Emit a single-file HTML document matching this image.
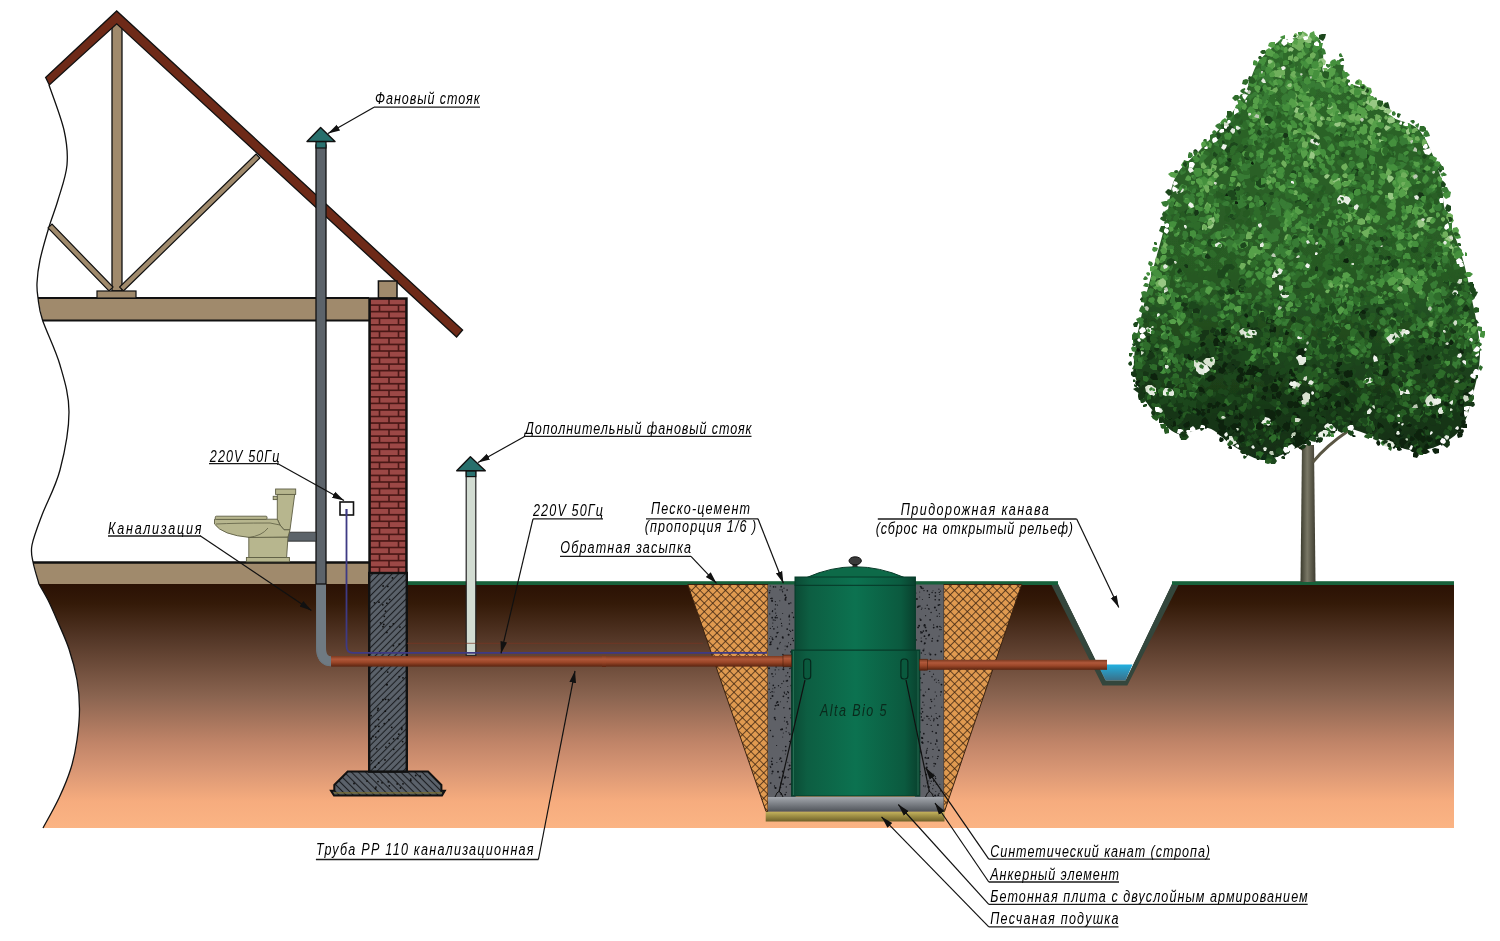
<!DOCTYPE html><html><head><meta charset="utf-8"><style>html,body{margin:0;padding:0;background:#fff;width:1500px;height:941px;overflow:hidden}svg{display:block;will-change:transform}text{font-family:"Liberation Sans",sans-serif;font-style:italic}</style></head><body>
<svg width="1500" height="941" viewBox="0 0 1500 941">
<defs>
<linearGradient id="soil" x1="0" y1="584" x2="0" y2="828" gradientUnits="userSpaceOnUse"><stop offset="0" stop-color="#2a1104"/><stop offset="0.08" stop-color="#341a08"/><stop offset="0.23" stop-color="#553828"/><stop offset="0.46" stop-color="#8a6450"/><stop offset="0.65" stop-color="#c08468"/><stop offset="0.76" stop-color="#d89674"/><stop offset="0.89" stop-color="#f6ac7e"/><stop offset="1" stop-color="#fbb484"/></linearGradient>
<pattern id="xhatch" width="6" height="6" patternUnits="userSpaceOnUse" patternTransform="rotate(45)"><rect width="6" height="6" fill="#e09a50"/><path d="M0 0H6M0 0V6" stroke="#3a2210" stroke-width="1.5"/></pattern>
<pattern id="fhatch" width="4.6" height="4.6" patternUnits="userSpaceOnUse" patternTransform="rotate(-45)"><rect width="4.6" height="4.6" fill="#5b626b"/><path d="M0 2.3H4.6" stroke="#1c1e22" stroke-width="1.1"/></pattern><pattern id="fhatch2" width="5" height="5" patternUnits="userSpaceOnUse" patternTransform="rotate(45)"><rect width="5" height="5" fill="#5b626b"/><path d="M0 2.5H5" stroke="#1c1e22" stroke-width="1.1"/></pattern>
<linearGradient id="tankg" x1="0" y1="0" x2="1" y2="0"><stop offset="0" stop-color="#0b4a34"/><stop offset="0.12" stop-color="#0d5e42"/><stop offset="0.5" stop-color="#0c7250"/><stop offset="0.88" stop-color="#0b5a3f"/><stop offset="1" stop-color="#09402d"/></linearGradient>
<linearGradient id="pipeg" x1="0" y1="0" x2="0" y2="1"><stop offset="0" stop-color="#7a3a20"/><stop offset="0.3" stop-color="#b0583a"/><stop offset="0.6" stop-color="#9a4628"/><stop offset="1" stop-color="#5a2410"/></linearGradient>
<linearGradient id="plateg" x1="0" y1="0" x2="0" y2="1"><stop offset="0" stop-color="#a4a8ae"/><stop offset="1" stop-color="#4e5258"/></linearGradient>
<linearGradient id="sandg" x1="0" y1="0" x2="0" y2="1"><stop offset="0" stop-color="#c4b25c"/><stop offset="1" stop-color="#6e6028"/></linearGradient>
<linearGradient id="waterg" x1="0" y1="0" x2="0" y2="1"><stop offset="0" stop-color="#22b0e0"/><stop offset="1" stop-color="#3a7088"/></linearGradient>
<linearGradient id="trunkg" x1="0" y1="0" x2="1" y2="0"><stop offset="0" stop-color="#3a3a2c"/><stop offset="0.45" stop-color="#7a7866"/><stop offset="1" stop-color="#3e3c30"/></linearGradient>
<marker id="arr" viewBox="0 0 10 10" refX="10" refY="5" markerWidth="12" markerHeight="12" markerUnits="userSpaceOnUse" orient="auto"><path d="M0 2.2L10 5L0 7.8z" fill="#111"/></marker>
</defs>
<path d="M 39 584 L 1053 584 L 1103.5 684.6 L 1126.3 684.6 L 1177.4 584 L 1454 584 L 1454 828 L 43 828  C 45.7 823.0 54.3 808.0 59.0 798.0 C 63.7 788.0 68.0 777.7 71.0 768.0 C 74.0 758.3 75.6 749.8 77.0 740.0 C 78.4 730.2 79.5 719.0 79.5 709.0 C 79.5 699.0 78.8 690.0 77.0 680.0 C 75.2 670.0 72.3 659.0 69.0 649.0 C 65.7 639.0 60.5 628.2 57.0 620.0 C 53.5 611.8 51.0 606.0 48.0 600.0 C 45.0 594.0 40.5 586.7 39.0 584.0 Z" fill="url(#soil)"/>
<path d="M 1053 584 L 1103.5 684.6 L 1126.3 684.6 L 1177.4 584 L 1172 584 L 1125.6 680.5 L 1105.6 680.5 L 1058 584 Z" fill="#3b4c44"/>
<path d="M 1058 582 L 1105.6 680.5 L 1125.6 680.5 L 1172 582 Z" fill="#fff"/>
<path d="M 1097.5 664.6 L 1132.5 664.6 L 1125.6 680.5 L 1105.6 680.5 Z" fill="url(#waterg)"/>
<path d="M 1102.5 685.5 L 1127.3 685.5 L 1179 584 L 1172 584 L 1125.6 680.5 L 1105.6 680.5 L 1058 584 L 1051 584 Z" fill="#34463c"/>
<rect x="407" y="581.2" width="651" height="3.8" fill="#17603a"/>
<rect x="1172" y="581.2" width="282" height="3.8" fill="#17603a"/>
<path d="M 687.7 584.5 L 768 584.5 L 768 811.5 L 766 811.5 Z" fill="url(#xhatch)" stroke="#3a2210" stroke-width="1"/>
<path d="M 943.6 584.5 L 1021.6 584.5 L 944.5 811.5 L 943.6 811.5 Z" fill="url(#xhatch)" stroke="#3a2210" stroke-width="1"/>
<rect x="768" y="584.5" width="27.6" height="213" fill="#5f6167"/>
<rect x="915" y="584.5" width="28.6" height="213" fill="#5f6167"/>
<g fill="#15161a"><circle cx="777.1" cy="617.7" r="0.8"/><circle cx="770.8" cy="698.5" r="0.7"/><circle cx="770.4" cy="692.6" r="0.5"/><circle cx="779.8" cy="600.7" r="0.5"/><circle cx="779.6" cy="759.6" r="0.5"/><circle cx="774.6" cy="717.8" r="1.0"/><circle cx="783.4" cy="669.3" r="1.0"/><circle cx="770.2" cy="766.3" r="0.6"/><circle cx="772.6" cy="610.7" r="0.6"/><circle cx="789.4" cy="624.0" r="0.8"/><circle cx="785.0" cy="664.2" r="0.8"/><circle cx="770.6" cy="598.5" r="0.6"/><circle cx="786.0" cy="675.8" r="0.6"/><circle cx="783.6" cy="681.2" r="0.6"/><circle cx="788.9" cy="732.8" r="0.6"/><circle cx="783.4" cy="696.3" r="0.9"/><circle cx="787.2" cy="646.5" r="1.0"/><circle cx="772.0" cy="673.8" r="0.9"/><circle cx="772.8" cy="688.7" r="0.5"/><circle cx="785.7" cy="746.6" r="0.8"/><circle cx="790.9" cy="651.9" r="0.8"/><circle cx="783.9" cy="707.8" r="0.7"/><circle cx="790.0" cy="784.4" r="0.7"/><circle cx="785.6" cy="598.7" r="0.8"/><circle cx="785.2" cy="794.6" r="0.9"/><circle cx="776.1" cy="667.0" r="0.8"/><circle cx="769.6" cy="683.0" r="0.5"/><circle cx="771.9" cy="598.4" r="0.9"/><circle cx="772.2" cy="638.0" r="0.7"/><circle cx="790.8" cy="602.9" r="0.7"/><circle cx="782.7" cy="771.5" r="0.9"/><circle cx="790.6" cy="644.5" r="0.7"/><circle cx="778.0" cy="771.7" r="1.0"/><circle cx="772.8" cy="623.0" r="0.6"/><circle cx="774.8" cy="687.8" r="0.8"/><circle cx="775.6" cy="586.9" r="0.7"/><circle cx="778.2" cy="704.9" r="1.0"/><circle cx="786.3" cy="694.3" r="0.8"/><circle cx="785.9" cy="597.3" r="0.9"/><circle cx="788.5" cy="769.6" r="0.9"/><circle cx="778.8" cy="669.8" r="0.5"/><circle cx="784.9" cy="599.1" r="0.5"/><circle cx="774.2" cy="620.1" r="0.6"/><circle cx="770.3" cy="586.0" r="0.5"/><circle cx="771.5" cy="662.4" r="0.5"/><circle cx="790.9" cy="715.0" r="0.5"/><circle cx="775.3" cy="659.0" r="0.7"/><circle cx="772.1" cy="764.3" r="1.0"/><circle cx="780.6" cy="687.6" r="0.5"/><circle cx="771.6" cy="658.0" r="0.6"/><circle cx="789.7" cy="619.9" r="0.5"/><circle cx="792.8" cy="696.9" r="0.5"/><circle cx="782.6" cy="591.7" r="0.7"/><circle cx="793.5" cy="767.3" r="0.8"/><circle cx="775.5" cy="663.0" r="0.5"/><circle cx="788.3" cy="697.8" r="0.9"/><circle cx="777.2" cy="632.8" r="0.9"/><circle cx="793.6" cy="765.1" r="0.9"/><circle cx="789.5" cy="741.4" r="0.6"/><circle cx="781.9" cy="660.7" r="0.5"/><circle cx="769.7" cy="644.7" r="0.6"/><circle cx="786.3" cy="786.9" r="0.7"/><circle cx="792.4" cy="793.5" r="1.0"/><circle cx="778.1" cy="632.3" r="0.6"/><circle cx="773.9" cy="628.9" r="0.8"/><circle cx="791.5" cy="762.5" r="0.7"/><circle cx="785.3" cy="753.9" r="0.5"/><circle cx="785.5" cy="777.1" r="0.9"/><circle cx="787.8" cy="686.4" r="0.5"/><circle cx="788.7" cy="655.8" r="0.9"/><circle cx="793.3" cy="669.1" r="0.7"/><circle cx="792.7" cy="738.2" r="0.5"/><circle cx="772.2" cy="617.7" r="0.9"/><circle cx="789.2" cy="616.7" r="0.9"/><circle cx="793.5" cy="724.0" r="0.6"/><circle cx="782.7" cy="613.5" r="0.5"/><circle cx="793.3" cy="722.4" r="0.7"/><circle cx="792.3" cy="677.1" r="0.9"/><circle cx="789.7" cy="630.3" r="0.6"/><circle cx="776.3" cy="636.5" r="0.8"/><circle cx="775.5" cy="674.0" r="0.5"/><circle cx="791.8" cy="660.3" r="0.7"/><circle cx="783.6" cy="775.9" r="0.7"/><circle cx="791.9" cy="691.3" r="0.7"/><circle cx="782.1" cy="589.9" r="0.7"/><circle cx="773.6" cy="586.8" r="0.9"/><circle cx="773.3" cy="685.4" r="0.8"/><circle cx="782.9" cy="654.5" r="0.7"/><circle cx="782.9" cy="750.7" r="0.5"/><circle cx="783.0" cy="638.2" r="0.6"/><circle cx="788.3" cy="692.6" r="0.8"/><circle cx="788.0" cy="777.6" r="0.7"/><circle cx="784.3" cy="692.2" r="0.7"/><circle cx="786.3" cy="681.0" r="0.7"/><circle cx="781.0" cy="783.7" r="0.8"/><circle cx="790.9" cy="783.9" r="0.6"/><circle cx="783.0" cy="784.1" r="0.9"/><circle cx="772.4" cy="611.5" r="0.7"/><circle cx="770.8" cy="636.5" r="0.5"/><circle cx="785.7" cy="750.6" r="0.9"/><circle cx="772.9" cy="736.4" r="0.8"/><circle cx="772.6" cy="771.4" r="1.0"/><circle cx="774.5" cy="786.0" r="0.7"/><circle cx="781.2" cy="793.9" r="0.9"/><circle cx="773.0" cy="676.6" r="0.7"/><circle cx="777.5" cy="627.1" r="0.6"/><circle cx="787.1" cy="590.1" r="0.8"/><circle cx="780.0" cy="589.8" r="0.6"/><circle cx="784.6" cy="693.6" r="0.5"/><circle cx="793.6" cy="751.6" r="1.0"/><circle cx="771.6" cy="641.8" r="0.5"/><circle cx="788.5" cy="642.8" r="0.5"/><circle cx="779.6" cy="777.4" r="0.9"/><circle cx="775.5" cy="617.4" r="1.0"/><circle cx="783.3" cy="733.1" r="0.5"/><circle cx="770.4" cy="730.5" r="0.7"/><circle cx="770.8" cy="783.1" r="0.8"/><circle cx="789.0" cy="603.6" r="0.9"/><circle cx="770.7" cy="767.2" r="0.7"/><circle cx="777.5" cy="702.1" r="1.0"/><circle cx="775.7" cy="613.1" r="0.7"/><circle cx="775.0" cy="609.0" r="0.5"/><circle cx="770.3" cy="628.4" r="0.6"/><circle cx="776.6" cy="745.5" r="0.6"/><circle cx="781.5" cy="623.4" r="0.6"/><circle cx="769.5" cy="638.6" r="0.5"/><circle cx="787.3" cy="701.7" r="0.6"/><circle cx="780.9" cy="782.3" r="0.5"/><circle cx="789.5" cy="676.8" r="0.7"/><circle cx="789.9" cy="668.5" r="0.7"/><circle cx="786.2" cy="792.3" r="0.6"/><circle cx="789.8" cy="734.4" r="0.8"/><circle cx="779.1" cy="659.0" r="0.5"/><circle cx="772.2" cy="600.9" r="0.9"/><circle cx="775.4" cy="620.3" r="0.5"/><circle cx="790.0" cy="768.8" r="0.8"/><circle cx="776.0" cy="636.9" r="0.6"/><circle cx="780.5" cy="619.1" r="0.7"/><circle cx="775.6" cy="788.0" r="1.0"/><circle cx="782.7" cy="637.3" r="1.0"/><circle cx="776.7" cy="660.9" r="0.5"/><circle cx="778.5" cy="685.7" r="0.7"/><circle cx="774.0" cy="692.0" r="0.5"/><circle cx="775.6" cy="604.8" r="0.7"/><circle cx="770.0" cy="590.7" r="0.6"/><circle cx="774.8" cy="709.0" r="0.7"/><circle cx="787.8" cy="724.1" r="0.8"/><circle cx="791.0" cy="667.8" r="0.6"/><circle cx="793.6" cy="617.4" r="0.8"/><circle cx="785.1" cy="595.2" r="0.9"/><circle cx="791.3" cy="717.7" r="0.9"/><circle cx="789.3" cy="615.3" r="0.7"/><circle cx="781.6" cy="761.3" r="0.9"/><circle cx="789.7" cy="708.7" r="0.9"/><circle cx="786.1" cy="731.6" r="0.6"/><circle cx="769.8" cy="613.9" r="0.6"/><circle cx="771.6" cy="761.5" r="0.8"/><circle cx="784.7" cy="717.5" r="0.8"/><circle cx="781.2" cy="586.7" r="0.9"/><circle cx="787.7" cy="691.6" r="0.7"/><circle cx="785.5" cy="599.9" r="0.9"/><circle cx="775.3" cy="601.6" r="0.6"/><circle cx="787.2" cy="629.1" r="0.9"/><circle cx="793.4" cy="689.7" r="0.7"/><circle cx="781.0" cy="729.6" r="0.9"/><circle cx="784.4" cy="721.0" r="0.5"/><circle cx="772.7" cy="639.3" r="0.9"/><circle cx="776.6" cy="705.2" r="0.5"/><circle cx="770.5" cy="642.4" r="0.8"/><circle cx="786.3" cy="727.9" r="0.6"/><circle cx="781.9" cy="683.6" r="0.7"/><circle cx="772.0" cy="773.7" r="0.6"/><circle cx="793.5" cy="782.6" r="0.5"/><circle cx="780.5" cy="758.2" r="1.0"/><circle cx="780.2" cy="642.4" r="0.6"/><circle cx="792.6" cy="630.2" r="0.8"/><circle cx="772.5" cy="696.1" r="1.0"/><circle cx="772.3" cy="758.2" r="0.7"/><circle cx="791.2" cy="733.7" r="0.6"/><circle cx="791.4" cy="688.1" r="0.5"/><circle cx="769.1" cy="689.3" r="0.7"/><circle cx="776.5" cy="615.5" r="0.6"/><circle cx="776.9" cy="762.4" r="0.5"/><circle cx="787.8" cy="762.2" r="0.5"/><circle cx="792.2" cy="735.7" r="0.9"/><circle cx="776.2" cy="664.2" r="0.7"/><circle cx="794.0" cy="709.7" r="0.6"/><circle cx="779.7" cy="643.8" r="0.5"/><circle cx="771.5" cy="761.3" r="0.6"/><circle cx="792.4" cy="638.4" r="0.6"/><circle cx="781.8" cy="625.9" r="0.7"/><circle cx="792.9" cy="771.7" r="0.9"/><circle cx="784.8" cy="777.8" r="1.0"/><circle cx="782.7" cy="737.1" r="0.5"/><circle cx="787.3" cy="680.7" r="0.9"/><circle cx="785.1" cy="646.1" r="0.5"/><circle cx="792.2" cy="612.7" r="0.7"/><circle cx="777.6" cy="648.5" r="0.9"/><circle cx="793.4" cy="640.6" r="0.8"/><circle cx="776.5" cy="703.0" r="0.7"/><circle cx="773.2" cy="619.9" r="0.6"/><circle cx="791.6" cy="690.4" r="0.6"/><circle cx="791.7" cy="795.3" r="0.7"/><circle cx="772.5" cy="626.4" r="0.5"/><circle cx="777.5" cy="605.1" r="0.6"/><circle cx="775.5" cy="705.6" r="0.9"/><circle cx="787.7" cy="672.7" r="0.7"/><circle cx="782.1" cy="665.1" r="0.6"/><circle cx="770.6" cy="644.3" r="1.0"/><circle cx="772.1" cy="691.7" r="0.8"/><circle cx="790.6" cy="631.4" r="0.6"/><circle cx="775.2" cy="669.9" r="0.7"/><circle cx="792.8" cy="764.2" r="0.9"/><circle cx="769.5" cy="592.8" r="0.8"/><circle cx="791.4" cy="685.4" r="0.8"/><circle cx="769.0" cy="668.2" r="1.0"/><circle cx="789.6" cy="765.6" r="1.0"/><circle cx="775.2" cy="608.9" r="0.5"/><circle cx="782.1" cy="729.2" r="1.0"/><circle cx="787.0" cy="721.9" r="0.9"/><circle cx="780.4" cy="701.8" r="0.5"/><circle cx="788.6" cy="634.8" r="1.0"/><circle cx="785.1" cy="649.8" r="0.5"/><circle cx="775.3" cy="719.6" r="0.8"/><circle cx="771.8" cy="600.8" r="0.7"/><circle cx="783.6" cy="667.5" r="0.6"/><circle cx="784.0" cy="588.2" r="0.6"/><circle cx="780.5" cy="787.4" r="0.8"/><circle cx="791.1" cy="685.8" r="0.6"/><circle cx="775.2" cy="787.7" r="0.8"/><circle cx="924.0" cy="590.6" r="0.7"/><circle cx="933.5" cy="674.2" r="0.6"/><circle cx="933.4" cy="780.3" r="0.6"/><circle cx="916.9" cy="657.0" r="0.7"/><circle cx="933.7" cy="627.6" r="0.9"/><circle cx="935.2" cy="692.0" r="0.6"/><circle cx="941.2" cy="651.5" r="0.9"/><circle cx="922.0" cy="632.5" r="0.9"/><circle cx="923.7" cy="785.9" r="0.7"/><circle cx="920.9" cy="632.9" r="0.7"/><circle cx="933.3" cy="785.2" r="0.5"/><circle cx="926.2" cy="630.7" r="1.0"/><circle cx="919.7" cy="596.9" r="0.5"/><circle cx="926.2" cy="774.6" r="0.9"/><circle cx="935.1" cy="795.5" r="1.0"/><circle cx="924.6" cy="625.0" r="1.0"/><circle cx="935.4" cy="592.7" r="0.8"/><circle cx="925.8" cy="664.5" r="0.6"/><circle cx="920.4" cy="586.6" r="0.6"/><circle cx="925.1" cy="786.7" r="0.5"/><circle cx="941.1" cy="629.6" r="0.6"/><circle cx="937.4" cy="758.6" r="0.7"/><circle cx="917.3" cy="685.4" r="0.7"/><circle cx="939.9" cy="626.5" r="0.7"/><circle cx="939.3" cy="592.4" r="0.7"/><circle cx="937.1" cy="747.0" r="0.5"/><circle cx="916.9" cy="599.1" r="1.0"/><circle cx="922.7" cy="742.9" r="0.9"/><circle cx="924.8" cy="643.2" r="1.0"/><circle cx="932.0" cy="641.1" r="0.8"/><circle cx="924.2" cy="643.9" r="0.5"/><circle cx="935.6" cy="778.5" r="0.8"/><circle cx="940.5" cy="591.1" r="0.6"/><circle cx="928.4" cy="786.9" r="1.0"/><circle cx="926.0" cy="638.7" r="0.7"/><circle cx="928.8" cy="780.9" r="0.6"/><circle cx="936.9" cy="741.1" r="0.9"/><circle cx="936.1" cy="713.5" r="0.6"/><circle cx="924.3" cy="662.0" r="0.9"/><circle cx="918.1" cy="627.4" r="0.9"/><circle cx="922.4" cy="599.6" r="0.5"/><circle cx="930.4" cy="654.4" r="1.0"/><circle cx="939.0" cy="793.4" r="0.6"/><circle cx="918.2" cy="606.2" r="0.7"/><circle cx="934.5" cy="679.9" r="0.6"/><circle cx="926.8" cy="716.3" r="0.8"/><circle cx="935.4" cy="763.9" r="0.8"/><circle cx="919.2" cy="762.6" r="0.6"/><circle cx="930.7" cy="664.3" r="0.9"/><circle cx="921.2" cy="638.0" r="0.6"/><circle cx="920.0" cy="771.7" r="0.8"/><circle cx="924.5" cy="669.2" r="1.0"/><circle cx="929.2" cy="634.6" r="0.9"/><circle cx="933.0" cy="794.1" r="0.5"/><circle cx="928.3" cy="758.0" r="0.9"/><circle cx="939.8" cy="594.5" r="0.6"/><circle cx="919.1" cy="625.8" r="1.0"/><circle cx="931.2" cy="781.3" r="0.7"/><circle cx="938.5" cy="680.3" r="0.6"/><circle cx="936.2" cy="784.6" r="0.5"/><circle cx="931.5" cy="716.2" r="0.6"/><circle cx="925.6" cy="615.7" r="0.6"/><circle cx="922.6" cy="711.9" r="0.8"/><circle cx="921.3" cy="588.4" r="0.6"/><circle cx="933.6" cy="624.9" r="0.6"/><circle cx="921.3" cy="753.0" r="0.8"/><circle cx="917.6" cy="607.3" r="0.7"/><circle cx="930.3" cy="720.2" r="0.5"/><circle cx="920.3" cy="732.0" r="0.7"/><circle cx="923.4" cy="650.6" r="1.0"/><circle cx="924.1" cy="705.0" r="0.6"/><circle cx="926.8" cy="767.5" r="1.0"/><circle cx="925.5" cy="627.4" r="0.9"/><circle cx="921.3" cy="587.2" r="0.9"/><circle cx="927.0" cy="758.3" r="0.7"/><circle cx="939.0" cy="682.8" r="0.5"/><circle cx="916.4" cy="701.8" r="0.8"/><circle cx="939.7" cy="604.7" r="0.8"/><circle cx="925.6" cy="691.9" r="0.5"/><circle cx="923.4" cy="695.4" r="1.0"/><circle cx="918.8" cy="689.0" r="0.9"/><circle cx="941.1" cy="627.4" r="0.5"/><circle cx="940.5" cy="790.9" r="0.7"/><circle cx="917.4" cy="780.5" r="0.7"/><circle cx="939.5" cy="716.3" r="0.9"/><circle cx="920.2" cy="751.0" r="0.6"/><circle cx="926.5" cy="763.7" r="0.9"/><circle cx="920.8" cy="631.8" r="0.7"/><circle cx="929.5" cy="666.6" r="0.5"/><circle cx="922.4" cy="738.2" r="0.9"/><circle cx="917.1" cy="704.1" r="0.9"/><circle cx="917.0" cy="762.0" r="0.5"/><circle cx="931.6" cy="701.5" r="0.8"/><circle cx="924.0" cy="674.2" r="0.8"/><circle cx="927.1" cy="724.4" r="0.7"/><circle cx="927.4" cy="590.9" r="0.8"/><circle cx="928.7" cy="635.4" r="0.9"/><circle cx="936.3" cy="682.2" r="0.5"/><circle cx="928.3" cy="608.5" r="0.5"/><circle cx="927.2" cy="605.3" r="0.7"/><circle cx="929.3" cy="594.6" r="0.8"/><circle cx="918.1" cy="740.0" r="0.9"/><circle cx="929.3" cy="597.4" r="0.7"/><circle cx="925.8" cy="785.7" r="0.5"/><circle cx="938.3" cy="795.2" r="0.9"/><circle cx="937.2" cy="626.7" r="1.0"/><circle cx="928.8" cy="786.9" r="1.0"/><circle cx="920.3" cy="751.6" r="1.0"/><circle cx="917.7" cy="659.7" r="0.9"/><circle cx="920.1" cy="774.3" r="0.6"/><circle cx="937.2" cy="616.2" r="0.7"/><circle cx="939.9" cy="629.7" r="0.6"/><circle cx="929.2" cy="653.0" r="0.5"/><circle cx="920.7" cy="619.9" r="1.0"/><circle cx="933.7" cy="774.0" r="0.5"/><circle cx="936.4" cy="610.2" r="0.7"/><circle cx="932.5" cy="661.6" r="0.9"/><circle cx="930.4" cy="707.8" r="0.9"/><circle cx="918.7" cy="794.5" r="0.8"/><circle cx="926.3" cy="753.5" r="0.6"/><circle cx="941.8" cy="707.2" r="0.6"/><circle cx="935.9" cy="678.9" r="0.5"/><circle cx="935.3" cy="596.1" r="0.9"/><circle cx="922.6" cy="720.2" r="1.0"/><circle cx="931.2" cy="725.4" r="0.6"/><circle cx="916.0" cy="593.1" r="0.5"/><circle cx="932.0" cy="676.8" r="0.7"/><circle cx="939.3" cy="613.7" r="0.6"/><circle cx="933.0" cy="590.7" r="0.5"/><circle cx="925.2" cy="608.3" r="0.6"/><circle cx="921.8" cy="708.6" r="0.8"/><circle cx="921.3" cy="717.0" r="0.7"/><circle cx="919.5" cy="782.7" r="0.6"/><circle cx="919.9" cy="606.1" r="0.8"/><circle cx="938.7" cy="750.3" r="0.7"/><circle cx="922.9" cy="588.4" r="0.8"/><circle cx="930.6" cy="659.6" r="0.8"/><circle cx="927.5" cy="782.8" r="0.9"/><circle cx="922.5" cy="775.7" r="0.5"/><circle cx="929.8" cy="671.3" r="0.6"/><circle cx="917.5" cy="749.6" r="0.5"/><circle cx="930.3" cy="783.6" r="0.5"/><circle cx="921.2" cy="713.7" r="0.7"/><circle cx="932.7" cy="756.8" r="0.5"/><circle cx="924.0" cy="649.1" r="0.5"/><circle cx="939.1" cy="750.4" r="0.8"/><circle cx="916.2" cy="763.3" r="0.9"/><circle cx="928.1" cy="741.8" r="0.7"/><circle cx="921.9" cy="608.1" r="0.6"/><circle cx="917.0" cy="656.5" r="0.9"/><circle cx="934.1" cy="763.5" r="0.8"/><circle cx="922.9" cy="702.3" r="0.7"/><circle cx="936.5" cy="695.9" r="0.6"/><circle cx="932.7" cy="788.7" r="0.6"/><circle cx="938.9" cy="589.2" r="0.6"/><circle cx="922.1" cy="742.2" r="1.0"/><circle cx="935.4" cy="654.6" r="0.9"/><circle cx="924.5" cy="636.2" r="0.9"/><circle cx="932.4" cy="731.5" r="0.8"/><circle cx="941.5" cy="684.6" r="0.9"/><circle cx="934.1" cy="766.1" r="0.7"/><circle cx="934.8" cy="705.8" r="0.6"/><circle cx="921.5" cy="716.8" r="0.5"/><circle cx="939.7" cy="616.4" r="0.5"/><circle cx="918.8" cy="781.1" r="0.6"/><circle cx="919.7" cy="592.0" r="0.5"/><circle cx="934.0" cy="719.1" r="0.8"/><circle cx="935.2" cy="599.8" r="0.8"/><circle cx="925.4" cy="757.7" r="0.9"/><circle cx="939.2" cy="599.8" r="0.9"/><circle cx="939.8" cy="784.3" r="0.5"/><circle cx="921.3" cy="609.5" r="0.5"/><circle cx="938.0" cy="756.5" r="0.8"/><circle cx="937.5" cy="718.6" r="0.6"/><circle cx="918.6" cy="606.6" r="0.9"/><circle cx="921.3" cy="653.0" r="0.7"/><circle cx="916.5" cy="639.9" r="0.6"/><circle cx="934.6" cy="663.3" r="0.6"/><circle cx="941.1" cy="691.8" r="0.9"/><circle cx="932.1" cy="592.5" r="0.7"/><circle cx="927.3" cy="748.3" r="0.6"/><circle cx="934.3" cy="699.0" r="0.6"/><circle cx="938.4" cy="605.1" r="0.9"/><circle cx="920.4" cy="586.3" r="0.6"/><circle cx="935.8" cy="791.4" r="0.5"/><circle cx="928.8" cy="689.2" r="0.9"/><circle cx="920.8" cy="689.9" r="0.6"/><circle cx="937.6" cy="640.7" r="1.0"/><circle cx="923.4" cy="631.1" r="0.8"/><circle cx="929.0" cy="609.1" r="0.8"/><circle cx="918.1" cy="751.5" r="0.8"/><circle cx="936.5" cy="717.9" r="0.6"/><circle cx="926.4" cy="668.9" r="0.9"/><circle cx="918.2" cy="772.6" r="0.5"/><circle cx="921.4" cy="641.3" r="0.9"/><circle cx="929.0" cy="665.7" r="0.9"/><circle cx="922.1" cy="682.8" r="0.7"/><circle cx="935.6" cy="744.1" r="0.8"/><circle cx="925.1" cy="654.6" r="0.5"/><circle cx="937.9" cy="725.0" r="0.9"/><circle cx="920.4" cy="678.1" r="0.9"/><circle cx="931.1" cy="612.5" r="0.7"/><circle cx="939.0" cy="636.0" r="0.6"/><circle cx="923.8" cy="733.7" r="0.9"/><circle cx="920.0" cy="618.8" r="0.6"/><circle cx="924.5" cy="695.7" r="0.5"/><circle cx="924.5" cy="625.7" r="1.0"/><circle cx="934.9" cy="607.4" r="1.0"/><circle cx="918.6" cy="666.7" r="1.0"/><circle cx="936.7" cy="740.0" r="0.7"/><circle cx="921.1" cy="720.0" r="0.5"/><circle cx="921.4" cy="667.6" r="0.5"/><circle cx="926.4" cy="752.1" r="0.8"/><circle cx="929.0" cy="718.8" r="0.7"/><circle cx="919.7" cy="712.8" r="0.7"/><circle cx="935.3" cy="776.7" r="0.7"/><circle cx="930.9" cy="743.3" r="0.7"/><circle cx="921.9" cy="737.7" r="0.9"/><circle cx="936.1" cy="733.0" r="0.9"/><circle cx="933.7" cy="720.7" r="0.7"/><circle cx="924.1" cy="717.9" r="0.5"/><circle cx="926.9" cy="750.3" r="0.8"/><circle cx="932.4" cy="638.5" r="0.7"/><circle cx="927.8" cy="716.5" r="0.7"/><circle cx="933.6" cy="781.3" r="0.6"/><circle cx="933.0" cy="749.4" r="0.7"/><circle cx="928.7" cy="790.7" r="0.5"/><circle cx="930.1" cy="619.8" r="0.9"/><circle cx="940.5" cy="695.0" r="0.5"/><circle cx="930.9" cy="699.6" r="0.8"/></g>
<rect x="768" y="797" width="175.6" height="14.8" fill="url(#plateg)"/>
<rect x="765.7" y="811.8" width="178.8" height="9.7" fill="url(#sandg)"/>
<rect x="791.6" y="650" width="128.2" height="146" fill="url(#tankg)" stroke="#073a28" stroke-width="1"/>
<path d="M 793.5 651 V 795 M 918 651 V 795" stroke="#3a8a6a" stroke-width="0.8" opacity="0.7"/>
<rect x="795" y="585" width="120.4" height="65" fill="url(#tankg)" stroke="#073a28" stroke-width="1"/>
<path d="M 806.8 577.5 Q 855 556 904.3 577.5 Z" fill="#0d6a48" stroke="#073a28" stroke-width="1"/>
<rect x="795" y="577" width="120.4" height="8.3" fill="url(#tankg)" stroke="#073a28" stroke-width="1"/>
<rect x="852.5" y="562" width="5" height="5" fill="#2a2a2a"/>
<ellipse cx="855.2" cy="560.8" rx="6.2" ry="4" fill="#3a3a3a" stroke="#111" stroke-width="1"/>
<text transform="translate(820 715.7) scale(0.74 1)" font-size="17" fill="#0a2a1c" textLength="89.9" lengthAdjust="spacing">Alta Bio 5</text>
<rect x="803.7" y="659" width="7" height="20" rx="3" fill="#0a5a3e" stroke="#06281c" stroke-width="1.2"/>
<rect x="900.9" y="659" width="7" height="20" rx="3" fill="#0a5a3e" stroke="#06281c" stroke-width="1.2"/>
<path d="M 805 680 L 779 792" stroke="#111" stroke-width="1.2" fill="none"/>
<path d="M 906 680 L 929.5 792" stroke="#111" stroke-width="1.2" fill="none"/>
<path d="M 775 797 Q 779 786 783 797" stroke="#111" stroke-width="1" fill="none"/>
<path d="M 925.5 797 Q 929.5 786 933.5 797" stroke="#111" stroke-width="1" fill="none"/>
<path d="M 38 298 L 369 298 L 369 320.5 L 42.5 320.5 Z" fill="#a08a6c"/>
<path d="M 38 298 L 369 298 M 42.5 320.5 L 369 320.5" stroke="#111" stroke-width="2.2"/>
<path d="M 33 562 L 369 562 L 369 584 L 39 584 Z" fill="#a08a6c"/>
<path d="M 33 562.5 L 369 562.5" stroke="#111" stroke-width="2.4"/>
<path d="M 49.0 85.0 C 51.5 92.5 61.0 116.7 64.0 130.0 C 67.0 143.3 68.0 153.3 67.0 165.0 C 66.0 176.7 61.0 189.7 58.0 200.0 C 55.0 210.3 52.0 217.0 49.0 227.0 C 46.0 237.0 42.0 250.7 40.0 260.0 C 38.0 269.3 37.3 276.7 37.0 283.0 C 36.7 289.3 37.1 291.8 38.0 298.0 C 38.9 304.2 38.8 308.8 42.5 320.0 C 46.2 331.2 55.6 349.7 60.0 365.0 C 64.4 380.3 69.0 394.5 69.0 412.0 C 69.0 429.5 64.5 452.8 60.0 470.0 C 55.5 487.2 46.7 502.5 42.0 515.0 C 37.3 527.5 33.5 537.2 32.0 545.0 C 30.5 552.8 31.8 555.5 33.0 562.0 C 34.2 568.5 38.0 580.3 39.0 584.0" stroke="#111" stroke-width="1.3" fill="none"/>
<path d="M 39.0 584.0 C 40.5 586.7 45.0 594.0 48.0 600.0 C 51.0 606.0 53.5 611.8 57.0 620.0 C 60.5 628.2 65.7 639.0 69.0 649.0 C 72.3 659.0 75.2 670.0 77.0 680.0 C 78.8 690.0 79.5 699.0 79.5 709.0 C 79.5 719.0 78.4 730.2 77.0 740.0 C 75.6 749.8 74.0 758.3 71.0 768.0 C 68.0 777.7 63.7 788.0 59.0 798.0 C 54.3 808.0 45.7 823.0 43.0 828.0" stroke="#111" stroke-width="1.3" fill="none"/>
<path d="M 112 24 L 116.7 19 L 122 24 L 122 291 L 112 291 Z" fill="#a08a6c" stroke="#111" stroke-width="1.3"/>
<path d="M 48.0 227.9 L 109.0 290.9 L 113.0 287.1 L 52.0 224.1 Z" fill="#a08a6c" stroke="#111" stroke-width="1.2"/>
<path d="M 123.4 291.0 L 259.9 158.0 L 256.1 154.0 L 119.6 287.0 Z" fill="#a08a6c" stroke="#111" stroke-width="1.2"/>
<rect x="97" y="291" width="39" height="7" fill="#a08a6c" stroke="#111" stroke-width="1.2"/>
<path d="M 45.6 77.4 L 116.7 11 L 462.6 330 L 456.6 337 L 116.7 23.8 L 49.3 85 Z" fill="#6e2a18" stroke="#111" stroke-width="1.3" stroke-linejoin="miter"/>
<rect x="378.4" y="281" width="18.6" height="17" fill="#a08a6c" stroke="#111" stroke-width="1.5"/>
<g><rect x="369" y="298" width="38" height="275" fill="#4a1816"/><rect x="370.8" y="299.4" width="17.4" height="4.9" fill="#9c4846"/><rect x="389.8" y="299.4" width="15.7" height="4.9" fill="#9c4846"/><rect x="370.5" y="305.9" width="8.2" height="4.9" fill="#9c4846"/><rect x="380.3" y="305.9" width="17.4" height="4.9" fill="#9c4846"/><rect x="399.3" y="305.9" width="6.2" height="4.9" fill="#9c4846"/><rect x="370.8" y="312.5" width="17.4" height="4.9" fill="#9c4846"/><rect x="389.8" y="312.5" width="15.7" height="4.9" fill="#9c4846"/><rect x="370.5" y="319.1" width="8.2" height="4.9" fill="#9c4846"/><rect x="380.3" y="319.1" width="17.4" height="4.9" fill="#9c4846"/><rect x="399.3" y="319.1" width="6.2" height="4.9" fill="#9c4846"/><rect x="370.8" y="325.6" width="17.4" height="4.9" fill="#9c4846"/><rect x="389.8" y="325.6" width="15.7" height="4.9" fill="#9c4846"/><rect x="370.5" y="332.2" width="8.2" height="4.9" fill="#9c4846"/><rect x="380.3" y="332.2" width="17.4" height="4.9" fill="#9c4846"/><rect x="399.3" y="332.2" width="6.2" height="4.9" fill="#9c4846"/><rect x="370.8" y="338.7" width="17.4" height="4.9" fill="#9c4846"/><rect x="389.8" y="338.7" width="15.7" height="4.9" fill="#9c4846"/><rect x="370.5" y="345.3" width="8.2" height="4.9" fill="#9c4846"/><rect x="380.3" y="345.3" width="17.4" height="4.9" fill="#9c4846"/><rect x="399.3" y="345.3" width="6.2" height="4.9" fill="#9c4846"/><rect x="370.8" y="351.8" width="17.4" height="4.9" fill="#9c4846"/><rect x="389.8" y="351.8" width="15.7" height="4.9" fill="#9c4846"/><rect x="370.5" y="358.4" width="8.2" height="4.9" fill="#9c4846"/><rect x="380.3" y="358.4" width="17.4" height="4.9" fill="#9c4846"/><rect x="399.3" y="358.4" width="6.2" height="4.9" fill="#9c4846"/><rect x="370.8" y="364.9" width="17.4" height="4.9" fill="#9c4846"/><rect x="389.8" y="364.9" width="15.7" height="4.9" fill="#9c4846"/><rect x="370.5" y="371.5" width="8.2" height="4.9" fill="#9c4846"/><rect x="380.3" y="371.5" width="17.4" height="4.9" fill="#9c4846"/><rect x="399.3" y="371.5" width="6.2" height="4.9" fill="#9c4846"/><rect x="370.8" y="378.0" width="17.4" height="4.9" fill="#9c4846"/><rect x="389.8" y="378.0" width="15.7" height="4.9" fill="#9c4846"/><rect x="370.5" y="384.6" width="8.2" height="4.9" fill="#9c4846"/><rect x="380.3" y="384.6" width="17.4" height="4.9" fill="#9c4846"/><rect x="399.3" y="384.6" width="6.2" height="4.9" fill="#9c4846"/><rect x="370.8" y="391.1" width="17.4" height="4.9" fill="#9c4846"/><rect x="389.8" y="391.1" width="15.7" height="4.9" fill="#9c4846"/><rect x="370.5" y="397.7" width="8.2" height="4.9" fill="#9c4846"/><rect x="380.3" y="397.7" width="17.4" height="4.9" fill="#9c4846"/><rect x="399.3" y="397.7" width="6.2" height="4.9" fill="#9c4846"/><rect x="370.8" y="404.2" width="17.4" height="4.9" fill="#9c4846"/><rect x="389.8" y="404.2" width="15.7" height="4.9" fill="#9c4846"/><rect x="370.5" y="410.8" width="8.2" height="4.9" fill="#9c4846"/><rect x="380.3" y="410.8" width="17.4" height="4.9" fill="#9c4846"/><rect x="399.3" y="410.8" width="6.2" height="4.9" fill="#9c4846"/><rect x="370.8" y="417.3" width="17.4" height="4.9" fill="#9c4846"/><rect x="389.8" y="417.3" width="15.7" height="4.9" fill="#9c4846"/><rect x="370.5" y="423.9" width="8.2" height="4.9" fill="#9c4846"/><rect x="380.3" y="423.9" width="17.4" height="4.9" fill="#9c4846"/><rect x="399.3" y="423.9" width="6.2" height="4.9" fill="#9c4846"/><rect x="370.8" y="430.4" width="17.4" height="4.9" fill="#9c4846"/><rect x="389.8" y="430.4" width="15.7" height="4.9" fill="#9c4846"/><rect x="370.5" y="437.0" width="8.2" height="4.9" fill="#9c4846"/><rect x="380.3" y="437.0" width="17.4" height="4.9" fill="#9c4846"/><rect x="399.3" y="437.0" width="6.2" height="4.9" fill="#9c4846"/><rect x="370.8" y="443.5" width="17.4" height="4.9" fill="#9c4846"/><rect x="389.8" y="443.5" width="15.7" height="4.9" fill="#9c4846"/><rect x="370.5" y="450.1" width="8.2" height="4.9" fill="#9c4846"/><rect x="380.3" y="450.1" width="17.4" height="4.9" fill="#9c4846"/><rect x="399.3" y="450.1" width="6.2" height="4.9" fill="#9c4846"/><rect x="370.8" y="456.6" width="17.4" height="4.9" fill="#9c4846"/><rect x="389.8" y="456.6" width="15.7" height="4.9" fill="#9c4846"/><rect x="370.5" y="463.2" width="8.2" height="4.9" fill="#9c4846"/><rect x="380.3" y="463.2" width="17.4" height="4.9" fill="#9c4846"/><rect x="399.3" y="463.2" width="6.2" height="4.9" fill="#9c4846"/><rect x="370.8" y="469.7" width="17.4" height="4.9" fill="#9c4846"/><rect x="389.8" y="469.7" width="15.7" height="4.9" fill="#9c4846"/><rect x="370.5" y="476.3" width="8.2" height="4.9" fill="#9c4846"/><rect x="380.3" y="476.3" width="17.4" height="4.9" fill="#9c4846"/><rect x="399.3" y="476.3" width="6.2" height="4.9" fill="#9c4846"/><rect x="370.8" y="482.8" width="17.4" height="4.9" fill="#9c4846"/><rect x="389.8" y="482.8" width="15.7" height="4.9" fill="#9c4846"/><rect x="370.5" y="489.4" width="8.2" height="4.9" fill="#9c4846"/><rect x="380.3" y="489.4" width="17.4" height="4.9" fill="#9c4846"/><rect x="399.3" y="489.4" width="6.2" height="4.9" fill="#9c4846"/><rect x="370.8" y="495.9" width="17.4" height="4.9" fill="#9c4846"/><rect x="389.8" y="495.9" width="15.7" height="4.9" fill="#9c4846"/><rect x="370.5" y="502.5" width="8.2" height="4.9" fill="#9c4846"/><rect x="380.3" y="502.5" width="17.4" height="4.9" fill="#9c4846"/><rect x="399.3" y="502.5" width="6.2" height="4.9" fill="#9c4846"/><rect x="370.8" y="509.0" width="17.4" height="4.9" fill="#9c4846"/><rect x="389.8" y="509.0" width="15.7" height="4.9" fill="#9c4846"/><rect x="370.5" y="515.6" width="8.2" height="4.9" fill="#9c4846"/><rect x="380.3" y="515.6" width="17.4" height="4.9" fill="#9c4846"/><rect x="399.3" y="515.6" width="6.2" height="4.9" fill="#9c4846"/><rect x="370.8" y="522.1" width="17.4" height="4.9" fill="#9c4846"/><rect x="389.8" y="522.1" width="15.7" height="4.9" fill="#9c4846"/><rect x="370.5" y="528.7" width="8.2" height="4.9" fill="#9c4846"/><rect x="380.3" y="528.7" width="17.4" height="4.9" fill="#9c4846"/><rect x="399.3" y="528.7" width="6.2" height="4.9" fill="#9c4846"/><rect x="370.8" y="535.2" width="17.4" height="4.9" fill="#9c4846"/><rect x="389.8" y="535.2" width="15.7" height="4.9" fill="#9c4846"/><rect x="370.5" y="541.8" width="8.2" height="4.9" fill="#9c4846"/><rect x="380.3" y="541.8" width="17.4" height="4.9" fill="#9c4846"/><rect x="399.3" y="541.8" width="6.2" height="4.9" fill="#9c4846"/><rect x="370.8" y="548.3" width="17.4" height="4.9" fill="#9c4846"/><rect x="389.8" y="548.3" width="15.7" height="4.9" fill="#9c4846"/><rect x="370.5" y="554.9" width="8.2" height="4.9" fill="#9c4846"/><rect x="380.3" y="554.9" width="17.4" height="4.9" fill="#9c4846"/><rect x="399.3" y="554.9" width="6.2" height="4.9" fill="#9c4846"/><rect x="370.8" y="561.4" width="17.4" height="4.9" fill="#9c4846"/><rect x="389.8" y="561.4" width="15.7" height="4.9" fill="#9c4846"/><rect x="370.5" y="567.9" width="8.2" height="4.9" fill="#9c4846"/><rect x="380.3" y="567.9" width="17.4" height="4.9" fill="#9c4846"/><rect x="399.3" y="567.9" width="6.2" height="4.9" fill="#9c4846"/></g>
<rect x="369.5" y="298.5" width="37" height="275" fill="none" stroke="#111" stroke-width="2.4"/>
<path d="M 347.7 771.6 L 428 771.6 L 441.4 785 L 441.4 790.7 L 444.8 790.7 L 442 795.5 L 334 795.5 L 331 790.7 L 334.3 790.7 L 334.3 785 Z" fill="url(#fhatch2)" stroke="#111" stroke-width="2"/>
<path d="M 334 792.8 L 442 792.8" stroke="#7a6e30" stroke-width="1.3"/>
<rect x="369.2" y="573" width="37.6" height="198.6" fill="url(#fhatch)" stroke="#111" stroke-width="2.4"/>
<g fill="#111"><circle cx="388.4" cy="699.7" r="0.9"/><circle cx="399.2" cy="676.7" r="0.9"/><circle cx="385.0" cy="759.9" r="0.9"/><circle cx="378.1" cy="708.5" r="0.9"/><circle cx="384.3" cy="723.7" r="0.9"/><circle cx="375.2" cy="767.0" r="0.9"/><circle cx="383.1" cy="586.0" r="0.9"/><circle cx="380.3" cy="652.9" r="0.9"/><circle cx="371.5" cy="656.6" r="0.9"/><circle cx="385.3" cy="711.2" r="0.9"/><circle cx="383.0" cy="626.7" r="0.9"/><circle cx="378.6" cy="719.6" r="0.9"/><circle cx="403.0" cy="677.8" r="0.9"/><circle cx="378.4" cy="731.3" r="0.9"/><circle cx="384.3" cy="616.3" r="0.9"/><circle cx="375.4" cy="726.4" r="0.9"/><circle cx="398.5" cy="698.7" r="0.9"/><circle cx="387.0" cy="684.6" r="0.9"/><circle cx="378.7" cy="763.0" r="0.9"/><circle cx="383.0" cy="699.6" r="0.9"/><circle cx="398.8" cy="734.2" r="0.9"/><circle cx="386.9" cy="632.4" r="0.9"/><circle cx="389.6" cy="599.4" r="0.9"/><circle cx="399.3" cy="644.2" r="0.9"/><circle cx="399.9" cy="627.1" r="0.9"/><circle cx="383.8" cy="624.4" r="0.9"/><circle cx="385.5" cy="611.2" r="0.9"/><circle cx="371.1" cy="715.7" r="0.9"/><circle cx="380.6" cy="622.8" r="0.9"/><circle cx="381.3" cy="668.5" r="0.9"/><circle cx="385.6" cy="699.3" r="0.9"/><circle cx="393.4" cy="645.7" r="0.9"/><circle cx="402.6" cy="741.6" r="0.9"/><circle cx="372.9" cy="736.4" r="0.9"/><circle cx="401.8" cy="727.9" r="0.9"/><circle cx="375.8" cy="737.1" r="0.9"/><circle cx="392.5" cy="577.9" r="0.9"/><circle cx="371.4" cy="760.6" r="0.9"/><circle cx="393.3" cy="623.8" r="0.9"/><circle cx="374.5" cy="602.8" r="0.9"/><circle cx="378.9" cy="726.4" r="0.9"/><circle cx="382.8" cy="604.8" r="0.9"/><circle cx="401.7" cy="729.4" r="0.9"/><circle cx="376.7" cy="748.8" r="0.9"/><circle cx="391.7" cy="727.3" r="0.9"/><circle cx="393.7" cy="749.3" r="0.9"/><circle cx="397.8" cy="738.6" r="0.9"/><circle cx="377.7" cy="710.1" r="0.9"/><circle cx="389.0" cy="719.7" r="0.9"/><circle cx="385.9" cy="747.1" r="0.9"/><circle cx="389.9" cy="626.6" r="0.9"/><circle cx="379.0" cy="602.2" r="0.9"/><circle cx="387.8" cy="586.4" r="0.9"/><circle cx="386.9" cy="603.2" r="0.9"/><circle cx="387.7" cy="672.1" r="0.9"/><circle cx="389.3" cy="743.3" r="0.9"/><circle cx="371.2" cy="738.9" r="0.9"/><circle cx="386.9" cy="684.7" r="0.9"/><circle cx="393.6" cy="738.9" r="0.9"/><circle cx="383.7" cy="656.7" r="0.9"/><circle cx="420.2" cy="776.1" r="0.9"/><circle cx="397.2" cy="783.9" r="0.9"/><circle cx="354.0" cy="783.5" r="0.9"/><circle cx="400.5" cy="788.0" r="0.9"/><circle cx="375.5" cy="788.7" r="0.9"/><circle cx="388.3" cy="781.8" r="0.9"/><circle cx="415.7" cy="775.5" r="0.9"/><circle cx="403.0" cy="783.8" r="0.9"/><circle cx="376.0" cy="787.1" r="0.9"/><circle cx="378.0" cy="781.6" r="0.9"/><circle cx="389.3" cy="785.8" r="0.9"/><circle cx="367.0" cy="781.1" r="0.9"/><circle cx="382.0" cy="782.8" r="0.9"/><circle cx="410.7" cy="779.1" r="0.9"/><circle cx="410.8" cy="780.7" r="0.9"/></g>
<path d="M 321 584 L 321 647 Q 321 661.3 331.4 661.3" stroke="#6f7a82" stroke-width="10" fill="none"/>
<path d="M 316.5 584 L 316.5 647 Q 316.5 665.8 331.4 665.8" stroke="#6a767e" stroke-width="1" fill="none"/>
<rect x="316" y="145" width="10" height="439" fill="#5c636a" stroke="#111" stroke-width="1.3"/>
<rect x="316" y="141.5" width="10" height="6.5" fill="#2a7270" stroke="#111" stroke-width="1.2"/>
<path d="M 307 141.5 L 320.6 127.5 L 335 141.5 Z" fill="#276f6c" stroke="#111" stroke-width="1.4" stroke-linejoin="round"/>
<path d="M 286.6 532.2 L 316 532.2 L 316 541.2 L 286.6 541.2 Q 284 536.7 286.6 532.2 Z" fill="#5c636a" stroke="#222" stroke-width="0.8"/>
<g fill="#b7b68e" stroke="#5e5e44" stroke-width="0.9">
<rect x="246.4" y="557.5" width="43" height="4.3"/>
<path d="M 248.8 537 L 288 537 L 286.6 557.5 L 248.8 557.5 Z"/>
<path d="M 277.3 494.4 L 294.7 494.4 L 290 529.8 L 284 529.8 L 280 525 L 277.3 519.2 Z"/>
<path d="M 214.5 519.2 L 277.3 519.2 L 280 525 L 284 529.8 L 290 529.8 L 288 537 L 250 537.5 Q 222 535 214.5 524 Z"/>
<rect x="215.3" y="516.2" width="51.7" height="3.2" rx="1"/>
<rect x="275.6" y="489" width="20.1" height="5.4"/>
<rect x="273.2" y="496.3" width="4" height="3.3"/>
</g>
<path d="M 216 524 Q 235 523 270 523 L 280 525" stroke="#5e5e44" stroke-width="0.8" fill="none"/>
<path d="M 248 537.5 Q 262 536 268 528" stroke="#5e5e44" stroke-width="0.8" fill="none"/>
<rect x="340" y="502" width="13.5" height="13" fill="#fff" stroke="#111" stroke-width="1.6"/>
<path d="M 346.5 509 L 346.5 515" stroke="#3c3c8c" stroke-width="1.6"/>
<rect x="466.2" y="470.8" width="9.6" height="184.5" fill="#d2dcd2" stroke="#222" stroke-width="1.2"/>
<rect x="466.2" y="470.8" width="9.6" height="5.8" fill="#2a7270" stroke="#111" stroke-width="1.2"/>
<path d="M 456.7 470.8 L 470.4 456.7 L 485.3 470.8 Z" fill="#276f6c" stroke="#111" stroke-width="1.4" stroke-linejoin="round"/>
<rect x="331" y="656" width="452" height="10.6" fill="url(#pipeg)"/>
<rect x="783" y="655" width="8.5" height="11.8" fill="url(#pipeg)" stroke="#4a1e0c" stroke-width="0.6"/>
<rect x="602" y="655.6" width="4" height="11.4" fill="url(#pipeg)"/>
<rect x="919.5" y="659.8" width="187.5" height="10" fill="url(#pipeg)"/>
<rect x="919.5" y="659.2" width="8" height="11" fill="url(#pipeg)" stroke="#4a1e0c" stroke-width="0.6"/>
<path d="M 407 643.3 L 703 643.3" stroke="#7a3422" stroke-width="1.2" opacity="0.55"/>
<path d="M 346.5 509 L 346.5 646 Q 346.5 652.8 353 652.8 L 767 652.8" stroke="#3e3a84" stroke-width="1.8" fill="none"/>
<path d="M 1302 445 L 1314 445 L 1315.5 582 L 1300.5 582 Z" fill="url(#trunkg)"/>
<path d="M 1313 462 Q 1326 446 1348 431" stroke="#5a5644" stroke-width="3" fill="none"/>
<path d="M 1303 450 Q 1290 440 1270 432" stroke="#3a3a2a" stroke-width="2" fill="none"/>
<linearGradient id="crowng" x1="0" y1="40" x2="0" y2="460" gradientUnits="userSpaceOnUse"><stop offset="0" stop-color="#2e682a"/><stop offset="0.55" stop-color="#285a24"/><stop offset="1" stop-color="#112c12"/></linearGradient>
<filter id="tblur" x="-5%" y="-5%" width="110%" height="110%"><feGaussianBlur stdDeviation="0.7"/></filter>
<g filter="url(#tblur)"><path d="M 1270.0 50.0 C 1271.7 48.5 1275.0 43.0 1280.0 41.0 C 1285.0 39.0 1293.7 38.5 1300.0 38.0 C 1306.3 37.5 1314.2 35.3 1318.0 38.0 C 1321.8 40.7 1322.0 48.3 1323.0 54.0 C 1324.0 59.7 1320.7 71.3 1324.0 72.0 C 1327.3 72.7 1339.7 56.7 1343.0 58.0 C 1346.3 59.3 1340.8 75.0 1344.0 80.0 C 1347.2 85.0 1356.8 84.7 1362.0 88.0 C 1367.2 91.3 1370.0 95.2 1375.0 100.0 C 1380.0 104.8 1384.5 111.8 1392.0 117.0 C 1399.5 122.2 1412.0 121.3 1420.0 131.0 C 1428.0 140.7 1435.8 161.8 1440.0 175.0 C 1444.2 188.2 1441.7 197.5 1445.0 210.0 C 1448.3 222.5 1455.8 236.7 1460.0 250.0 C 1464.2 263.3 1466.7 273.3 1470.0 290.0 C 1473.3 306.7 1479.7 332.0 1480.0 350.0 C 1480.3 368.0 1475.3 384.7 1472.0 398.0 C 1468.7 411.3 1466.2 421.8 1460.0 430.0 C 1453.8 438.2 1443.3 443.7 1435.0 447.0 C 1426.7 450.3 1418.3 451.0 1410.0 450.0 C 1401.7 449.0 1395.8 444.7 1385.0 441.0 C 1374.2 437.3 1356.2 428.8 1345.0 428.0 C 1333.8 427.2 1326.8 432.3 1318.0 436.0 C 1309.2 439.7 1301.3 446.0 1292.0 450.0 C 1282.7 454.0 1272.0 460.8 1262.0 460.0 C 1252.0 459.2 1241.0 450.3 1232.0 445.0 C 1223.0 439.7 1217.0 429.8 1208.0 428.0 C 1199.0 426.2 1187.0 436.7 1178.0 434.0 C 1169.0 431.3 1160.3 419.3 1154.0 412.0 C 1147.7 404.7 1143.3 398.7 1140.0 390.0 C 1136.7 381.3 1133.2 375.0 1134.0 360.0 C 1134.8 345.0 1139.8 322.5 1145.0 300.0 C 1150.2 277.5 1160.0 245.3 1165.0 225.0 C 1170.0 204.7 1169.2 190.5 1175.0 178.0 C 1180.8 165.5 1192.0 158.8 1200.0 150.0 C 1208.0 141.2 1217.3 131.7 1223.0 125.0 C 1228.7 118.3 1230.2 115.7 1234.0 110.0 C 1237.8 104.3 1242.2 98.7 1246.0 91.0 C 1249.8 83.3 1253.0 70.8 1257.0 64.0 C 1261.0 57.2 1267.8 52.3 1270.0 50.0 Z" fill="url(#crowng)"/><path fill="#44903e" d="M1288 274l1 -1l3 1l-1 2l-2 1l-2 -1zM1254 187l2 -4l3 -3l4 3l0 5l-5 2zM1347 288l1 2l0 3l-2 0l-2 -2l1 -2zM1184 248l-2 0l-2 -3l3 -2l3 0l0 3zM1320 255l1 -3l4 1l1 3l-3 3l-3 -1zM1289 295l-1 2l-2 1l-2 -3l1 -2l3 -1zM1311 134l-2 -1l-1 -2l1 -2l2 0l1 2zM1235 171l-2 0l-2 -2l1 -3l3 0l2 3zM1142 338l-1 3l-4 -1l-2 -4l3 -4l4 3zM1253 122l-1 -3l2 -2l3 -1l1 4l-3 2zM1181 276l1 4l-2 2l-4 1l-1 -4l2 -3zM1176 232l2 2l0 2l-2 1l-2 -1l0 -3zM1395 180l0 -2l2 -3l2 2l1 2l-2 3zM1322 166l4 2l3 2l-1 4l-4 0l-2 -3zM1326 244l-2 4l-5 -1l-1 -5l3 -3l4 2zM1343 114l0 2l0 2l-2 -1l-1 -1l1 -1zM1298 78l2 2l-3 2l-3 1l-2 -4l3 -2zM1295 213l2 1l1 2l-1 3l-3 -1l-2 -3zM1297 311l-1 1l-2 0l0 -3l2 -1l2 1zM1291 135l2 3l-2 2l-3 -1l-1 -3l2 -2zM1404 209l-2 0l-1 -2l1 -1l2 -1l1 2zM1309 218l3 0l2 3l-2 2l-4 2l0 -5zM1200 169l2 0l0 2l-1 2l-2 0l-1 -2zM1364 111l-2 1l-2 -1l-1 -1l2 -2l2 0zM1162 320l2 -1l2 2l-1 2l-2 1l-1 -2zM1283 145l3 -1l1 2l-1 2l-2 0l-1 -2zM1249 230l5 -1l0 4l0 2l-3 1l-3 -2zM1252 128l-3 1l0 -2l0 -3l3 -1l1 3zM1228 309l1 -4l1 -3l4 2l2 3l-4 3zM1310 303l1 -2l2 -3l3 2l-1 4l-2 1zM1470 342l-3 -2l1 -4l4 -1l2 3l-1 3zM1285 38l-1 2l-2 -1l-2 -2l2 -1l3 -1zM1444 362l3 -3l3 2l0 3l-2 2l-4 0zM1413 273l3 -1l3 1l-1 3l-2 1l-3 0zM1229 316l-2 1l-2 -2l2 -1l2 -1l1 2zM1234 116l-1 2l-3 1l-1 -3l0 -3l4 0zM1424 226l0 -2l1 -1l2 -1l0 2l-1 2zM1256 86l-4 1l-3 -2l1 -3l4 -3l3 3zM1430 156l3 0l4 2l-1 4l-4 -1l-3 -2zM1341 287l-4 -2l2 -3l3 -1l3 2l0 4zM1393 277l-5 -1l-1 -4l4 -2l4 0l-1 3zM1292 218l-3 2l-1 -4l1 -2l2 -2l3 3zM1404 208l3 2l2 4l-5 1l-2 -2l-1 -3zM1414 166l-2 -2l1 -3l3 -1l2 3l0 3zM1350 132l3 0l-1 3l-1 2l-4 -1l1 -3zM1400 262l-1 2l-3 -1l-1 -2l2 -2l3 0zM1273 103l4 1l0 3l-3 2l-3 0l0 -4zM1333 337l-1 2l-3 -1l-1 -2l2 -3l3 1zM1270 242l2 3l-2 4l-4 -2l-3 -3l3 -3zM1409 123l2 2l0 3l-3 1l-3 -3l1 -3zM1163 243l-1 -3l3 -1l1 1l0 2l-1 2zM1226 325l-4 1l-4 -1l1 -4l4 -1l4 1zM1328 280l3 0l2 5l-5 2l-4 -2l1 -4zM1199 255l-3 0l-2 -1l0 -2l2 -1l3 1zM1304 185l1 -3l2 -1l4 0l-1 3l-2 4zM1295 235l2 1l1 1l-1 2l-3 1l0 -3zM1159 297l-2 -2l1 -3l2 1l2 1l-1 2zM1163 237l1 -3l3 0l2 2l-2 2l-2 2zM1311 77l1 1l0 2l-2 -1l-2 -1l2 -1zM1295 66l1 3l-3 4l-3 -3l0 -4l2 -2zM1360 287l2 -1l2 2l-2 2l-2 2l-1 -3zM1408 280l-2 2l-2 -2l0 -2l1 -1l3 0zM1332 166l-4 -2l-2 -4l2 -3l3 1l4 3zM1341 133l1 1l0 3l-3 1l-1 -3l0 -2zM1194 245l0 2l-1 2l-2 -2l0 -1l1 -2zM1309 182l-3 -1l-3 -2l3 -4l4 2l1 3zM1276 350l-2 -3l2 -3l2 -2l4 2l-2 5zM1439 186l3 2l-1 2l-2 2l-2 -1l0 -3zM1388 162l4 -1l2 4l-2 4l-5 0l-1 -5zM1449 232l-1 -3l-1 -3l4 -2l1 3l0 3zM1205 195l-1 2l-2 0l0 -2l1 -1l1 -1zM1340 152l-1 3l-3 0l-1 -2l1 -3l2 0zM1417 163l3 1l0 3l-1 2l-3 0l-2 -3zM1311 54l2 -1l3 0l-1 2l0 3l-3 -1zM1304 100l-4 -3l-1 -4l4 -3l4 2l-1 4zM1429 231l-2 1l-1 -2l2 -2l1 1l2 1zM1331 272l0 -3l1 -2l2 0l2 2l-2 3zM1261 68l0 -2l2 -3l1 3l1 3l-3 1zM1370 138l0 -4l3 -2l3 2l0 3l-3 2zM1264 93l0 -2l2 -2l3 1l-1 3l-2 2zM1256 156l2 -4l3 -1l3 3l-2 2l-3 2zM1313 279l2 -1l2 2l-1 2l-2 0l-2 -2zM1255 101l2 -4l4 2l3 2l-4 3l-3 0zM1283 69l0 -2l2 1l1 2l-2 1l-1 -1zM1393 194l-1 2l-2 1l-2 -2l1 -3l3 1zM1241 106l0 3l-4 3l-2 -4l1 -3l3 -1zM1386 281l-3 -2l2 -5l4 2l3 2l-3 3zM1396 123l2 -1l2 2l-2 3l-3 1l0 -3zM1293 113l-3 0l-2 -2l3 -2l2 0l1 2zM1377 219l-4 0l-2 -2l1 -4l4 -1l1 4zM1443 174l1 1l-2 2l-1 -2l-1 -1l2 -1zM1169 280l-3 3l-3 -1l0 -3l1 -3l3 1zM1295 164l-2 1l-2 -1l1 -2l2 -2l1 2zM1263 250l-1 -3l2 -2l3 0l1 2l-2 2zM1267 122l2 1l-1 1l-2 2l-1 -2l0 -3zM1398 236l-5 0l-2 -4l2 -5l6 1l2 4zM1269 117l3 1l2 3l-2 3l-4 -1l1 -3zM1325 211l-2 -2l2 -2l3 -2l2 3l-2 3zM1288 286l1 2l1 1l-2 1l-1 -1l0 -1zM1344 87l4 -1l2 4l-2 3l-4 0l-1 -3zM1338 285l-1 2l-2 2l-1 -2l0 -2l2 -2zM1361 302l2 2l-2 2l-3 1l-2 -4l2 -2zM1290 133l3 2l0 4l-3 1l-4 -2l1 -4zM1290 159l0 4l-3 1l-2 -4l0 -3l4 1zM1279 315l2 -1l2 1l0 2l-2 0l-1 0zM1182 184l5 2l0 4l-3 1l-3 0l-2 -4zM1236 233l1 4l-4 2l-3 -3l-1 -4l4 -2zM1185 251l1 -2l3 1l1 3l-2 3l-3 -2zM1317 53l-4 -1l-1 -3l1 -2l3 -1l2 3zM1235 241l2 -3l2 3l1 2l-3 3l-4 -2zM1345 112l3 -1l1 3l0 3l-4 1l-2 -3zM1224 160l-2 -2l-1 -3l3 0l4 0l-2 4zM1415 134l1 2l-2 2l-2 0l-1 -3l2 -1zM1311 65l2 -1l2 1l0 2l-2 1l-2 -1zM1390 143l-1 3l-3 -1l-1 -2l1 -2l2 0zM1249 263l-1 -2l2 -1l2 2l0 2l-2 1zM1399 178l-3 -2l-1 -3l3 -2l4 1l1 5zM1364 264l-1 4l-2 4l-4 -1l0 -5l2 -2zM1407 177l-3 1l-1 -2l0 -2l2 -1l2 1zM1323 216l-2 -1l1 -3l2 -1l1 3l0 2zM1389 292l3 1l2 1l-1 2l-2 0l-2 -1zM1324 70l3 1l4 2l-2 3l-4 0l-2 -2zM1414 223l3 -2l3 1l0 2l-1 2l-4 1zM1435 296l-1 -4l1 -3l4 -1l2 3l-2 3zM1341 176l1 4l-2 3l-4 -1l0 -3l2 -3zM1228 273l0 2l-1 2l-2 -1l-1 -2l2 -2zM1248 85l1 -4l3 -3l2 3l2 4l-4 2zM1248 171l-2 3l-4 -2l-2 -5l4 -3l3 3zM1346 281l1 -4l4 0l2 2l0 4l-4 0zM1357 355l-1 -2l0 -2l2 -1l2 2l-1 2zM1348 131l-1 -2l0 -3l2 1l3 1l-1 2zM1253 278l3 1l1 3l-2 2l-3 1l-1 -4zM1314 294l0 2l-1 4l-3 -2l-1 -3l2 -3zM1261 250l2 -1l2 1l0 2l-2 1l-1 -1zM1314 111l0 3l-2 1l-3 0l-1 -4l3 -1zM1401 230l2 -1l2 1l0 1l-2 2l-1 -1zM1364 108l-3 -2l2 -4l4 0l2 3l-1 3zM1204 223l-1 -3l2 -1l2 2l0 1l-1 1zM1336 224l-2 1l-1 -2l0 -2l3 -1l2 2zM1249 129l3 -1l3 2l-2 4l-4 1l-1 -4zM1430 293l1 -3l3 2l1 2l-2 1l-3 1zM1282 45l-1 1l-2 -1l0 -2l2 0l1 1zM1379 220l3 0l1 2l-1 3l-3 -1l-1 -2zM1165 332l-3 -2l-2 -3l2 -2l3 0l1 3zM1281 137l-3 -1l1 -3l2 0l3 0l-1 2zM1397 179l4 3l-2 4l-3 2l-2 -3l-1 -4zM1313 73l2 0l2 2l-1 2l-3 0l-1 -2zM1460 249l0 2l-1 3l-2 -1l-1 -3l2 0zM1441 293l-2 -3l3 -2l3 1l0 2l-2 3zM1457 239l-3 -2l1 -4l3 1l2 1l1 3zM1166 336l-1 -4l3 -3l3 2l1 3l-2 2zM1304 296l3 -1l2 1l-2 3l-1 0l-3 -1zM1383 179l2 1l0 3l-3 3l-4 -3l1 -4zM1190 192l0 -1l0 -2l2 0l1 2l0 2zM1267 92l-3 0l0 -3l1 -1l3 -1l1 3zM1386 294l-2 1l-1 -2l1 -2l2 0l1 2zM1376 285l2 -1l3 -1l-1 3l0 1l-2 -1zM1184 298l-2 2l-2 -2l1 -2l2 -1l2 1z"/><path fill="#0c240e" d="M1149 365l2 -3l2 2l1 3l-2 0l-3 0zM1237 431l-2 -2l1 -3l3 0l1 3l-1 2zM1296 421l-2 -3l0 -4l4 0l2 3l0 3zM1410 443l2 -2l2 1l1 2l-2 2l-2 -2zM1221 334l-2 3l-3 0l-3 -2l2 -3l3 0zM1379 440l1 2l0 3l-2 1l-2 -3l1 -2zM1207 413l0 -3l1 -1l2 0l0 2l0 2zM1205 410l-2 2l-2 -1l0 -2l1 -1l2 -1zM1294 376l-2 2l-2 -1l0 -2l2 -1l1 1zM1466 385l1 -3l3 0l1 2l-1 3l-3 1zM1141 384l-2 3l-3 -2l-1 -2l1 -2l4 -1zM1248 383l-3 0l-1 -1l0 -2l2 -2l1 2zM1295 439l-3 -2l1 -5l4 0l2 4l-1 3zM1219 370l-2 -1l1 -3l2 0l2 2l-1 2zM1317 414l3 1l-2 3l-2 0l-1 -2l0 -2zM1234 370l-4 -2l0 -4l3 -2l3 2l2 3zM1182 429l-2 0l-2 -2l1 -3l3 1l1 2zM1252 305l-2 -1l1 -3l3 -2l2 4l-1 3zM1418 437l1 -1l2 1l0 2l-2 2l-2 -2zM1414 434l3 -1l2 2l0 3l-3 0l-2 -1zM1472 385l-3 2l-2 -3l0 -3l3 0l2 2zM1447 440l2 1l1 1l-1 2l-3 -1l0 -2zM1274 318l0 3l-2 2l-2 -2l0 -2l2 -2zM1201 414l-3 2l-2 -2l1 -3l2 -1l2 1zM1278 425l3 3l2 3l-4 3l-4 -2l0 -5zM1302 435l-2 3l-3 0l0 -3l1 -1l2 -1zM1252 392l3 -1l1 3l-1 3l-3 0l-1 -3zM1340 367l-3 0l-1 -3l2 -2l4 0l0 3zM1251 367l-2 4l-2 -3l-3 -3l4 -2l3 2zM1268 422l2 1l3 1l-2 3l-4 0l-2 -3zM1223 431l0 3l-2 1l-4 -1l1 -3l3 -1zM1221 434l2 -3l3 1l0 3l-1 2l-2 -1zM1443 444l-2 1l-2 -2l1 -2l2 -1l2 2zM1216 408l-4 1l0 -4l0 -4l4 0l1 4zM1279 381l-1 -2l1 -4l3 2l1 2l-1 3zM1235 412l-2 -2l0 -4l4 -1l1 4l0 2zM1299 446l-4 -1l1 -4l3 -3l5 3l-2 4zM1166 415l3 -2l3 1l1 3l-3 3l-4 -1zM1288 430l1 -3l3 -1l2 3l-1 4l-4 1zM1371 425l3 1l2 2l-2 4l-3 -1l-3 -3zM1309 410l0 2l-3 -1l0 -2l1 -2l2 1zM1417 450l-2 2l-3 0l-2 -2l3 -2l2 0zM1272 438l0 -2l3 -1l2 2l0 3l-3 1zM1413 446l-2 2l-3 -2l0 -2l2 -2l3 1zM1300 425l2 -1l1 3l-1 2l-2 0l-1 -2zM1201 347l-1 -3l2 -2l2 0l2 2l-2 2zM1145 350l4 -1l3 1l-1 2l-2 2l-2 -1zM1246 325l1 -3l3 1l1 2l-1 2l-3 0zM1327 422l2 2l-1 2l-3 1l-1 -2l0 -3zM1338 375l-2 -2l1 -2l2 -1l2 2l-1 2zM1228 411l3 0l0 4l-2 2l-3 -1l0 -4zM1274 436l0 -4l2 -2l3 1l2 3l-3 3zM1443 444l-1 2l-2 -2l0 -2l2 -1l2 2zM1325 401l-1 1l-3 1l0 -3l2 -1l2 0zM1288 426l-2 0l-1 -2l1 -2l2 0l1 2zM1294 376l1 -1l3 1l0 3l-3 1l-1 -2zM1333 414l2 -3l3 1l1 2l-2 1l-2 1zM1301 431l3 0l4 3l-4 2l-2 0l-4 -2zM1136 350l0 -2l2 0l2 1l0 2l-2 1zM1228 430l4 -1l2 4l-4 2l-4 1l-1 -5zM1144 348l-2 0l0 -2l1 -1l2 0l1 2zM1335 369l3 -1l2 2l0 4l-4 1l-3 -2zM1182 431l-1 -4l1 -4l4 0l2 3l-2 3zM1287 431l-2 1l-1 0l-1 -2l1 0l2 0zM1219 422l-3 -1l-2 -3l3 -3l4 0l0 4zM1417 418l1 -2l2 -1l2 2l-1 2l-2 0zM1305 439l-4 -2l2 -3l2 -1l2 2l1 3zM1316 401l-2 -2l1 -2l2 -2l4 2l-2 3zM1231 405l4 3l-3 4l-4 2l-2 -5l2 -3z"/><path fill="#98c884" d="M1323 58l3 3l-1 4l-5 1l-2 -4l1 -3zM1385 113l-2 -2l2 -1l2 -1l1 2l-1 2zM1201 231l0 -4l3 -3l3 2l0 3l-2 3zM1366 108l1 -3l2 -1l3 2l0 3l-4 2zM1332 107l-3 -2l0 -3l3 -1l1 1l0 2zM1381 110l-4 -2l1 -5l5 0l4 3l-2 4zM1410 131l0 3l-3 1l-1 -3l0 -2l3 -2zM1297 37l3 0l0 2l-2 3l-3 -1l0 -3zM1324 177l1 -2l2 -1l3 1l-2 3l-2 1zM1312 101l1 3l-3 3l-3 -3l1 -3l2 -2zM1379 131l2 2l-1 3l-2 0l-1 -2l0 -2zM1303 112l-1 2l-2 0l-2 -2l2 -2l2 0z"/><path fill="#387c34" d="M1264 97l0 -4l4 0l2 2l0 4l-4 0zM1299 146l-2 0l-1 -3l3 -2l2 1l1 3zM1195 203l-4 1l-2 -2l-2 -5l5 -2l3 3zM1198 336l-3 1l-4 -2l1 -5l5 -1l4 4zM1297 76l4 0l2 3l-2 3l-3 -1l-2 -2zM1235 113l0 -4l4 -2l1 4l1 2l-3 2zM1266 238l-4 -3l3 -4l4 0l3 4l-2 5zM1261 66l3 -1l2 1l0 4l-3 0l-2 -1zM1338 239l4 -2l2 5l-2 4l-4 -2l-2 -2zM1317 373l-1 -2l-1 -2l3 -2l3 2l0 4zM1418 327l0 -3l3 -1l5 0l-2 4l-3 2zM1417 330l-1 -3l3 0l1 1l1 3l-3 0zM1187 189l1 -2l2 0l1 1l0 3l-3 0zM1422 160l1 4l-4 2l-3 -3l0 -4l4 -2zM1291 245l2 0l3 1l-1 4l-4 1l-2 -3zM1331 97l3 2l2 4l-4 3l-4 -3l0 -4zM1341 188l-1 4l-4 0l-1 -3l0 -3l4 -1zM1184 238l-2 -3l1 -4l4 0l1 2l0 4zM1384 181l-5 -2l2 -4l3 -2l4 1l-2 3zM1248 160l4 -2l4 2l-1 4l-3 2l-2 -2zM1170 213l-1 -4l3 -2l5 1l0 5l-4 1zM1392 320l4 1l-3 3l-3 3l-1 -4l1 -3zM1325 246l1 4l-3 2l-3 -1l-2 -3l3 -2zM1335 122l2 3l-3 2l-4 0l0 -4l2 -3zM1425 178l1 -1l2 0l1 3l-2 1l-2 0zM1161 314l-2 4l-2 2l-2 -2l-3 -3l4 -3zM1351 181l3 2l-2 3l-2 1l-3 -2l1 -4zM1287 280l-2 -2l3 -2l2 -1l1 3l-1 2zM1258 108l-3 -3l1 -5l4 2l3 1l-1 3zM1247 240l-2 -2l1 -2l2 1l1 1l-1 2zM1175 337l1 4l-4 1l-3 -2l0 -4l3 0zM1329 144l-3 -3l-3 -4l5 -1l2 1l2 3zM1240 129l0 -4l3 0l2 1l1 3l-3 1zM1435 328l-2 -2l3 -2l2 0l2 4l-3 1zM1350 91l-2 -1l-1 -1l2 -1l3 0l-1 2zM1321 175l-1 -1l0 -2l2 -2l3 2l-1 3zM1246 168l0 -3l1 -2l3 0l1 3l-2 2zM1392 250l-3 1l-2 -1l-2 -3l3 -1l4 0zM1468 312l1 2l-1 3l-3 2l-2 -3l1 -4zM1330 128l0 -4l4 -2l2 3l1 5l-4 -1zM1408 354l0 -4l3 2l1 2l0 3l-4 0zM1428 319l2 -2l2 0l2 2l-1 3l-4 0zM1202 222l-4 -1l2 -4l3 0l2 2l0 3zM1465 285l1 3l-1 2l-3 0l-1 -3l1 -2zM1456 369l-4 -4l1 -5l5 -1l3 4l-1 3zM1316 190l-2 1l-3 0l0 -2l2 -2l2 1zM1315 184l-1 3l-3 2l-2 -2l1 -3l2 -1zM1290 238l4 0l0 4l0 3l-3 -1l-3 -2zM1293 111l-3 1l-3 -2l0 -4l4 -3l3 4zM1247 196l1 4l-4 2l-4 -1l0 -4l3 -3zM1378 367l-1 -2l1 -1l1 -1l1 1l0 2zM1229 249l0 -5l3 -3l4 0l1 4l-3 3zM1211 211l-3 0l-3 -1l2 -3l3 -2l2 4zM1280 88l3 -2l4 1l0 4l-3 3l-3 -2zM1251 232l-4 2l-3 -3l0 -2l2 -3l3 2zM1333 85l-3 1l-4 -2l1 -4l4 -1l2 3zM1291 237l-1 2l-1 3l-2 -1l-1 -3l2 -1zM1408 273l-4 -1l1 -3l2 -2l3 1l0 3zM1202 249l-1 2l-2 0l-2 -2l1 -2l3 -1zM1448 285l-3 -1l-2 -3l2 -3l4 1l1 3zM1339 56l0 -2l2 -1l1 2l1 2l-3 0zM1380 282l-2 1l-3 -1l1 -3l2 -1l2 1zM1411 230l-2 2l-2 -1l-2 -2l2 -1l2 -1zM1217 221l-5 0l1 -4l1 -4l4 1l1 4zM1341 161l1 3l-2 1l-2 -1l-1 -2l2 -1zM1267 210l-2 0l-2 0l-1 -3l3 0l2 0zM1379 320l4 -3l2 2l2 4l-3 3l-4 -2zM1350 136l-2 -2l2 -3l3 0l1 3l-1 3zM1200 309l1 3l-1 3l-3 0l-3 -3l2 -3zM1311 157l-3 0l-1 -2l0 -3l3 0l3 2zM1230 294l3 -1l2 3l-2 2l-3 2l-2 -4zM1210 169l-2 3l-3 2l-3 -4l2 -3l4 -2zM1185 171l-2 1l-2 -2l1 -1l2 -1l1 2zM1398 234l-1 3l-1 1l-2 -1l0 -2l1 -3zM1404 217l-1 -3l3 -1l1 2l0 2l-1 2zM1261 142l1 -2l3 0l0 2l0 2l-3 0zM1277 109l1 2l-2 2l-3 -1l0 -3l2 -1zM1164 280l-2 -2l2 -2l2 -1l2 3l-2 2zM1167 250l-2 -1l-1 -2l3 -2l3 1l0 4zM1236 308l2 0l1 2l-1 2l-3 0l0 -3zM1289 147l2 2l2 2l-3 2l-3 -1l0 -3zM1242 109l-2 3l-2 2l-3 -2l1 -3l2 -1zM1307 90l1 -2l2 1l1 1l-1 2l-2 0zM1361 143l-2 -1l0 -2l2 -1l2 1l0 3zM1337 293l2 1l0 2l-1 1l-2 0l0 -2zM1414 274l-2 0l1 -2l2 -1l1 1l0 2zM1286 151l3 -3l2 -2l1 3l0 2l-3 1zM1289 181l5 1l-1 5l-4 1l-3 -2l-1 -4zM1391 278l2 0l0 2l-1 2l-2 0l0 -2zM1323 48l2 2l1 4l-4 1l-2 -2l0 -3zM1298 237l-2 4l-4 -2l0 -3l2 -2l3 0zM1222 137l-3 3l-3 1l-4 -1l3 -3l3 -3zM1301 343l-3 -3l-2 -4l4 -3l4 2l1 5zM1287 258l1 -4l3 0l4 2l-2 3l-3 1zM1151 302l1 -2l2 1l2 2l-2 2l-3 -1zM1144 344l-1 3l-3 -1l-2 -2l2 -3l3 1zM1205 294l-1 2l-3 -1l0 -2l2 -2l2 0zM1310 84l3 3l-3 3l-3 2l-3 -3l1 -4zM1262 186l2 0l1 2l-2 2l-2 -1l0 -1zM1403 167l-3 2l-4 0l1 -4l2 -2l2 1zM1349 203l-2 1l-1 -3l0 -1l2 0l1 1zM1402 160l0 -3l3 -3l3 2l1 4l-3 3zM1163 353l1 -3l2 1l3 2l-3 2l-3 1zM1417 235l1 -4l5 1l0 5l-1 4l-4 -2zM1302 88l0 -3l2 -2l2 2l0 2l-1 2zM1284 251l-4 3l-3 1l-3 -3l2 -5l4 0zM1337 298l4 0l0 5l-3 3l-4 -3l0 -4zM1245 160l1 -3l3 2l1 2l-2 3l-3 -2zM1333 127l-1 4l-4 1l-3 -3l3 -2l2 -3zM1369 209l-1 -1l1 -2l1 0l2 1l-1 2zM1415 152l-2 0l-2 -2l1 -1l2 0l2 1zM1209 222l-3 -1l-3 -3l4 -3l4 1l2 3zM1405 141l-3 2l-2 -2l-1 -4l4 -2l2 3zM1235 344l-2 -4l3 -4l4 1l1 4l-2 4zM1360 239l2 -4l4 0l1 4l-1 3l-4 -1zM1245 277l1 2l-2 2l-2 -1l-1 -2l2 -1zM1451 295l1 -1l2 -1l1 2l-1 2l-2 0zM1340 111l2 4l-1 4l-5 0l-1 -3l1 -3zM1433 306l-4 2l-3 -2l0 -4l4 -2l2 3zM1469 289l2 -1l1 3l-2 1l-3 0l0 -2zM1291 78l-2 -2l3 -2l3 1l1 3l-3 1zM1219 260l4 -3l4 2l-1 4l-2 3l-3 -3zM1418 281l-3 1l-3 -3l2 -2l3 -1l2 2zM1270 75l-3 -2l2 -4l4 0l2 4l-2 3zM1475 339l-2 -1l-1 -2l1 -1l2 0l1 2zM1213 234l2 -2l4 1l0 3l-3 3l-3 -2zM1348 195l-4 1l-2 -4l2 -4l4 0l3 3zM1336 330l2 -2l3 0l0 3l-1 2l-3 -1zM1376 262l-2 -2l0 -2l3 0l2 0l-1 3zM1443 327l3 -2l2 2l1 2l-2 4l-3 -3zM1222 263l-3 -1l1 -3l2 -2l2 1l1 3zM1302 34l1 2l-1 2l-2 0l-2 -1l1 -3zM1393 320l4 -2l3 4l0 4l-4 0l-3 -2zM1302 244l2 -3l2 2l1 3l-2 2l-3 -2zM1169 279l-1 3l-4 -2l-1 -3l3 -2l3 0zM1266 206l-1 2l-2 -1l-2 -1l2 -2l2 -1zM1292 222l-4 0l-4 -1l2 -4l3 0l4 0zM1267 88l2 2l0 2l-1 1l-3 0l0 -3zM1313 163l2 0l1 3l-3 1l-2 -1l0 -3zM1273 242l-1 -4l1 -3l4 -2l2 4l-1 4zM1457 253l3 0l0 3l-1 4l-4 -2l-1 -3zM1429 170l-2 -3l3 -3l4 0l0 4l-1 4zM1251 123l-2 3l-4 2l0 -5l1 -3l3 0zM1332 169l-1 -3l3 0l1 1l1 3l-3 1zM1240 155l2 5l-3 4l-5 0l-2 -5l3 -4zM1246 271l-2 3l-4 1l-1 -3l1 -3l4 -3zM1401 194l-1 2l-2 2l-2 -2l1 -2l2 -2zM1353 198l-3 0l-2 -2l1 -3l3 0l1 2zM1272 128l2 -1l3 2l-1 3l-3 2l-3 -3zM1250 174l0 4l-3 1l-5 0l1 -4l3 -3zM1202 250l-1 2l-2 -1l-1 -2l2 -2l2 1zM1407 148l-2 -3l3 -3l4 1l2 4l-4 4zM1336 135l2 1l-1 2l-1 1l-2 -1l0 -2zM1258 130l3 -2l3 1l-1 3l-2 1l-3 0zM1406 281l-3 -3l3 -3l4 -2l1 4l-1 4zM1449 303l3 4l-3 2l-3 2l-2 -3l1 -4zM1355 292l2 -2l2 2l0 3l-3 1l-3 -2zM1298 172l-3 1l-2 -3l1 -3l4 -1l3 3zM1169 356l0 -3l2 -2l2 2l1 2l-2 2zM1216 234l0 3l-2 3l-3 -1l-1 -3l3 -2zM1293 261l1 3l-1 2l-3 0l-2 -2l2 -2zM1196 311l0 2l-1 1l-3 0l0 -2l2 -2zM1404 385l-1 0l-2 0l-1 -2l2 -1l2 0zM1260 138l1 2l0 2l-2 1l-1 -1l-1 -2zM1284 112l-1 2l-2 1l-1 -2l0 -2l2 0zM1311 67l3 0l2 3l-3 3l-3 -1l0 -3zM1280 290l3 1l1 3l-3 2l-2 -2l0 -2zM1164 365l-3 2l-3 -3l1 -4l4 0l3 2zM1439 272l2 2l-2 2l-2 1l0 -3l0 -2zM1191 391l0 -4l1 -3l4 0l3 3l-3 3zM1350 300l-1 -2l0 -2l3 0l2 2l-2 2zM1414 219l3 -1l2 3l-1 4l-5 1l-3 -4zM1195 369l-3 1l0 -3l1 -2l2 1l1 2zM1180 393l2 0l2 3l-3 2l-2 -1l-1 -2zM1165 383l1 -5l4 2l1 2l-1 3l-4 2zM1201 209l1 -1l2 0l0 2l-1 1l-2 0zM1280 346l-3 -1l-2 -3l2 -3l4 1l2 3zM1244 302l-3 0l-1 -3l2 -2l2 1l1 2zM1182 224l-3 -3l0 -3l4 -1l3 2l-2 3zM1259 244l-4 -3l1 -4l4 -2l4 3l-1 4zM1317 72l-2 -3l0 -4l3 -2l3 3l0 4zM1373 228l0 4l-4 2l-2 -3l0 -4l3 0zM1361 147l3 4l-2 4l-5 1l-2 -3l1 -5z"/><path fill="#2e6c2c" d="M1263 80l-2 0l-1 -2l1 -1l2 -1l1 1zM1330 265l3 1l1 2l-2 3l-2 -1l-1 -3zM1417 278l2 1l-1 2l-1 1l-3 0l1 -3zM1274 342l-3 0l-1 -4l3 -2l2 1l1 3zM1327 372l2 2l-1 2l-2 1l-2 -2l0 -3zM1289 241l3 1l2 1l-3 2l-2 0l-1 -2zM1428 332l-1 3l-4 0l-1 -3l2 -3l3 0zM1443 246l4 -1l1 4l0 4l-5 0l-1 -4zM1206 320l-2 -1l-1 -3l2 -1l3 1l-1 2zM1306 196l-2 1l-2 0l-2 -2l2 -2l3 0zM1317 105l-1 -4l2 -4l4 1l2 3l-3 4zM1369 427l3 0l3 1l-1 3l-2 0l-3 -1zM1425 326l1 -3l3 -1l2 1l-1 3l-2 0zM1248 168l2 3l-1 4l-5 0l-2 -3l2 -4zM1356 193l0 4l-4 3l-2 -4l-1 -3l4 -2zM1210 244l-2 2l-2 -2l-2 -3l3 -2l3 2zM1426 409l-1 -2l1 -3l2 0l1 2l0 3zM1401 269l1 -4l2 -2l3 1l0 3l-2 3zM1382 411l-2 2l-2 0l-2 -2l2 -3l3 0zM1438 435l2 1l2 2l-2 4l-3 -1l-2 -3zM1368 141l-4 1l-2 -2l-1 -4l3 -2l5 2zM1203 372l-3 1l-1 -3l1 -3l3 0l1 3zM1318 329l-2 -3l0 -3l4 -2l2 4l-1 3zM1443 339l3 1l2 3l-3 1l-2 0l-2 -2zM1149 353l2 2l0 4l-3 1l-3 -2l1 -3zM1327 104l-3 1l-1 -3l1 -3l3 1l2 3zM1355 116l-2 2l-3 0l0 -3l1 -2l3 0zM1271 80l3 1l1 1l-1 2l-2 1l-1 -2zM1429 237l3 2l-2 2l-4 2l-1 -3l1 -4zM1305 228l1 -3l2 3l0 2l-1 3l-4 -2zM1193 191l-2 -1l0 -2l2 -2l2 1l2 3zM1245 283l2 -3l3 2l2 4l-4 2l-2 -2zM1435 386l-4 2l-4 -4l3 -3l4 -2l1 4zM1327 325l2 0l2 1l0 3l-3 1l-2 -3zM1237 266l1 -2l2 0l0 2l0 2l-2 0zM1295 275l0 -2l2 -3l3 2l0 4l-3 3zM1417 243l-1 4l-4 0l-1 -3l0 -4l4 1zM1410 378l1 1l-1 2l-2 0l0 -2l1 -2zM1345 195l1 -4l2 -1l4 0l-1 4l-3 2zM1235 324l2 -2l2 1l1 3l-2 1l-2 -1zM1301 251l2 2l-1 2l-1 2l-3 -2l1 -2zM1224 326l-2 -2l1 -2l3 0l1 2l-1 3zM1279 165l-3 0l-3 -2l3 -2l2 -2l3 3zM1229 242l1 2l-2 1l-2 0l-1 -3l2 0zM1343 150l2 -3l4 -2l0 5l0 3l-4 2zM1272 258l2 2l1 2l-3 2l-2 -1l0 -3zM1186 378l0 -4l3 -2l3 2l0 3l-3 2zM1287 238l3 -1l3 2l-2 3l-2 2l-1 -3zM1221 271l-2 2l-2 1l-1 -3l1 -1l2 -1zM1363 269l2 3l-2 2l-3 0l-1 -2l0 -4zM1399 415l-2 -1l2 -3l3 0l1 3l-2 2zM1420 242l3 -2l4 0l1 3l-2 5l-5 -2zM1250 333l1 -3l3 0l1 2l-1 2l-2 1zM1192 186l4 -1l2 4l-1 4l-5 0l-1 -4zM1272 229l3 1l1 2l-1 4l-3 -1l-1 -3zM1268 302l2 -2l2 0l2 2l-3 2l-1 -1zM1325 304l-3 1l-4 -3l2 -3l4 -1l1 2zM1172 381l3 -3l3 3l0 4l-4 3l-4 -3zM1348 336l3 0l1 2l-1 3l-3 -1l-1 -2zM1312 272l1 -1l2 0l2 2l-3 1l-1 0zM1349 141l1 2l0 3l-3 -1l-2 -2l1 -2zM1429 416l-4 -2l0 -5l4 0l3 1l0 4zM1349 259l0 2l-2 1l-2 -1l-1 -2l3 -1zM1224 161l-2 -1l-1 -2l1 -2l2 0l2 2zM1191 297l3 -2l3 3l-2 3l-4 2l-3 -3zM1192 228l-3 1l-3 -4l3 -2l3 -1l3 3zM1469 365l-3 1l-1 -3l1 -4l5 1l1 4zM1244 195l3 -1l0 3l0 3l-3 0l-2 -3zM1225 142l0 -2l1 -2l3 0l-1 3l0 1zM1268 272l3 1l1 3l-2 3l-4 -1l-2 -4zM1238 280l2 -3l3 -1l4 1l-2 4l-3 1zM1330 259l-1 -3l2 -2l2 1l0 2l0 2zM1439 357l-2 -2l1 -2l1 -2l3 1l-1 3zM1380 234l3 -2l2 -1l1 3l0 2l-3 0zM1443 263l0 -4l4 -2l3 3l0 4l-4 1zM1297 140l2 3l-3 1l-2 -1l-1 -2l2 -2zM1314 380l3 3l-3 3l-4 1l-2 -5l3 -2zM1432 270l-2 -1l-1 -3l3 -1l3 1l0 3zM1382 172l-1 2l-3 1l0 -3l-1 -3l4 0zM1436 325l2 4l-3 4l-4 -2l-3 -4l4 -2zM1407 242l2 -2l3 -2l3 3l-1 4l-4 -1zM1399 359l-1 -4l4 0l2 2l0 3l-4 1zM1437 362l1 -3l4 0l2 2l-1 3l-3 1zM1415 367l-1 -1l-1 -3l2 0l2 0l-1 2zM1430 342l-2 2l-3 -2l0 -2l1 -2l3 1zM1268 198l-1 3l-4 -1l-1 -4l3 -3l4 1zM1201 347l-1 4l-2 3l-4 -3l1 -3l2 -1zM1319 356l-5 -2l-3 -3l3 -5l5 1l1 5zM1329 241l1 -4l3 1l4 2l-2 3l-4 1zM1314 406l-2 0l-1 -2l0 -2l2 0l2 2zM1394 219l2 -2l3 1l0 2l-2 2l-2 -1zM1447 396l3 4l-4 3l-4 -1l-3 -3l4 -3zM1398 326l-3 0l-2 0l0 -2l2 -2l2 1zM1219 300l-4 3l-4 -3l2 -4l3 -2l3 2zM1425 254l0 1l-2 2l-2 -1l1 -2l1 -1zM1477 344l2 -2l2 1l1 1l-1 2l-3 0zM1324 187l1 3l-4 1l-3 -1l1 -4l3 -1zM1454 398l3 2l-2 4l-2 -1l-2 -1l1 -2zM1359 264l3 -1l4 1l-2 3l-2 2l-3 -1zM1308 67l1 -3l3 0l3 3l-1 3l-4 0zM1287 321l0 5l-5 0l-2 -4l1 -4l4 1zM1428 176l3 2l-1 3l-2 1l-2 -1l-1 -3zM1233 197l3 0l1 3l-1 4l-4 1l-3 -5zM1338 160l4 0l3 3l-3 2l-2 1l-3 -3zM1256 452l4 -1l4 2l-2 3l-2 3l-4 -3zM1268 144l-3 -1l1 -3l3 -2l2 2l1 3zM1429 171l-4 -3l-2 -4l4 -3l4 2l1 4zM1355 266l-3 2l-2 -2l0 -2l2 -2l2 1zM1235 180l0 5l-3 3l-4 -4l1 -3l3 -1zM1177 220l-4 1l1 -3l1 -2l3 0l2 2zM1347 257l2 1l-2 2l-3 1l0 -3l0 -3zM1235 151l-2 4l-6 0l-2 -5l4 -2l3 0zM1177 395l-3 -3l-1 -4l4 0l3 1l0 4zM1229 251l3 -2l3 2l1 3l-3 4l-5 -2zM1381 220l0 4l-4 1l-3 -3l2 -3l3 -1zM1196 295l3 -1l3 3l-1 4l-4 -1l-2 -2zM1283 232l2 -2l2 -1l0 1l0 2l-1 1zM1339 81l-3 -1l0 -3l2 -2l2 1l2 2zM1334 318l2 -4l4 2l2 3l-2 4l-5 -1zM1323 339l-1 -1l2 -1l2 0l0 2l-1 1zM1403 245l1 2l-1 3l-3 -1l-1 -2l2 -2zM1293 142l2 -1l1 2l1 2l-2 0l-1 -1zM1150 368l-1 -4l5 0l3 1l0 5l-4 0zM1310 83l-1 -3l2 -2l2 1l1 2l-1 2zM1413 302l-1 -2l1 -2l2 0l1 2l-1 3zM1263 149l-2 -2l-2 -2l2 -1l2 0l1 2zM1276 212l-2 2l-4 -1l-1 -4l4 -1l4 0zM1254 220l-2 -1l0 -3l1 -2l3 2l1 3zM1430 262l1 -2l1 -2l2 2l0 2l-2 0zM1444 377l-4 2l-3 0l-3 -4l3 -2l5 0zM1269 296l1 -1l2 0l0 2l-1 1l-2 0zM1444 394l2 0l2 1l1 3l-4 1l-2 -2zM1336 338l-3 -1l-1 -4l2 -4l4 3l1 4zM1200 198l-1 -4l1 -3l4 -1l2 3l0 5zM1301 171l2 -4l5 -2l2 4l-1 5l-5 1zM1337 333l1 1l0 1l-2 0l-1 -1l1 -2zM1326 237l1 -2l3 0l1 3l-2 2l-3 -1zM1277 349l1 -2l3 1l2 3l-3 1l-3 0zM1405 390l-4 -1l1 -3l2 -2l2 2l0 2zM1389 246l0 3l-2 1l-2 0l-2 -3l3 -2zM1373 255l-2 -2l2 -4l4 0l1 3l-1 3zM1324 356l1 -2l2 0l0 2l-1 1l-2 1zM1187 278l0 2l-2 0l-2 -1l1 -2l2 -2zM1324 198l-2 -2l3 -2l3 0l-1 3l-1 2zM1208 211l-1 -2l2 -3l5 0l-1 4l-2 2zM1197 299l-1 -5l4 0l3 1l0 2l-2 2zM1374 283l-2 3l-3 -1l-2 -2l2 -2l3 0zM1160 367l3 -2l2 2l0 2l-2 2l-3 0zM1200 262l-1 2l-3 0l-2 -2l2 -2l3 -1zM1291 44l1 -4l3 -3l4 3l1 5l-5 1zM1365 201l4 3l-2 4l-4 2l-3 -4l2 -3zM1300 93l-2 2l-3 -1l1 -2l1 -2l3 1zM1158 413l5 -2l2 4l0 3l-4 1l-3 -2zM1286 184l3 0l0 3l-1 2l-3 -1l-1 -2zM1236 157l-1 1l-3 1l0 -2l1 -2l1 0zM1433 248l1 2l-1 1l-2 0l-1 -1l1 -1zM1212 285l2 -2l2 3l-1 2l-3 1l-1 -2zM1286 159l0 -1l1 -2l2 2l0 2l-2 1zM1455 329l-3 1l-3 -1l0 -5l5 -1l4 3zM1414 145l-4 2l-2 -3l1 -3l2 0l2 1zM1299 149l2 1l2 1l-2 3l-2 0l-2 -3zM1324 188l1 2l0 3l-3 -1l-2 -1l1 -2zM1269 351l1 5l-4 2l-4 -1l0 -5l3 -3zM1364 273l4 1l-1 4l-3 3l-2 -3l-1 -3zM1310 307l-1 2l-2 2l-2 -2l1 -2l2 -1zM1270 197l1 5l-4 3l-5 -1l1 -5l2 -3zM1377 373l-2 0l1 -2l1 -1l1 1l1 2zM1409 300l-3 3l-4 -1l-3 -4l3 -3l4 2zM1360 165l4 -3l4 2l0 3l-2 3l-3 -2zM1136 361l3 4l-1 3l-2 3l-3 -3l1 -3zM1360 301l3 0l3 0l1 4l-4 0l-2 -1zM1182 370l-1 2l-3 -1l-1 -3l2 -2l3 1zM1201 183l-1 -4l2 -4l5 1l1 4l-3 3zM1204 253l-1 -3l3 -1l2 2l1 2l-3 2zM1320 194l-5 -1l-2 -2l0 -4l4 0l4 2zM1269 437l0 -3l3 1l1 2l-1 2l-3 1zM1382 236l2 1l0 3l-1 1l-3 -1l0 -2zM1242 84l1 -4l3 -1l3 1l-1 3l-2 2zM1371 325l-1 4l-4 -1l-2 -3l2 -4l4 1zM1288 194l2 2l-3 2l-2 -2l0 -2l1 -2zM1273 120l-4 -3l1 -4l4 -2l4 2l-1 5zM1331 316l0 -3l2 0l1 2l0 2l-2 1zM1181 272l-3 2l-3 -1l0 -3l2 -2l3 2zM1358 300l1 4l-4 2l-4 -2l1 -4l3 -2zM1243 230l1 3l-3 3l-3 -2l0 -3l2 -2zM1377 188l-2 0l-1 -2l2 -2l3 1l0 3zM1297 336l-2 2l-2 -2l0 -3l3 -1l2 1zM1238 199l2 1l1 2l-2 2l-2 -2l-1 -2zM1205 143l-2 -2l1 -2l2 0l1 1l-1 2zM1280 167l-3 2l-2 0l-2 -1l0 -4l4 0zM1198 161l-2 2l-3 0l-1 -3l2 -3l3 2zM1333 263l-3 2l-3 -2l-1 -3l2 -3l3 3zM1284 194l-3 -1l-1 -3l2 -2l4 0l-1 3zM1312 213l-2 1l-3 0l0 -3l2 -3l2 2zM1333 318l-5 2l-4 -4l3 -4l4 -2l2 4zM1399 366l1 -2l2 0l2 1l-2 2l-1 1zM1414 323l1 -1l2 0l1 2l-2 2l-2 -1zM1359 352l-2 3l-3 -1l-2 -2l2 -3l3 0zM1335 255l3 -1l4 2l-2 4l-3 1l-2 -3z"/><path fill="#56a04a" d="M1316 143l2 -2l2 2l-1 3l-2 0l-2 -1zM1214 215l0 -3l3 0l2 2l0 3l-3 1zM1242 246l-2 -4l4 -1l4 1l0 4l-3 2zM1357 137l3 1l1 3l-2 2l-3 0l-1 -4zM1368 231l1 0l2 0l0 3l-2 0l-2 -1zM1287 142l-3 0l-2 -3l3 -2l2 0l1 2zM1258 111l2 1l1 2l-2 1l-2 0l0 -2zM1285 307l4 -1l1 3l0 2l-3 1l-1 -2zM1162 249l-1 -2l2 -2l3 0l0 3l-1 2zM1320 109l-4 0l-1 -4l3 -1l3 0l0 3zM1274 264l0 -2l3 -1l1 1l0 3l-2 1zM1236 332l-2 2l-3 -3l0 -4l5 -3l4 4zM1361 94l-2 4l-4 -1l-1 -4l1 -4l5 1zM1299 103l2 0l0 3l-2 0l-2 -1l-1 -2zM1302 96l3 -1l5 2l-3 3l-3 2l-3 -2zM1210 228l-1 -1l1 -2l2 0l0 1l0 2zM1312 112l2 3l2 4l-5 2l-2 -4l-2 -5zM1321 105l1 -2l2 0l1 2l-2 2l-1 -1zM1214 179l-1 3l-2 2l-4 0l1 -4l2 -3zM1281 70l-2 0l-2 -1l1 -3l2 1l1 1zM1339 285l-2 1l-2 0l0 -2l1 -2l2 0zM1369 101l0 -3l1 -2l3 0l1 2l-1 3zM1290 78l1 -6l5 0l3 2l-2 4l-3 3zM1354 131l-2 0l-1 -3l1 -2l3 0l2 3zM1391 198l4 0l1 4l-2 4l-3 -3l-2 -2zM1417 208l2 2l-1 2l-2 1l-3 -2l2 -3zM1294 87l1 -2l3 0l3 2l-2 4l-4 0zM1408 216l-1 3l-4 2l-2 -4l2 -2l3 -1zM1157 262l-1 -2l1 -2l2 1l0 2l0 2zM1225 301l-4 -3l2 -4l3 -3l4 3l-1 4zM1419 270l2 -4l3 -1l1 3l1 4l-4 1zM1371 213l2 4l-2 4l-4 -1l-1 -3l1 -4zM1250 113l-3 -1l0 -2l1 -1l2 0l0 1zM1171 297l-2 -2l2 -2l2 1l2 2l-2 1zM1348 278l-3 1l-3 -2l1 -4l4 -1l4 3zM1337 109l-4 1l-2 -3l0 -5l4 1l2 3zM1339 292l0 -4l3 -2l4 0l0 4l-3 4zM1395 118l0 3l-3 1l-2 -1l0 -3l2 0zM1328 157l0 2l-2 0l-1 -1l0 -3l2 0zM1400 273l4 1l1 4l-3 3l-4 -1l0 -4zM1304 124l-1 -2l2 -2l2 1l2 2l-3 2zM1405 184l-2 4l-4 -2l-2 -2l3 -2l3 -1zM1152 285l3 -2l3 0l3 2l-2 4l-5 0zM1366 112l2 2l-2 4l-4 -1l-1 -3l1 -5zM1409 269l3 -2l2 1l2 3l-3 2l-2 -1zM1422 274l-2 2l-2 -2l0 -3l3 0l3 1zM1318 63l3 -3l2 3l0 4l-3 0l-2 -1zM1424 278l2 0l2 0l-1 3l-2 1l-3 -2zM1293 84l2 -1l2 -1l1 2l-1 3l-3 0zM1357 211l-3 4l-5 -2l1 -4l3 -2l5 0zM1272 283l0 -2l2 0l1 1l0 2l-3 1zM1440 262l1 3l-3 0l-2 -1l0 -3l3 -2zM1337 84l-3 -3l1 -4l5 0l2 3l-2 4zM1291 46l-2 -1l-2 -2l2 -1l2 0l0 2zM1307 127l0 -4l4 0l3 3l-1 5l-5 0zM1448 253l-1 3l-3 0l-2 -3l3 -1l2 -1zM1298 110l5 2l2 5l-5 2l-4 -1l-1 -4zM1260 96l-1 2l-2 -1l-1 -1l1 -2l2 1zM1273 356l0 -4l3 0l2 1l0 3l-3 2zM1352 110l3 0l2 2l-2 3l-2 -1l-2 -1zM1478 349l-3 4l-2 -3l-1 -4l3 -2l4 1zM1295 104l-4 -2l-1 -3l3 -3l3 1l1 3zM1242 311l0 3l-3 1l-2 -2l0 -2l2 -3zM1254 115l2 1l0 3l-2 0l-1 -1l-1 -2zM1409 287l0 -3l2 -2l2 2l0 2l-2 2zM1339 90l2 1l1 3l-3 1l-2 -2l0 -2zM1420 186l-3 0l-2 -3l2 -2l3 0l2 3zM1349 217l2 -1l2 2l0 2l-2 2l-2 -2zM1406 246l0 2l-1 2l-2 -1l0 -2l1 -1zM1241 106l2 -3l3 1l1 3l-2 3l-3 -1zM1282 146l2 2l0 3l-3 1l-2 -2l-1 -3zM1174 206l0 -3l1 -2l3 1l2 3l-3 2zM1291 224l-3 3l-5 -1l0 -5l4 -4l3 3zM1480 341l-3 1l-3 1l-2 -3l2 -2l4 -1zM1380 103l-1 3l-3 0l-2 -3l2 -2l3 -1zM1179 228l1 3l-1 4l-5 -1l-1 -4l3 -3zM1453 228l4 -1l2 3l-1 5l-4 -1l-2 -3zM1405 142l1 -1l1 -1l2 1l-1 2l-1 0zM1162 258l0 -3l4 0l1 3l-2 3l-3 -1zM1265 122l-1 2l-3 0l0 -3l2 0l1 0zM1201 144l1 -2l3 -1l1 2l-1 3l-3 2zM1284 311l-2 3l-3 0l-2 -2l2 -2l3 -1zM1285 79l-3 -1l-1 -1l1 -2l2 0l1 2zM1308 236l-1 -2l1 -2l3 -2l3 4l-3 3zM1413 160l4 0l3 4l-3 3l-3 -1l-1 -2zM1363 127l0 -3l3 0l2 3l-1 2l-3 0zM1236 178l-1 3l-3 2l-2 -2l0 -4l3 0zM1355 117l5 0l0 3l0 4l-5 1l-1 -5zM1329 81l2 -1l2 -1l1 1l-1 3l-2 0z"/><path fill="#70b05c" d="M1346 219l2 -2l2 1l1 2l-2 2l-3 1zM1379 118l2 1l0 3l-2 1l-2 -1l0 -2zM1278 268l0 -4l-1 -4l4 1l4 2l-2 5zM1270 68l1 -3l1 -3l4 2l-1 3l-2 1zM1356 91l-2 2l-3 2l-3 -3l2 -2l3 -2zM1400 282l-3 0l-1 -2l1 -3l2 1l2 2zM1322 90l-3 -3l0 -4l4 -2l2 3l1 4zM1367 121l4 -3l3 1l1 3l-1 4l-4 -2zM1256 257l-4 0l-2 -2l0 -5l5 1l3 3zM1419 290l2 0l3 2l-2 3l-3 -1l-2 -2zM1298 116l2 -3l2 2l2 2l-2 4l-4 -2zM1158 265l-3 -3l0 -2l1 -3l3 2l1 3zM1207 193l-2 -2l1 -2l2 -1l2 2l-1 2zM1399 268l3 -1l1 3l0 3l-4 0l-2 -2zM1397 183l2 1l2 3l-3 4l-3 -3l-2 -4zM1361 107l3 3l-3 2l-3 -1l-1 -2l1 -4zM1357 88l3 2l-1 5l-5 0l-3 -3l2 -4zM1303 50l-4 1l-4 -3l2 -5l5 -1l2 4zM1293 58l-1 4l-5 0l0 -4l2 -2l4 -2zM1370 217l0 3l-3 1l-2 -1l0 -2l2 -3zM1329 292l-1 2l-3 -2l1 -2l2 -1l2 1zM1420 279l4 1l-1 5l-4 -1l-4 -1l1 -4zM1320 119l0 -2l2 -1l2 1l1 3l-3 0zM1306 39l-3 -1l-1 -3l0 -4l4 2l2 2zM1211 207l-2 2l-5 0l1 -4l2 -3l4 1zM1272 182l-4 3l-3 -3l0 -4l3 -4l4 4zM1212 169l0 4l-2 3l-5 -1l-1 -4l4 -2zM1364 114l-1 -2l1 -2l3 1l-1 2l-1 1zM1290 75l3 -4l2 0l2 2l0 3l-3 2zM1227 237l-2 1l-2 0l-1 -2l2 -1l1 0zM1314 132l3 2l-2 3l-2 -1l-2 -1l1 -2zM1407 271l2 -1l1 2l0 2l-2 0l-2 -1zM1356 230l2 -2l2 1l1 2l-1 2l-4 0zM1330 117l1 2l0 2l-2 0l-3 -1l1 -3zM1466 335l-4 -3l0 -4l3 -4l4 3l1 5zM1369 230l-1 -3l3 -1l2 2l0 3l-3 2zM1351 179l1 1l-1 3l-2 -1l-1 -2l2 -2zM1284 42l-2 1l-1 -2l1 -2l2 0l1 1zM1316 115l-3 3l-3 -2l-3 -3l3 -1l3 0z"/><path fill="#1c461c" d="M1477 320l2 3l-4 1l-3 0l-1 -4l4 -1zM1319 384l0 3l-3 0l-3 -1l1 -3l3 0zM1388 394l3 0l1 3l-3 1l-3 0l1 -3zM1223 342l4 1l0 3l-2 3l-4 0l-1 -5zM1152 394l-2 -1l-2 -2l3 -2l2 1l1 2zM1326 351l-2 4l-3 -1l-2 -3l2 -3l3 0zM1434 385l1 -2l3 0l0 2l-1 2l-2 1zM1236 148l-3 1l-4 -2l2 -4l3 -1l4 2zM1425 198l1 3l-3 2l-2 -1l-1 -3l2 -2zM1184 215l0 -3l3 -3l2 4l0 3l-3 0zM1391 420l2 1l1 2l-2 2l-2 0l-2 -3zM1292 350l-1 3l-3 0l-1 -3l2 -2l2 0zM1413 372l2 -1l2 2l-1 3l-3 1l-2 -3zM1155 336l-3 1l-3 -1l0 -3l2 0l3 0zM1375 391l-2 -1l-2 -2l2 -2l3 0l2 3zM1295 201l1 -2l3 1l0 3l-2 1l-2 -1zM1318 332l1 -4l3 -2l2 3l1 4l-4 0zM1249 208l-2 2l-2 -2l-1 -3l3 -1l2 1zM1239 387l0 -1l2 -1l1 1l-1 2l-1 1zM1445 331l-1 -2l2 -2l2 1l0 3l-1 1zM1413 330l-1 -3l2 -1l3 0l0 2l-1 3zM1291 175l0 -3l2 -2l3 1l0 3l-2 2zM1458 286l2 -2l4 0l2 4l-5 1l-3 0zM1425 430l5 -1l2 4l-3 2l-3 0l-1 -2zM1445 280l3 0l2 3l-2 3l-2 -2l-3 -1zM1433 358l2 -3l3 1l2 2l-1 3l-3 -1zM1351 307l0 -3l2 -1l2 1l1 2l-2 1zM1323 325l1 -2l3 -2l1 2l0 3l-3 0zM1358 344l-4 -3l0 -4l4 -2l4 2l-1 4zM1253 78l0 3l-3 0l-2 -2l1 -3l3 1zM1256 397l2 -1l2 2l-1 3l-3 1l-2 -3zM1263 333l-1 1l-2 0l0 -1l0 -2l2 1zM1162 413l-3 2l-5 2l0 -5l1 -4l4 1zM1246 160l-2 -2l1 -3l3 1l2 1l-1 3zM1472 354l1 1l0 2l-2 1l-1 -2l0 -1zM1195 313l2 1l-2 2l-2 1l0 -2l0 -3zM1379 436l-2 -4l1 -4l4 0l3 3l-3 3zM1188 402l2 -3l4 0l2 4l-2 3l-5 0zM1390 318l3 -1l2 3l-2 3l-4 0l-1 -3zM1478 375l0 3l-3 2l-3 -2l0 -4l4 -2zM1175 400l-1 -4l1 -2l3 0l3 3l-3 2zM1425 423l-2 -1l-1 -2l2 -1l1 0l1 2zM1189 307l0 4l-5 1l-2 -2l0 -4l3 -2zM1290 351l2 -3l2 -2l2 2l1 4l-4 2zM1351 420l-2 0l-3 -1l2 -2l2 0l1 1zM1371 369l1 2l-3 1l-1 -2l-1 -2l2 -1zM1284 448l-1 -3l2 -4l4 1l0 4l-2 2zM1376 269l3 -1l2 2l-2 3l-2 0l-1 -2zM1427 386l-3 2l-3 0l-3 -3l4 -2l3 0zM1151 346l1 4l-3 2l-4 0l-1 -4l3 -3zM1317 201l0 -2l1 -1l2 0l0 2l-1 2zM1221 304l3 -1l4 3l-3 4l-3 0l-3 -2zM1287 365l-2 -2l-1 -3l3 -1l2 2l0 3zM1213 392l1 2l-2 2l-3 -1l-1 -3l2 -2zM1245 329l-2 2l-3 0l0 -2l1 -3l3 1zM1176 427l1 1l2 3l-3 1l-3 -1l0 -3zM1162 408l3 1l0 4l-4 1l-2 -3l0 -3zM1241 412l-1 -4l4 -1l2 3l0 3l-3 2zM1438 364l-3 -1l-1 -3l4 -2l3 2l0 4zM1459 410l0 -3l1 -3l2 2l1 2l-1 3zM1230 349l2 3l-3 2l-4 0l0 -4l2 -2zM1234 379l-2 -3l2 -2l4 -1l2 3l-2 5zM1311 343l-1 2l-2 -2l-1 -2l2 -1l2 0zM1291 239l3 -4l5 1l0 4l-2 2l-3 1zM1201 331l3 -1l2 2l0 3l-3 1l-3 -2zM1414 426l2 -1l2 0l1 2l-1 2l-3 0zM1194 397l-1 -1l-2 -2l3 0l2 0l0 2zM1457 412l-1 -4l2 -4l5 0l0 5l-2 2zM1249 431l-1 -3l2 -1l2 1l2 3l-2 2zM1175 409l1 0l1 2l-1 1l-2 0l-1 -2zM1364 395l-4 -1l1 -4l3 -2l3 1l0 4zM1347 377l3 0l0 3l-3 1l-3 -1l1 -2zM1297 427l2 -2l2 2l0 2l-2 1l-2 0zM1413 321l-1 2l-3 -1l-2 -1l2 -2l3 0zM1347 360l5 1l1 5l-4 2l-3 -2l-3 -4zM1328 312l-4 1l-3 -1l-2 -5l5 0l4 1zM1374 336l0 3l-3 0l-2 0l0 -4l3 -1zM1428 349l0 1l-2 0l-2 -2l2 -2l2 0zM1253 320l4 0l1 5l-3 3l-4 0l-2 -5zM1344 367l3 -2l2 2l1 3l-2 1l-2 -1zM1297 425l0 -4l2 -2l3 1l1 3l-2 1zM1379 306l2 1l2 2l-3 2l-2 -1l-1 -2zM1464 405l4 1l0 3l-2 2l-3 -1l-2 -3zM1431 388l4 1l-1 4l-4 2l-3 -3l0 -4zM1169 204l0 -5l4 -1l3 3l-1 3l-3 4zM1248 221l1 -2l3 1l0 2l-2 2l-2 0zM1374 363l-3 -1l1 -3l3 0l2 1l-1 2zM1370 424l-1 1l-1 0l-1 -2l2 -1l2 0zM1394 413l4 -2l3 2l-1 3l-2 2l-3 -1zM1332 413l-2 -2l2 -3l3 0l2 4l-2 3zM1276 429l-1 3l-3 2l-3 -3l1 -4l4 0zM1273 195l-3 0l-1 -2l2 -1l2 0l1 1zM1442 392l1 -4l2 -5l5 2l0 5l-3 4zM1244 446l0 -3l2 -2l3 1l0 3l-2 3zM1194 360l-1 -2l0 -3l4 -1l1 3l-1 3zM1188 341l1 0l2 1l0 2l-2 0l-2 -1zM1308 438l3 -2l3 0l3 2l-2 4l-4 -1zM1330 326l1 -1l2 1l0 2l-1 1l-3 0zM1375 343l-2 3l-4 -2l-1 -3l3 -2l3 1zM1277 400l2 4l-2 4l-4 -2l-4 -3l3 -4zM1233 216l-2 1l-2 -1l0 -3l2 0l1 1zM1332 361l-2 2l-2 -1l-1 -2l2 -3l4 1zM1226 359l0 3l-3 2l-2 -3l-1 -3l4 -1zM1276 432l1 -4l5 1l-1 4l-1 3l-4 0zM1370 347l-3 0l0 -2l2 -2l3 0l-1 3zM1465 342l-2 2l-3 -3l1 -3l3 -1l2 2zM1263 317l3 0l2 1l-1 3l-2 1l-4 -2zM1257 366l-3 1l-3 -1l-1 -4l5 -2l3 3zM1294 364l3 0l0 4l-3 2l-3 -2l-1 -4zM1301 201l-3 1l-1 -2l0 -1l1 -2l3 1zM1143 397l-4 3l-1 -5l1 -4l4 2l2 2zM1321 332l1 3l0 3l-3 -1l-2 -2l1 -2zM1454 295l2 2l-2 2l-2 0l-3 -2l2 -3zM1431 353l2 0l1 2l-1 2l-2 -1l-2 -1zM1308 200l3 3l-3 4l-4 -1l-2 -4l3 -4zM1334 354l2 1l-1 2l-2 -1l-1 -1l1 -2z"/><path fill="#255a24" d="M1339 151l5 0l1 3l1 4l-4 -1l-2 -2zM1313 199l-4 1l-1 -3l-1 -4l4 -1l4 3zM1177 379l-3 -1l0 -3l2 -2l2 1l1 2zM1343 402l-2 -1l0 -3l3 -1l1 3l1 2zM1264 344l-3 -2l-1 -5l5 0l4 1l-1 5zM1430 200l-4 0l0 -3l1 -4l4 2l2 3zM1228 226l0 2l0 2l-2 -1l-2 -1l2 -2zM1272 327l-1 2l-2 2l-3 -2l0 -3l3 0zM1232 203l2 4l-3 3l-4 -2l-1 -3l2 -4zM1315 357l2 -2l3 -1l1 3l0 2l-4 2zM1356 401l2 -4l3 1l2 2l0 4l-4 0zM1144 313l-2 -2l3 -3l2 1l2 3l-2 3zM1171 377l3 0l0 2l-1 1l-2 1l-1 -2zM1429 386l0 1l0 2l-2 -1l-1 -1l1 -1zM1405 391l-1 -3l1 -3l5 0l0 4l-1 4zM1303 250l-3 3l-4 -1l-2 -4l4 -2l4 -1zM1439 170l-3 1l-3 -1l-1 -3l3 -2l3 1zM1358 310l3 -1l2 3l0 3l-3 -1l-4 -1zM1194 337l-3 3l-4 -2l1 -4l3 -2l4 1zM1369 436l0 3l-3 -1l-2 -1l1 -2l2 -1zM1454 352l-3 1l-2 0l-1 -3l2 -1l3 0zM1268 300l3 1l0 3l-3 1l-3 -1l0 -3zM1391 337l3 2l1 3l-3 2l-3 -3l-1 -3zM1368 433l2 0l3 1l-1 4l-4 0l-1 -3zM1267 146l2 -1l1 3l-2 1l-2 1l-2 -2zM1188 246l-3 0l-2 -3l2 -3l3 0l2 3zM1461 390l-2 -2l1 -2l3 0l2 2l-1 2zM1415 184l4 0l-1 4l-2 1l-3 1l-2 -4zM1401 419l-4 1l-1 -4l1 -2l4 -3l3 4zM1150 377l-1 -4l3 0l2 1l0 2l-2 1zM1197 252l-1 1l-2 0l0 -2l1 -1l2 -1zM1389 264l-3 0l-2 -1l-1 -3l3 -2l4 3zM1185 287l2 -1l2 3l-1 2l-3 0l-1 -2zM1162 349l-2 -2l-1 -2l3 -2l2 2l-1 2zM1240 213l-1 3l-3 1l-1 -3l0 -4l4 1zM1201 234l-2 2l-3 -2l2 -3l2 -1l2 2zM1228 263l1 -2l1 -3l3 2l0 3l-3 2zM1210 300l-2 1l0 -2l0 -2l2 0l1 1zM1241 221l2 -1l1 2l-2 2l-1 -1l-1 -1zM1193 424l2 0l1 1l-1 1l-1 0l-2 -1zM1445 389l-3 3l-2 -4l0 -2l2 -2l3 2zM1360 105l2 -5l5 0l2 4l-2 4l-4 0zM1339 259l0 -4l3 -1l4 1l-1 3l-2 2zM1329 361l3 0l0 2l0 1l-2 1l-1 -2zM1232 142l-2 -1l-1 -3l3 0l2 1l0 2zM1244 213l2 -2l2 3l0 2l-3 1l-3 -2zM1330 206l-3 1l-2 -2l-1 -4l3 -2l3 3zM1221 243l1 3l-1 2l-2 0l-1 -2l1 -3zM1390 424l-2 -3l3 -3l3 0l2 3l-2 4zM1305 377l-4 -1l-2 -2l1 -2l3 -1l2 2zM1330 374l1 2l0 1l-1 0l-2 0l1 -2zM1253 320l-3 1l-1 -2l0 -1l1 -2l2 1zM1312 323l0 3l-2 1l-2 -1l-1 -2l2 -1zM1361 418l3 1l-1 2l-2 3l-3 -3l1 -2zM1296 271l-3 -2l2 -4l3 1l1 3l-1 2zM1244 385l0 3l-2 0l-3 -1l1 -3l2 0zM1449 280l1 -4l3 2l3 2l-2 4l-4 -2zM1263 281l-2 2l-2 0l-2 -3l2 -2l2 1zM1347 344l-2 0l-1 -2l2 -2l3 0l-1 3zM1391 233l-5 -1l1 -4l3 -4l4 2l1 5zM1159 403l2 2l0 4l-4 -1l-3 -1l2 -3zM1156 307l-2 -3l2 -3l4 0l3 3l-3 4zM1331 315l-2 1l-2 -1l0 -3l2 -1l3 1zM1225 216l3 -2l5 0l-2 4l-2 4l-5 -2zM1247 129l0 -1l1 -1l2 0l1 2l-2 2zM1250 375l0 2l-1 4l-3 -3l-2 -3l4 -1zM1292 371l3 1l0 3l-1 2l-4 0l-1 -3zM1283 334l0 -3l1 -3l3 1l1 3l-2 1zM1378 367l-3 1l-4 -1l0 -4l4 -2l2 3zM1459 330l3 4l-5 2l-5 0l0 -5l4 -2zM1295 207l0 -3l3 -3l4 3l0 4l-4 3zM1263 313l3 -4l3 3l3 3l-4 2l-3 0zM1291 201l1 1l1 2l-2 2l-2 -2l0 -2zM1207 373l-2 4l-5 0l-1 -4l1 -3l4 1zM1193 352l-1 2l-3 0l-1 -2l1 -2l2 0zM1363 403l-2 0l-1 -2l2 -2l1 2l1 1zM1134 365l3 -3l4 2l-2 4l-3 2l-4 -1zM1263 344l0 -3l2 1l2 1l0 2l-2 0zM1156 420l-3 -1l-2 -3l4 -2l2 1l2 3zM1479 361l-3 4l-4 0l-2 -3l2 -3l5 -2zM1336 352l1 5l-3 3l-5 -1l0 -4l2 -2zM1199 261l1 -3l1 2l2 2l-2 2l-2 -2zM1305 369l3 2l2 3l-4 2l-2 -1l-2 -3zM1425 410l0 -2l1 -2l2 0l1 2l-1 3zM1398 372l-3 0l-1 -4l3 -3l3 2l2 3zM1307 172l-2 -2l0 -4l4 1l3 2l-2 3zM1182 300l2 -3l3 2l1 2l-2 2l-3 -1zM1404 362l0 -2l3 -1l2 1l0 3l-3 2zM1161 348l-2 1l-1 -2l1 -2l2 0l2 1zM1246 211l2 2l1 3l-3 1l-3 -2l0 -3zM1278 292l4 1l-1 3l-2 3l-2 -3l-2 -3zM1404 154l2 -1l1 0l1 2l-1 2l-2 -1zM1420 155l1 4l-3 1l-2 0l-1 -3l2 -2zM1320 340l2 3l-4 2l-3 1l-1 -4l3 -2zM1468 402l0 -4l2 -1l4 -2l0 4l-2 3zM1222 200l-1 -4l3 -2l3 -1l0 4l-1 2zM1175 355l3 -1l3 2l0 3l-4 2l-3 -2zM1270 153l-2 -2l0 -4l3 0l2 3l-1 2zM1261 329l3 -2l4 -2l1 4l-2 2l-4 2zM1363 424l-1 -3l3 -3l5 2l0 4l-4 1zM1413 351l1 4l-3 3l-3 0l-1 -4l3 -3zM1315 331l-2 -2l0 -2l3 -1l1 2l-1 2zM1324 328l-3 -1l0 -5l4 0l4 2l-1 4zM1408 408l-2 -1l1 -3l4 0l1 2l-1 3zM1186 229l4 -2l4 2l1 5l-4 1l-3 -2zM1337 329l3 2l-2 3l-2 2l-3 -3l1 -3zM1324 321l2 1l0 3l-2 0l-1 -1l-1 -2zM1395 336l-1 -2l1 -1l2 0l2 2l-2 1zM1242 316l4 0l3 4l-3 4l-5 0l-1 -5zM1434 369l-1 -4l3 -1l3 0l2 3l-4 2zM1403 302l-3 0l-1 -2l0 -2l3 0l3 1zM1188 283l3 -2l1 3l0 3l-3 0l-2 -1zM1236 203l-2 2l-3 -2l-2 -2l3 -3l2 2zM1152 403l2 0l2 1l0 2l-3 1l-2 -2zM1364 319l4 1l-1 5l-4 0l-4 -2l1 -5zM1329 373l0 4l-2 2l-4 0l1 -4l2 -2zM1241 302l3 -1l3 -1l0 3l-1 4l-3 -2zM1417 422l-1 -2l0 -3l3 0l1 2l0 3zM1169 397l0 -3l3 -3l2 3l1 4l-4 2zM1388 206l-4 -1l-4 -2l2 -4l5 -2l2 5zM1257 179l-2 2l-3 1l-2 -3l3 -3l4 -1zM1196 327l4 0l1 4l-2 3l-4 1l-2 -4zM1383 341l-2 -2l1 -3l3 -1l4 1l-1 6zM1393 346l-3 -2l0 -5l4 -1l3 3l-1 4zM1345 154l0 3l-3 3l-3 -2l1 -3l2 -2zM1453 379l-3 -1l0 -3l1 -2l2 1l1 2zM1349 91l1 1l2 2l-3 1l-1 -1l-2 -2zM1281 272l-1 3l-4 -1l-2 -3l2 -4l4 0zM1177 382l1 -2l2 2l0 1l-1 1l-1 0zM1273 345l-2 2l-4 -2l3 -3l2 -1l3 2zM1357 347l-1 -1l0 -2l2 -1l2 1l-1 2zM1175 217l1 -3l3 -2l2 2l0 4l-3 0zM1159 231l2 -5l6 0l1 5l-1 5l-4 -3zM1376 221l0 -3l1 -2l2 0l1 2l-2 2zM1431 311l4 0l2 2l0 4l-4 0l-1 -2zM1170 347l3 -2l3 3l-1 4l-4 1l-4 -2zM1402 357l-1 4l-3 4l-3 -3l-1 -4l4 -2zM1220 152l-1 2l-3 0l0 -3l1 -2l2 1zM1238 214l-2 -3l-2 -3l3 -3l4 2l0 4zM1441 187l0 3l-1 3l-4 0l-2 -4l3 -3zM1389 146l-4 -1l0 -4l3 -3l2 3l1 3zM1311 266l-1 4l-3 2l-3 -3l0 -4l4 -2zM1306 263l-1 -2l2 0l3 0l-1 2l-2 1zM1233 196l-1 -1l1 -2l2 -1l3 2l-1 4zM1158 340l-3 4l-5 -1l-1 -4l2 -3l4 0zM1435 393l-1 3l-3 1l-1 -3l1 -2l2 0zM1344 424l0 -2l2 0l2 1l0 2l-3 0zM1276 340l-3 0l-2 0l0 -3l2 0l2 0zM1360 342l-2 2l-2 -1l-2 -2l2 -3l3 2zM1249 196l-2 0l-1 -2l1 -2l2 1l1 1zM1417 362l0 5l-4 2l-4 -3l1 -4l4 -1zM1444 362l2 2l1 2l-2 2l-3 -1l1 -3z"/><path fill="#143416" d="M1208 355l3 1l4 3l-4 4l-5 -1l0 -4zM1240 390l2 3l-1 3l-2 -1l-3 -1l2 -2zM1389 382l2 -3l4 -2l1 3l-1 3l-3 1zM1269 383l-1 1l-2 2l-2 -3l1 -3l3 0zM1325 400l3 -1l2 2l-1 3l-2 -1l-3 -1zM1445 420l0 3l-3 1l-1 -3l1 -3l2 0zM1383 409l-3 -1l-3 -2l2 -4l3 1l4 2zM1386 398l-4 3l-4 0l0 -4l0 -4l4 2zM1253 390l-2 4l-4 0l0 -4l1 -2l2 0zM1287 391l1 1l0 2l-2 1l-2 -1l1 -2zM1252 334l-2 2l-2 -1l0 -3l2 -1l2 2zM1271 367l-2 1l-2 1l-2 -2l1 -3l3 0zM1389 353l-1 -2l1 -1l2 0l3 2l-3 2zM1338 411l2 0l1 2l-1 2l-2 0l-1 -2zM1227 406l2 -3l3 0l1 2l-1 2l-2 0zM1288 134l0 3l-3 2l-2 -3l1 -3l2 0zM1203 381l1 -3l3 0l3 1l-1 4l-4 0zM1233 433l-3 2l-3 0l-1 -5l4 -3l4 3zM1375 377l-2 -3l1 -2l3 -1l2 3l-1 3zM1447 400l-2 -1l2 -2l2 0l1 1l-1 2zM1226 424l-2 1l-1 -2l0 -2l2 -1l1 1zM1180 305l1 -2l2 -1l3 2l-1 3l-3 1zM1150 340l1 2l-3 1l-2 -1l0 -2l2 -2zM1274 378l-1 -2l1 -2l3 0l1 2l-1 2zM1163 420l-2 0l-1 -2l1 -1l2 -1l1 2zM1307 425l0 -3l3 0l1 2l-1 2l-2 1zM1384 311l0 2l-3 3l-4 -2l0 -5l5 -2zM1423 434l0 2l-2 2l-3 -1l1 -3l2 -1zM1352 235l3 1l1 3l-2 1l-3 1l0 -3zM1313 397l-4 1l-2 -3l0 -4l5 0l2 3zM1448 428l3 -1l2 2l2 4l-5 2l-2 -4zM1233 373l3 3l-4 3l-4 0l0 -4l1 -3zM1329 432l1 -3l3 -2l3 3l-1 3l-3 1zM1331 419l-1 5l-2 3l-3 -3l-2 -3l4 -1zM1211 419l1 -5l5 -1l2 4l0 4l-4 -1zM1341 395l3 1l1 2l-2 1l-2 1l-1 -3zM1154 395l2 -4l4 -1l1 3l0 3l-3 0zM1379 307l4 1l-2 4l-2 3l-3 -3l0 -3zM1469 401l-3 -1l0 -1l0 -3l2 2l1 1zM1152 410l3 2l0 2l-1 2l-2 -1l-1 -2zM1261 331l-3 1l-4 0l0 -4l3 -1l2 1zM1464 397l-1 -4l2 -5l4 3l1 3l-2 3zM1365 312l-2 -2l2 -2l2 0l2 1l-2 2zM1222 406l2 4l1 4l-4 -1l-4 -1l0 -5zM1189 354l1 2l-1 2l-2 1l-2 -2l1 -3zM1241 415l2 -3l2 2l1 2l-2 1l-3 0zM1287 402l-2 2l-3 0l-2 -3l3 -4l4 1zM1227 346l-2 0l-3 -1l2 -3l2 -1l3 2zM1364 335l0 5l-5 -1l0 -4l0 -4l4 1zM1231 162l-3 1l-1 -1l-1 -3l4 -1l2 2zM1225 397l-3 -1l-2 -4l4 -2l3 2l2 3zM1203 361l2 -2l2 1l0 2l-1 2l-2 -1zM1233 433l-2 1l-2 -2l0 -3l3 0l3 1zM1269 376l-2 3l-4 0l-2 -3l2 -3l4 -1zM1420 198l-3 -2l2 -4l4 1l1 3l0 3zM1257 455l2 1l1 2l-1 2l-2 0l-1 -3zM1374 353l3 1l-1 3l-2 2l-2 -2l0 -2zM1421 358l0 -3l3 -1l2 3l-1 2l-3 1zM1201 334l4 -1l1 4l-2 3l-5 1l-2 -4zM1271 380l-4 -2l3 -3l3 0l2 2l-1 3zM1420 338l3 -2l2 4l0 4l-5 -1l-2 -2zM1310 386l0 4l-1 3l-3 0l-1 -2l0 -4zM1443 415l2 -2l3 0l1 3l-2 1l-2 0zM1434 342l5 2l0 5l-5 2l-2 -3l0 -3zM1427 366l-2 0l-1 -2l1 -2l2 1l1 2zM1149 376l-3 1l-2 -3l2 -2l2 0l1 2zM1430 432l-2 -3l2 -3l5 0l1 4l-2 4zM1431 431l-2 -4l2 -4l4 2l2 2l-2 4zM1220 361l-1 -2l2 -1l2 -1l0 3l-1 1zM1200 429l1 -2l3 0l0 2l-1 1l-2 1zM1176 385l-2 2l-1 1l-1 -1l-1 -2l2 -1zM1376 329l2 3l-3 2l-4 1l-1 -4l2 -2zM1219 410l2 0l0 2l0 1l-2 0l-1 -2zM1244 413l0 -5l2 -4l5 2l0 4l-2 2zM1445 300l2 1l-1 2l-2 1l-1 -1l-1 -3zM1442 442l3 -2l4 0l1 5l-3 3l-4 -3zM1455 379l3 -2l5 -1l1 6l-4 1l-4 1zM1150 350l-1 2l-3 -2l0 -2l2 -3l3 2zM1162 390l3 -2l2 2l1 3l-3 2l-2 -2zM1285 398l1 -2l2 0l1 2l-1 1l-2 1zM1185 303l4 1l-1 4l-2 3l-4 -1l-1 -5zM1327 395l2 4l-1 3l-5 1l-2 -4l2 -3z"/><path fill="#387c34" d="M1204 203l-1 2l-2 -1l-1 -2l1 -2l2 1zM1391 200l0 3l-3 0l-2 -2l0 -4l4 0zM1178 339l3 2l-1 4l-3 1l-3 -2l-1 -5zM1441 341l1 2l-1 1l-3 0l0 -2l1 -1zM1269 91l4 -1l2 0l1 3l-2 4l-3 -3zM1177 174l-2 -1l-1 -2l2 -1l2 1l1 1zM1283 201l1 3l0 2l-2 1l-1 -2l0 -2zM1307 383l-1 -2l1 -2l2 -1l1 2l0 2zM1275 203l-3 -1l1 -4l3 1l2 1l-1 3zM1244 207l-5 2l-2 -4l0 -5l5 0l2 3zM1321 83l2 4l-4 2l-4 1l-1 -5l3 -3zM1269 136l3 -2l1 3l-2 3l-3 0l-1 -3zM1186 214l1 -4l3 -2l4 1l-1 4l-3 3zM1287 202l4 1l2 2l-2 4l-4 -1l-2 -3zM1268 213l3 0l-1 3l-2 1l-2 0l0 -3zM1424 291l2 4l-2 4l-5 -1l0 -4l1 -3zM1136 335l3 3l2 3l-4 2l-4 0l0 -5zM1366 99l3 -1l2 3l-1 3l-2 -1l-3 -1zM1220 123l2 3l-2 4l-3 -2l-2 -2l2 -2zM1251 305l3 -3l2 3l1 2l-2 4l-4 -2zM1213 165l-2 1l-1 -2l1 -2l2 -2l2 3zM1194 257l-2 -2l2 -2l2 0l2 2l-2 2zM1391 342l3 1l-1 3l-2 3l-3 -2l1 -4zM1346 152l1 -3l2 0l3 0l-1 3l-2 1zM1285 280l-3 1l-1 -2l0 -3l2 0l2 1zM1332 160l-1 1l-2 0l0 -2l1 -2l2 1zM1399 249l-3 -3l-1 -3l3 -3l5 1l0 5zM1179 216l0 2l-3 2l-1 -3l1 -2l2 -1zM1254 92l2 0l2 2l-2 2l-3 1l-1 -3zM1392 157l4 1l-1 4l-3 3l-4 -1l1 -4zM1292 147l-1 3l-2 3l-4 -1l0 -4l3 -3zM1197 297l-3 -2l1 -3l3 -1l2 2l-1 2zM1328 221l2 -3l3 -2l4 4l-4 3l-3 0zM1312 283l0 -3l0 -2l3 0l1 2l-1 2zM1245 175l-1 5l-3 2l-3 -3l-2 -4l4 -2zM1323 284l4 -1l2 1l2 4l-4 2l-3 -2zM1374 415l0 3l-1 2l-3 -1l0 -2l2 -2zM1174 306l-3 0l1 -3l1 -2l2 1l2 3zM1364 263l1 -4l4 -1l3 4l-3 2l-3 1zM1345 82l-3 -1l1 -3l1 -2l2 1l1 3zM1247 193l2 1l-1 2l-2 1l-1 -2l0 -1zM1274 104l-2 1l-2 -2l0 -2l2 -1l2 1zM1425 141l-3 3l-4 -2l0 -4l3 -2l4 1zM1226 241l3 -2l5 2l-2 4l-3 3l-3 -3zM1166 300l0 3l-1 2l-3 1l-1 -3l2 -3zM1363 194l-2 -3l2 -2l3 -1l2 3l-2 3zM1144 337l2 0l-1 2l-1 1l-2 0l0 -2zM1445 341l-5 -1l-2 -3l0 -4l5 -1l2 4zM1266 349l2 -2l3 1l0 2l-2 4l-2 -3zM1269 173l0 3l-3 2l-3 -2l1 -3l2 -3zM1268 268l-2 -2l-1 -2l2 -3l3 2l-1 3zM1316 220l0 3l-1 2l-3 -1l-1 -2l2 -2zM1386 331l1 -4l3 -1l2 2l1 3l-3 1zM1219 291l-3 -1l-3 -2l2 -2l3 0l3 2zM1307 164l0 4l-1 4l-4 -2l-1 -3l2 -2zM1458 355l4 1l0 3l-2 2l-2 -1l0 -2zM1223 226l3 -2l3 1l3 3l-3 3l-4 -1zM1281 111l-1 3l-1 3l-3 -1l0 -2l1 -3zM1340 308l2 2l-1 2l-3 1l-2 -2l1 -2zM1327 303l0 -4l2 -2l3 0l3 3l-3 3zM1324 372l3 0l2 2l-3 2l-2 0l-1 -2zM1394 156l-2 0l-1 -2l1 -2l3 -1l1 3zM1256 70l3 -1l1 3l-2 2l-3 1l0 -3zM1409 161l3 -1l1 0l1 2l-2 1l-2 0zM1183 196l4 -3l3 2l2 4l-3 2l-5 0zM1288 63l2 -2l4 0l1 4l-2 3l-5 -1zM1307 198l-1 -2l2 -1l1 2l1 2l-2 1zM1208 281l-1 3l-1 1l-3 -1l0 -2l3 -2zM1166 329l1 -3l3 1l2 2l-2 3l-3 0zM1277 160l1 0l2 1l-1 1l-2 1l-2 -1zM1463 316l0 2l-2 1l-2 -2l0 -2l3 -1zM1434 301l3 -2l4 -1l2 4l-4 3l-4 0zM1382 279l-2 -2l0 -1l1 -2l2 1l0 2zM1191 372l-1 -1l-1 -2l2 -1l2 1l0 2zM1288 120l0 -2l2 -2l3 1l-1 3l-2 0zM1222 173l1 -3l3 -1l1 3l-1 2l-2 0zM1336 90l0 4l-4 -1l-2 -2l2 -3l3 -1zM1392 268l3 -1l2 3l-2 3l-4 2l-1 -5zM1346 100l2 2l-2 2l-2 -1l-2 -2l3 -2zM1222 159l2 2l-1 2l-3 2l-1 -2l-1 -4zM1257 72l0 1l-3 0l0 -2l1 -1l2 0zM1317 342l2 4l-2 3l-4 0l-2 -3l3 -2zM1359 144l-3 -2l-1 -3l2 -4l3 3l1 3zM1192 289l-1 3l-3 1l-3 -1l1 -4l3 0zM1285 181l-2 -1l-1 -1l1 -1l1 0l1 1zM1291 108l4 2l-1 3l-3 3l-4 -2l2 -4zM1461 331l0 -2l2 0l1 1l0 2l-2 0zM1359 347l-3 -1l-2 -1l2 -2l2 0l1 2zM1303 242l2 -4l2 -1l3 1l0 3l-3 3zM1370 349l-3 -1l-2 -3l2 -3l5 1l0 3zM1406 370l-1 3l-2 -1l-2 -2l0 -3l4 0zM1415 332l-2 -1l0 -3l2 -1l2 2l0 2zM1285 303l-1 2l-2 0l-1 -2l1 -1l2 0zM1422 325l-3 2l-2 -2l0 -4l3 -1l3 2zM1335 283l-2 -3l2 -4l4 2l0 3l-1 3zM1306 282l3 -1l1 3l0 2l-3 2l-1 -3zM1149 284l-1 3l-2 0l-3 -1l2 -3l1 0zM1261 445l-2 -1l-2 -2l3 -3l3 0l0 4zM1302 59l3 -2l1 3l0 3l-4 1l-1 -3zM1375 198l-1 2l-3 -1l-1 -2l1 -2l3 1zM1174 249l-3 2l-3 -2l1 -3l2 -1l3 1zM1372 245l-2 2l-1 -2l-1 -3l2 0l2 1zM1331 86l1 3l0 3l-3 1l-5 -2l2 -5zM1349 206l3 0l0 3l-2 2l-2 -2l0 -2zM1289 225l1 -1l2 1l0 2l-2 1l-2 -1zM1291 82l1 4l-4 1l-4 -1l1 -4l2 -3zM1342 341l1 2l-2 3l-4 -1l1 -3l2 -2zM1398 251l2 3l-2 2l-2 0l-2 -2l1 -2zM1305 282l3 2l-1 4l-4 0l-2 -3l1 -3zM1222 152l2 -3l3 1l2 2l-2 3l-2 0zM1266 106l3 -4l4 -2l4 4l-2 5l-5 0zM1401 319l2 -1l0 3l-1 2l-3 -1l0 -2zM1360 349l2 -3l3 0l2 3l-3 3l-4 2zM1211 196l-2 -1l0 -3l3 0l2 1l-1 3zM1305 154l-1 3l-3 1l0 -3l0 -3l3 1zM1407 245l-1 -3l3 -1l2 1l1 3l-2 3zM1254 271l-1 4l-3 3l-3 -3l1 -3l2 -1zM1329 195l2 0l1 1l0 2l-2 0l-2 -1zM1343 127l-5 2l-4 -3l1 -4l3 -1l5 1zM1223 162l0 -3l2 -2l2 2l1 3l-2 1zM1304 47l3 -1l2 3l0 3l-4 0l-1 -2zM1312 373l3 3l-3 2l-3 1l-2 -2l1 -4zM1292 91l4 1l0 4l-3 2l-4 -2l0 -4zM1442 316l0 -3l2 1l2 1l-1 2l-2 0zM1180 318l-3 -2l1 -4l4 -1l2 3l-1 3zM1304 200l4 -2l2 4l-2 3l-3 0l-3 -2zM1201 187l-1 -3l2 -2l3 2l1 3l-3 2zM1199 180l-1 -1l1 -2l3 0l0 2l-1 1zM1430 284l4 -3l3 4l-1 3l-4 1l-1 -2zM1339 325l1 3l-2 1l-2 -2l-1 -2l3 -1zM1449 282l5 0l2 2l0 4l-4 0l-3 -2zM1271 215l-2 -4l2 -5l4 2l4 3l-3 4zM1246 98l2 1l1 1l-1 2l-2 1l-1 -3zM1310 41l2 1l2 2l-2 2l-2 -1l-1 -1zM1358 206l-4 -2l-1 -4l4 -2l3 1l0 4zM1262 131l1 3l0 4l-4 0l-2 -3l1 -3zM1362 118l-1 2l-2 0l-2 -2l2 -2l2 0zM1406 237l-2 -1l-2 -2l3 -1l2 0l0 2zM1273 117l-4 0l-2 -2l-1 -3l3 -1l5 1zM1300 303l0 4l-3 0l-2 -2l0 -4l3 0zM1340 190l1 3l-3 3l-2 -2l-1 -2l2 -3zM1265 169l-4 0l-1 -4l3 -2l3 -1l2 4zM1398 322l-1 2l-2 -1l-1 -1l2 -2l2 0zM1350 202l0 -3l3 0l3 1l-2 2l-2 2zM1254 97l-2 1l-2 -1l0 -2l2 -1l2 0zM1362 248l-2 3l-4 -2l0 -5l4 0l2 1zM1438 257l-2 2l-4 0l0 -4l2 -1l4 0zM1262 77l3 -1l4 0l2 4l-4 2l-3 -2zM1204 161l1 3l-3 3l-2 -2l-1 -2l1 -3zM1339 74l-1 2l-2 2l-2 -3l1 -2l2 -1zM1321 149l3 0l2 2l-1 3l-3 1l-3 -2zM1281 204l1 -1l3 0l0 3l-2 1l-2 -1zM1257 264l-2 0l-1 -2l1 -1l2 0l1 2zM1241 197l-3 2l-4 -1l0 -5l5 -1l3 2zM1248 143l1 -2l2 0l3 1l-2 2l-3 1zM1300 250l2 3l0 3l-3 0l-3 -2l2 -2zM1463 341l-2 2l-2 -2l-1 -3l2 -1l3 1zM1193 168l-1 3l-3 -1l-1 -2l1 -3l3 1zM1261 117l2 -1l3 -1l0 4l-3 1l-2 0zM1274 360l2 -3l3 3l1 3l-4 2l-2 -2zM1217 316l2 -4l4 -2l1 4l0 3l-3 0zM1276 139l-2 -3l2 -2l2 -1l4 2l-3 2zM1419 267l3 -2l2 2l1 3l-4 2l-2 -3zM1287 216l-4 -2l2 -4l3 -2l4 3l-1 4zM1378 145l2 -1l2 2l-1 2l-2 1l-2 -2zM1400 296l2 -2l2 2l0 4l-3 -1l-2 -1zM1364 230l-1 -3l3 0l1 1l1 2l-3 2zM1363 288l2 0l1 1l0 1l-1 1l-2 -1zM1409 409l3 -2l3 0l3 3l-3 4l-5 -1zM1360 175l-2 -2l0 -4l4 0l3 3l-2 3zM1377 168l-4 2l-3 -2l1 -3l3 -4l3 3zM1377 376l4 1l1 3l-2 3l-3 0l-2 -3zM1445 305l-3 -3l1 -3l3 -1l3 1l-1 4zM1314 130l-3 0l-1 -2l0 -2l3 -1l1 3zM1252 296l-1 3l-4 0l-3 -3l3 -3l4 0zM1196 239l-2 -3l3 -2l4 -1l2 5l-4 2zM1333 236l2 -3l2 2l2 2l-3 1l-3 1zM1247 215l1 -2l2 2l0 2l-2 1l-2 -1zM1353 215l0 4l-4 3l-3 -2l-1 -4l3 -3zM1316 283l-1 4l-3 -3l-4 -4l5 -2l3 2zM1402 215l1 -2l1 -1l2 1l-1 2l-1 2zM1366 284l1 -2l1 0l1 1l1 1l-2 1zM1445 291l-3 1l-1 -3l0 -2l2 -1l3 2zM1296 153l2 3l-2 3l-3 -1l-1 -3l1 -2z"/><path fill="#44903e" d="M1380 141l2 0l0 3l-2 0l-1 0l-1 -3zM1202 211l-4 1l-2 -2l-2 -4l5 -2l4 2zM1309 164l1 2l-2 2l-3 -1l-1 -3l3 -1zM1464 319l-1 -2l2 0l2 0l0 2l-2 1zM1311 274l4 3l-2 3l-2 2l-3 -2l1 -3zM1406 258l-1 1l-2 0l0 -2l0 -2l2 1zM1193 246l-1 2l-2 2l-3 -2l1 -4l3 1zM1276 188l-1 -3l1 -3l4 0l0 3l0 3zM1317 274l2 3l-1 3l-4 -1l-1 -3l1 -3zM1389 279l-3 -2l0 -3l3 0l3 1l-1 2zM1356 111l-2 0l0 -2l2 -2l2 1l-1 2zM1159 278l-3 1l-2 -3l-1 -4l5 -2l4 4zM1262 121l4 2l1 3l-1 2l-4 0l-2 -3zM1306 122l-3 -3l3 -2l3 0l1 3l-1 3zM1257 181l1 1l0 2l-1 1l-2 -1l0 -2zM1463 296l-4 0l-2 -3l2 -2l2 0l1 1zM1289 151l-1 4l-3 1l-2 -2l0 -2l2 -3zM1304 67l-2 -4l4 -3l5 2l-2 4l-2 3zM1424 262l-2 -2l1 -2l2 0l1 2l0 2zM1311 69l3 -2l3 3l-1 4l-4 0l-3 -2zM1355 336l1 3l-3 2l-3 -1l1 -3l1 -2zM1238 103l-1 -3l3 0l3 2l1 3l-5 2zM1454 256l-2 -2l1 -1l2 -2l2 1l-1 2zM1289 126l-4 2l-3 -1l-2 -4l3 -3l3 3zM1321 117l-1 2l-3 0l-3 -2l2 -4l4 1zM1267 104l-3 1l-1 -3l0 -2l3 -1l3 2zM1359 251l-2 1l-1 -1l-1 -1l2 -1l1 0zM1263 89l3 1l1 2l-2 1l-2 1l-1 -2zM1373 151l0 -4l1 -4l4 1l3 3l-3 5zM1297 307l-1 -3l3 -1l3 0l-1 3l-1 1zM1385 137l3 2l-2 3l-3 -1l-2 -1l1 -4zM1298 175l0 -3l3 0l1 2l-1 3l-3 0zM1240 127l-2 3l-2 -1l-2 -2l2 -2l3 0zM1272 185l1 3l-2 2l-3 -2l0 -2l2 -3zM1317 150l-1 -3l1 -3l3 0l1 3l-1 2zM1288 304l1 1l1 2l-2 1l-1 -1l-1 -2zM1442 238l-1 -3l2 -1l2 1l0 2l-1 1zM1423 227l-2 0l-2 -2l2 -2l2 0l3 2zM1185 246l2 -4l5 2l1 4l-3 2l-4 0zM1225 242l2 3l-3 3l-3 -1l-3 -3l3 -3zM1298 141l-2 1l-2 0l0 -3l2 0l3 0zM1439 334l-1 3l-3 1l-3 -2l2 -3l3 -2zM1408 280l4 1l3 2l-2 4l-4 1l-1 -4zM1293 209l3 1l1 3l-2 1l-3 1l0 -3zM1140 349l2 -2l2 1l0 2l-2 1l-2 -1zM1390 213l2 2l0 4l-4 1l-2 -3l1 -2zM1267 101l-2 2l-2 0l-1 -1l0 -2l2 -1zM1474 348l-2 -1l0 -2l2 -1l2 0l0 3zM1281 107l2 -4l5 -1l2 4l-1 5l-5 0zM1267 120l-1 3l-4 0l-1 -4l2 -2l3 1zM1267 86l1 3l-3 2l-3 -2l1 -3l2 -2zM1470 330l4 1l2 3l-2 4l-4 -2l-2 -3zM1218 240l-3 -4l2 -4l4 -1l4 4l-3 3zM1193 172l2 -4l5 0l1 3l1 5l-6 1zM1322 238l-1 2l-1 1l-2 -1l0 -3l2 0zM1435 207l-1 2l-3 0l0 -3l2 -2l3 0zM1371 152l-1 -3l2 -1l2 0l0 2l0 2zM1278 306l-2 2l-2 -2l0 -3l2 -1l3 2zM1318 220l-3 -3l2 -3l2 -2l3 2l-1 3zM1296 200l-1 -4l2 -3l4 1l1 4l-3 2zM1268 153l3 -3l2 -2l3 2l0 4l-4 1zM1251 141l-2 -3l3 -3l3 -2l3 4l-2 4zM1295 229l0 -4l2 -2l3 1l2 4l-4 1zM1317 121l0 -3l3 -2l3 3l-2 2l-2 2zM1208 210l1 1l0 2l-3 1l-2 -2l1 -4zM1358 292l-4 0l-1 -3l1 -3l3 1l2 2zM1293 107l-1 -2l0 -3l3 1l1 2l0 2zM1194 175l1 2l-1 2l-2 -1l-1 -2l1 -1zM1395 377l1 -2l2 0l2 1l-1 3l-2 0zM1431 304l2 1l-1 2l-2 1l-1 -2l-1 -2zM1292 289l-2 0l-1 -2l2 -2l2 0l0 3zM1173 293l-3 1l-2 -3l0 -2l3 -1l2 1zM1413 129l1 2l-3 2l-2 -1l0 -2l1 -2zM1322 169l-3 -2l0 -3l3 -1l3 1l0 4zM1351 230l5 0l3 0l0 4l-3 3l-4 -2zM1299 141l2 -2l1 2l0 2l-2 1l-2 0zM1409 253l1 2l1 4l-4 0l-3 -3l1 -3zM1243 242l2 3l-2 4l-4 -1l-1 -3l1 -4zM1377 132l0 2l-1 2l-3 0l0 -3l1 -1zM1210 177l4 0l1 3l-2 3l-3 1l-2 -3zM1272 161l0 3l-3 1l-3 -1l1 -3l2 -4zM1268 180l-1 -1l1 -2l2 1l1 1l-1 2zM1289 88l-2 -2l1 -3l4 0l2 3l-2 3zM1259 182l2 -2l3 -1l2 3l-2 2l-3 0zM1346 296l1 3l-1 2l-4 2l0 -4l0 -4zM1273 98l-1 2l-2 2l-2 -2l1 -2l1 -1zM1455 255l-2 1l-2 -3l2 -2l2 0l0 2zM1280 69l1 -1l2 -2l2 2l-1 2l-2 1zM1207 219l-1 -2l2 -2l4 0l0 3l-2 4zM1337 219l-2 -2l1 -2l2 0l3 1l-2 2zM1229 310l-3 1l-3 -1l1 -3l3 -2l2 2zM1302 178l2 2l2 2l-3 1l-2 0l-1 -3zM1474 336l-5 -1l0 -4l2 -3l5 0l-1 4zM1177 298l0 3l-2 2l-4 0l0 -3l3 -2zM1261 64l-1 -2l2 -1l3 0l0 3l-2 2zM1358 145l1 1l0 2l-2 0l-2 -1l1 -2zM1286 159l-1 -4l3 -1l3 0l0 3l-2 2zM1300 237l1 2l-1 2l-3 0l0 -2l1 -2zM1378 121l0 2l-2 2l-2 0l-1 -3l2 -1zM1183 162l3 1l3 1l-2 3l-3 2l-3 -4zM1390 165l4 -1l3 2l1 4l-4 1l-3 -2zM1272 183l-1 -1l1 -2l2 2l0 1l-1 2zM1177 226l-3 3l-4 0l-1 -4l2 -2l4 0zM1201 192l2 0l1 3l0 3l-3 -2l-2 -2zM1380 101l1 3l-3 2l-3 -1l1 -3l1 -1zM1315 172l-3 -2l1 -2l2 -1l2 1l1 4zM1309 152l0 -2l2 -1l2 1l0 3l-2 0zM1162 295l0 -2l2 0l2 2l-2 2l-2 0zM1173 197l3 3l-2 3l-4 1l-2 -3l2 -2zM1359 107l-3 2l-2 0l-2 -2l1 -4l3 1zM1315 221l1 -4l1 -1l4 0l0 4l-3 1zM1397 234l-3 0l-1 -2l1 -1l2 -1l2 2zM1303 126l-2 2l-1 -2l-2 -2l3 -2l1 2zM1399 182l0 4l-2 2l-3 -1l-2 -3l3 -3zM1389 180l-2 0l-1 -1l0 -3l3 0l1 2zM1291 173l3 0l3 2l-1 4l-4 -1l-3 -2zM1257 270l-2 0l0 -2l1 -2l2 1l1 1zM1341 221l2 -1l2 2l0 3l-3 1l-3 -2zM1207 155l-1 3l-4 2l-2 -3l2 -3l2 -1zM1266 268l0 3l-1 1l-3 0l-1 -2l2 -3zM1337 125l-3 4l-4 0l-1 -4l1 -3l4 0zM1308 220l2 -2l1 -1l2 2l0 2l-2 1zM1203 269l0 -3l4 1l1 2l-1 2l-3 0zM1443 227l-2 2l-1 2l-3 -1l1 -3l2 -1zM1161 371l2 -3l2 2l1 3l-3 1l-3 -1zM1268 284l-2 1l-1 -2l0 -2l2 -1l1 2zM1136 370l3 2l1 3l-2 3l-3 -2l-1 -3zM1340 85l0 -4l4 0l3 2l-1 3l-3 2zM1414 206l1 -3l4 1l-1 3l-1 2l-3 0zM1425 184l-3 -3l1 -4l3 -3l3 4l-1 3zM1401 223l1 -1l1 0l1 2l-1 2l-1 -1zM1318 107l2 -2l2 2l-2 2l-2 2l-2 -2zM1294 123l-1 1l-2 0l-1 -3l2 -1l3 1zM1316 237l1 -3l2 2l2 2l-2 2l-3 -1z"/><path fill="#2e6c2c" d="M1180 296l2 3l-4 2l-2 -1l-2 -3l3 -4zM1390 324l-3 1l-2 -3l2 -2l2 -1l2 2zM1251 221l0 -2l0 -3l2 1l3 1l-2 2zM1165 399l0 -3l1 -3l3 2l1 3l-2 1zM1260 80l2 2l0 1l-1 2l-2 -1l-1 -2zM1322 51l0 2l-1 1l-3 0l1 -3l1 -1zM1256 217l-3 -4l2 -4l4 0l2 3l-1 3zM1369 406l2 -3l2 -1l1 2l1 3l-3 0zM1272 435l3 -1l2 3l-1 3l-4 3l-2 -5zM1221 312l-1 2l-1 2l-1 -2l-1 -2l2 -1zM1475 298l-2 2l-4 1l-1 -3l2 -4l4 0zM1334 239l1 -1l2 1l-1 1l-1 2l-2 -1zM1336 376l1 2l0 3l-4 0l-2 -2l2 -3zM1451 418l-3 -1l-1 -2l1 -3l3 0l3 3zM1284 125l-2 0l0 -2l1 -1l2 0l0 2zM1476 334l2 3l-2 3l-5 0l-1 -5l3 -1zM1401 154l2 0l1 3l-2 2l-2 -1l-1 -2zM1170 274l-2 1l-2 2l-1 -3l1 -2l2 0zM1379 248l2 4l-4 1l-3 -1l-1 -4l4 -2zM1224 270l1 -3l3 -1l2 1l0 3l-3 1zM1409 315l2 -2l3 0l2 2l-2 2l-3 0zM1263 95l-1 -1l-1 -2l1 -2l2 1l1 2zM1339 240l0 4l-3 1l-2 -1l-1 -2l2 -2zM1200 201l2 -1l2 0l0 2l-1 2l-3 -1zM1326 268l-4 -2l1 -3l3 -3l4 2l-2 4zM1193 383l-2 -2l1 -4l4 1l1 3l-1 4zM1267 320l-2 -2l2 -3l3 0l1 2l0 3zM1410 166l-1 -2l2 -2l2 0l1 2l-2 2zM1237 194l3 3l-4 2l-4 1l-1 -4l3 -3zM1387 342l-2 -1l-2 -4l4 -2l4 2l0 5zM1332 318l2 -2l1 2l1 3l-3 0l-1 -1zM1342 350l-3 -1l0 -4l3 0l3 1l-1 2zM1369 188l-1 -3l2 -1l2 -1l0 2l-1 2zM1202 296l-2 -4l1 -4l5 -1l3 4l-3 4zM1173 399l0 -3l1 -2l4 0l-1 3l-1 1zM1331 344l2 -3l3 1l0 3l-1 3l-3 -2zM1291 297l-1 -1l-1 -2l2 -1l2 1l0 2zM1352 246l-3 4l-3 2l-1 -3l0 -3l3 -2zM1462 336l-4 -2l-1 -4l4 -2l4 0l0 5zM1232 209l-3 3l-2 -3l0 -3l2 -2l3 1zM1368 380l-4 -3l3 -5l4 -1l3 4l-1 5zM1320 303l-1 3l-3 3l-3 -2l-1 -4l4 -1zM1350 348l3 -3l3 2l-1 4l-3 3l-4 -3zM1228 317l3 -1l2 2l1 2l-2 1l-4 0zM1256 148l0 3l-3 0l-1 -2l0 -3l3 0zM1175 228l4 1l-2 4l-3 1l-1 -2l0 -3zM1214 331l3 -4l5 1l2 4l-4 3l-4 0zM1393 296l2 1l-2 2l-3 0l1 -3l1 -2zM1271 80l-3 -2l-2 -4l3 -3l3 4l3 3zM1464 324l-2 -4l4 -1l3 2l1 3l-3 4zM1362 196l4 -1l1 4l0 3l-5 2l-2 -4zM1321 216l-3 -1l0 -3l2 -1l1 1l2 2zM1347 327l-3 0l-3 0l0 -4l3 0l3 1zM1438 321l-2 4l-4 1l-4 -4l4 -3l3 -2zM1352 174l-5 -1l-2 -4l4 -2l4 -1l2 4zM1370 166l1 3l-2 2l-2 -1l-1 -3l2 -2zM1311 299l-3 0l-1 -2l1 -2l3 0l1 2zM1153 354l3 1l1 2l-2 2l-2 -1l0 -2zM1316 339l-1 2l-3 0l-1 -2l1 -3l3 1zM1468 340l2 3l-1 4l-4 -1l-1 -3l1 -3zM1203 256l-4 -3l1 -4l3 0l3 1l0 4zM1425 191l1 -3l1 -1l3 1l0 2l-2 2zM1264 136l-1 -1l-1 -1l2 -3l3 1l0 3zM1201 176l2 -3l4 0l1 4l-2 3l-3 -2zM1313 398l1 -3l2 -3l3 1l1 4l-3 2zM1408 143l2 -1l1 2l-1 2l-2 1l-1 -3zM1252 216l4 1l2 4l-3 1l-3 0l-1 -3zM1322 254l0 -4l3 -2l4 2l1 5l-5 2zM1285 219l-1 4l-4 -1l-2 -3l2 -4l3 1zM1224 237l-3 0l-1 -4l3 -1l3 -1l1 4zM1331 345l-2 2l-2 -1l-1 -2l2 -1l2 0zM1288 270l-1 5l-4 0l-4 -1l0 -5l5 0zM1436 316l-2 -4l3 -2l3 -2l2 4l-2 4zM1367 417l5 -2l3 4l-3 3l-3 4l-2 -5zM1351 350l-2 0l-2 -2l0 -3l3 -1l2 3zM1187 390l3 3l-2 3l-4 1l-1 -3l0 -4zM1389 354l0 2l0 2l-2 -1l-1 -1l1 -1zM1225 163l0 -2l2 0l2 1l0 3l-3 0zM1254 210l-1 -3l1 -2l3 1l3 2l-3 2zM1455 263l4 -1l2 4l-2 3l-5 1l-1 -5zM1422 403l-2 -3l-1 -3l4 -1l3 2l-1 3zM1366 399l-2 -2l2 -2l2 1l1 2l-2 1zM1368 151l1 3l-2 3l-3 -2l-1 -3l2 -1zM1268 323l-3 -2l1 -4l4 -1l1 3l0 3zM1291 241l2 -2l2 0l2 2l-2 2l-2 1zM1432 259l-1 -4l1 -5l5 0l1 4l-2 3zM1344 303l0 -2l1 -1l2 0l0 3l-2 1zM1289 162l0 -1l1 -2l1 1l1 2l-1 1zM1410 379l-3 0l-1 -3l1 -2l3 0l0 2zM1409 375l-2 -3l3 -1l3 1l2 2l-3 3zM1265 177l2 2l-1 2l-3 2l-2 -3l2 -2zM1385 233l3 -1l2 2l1 4l-4 1l-3 -2zM1249 235l-3 2l-4 1l-1 -4l2 -3l4 1zM1298 164l-3 -3l2 -3l3 -3l4 3l-2 4zM1256 226l1 -4l3 -3l2 4l1 3l-3 0zM1361 157l2 0l1 2l-2 1l-1 0l0 -1zM1201 301l1 2l0 3l-4 0l-1 -2l0 -4zM1243 301l-3 -4l2 -4l4 0l3 4l-2 3zM1428 188l4 3l-3 4l-4 1l-3 -4l1 -4zM1466 361l2 -3l1 0l3 1l-1 2l-2 0zM1212 152l3 -1l4 1l0 3l-3 1l-3 -1zM1274 122l-3 -1l2 -3l3 -1l3 2l-3 3zM1429 169l2 -2l3 1l1 3l-2 3l-4 -1zM1402 190l3 2l-1 4l-5 1l-3 -4l4 -2zM1290 314l-1 2l-3 0l0 -3l2 -2l3 1zM1171 384l-4 0l-3 -1l0 -3l3 -3l3 3zM1416 219l4 0l2 3l-2 4l-4 -1l-2 -3zM1293 201l-2 -2l-1 -2l3 -2l2 2l1 3zM1443 257l2 0l3 2l-2 3l-4 0l0 -3zM1244 303l1 -2l2 -2l2 2l0 3l-3 1zM1302 332l-2 3l-3 2l-3 -3l1 -4l4 0zM1290 68l-1 -3l1 -3l4 1l1 3l-2 2zM1339 350l-2 -3l2 -3l4 1l1 3l-2 2zM1376 233l1 -3l3 -2l4 3l-4 3l-3 3zM1441 250l1 4l-4 0l-3 -1l-1 -4l4 -3zM1196 336l4 1l0 3l-3 3l-3 -1l-1 -4zM1266 172l0 -2l3 0l1 3l-2 1l-2 0zM1424 411l-1 4l-3 4l-4 -3l1 -4l3 -3zM1386 370l0 3l-3 2l-4 -1l0 -4l4 -4zM1337 309l-2 3l-3 -2l-1 -3l3 -2l4 0zM1311 256l0 2l-1 2l-2 -1l-1 -2l2 -3zM1143 342l5 0l3 3l-1 5l-5 0l-2 -3zM1169 339l0 -3l2 -2l3 1l0 3l-1 3zM1344 293l-1 2l-2 -2l0 -2l2 0l1 0zM1403 341l2 -4l3 -1l3 2l-2 3l-2 1zM1230 332l1 -3l3 -1l2 3l1 4l-4 -1zM1368 254l2 -2l4 -2l1 4l-2 3l-4 0zM1390 336l-3 -2l-1 -4l4 -2l5 3l-3 4zM1459 319l0 4l-3 4l-4 -3l1 -3l2 -2zM1175 278l4 -1l2 3l-2 2l-3 2l-1 -3zM1171 310l1 1l-1 2l-2 0l-2 -2l2 -1zM1473 327l0 2l-1 2l-3 0l-1 -3l2 -2zM1404 307l1 -2l2 0l3 2l-3 2l-2 0zM1324 267l1 -1l2 -1l1 2l-1 1l-1 1zM1194 381l2 -4l5 1l0 4l-3 2l-3 0zM1141 302l0 -4l2 -3l3 1l1 3l-1 4zM1227 229l-2 -2l2 -1l1 -1l2 1l-1 3zM1402 261l3 4l-2 3l-3 1l-3 -2l1 -3zM1194 191l-3 1l-2 -2l-1 -3l3 -1l3 1zM1300 275l-1 -2l2 -1l2 1l0 2l-2 1zM1167 221l2 2l1 3l-3 1l-2 -2l-1 -3zM1340 302l-1 2l-1 0l-2 -1l1 -2l2 0zM1323 320l-1 -2l0 -2l2 -1l2 2l0 2zM1178 220l-3 2l-2 -3l1 -3l3 -1l2 3zM1325 356l-1 3l-4 0l-1 -4l2 -3l3 1zM1348 285l2 -2l2 1l2 2l-2 2l-3 0zM1358 160l2 -4l3 1l2 2l-2 3l-3 0zM1147 341l0 1l-2 0l-1 -1l0 -1l2 -1zM1393 364l3 -1l3 2l-1 3l-4 2l-2 -3zM1402 358l1 3l-1 5l-4 -3l-1 -3l2 -3zM1366 423l-2 0l-1 -2l2 -2l2 1l0 2zM1213 194l-4 -3l3 -3l3 -2l4 2l-2 5zM1142 328l-2 -2l1 -2l1 -1l1 2l1 2zM1206 230l1 -3l3 1l1 2l-1 2l-3 1zM1266 227l-2 2l-2 0l-1 -1l0 -3l3 0zM1396 251l-1 3l-3 2l-2 -2l0 -3l3 -2zM1314 382l0 -2l1 -1l2 0l1 2l-1 2zM1139 360l-2 -4l3 -3l4 2l1 3l-2 4zM1243 143l-1 -4l3 -1l3 -1l1 4l-2 2zM1307 303l-1 0l-2 -1l1 -2l2 0l1 2zM1221 125l0 -3l3 0l2 1l1 3l-3 1zM1479 367l1 -2l3 2l-1 2l-1 2l-2 -2zM1404 383l3 -1l1 2l-1 2l-2 1l-1 -2zM1405 204l-3 1l-1 -1l-1 -2l2 -1l2 1zM1235 156l1 -3l4 -1l2 3l-2 3l-3 1zM1253 322l-1 1l-3 -1l2 -2l2 -2l1 3zM1306 256l0 4l-4 3l-4 -2l1 -4l3 -3zM1333 376l2 -2l2 2l0 2l-2 1l-2 -1zM1361 172l2 1l1 3l-4 1l-1 -2l-1 -3zM1217 211l1 1l-1 2l-1 0l-1 -1l0 -2zM1193 251l1 -2l2 -1l2 1l0 3l-3 0zM1185 398l-2 -1l-2 -2l2 -1l2 0l2 2zM1239 127l2 2l-1 2l-2 2l-1 -2l0 -2zM1205 293l-1 -3l2 -1l3 0l0 2l-1 3zM1220 200l2 2l-3 1l-2 0l-1 -3l2 -1zM1289 212l1 2l0 1l-2 2l-2 -2l1 -2zM1272 305l-4 -2l-2 -1l1 -4l3 1l1 2zM1197 299l1 2l0 2l-2 1l-3 -1l1 -3zM1140 361l-4 2l-2 -3l-1 -4l4 -1l3 2zM1254 371l-2 0l0 -2l1 -1l2 0l0 2zM1388 136l4 -2l4 4l-3 3l-4 3l-2 -4zM1387 136l0 -2l2 0l2 0l0 2l-2 2zM1442 263l3 -3l4 1l2 5l-4 2l-4 -1zM1334 357l2 -1l1 2l0 3l-3 1l-1 -3zM1299 335l0 2l-1 2l-3 -1l0 -2l2 -1zM1180 382l-1 -3l3 -1l2 2l-1 2l-2 2zM1169 366l-2 -1l-1 -2l2 -2l3 1l0 3zM1407 266l-3 0l0 -3l1 -3l3 1l2 3zM1436 240l1 1l0 3l-2 0l-2 -1l1 -2zM1165 292l-2 1l-2 -1l0 -3l3 0l2 1zM1329 251l1 3l-3 2l-2 -2l0 -3l2 -1zM1233 245l2 1l3 1l-2 3l-2 -1l-1 -1zM1172 353l-1 -4l3 -1l2 3l0 2l-2 1zM1234 211l-2 3l-3 0l-1 -2l1 -2l2 -1zM1315 203l3 -1l4 0l-2 4l-2 3l-2 -3zM1333 289l2 -1l2 0l0 3l-1 1l-2 -1zM1337 392l3 -1l2 3l-1 2l-3 0l-3 -2zM1442 203l-4 1l-2 -4l2 -3l3 0l3 3zM1354 230l0 3l-2 0l-2 0l-1 -3l3 -2zM1174 281l-1 -3l1 -3l5 0l0 4l-2 3zM1353 299l1 -4l2 -3l4 2l0 4l-3 2zM1413 343l1 3l-4 1l-2 -2l1 -2l2 -3zM1340 296l1 -2l3 0l1 3l-2 2l-2 -1zM1293 195l3 -1l2 3l0 3l-3 1l-2 -2zM1284 305l-3 1l-1 -3l0 -3l3 1l2 2z"/><path fill="#0c240e" d="M1415 452l-1 -3l3 -1l3 0l0 3l-2 1zM1321 413l-4 -2l1 -3l2 -2l3 0l0 3zM1436 415l0 3l-2 1l-3 -2l1 -2l2 -1zM1261 432l0 3l-2 2l-1 -2l-1 -1l1 -3zM1282 404l-2 -3l1 -2l3 -2l1 3l0 3zM1310 384l-3 -2l-1 -3l3 -2l3 2l1 3zM1300 396l3 0l2 3l-3 2l-3 1l-2 -4zM1314 402l-2 -2l1 -2l2 -1l2 1l-1 3zM1300 447l1 -1l2 0l0 2l-1 1l-3 0zM1238 202l0 2l-2 0l-1 0l-1 -2l2 -1zM1400 431l4 1l-1 4l-4 2l-4 -2l0 -5zM1209 424l-5 1l-3 -2l1 -4l3 -2l3 3zM1418 435l-2 -3l3 -3l3 0l2 3l-2 4zM1147 392l1 3l-2 3l-2 -1l-2 -2l2 -1zM1308 354l-1 -3l2 -1l2 0l0 2l0 4zM1311 432l-1 5l-3 3l-4 -3l-1 -4l4 -2zM1182 428l-2 1l-2 2l-1 -3l1 -1l3 -2zM1347 403l-3 -1l-1 -2l2 -3l2 1l2 3zM1319 420l-1 -3l3 -1l3 0l2 5l-5 1zM1264 400l-1 -2l2 -1l1 1l1 1l-1 2zM1289 405l-3 1l-1 -3l0 -5l5 1l2 4zM1372 388l1 -1l3 0l1 2l-2 1l-2 0zM1302 365l2 -2l2 -1l1 2l-1 2l-2 0zM1293 449l-1 1l-2 -2l1 -2l2 0l1 1zM1408 321l-2 0l-2 -3l3 -1l2 -1l1 3zM1382 424l2 3l-3 3l-3 -1l-1 -3l1 -4zM1404 446l0 2l-3 0l0 -2l1 -2l2 0zM1267 433l3 0l2 2l-2 2l-2 1l-2 -2zM1329 426l2 1l-1 3l-2 -1l-3 -1l2 -2zM1294 394l-1 2l-2 -1l-1 -2l2 -1l2 0zM1272 394l3 0l1 2l0 3l-4 0l0 -3zM1245 317l-1 -2l2 -2l2 2l0 2l-1 1zM1293 415l-1 -1l2 -2l2 0l1 3l-2 2zM1292 430l0 -3l3 -2l1 3l0 2l-2 2zM1321 416l3 2l-3 3l-4 1l-1 -3l2 -4zM1304 393l-3 1l-2 -3l1 -2l2 -1l3 1zM1248 371l0 2l-2 2l-2 -2l0 -3l3 -1zM1261 442l0 2l-1 2l-2 -2l-2 -2l3 -2zM1227 426l-1 4l-3 1l-2 -2l0 -3l3 -2zM1275 333l-4 1l-2 -4l3 -4l4 1l0 4zM1275 374l-1 -3l2 -1l2 1l1 2l-2 1zM1281 391l1 4l-2 2l-3 0l-2 -2l2 -3zM1428 443l2 1l-1 3l-2 2l-3 -2l2 -3zM1388 368l1 4l-2 4l-5 0l1 -5l1 -3zM1219 416l1 2l0 2l-2 1l-2 -2l1 -2zM1266 398l-2 1l-2 1l-1 -3l2 -2l3 1zM1327 406l1 1l0 3l-4 0l-1 -3l2 -2zM1307 382l2 0l2 0l0 1l-1 1l-2 1zM1465 415l-2 2l-3 -1l0 -2l1 -2l2 1zM1274 456l-1 2l-2 2l-3 -3l1 -3l3 0zM1179 416l2 -1l2 2l0 3l-3 0l-2 -2zM1205 393l-4 1l-2 -3l-1 -4l4 0l2 2zM1279 426l2 4l-3 3l-4 -1l0 -3l2 -3zM1218 357l2 2l-2 2l-2 0l-3 -2l2 -3zM1249 368l1 3l-3 0l-2 0l-1 -2l2 -2zM1271 337l-2 3l-3 -2l-1 -3l3 -1l2 0zM1241 428l0 3l-2 2l-4 -1l1 -4l3 -1zM1142 393l1 -1l2 1l0 2l-2 1l-2 -1zM1364 363l-4 1l-4 -1l1 -4l3 -2l4 1zM1184 439l-4 -1l-1 -4l2 -3l4 1l1 3zM1239 419l-3 1l-2 -1l0 -2l2 -2l2 1zM1330 408l2 -4l2 -3l3 2l1 4l-3 3zM1203 358l2 -2l2 -3l2 3l-1 2l-1 1zM1244 417l-2 2l-3 1l0 -3l0 -4l4 2zM1381 411l0 -3l1 -1l2 0l1 2l-1 2zM1264 421l-3 3l-2 -3l-1 -3l3 -1l2 1zM1304 379l0 -2l3 1l2 2l-2 2l-3 -1zM1219 432l2 -1l3 0l0 4l-3 1l-2 -1zM1225 422l-3 3l-3 -2l-2 -3l3 -2l3 1zM1299 389l-5 0l-1 -3l1 -3l3 0l4 2zM1245 398l-2 -1l0 -2l2 -2l2 1l-1 2zM1296 429l1 4l-3 2l-3 -2l-1 -3l3 -1zM1295 444l-3 1l-3 0l-1 -3l2 -2l3 1zM1251 164l0 -1l1 -2l1 1l1 2l-1 1z"/><path fill="#56a04a" d="M1293 306l-4 2l-3 -2l2 -3l2 -2l3 2zM1303 223l3 1l0 4l-4 1l-1 -2l-1 -3zM1199 187l0 -2l2 -1l1 1l0 2l-2 1zM1204 188l-2 -3l1 -3l4 -1l2 3l-1 4zM1344 285l-3 -3l0 -3l4 -2l1 3l1 3zM1394 190l2 -3l3 2l0 3l-2 2l-3 -1zM1312 238l-3 0l-2 -1l1 -3l3 0l2 1zM1205 145l1 -4l4 1l2 2l-1 4l-4 -1zM1346 120l2 -4l3 -1l3 2l1 5l-5 1zM1331 220l1 3l-1 4l-4 -1l0 -4l1 -3zM1359 110l4 -2l3 2l0 4l-3 2l-3 -3zM1424 216l-1 -2l2 -2l2 2l1 2l-3 1zM1310 114l3 1l-1 4l-2 1l-2 -1l0 -3zM1315 99l-3 3l-4 0l1 -3l1 -2l3 -1zM1169 299l-2 2l-2 -3l0 -2l3 -2l3 2zM1370 103l4 2l-2 4l-3 2l-4 -3l2 -3zM1378 222l-2 1l-3 -1l0 -4l4 0l3 1zM1330 280l3 1l2 1l-2 3l-2 0l-3 -2zM1302 69l-2 2l-4 1l1 -5l2 -2l4 0zM1298 133l-1 -4l3 -1l2 1l1 2l-2 2zM1281 174l0 2l-2 1l-2 -1l-1 -2l3 -2zM1295 212l0 -5l5 -1l4 2l-1 5l-5 2zM1257 85l3 1l2 4l-4 3l-3 -3l-1 -3zM1317 181l1 1l-1 2l-2 0l0 -2l0 -1zM1290 213l4 0l-1 3l-2 2l-4 0l0 -4zM1408 138l-2 1l-3 -2l1 -3l3 0l2 2zM1406 210l0 -4l4 0l2 3l-1 4l-4 0zM1261 255l-3 1l-1 -3l2 -2l3 -1l1 3zM1332 63l1 2l0 2l-2 0l-2 -1l0 -2zM1306 227l3 -2l3 1l1 4l-3 2l-3 -2zM1323 160l-1 2l-2 2l-1 -2l-1 -2l2 -1zM1247 152l1 2l-2 3l-3 -1l-1 -3l2 -2zM1361 116l0 -2l3 -1l1 3l-1 2l-3 2zM1301 49l4 0l4 1l-2 4l-3 2l-2 -3zM1169 358l2 2l-1 2l-2 1l-1 -1l0 -2zM1254 114l3 0l1 2l-1 2l-2 -1l-2 -1zM1282 246l1 3l-1 2l-4 0l0 -3l0 -4zM1169 227l3 -1l2 2l-1 3l-3 1l-1 -3zM1408 188l-3 -2l-1 -3l2 -4l4 3l2 4zM1174 319l3 2l-2 3l-4 0l-3 -3l4 -2zM1374 174l-1 1l-2 0l0 -2l1 -2l2 0zM1396 322l-3 2l-3 -3l1 -4l3 1l3 1zM1450 222l0 -2l2 -1l2 1l-1 2l-1 1zM1328 97l0 -2l2 -1l1 1l1 2l-2 1zM1360 134l-1 1l-2 -1l0 -3l2 0l2 1zM1387 117l3 -2l3 2l1 3l-3 2l-3 -2zM1401 129l-1 2l-2 0l-3 -1l1 -3l3 -1zM1445 238l3 0l3 2l-3 2l-3 1l-1 -3zM1277 170l-2 2l-2 0l-1 -2l2 -2l2 1zM1309 99l2 1l0 3l-3 2l-2 -3l-1 -3zM1336 86l2 2l-2 2l-2 1l-2 -2l1 -3zM1364 140l2 0l2 1l0 3l-3 1l-2 -2zM1359 95l-3 -1l0 -3l2 -3l4 1l0 4zM1223 188l-2 1l-2 -3l2 -2l2 0l3 2zM1188 201l-2 0l-1 -1l0 -2l2 0l2 1zM1285 49l2 -2l1 3l-1 2l-2 2l-2 -3zM1305 90l-2 3l-2 0l-2 -1l1 -3l2 -1zM1407 176l-3 -1l-1 -3l3 -2l2 1l1 3zM1399 125l2 2l-2 1l-2 1l-2 -2l2 -2zM1366 232l1 -3l1 -2l2 2l1 2l-2 1zM1259 313l0 -4l4 2l3 2l-3 2l-3 1zM1287 230l-2 2l-2 -2l0 -3l3 -2l1 3zM1287 47l1 3l-2 1l-2 -1l0 -2l1 -1zM1335 89l1 3l-3 1l-2 -2l0 -2l2 -3zM1160 259l1 -3l3 1l1 3l-2 2l-3 0zM1418 179l-1 2l-3 0l0 -3l1 -2l2 1zM1266 285l1 -3l3 -1l2 2l0 4l-3 1zM1214 179l1 3l-2 4l-5 -2l-1 -5l4 -1zM1428 230l-3 0l-2 -2l-1 -4l4 1l4 1zM1319 80l-4 0l-2 -1l0 -3l2 -3l3 3zM1235 176l-4 0l1 -4l2 -2l3 1l1 4zM1216 172l2 2l1 2l-2 1l-2 -1l-1 -3zM1367 87l4 1l1 4l-3 4l-4 -2l0 -4zM1295 46l-2 1l-1 0l-1 -2l2 -1l2 -1zM1432 207l2 1l1 4l-4 1l-2 -2l0 -3zM1253 230l-1 -2l2 -1l2 0l0 2l-1 2zM1205 150l1 4l1 3l-3 0l-3 -1l0 -4zM1259 102l-2 3l-4 -2l0 -3l2 -3l4 1zM1373 132l-3 -2l0 -3l2 -2l4 0l-1 4zM1415 222l3 -2l3 1l1 4l-3 0l-3 0zM1274 177l2 2l0 3l-3 1l-2 -2l0 -3zM1389 199l-2 0l-2 -1l0 -3l2 0l3 1z"/><path fill="#70b05c" d="M1246 235l2 -4l4 2l1 3l-2 3l-5 0zM1315 73l-4 -2l2 -4l4 0l2 2l-1 4zM1252 264l-3 1l-2 -2l1 -3l2 0l3 2zM1369 141l-2 -3l1 -3l3 1l2 1l-1 4zM1369 102l-2 -2l0 -3l2 -1l3 1l-1 3zM1177 295l0 4l-3 2l-3 -2l0 -3l2 -3zM1284 240l1 -4l2 -2l3 1l2 4l-4 3zM1296 93l2 3l-2 2l-2 0l-2 -1l1 -3zM1175 280l1 -2l1 -2l2 1l1 3l-2 2zM1311 112l2 -2l3 0l1 4l-3 1l-4 0zM1276 93l-2 -1l-2 -2l2 -2l3 -1l1 3zM1209 186l0 3l-4 2l-1 -3l-1 -3l3 0zM1296 47l-4 0l0 -4l4 -2l4 1l-2 4zM1274 92l-1 1l-3 0l0 -3l3 0l2 0zM1420 290l-2 4l-3 -2l-1 -3l1 -5l3 3zM1196 158l-2 -4l4 -2l3 3l2 4l-4 2zM1415 288l0 -2l3 -1l1 2l0 2l-2 1zM1350 206l-2 -1l0 -3l2 1l2 0l-1 2zM1203 257l-1 -3l1 -2l4 -1l0 3l-1 2zM1417 128l1 3l-3 2l-3 0l0 -3l2 -2zM1276 97l0 2l0 1l-2 0l-1 -1l1 -2zM1358 85l-3 -1l1 -3l3 -2l3 2l0 4zM1335 116l-4 0l-3 -3l2 -4l4 1l3 2zM1347 77l0 4l-1 2l-3 -1l-2 -2l3 -2zM1376 139l1 3l-2 3l-4 -1l-1 -4l3 -1zM1407 191l0 3l-1 1l-2 1l-1 -2l1 -2zM1452 246l5 0l4 4l-3 5l-5 0l-1 -4zM1167 249l-1 4l-3 -2l-1 -2l1 -2l3 0zM1251 249l3 1l0 4l-2 3l-3 -3l0 -2zM1386 115l1 1l1 2l-2 2l-2 -2l1 -2zM1366 119l-1 -1l0 -2l1 -1l1 1l1 2zM1328 285l3 -3l2 3l1 2l-3 1l-1 -1zM1414 214l-2 0l0 -2l0 -1l2 0l1 2zM1374 229l0 3l-2 2l-3 0l-1 -4l3 -3zM1423 139l3 1l1 3l-1 3l-4 0l0 -4zM1209 172l2 -4l1 -4l5 2l-1 4l-3 2zM1419 235l-1 3l-3 2l-3 -4l3 -2l3 -1zM1348 186l-4 1l-1 -3l1 -3l3 0l1 2zM1408 190l-2 1l-3 -1l-1 -3l3 -1l4 1zM1243 100l-2 -2l1 -4l4 2l3 2l-3 3zM1166 247l-3 0l0 -2l1 -3l2 1l2 2zM1346 213l5 1l1 4l-3 4l-4 -1l0 -4zM1315 107l1 4l-2 3l-4 1l-2 -4l2 -5zM1310 135l-4 -2l1 -3l3 -3l3 2l0 4zM1350 222l-3 0l-1 -3l1 -2l3 0l0 3zM1323 75l-1 3l-3 -1l-3 -2l2 -3l3 0z"/><path fill="#255a24" d="M1391 260l-4 0l0 -4l1 -2l3 -1l2 3zM1363 384l-2 0l-2 -1l0 -2l2 -1l2 2zM1381 384l-1 -2l1 -3l3 -1l1 3l-1 3zM1398 372l1 3l-3 3l-4 -2l-1 -4l4 -3zM1231 153l-1 1l-1 2l-2 -1l0 -3l2 0zM1384 159l-2 -2l2 -2l3 1l1 2l-2 1zM1405 148l-4 0l0 -4l1 -4l4 3l2 3zM1245 223l2 -3l4 -2l1 4l0 4l-4 0zM1195 376l2 2l-1 3l-3 1l-3 -2l2 -3zM1266 431l-2 1l-2 -2l1 -2l2 -1l1 2zM1250 215l-3 3l-4 -2l0 -4l3 -2l4 1zM1239 194l1 1l-1 2l-2 0l-1 -2l1 -2zM1295 188l2 -1l2 -1l0 2l0 2l-2 0zM1305 72l1 -3l3 0l2 2l-1 2l-2 1zM1375 164l1 1l0 2l-2 0l-1 -2l0 -2zM1429 341l-1 -3l3 1l2 2l-1 2l-2 1zM1235 295l0 -3l3 -2l2 1l1 3l-3 1zM1136 361l1 -2l2 -1l2 1l-1 3l-2 0zM1436 312l-5 2l-1 -5l1 -2l3 -3l4 4zM1242 431l2 1l1 3l-3 1l-2 0l0 -3zM1285 186l4 -1l3 3l-1 4l-4 1l-2 -3zM1414 415l3 -3l3 3l0 3l-4 2l-3 -2zM1448 351l0 3l-3 0l-2 -2l1 -3l3 -1zM1268 315l-2 2l-3 -1l0 -3l2 -1l2 1zM1260 242l-3 -3l0 -3l3 -1l3 2l0 3zM1229 151l-3 -1l-2 -2l1 -1l2 -1l3 1zM1249 382l-1 3l-2 1l-3 -2l2 -2l2 -1zM1358 340l-2 0l-2 -1l1 -2l2 -1l1 2zM1242 326l0 -3l3 -1l2 2l0 3l-3 1zM1201 314l-1 4l-4 0l-3 -3l3 -2l4 -3zM1252 161l-2 0l-2 -3l3 -1l2 0l1 2zM1355 390l-1 -1l1 -2l2 1l1 1l-1 2zM1390 267l2 -1l2 1l-1 2l-1 2l-2 -2zM1277 359l1 3l-3 1l-2 0l-1 -3l2 -2zM1383 328l3 1l2 3l-3 3l-3 -1l-1 -4zM1375 313l1 4l-4 2l-4 0l0 -4l3 -2zM1242 219l0 4l-1 3l-4 -2l-2 -3l4 -2zM1269 129l-3 -2l2 -4l4 -1l2 4l-1 4zM1215 361l-3 0l0 -2l1 -1l2 -1l1 2zM1367 426l-3 1l-2 -2l1 -3l2 -1l2 3zM1339 382l-4 1l-2 -2l0 -3l3 -2l2 3zM1267 358l2 3l1 4l-4 -1l-3 0l0 -4zM1319 199l1 -3l3 0l3 3l-2 3l-4 0zM1241 290l1 -3l2 -1l4 0l0 4l-3 3zM1356 377l2 2l2 3l-2 3l-3 -2l-1 -3zM1204 284l2 -2l2 0l1 2l-1 2l-2 0zM1181 384l3 0l0 3l-2 0l-3 1l0 -3zM1252 391l0 -4l4 -2l2 3l0 2l-3 3zM1304 198l2 2l1 3l-2 2l-3 -1l1 -3zM1373 246l-1 -3l3 -2l4 1l-1 3l-2 2zM1354 387l2 3l-2 1l-2 2l-2 -3l1 -3zM1394 353l3 -1l3 2l-1 4l-3 0l-2 -2zM1417 313l2 3l-2 2l-3 0l-1 -3l1 -2zM1443 347l0 -5l4 -4l4 3l1 5l-5 1zM1357 323l-5 0l-1 -5l2 -4l5 1l1 4zM1468 352l3 2l2 4l-4 2l-4 -2l-1 -4zM1228 342l-1 1l-2 0l-1 -2l2 -1l1 0zM1354 145l1 3l-3 2l-4 0l0 -4l3 -2zM1271 141l-2 3l-3 -2l1 -2l2 -3l2 2zM1367 168l-4 1l-4 -1l2 -4l4 -4l2 4zM1370 377l4 -3l4 1l0 4l-2 3l-5 -1zM1196 388l0 2l-1 2l-3 0l-1 -3l2 -2zM1295 344l-4 -2l1 -5l4 -1l3 2l-1 4zM1420 183l4 1l1 3l-3 4l-4 -2l-1 -3zM1313 234l2 -4l4 2l2 4l-4 4l-4 -2zM1234 115l2 -3l2 2l3 2l-3 3l-3 -1zM1449 355l2 -2l2 2l0 3l-3 1l-2 -2zM1368 340l0 4l-3 2l-4 -1l2 -4l2 -2zM1430 202l2 3l0 3l-3 2l-3 -3l1 -3zM1263 333l4 -2l3 4l-1 4l-4 -1l-2 -2zM1297 317l0 3l-3 0l-2 0l1 -2l1 -3zM1431 336l2 -4l4 0l3 2l-2 3l-3 0zM1330 330l-4 2l-3 -1l0 -3l2 -3l3 2zM1236 187l2 2l-2 3l-2 0l-2 -2l1 -3zM1177 299l3 1l3 1l-1 3l-3 1l-3 -2zM1289 372l-1 -4l5 -3l3 4l2 4l-5 3zM1323 366l-2 0l-1 -1l0 -3l2 0l2 2zM1351 317l0 2l-2 2l-2 -2l0 -3l2 0zM1456 272l2 0l2 3l-2 2l-3 -1l0 -2zM1327 225l-5 0l-3 -4l4 -3l4 -2l2 5zM1349 250l-4 3l-3 -3l-2 -2l3 -2l4 0zM1473 343l-2 -3l3 -2l4 -1l0 4l-2 2zM1385 158l2 -4l3 -3l4 2l0 5l-4 1zM1364 305l-2 2l-2 -2l0 -2l2 -3l3 2zM1332 357l3 -3l3 1l0 3l-1 2l-3 0zM1185 217l-3 -1l-3 -2l4 -3l2 2l1 2zM1356 324l2 -3l3 0l2 2l-2 2l-3 2zM1259 406l2 1l-2 2l-2 0l-1 -1l1 -2zM1410 413l2 0l2 1l-1 2l-2 1l-2 -2zM1277 401l3 0l1 3l-2 2l-2 -1l-1 -1zM1185 319l1 -2l2 0l1 2l-1 2l-2 0zM1192 216l-3 1l-2 0l-1 -2l2 -2l3 0zM1396 242l-2 1l-3 0l0 -3l2 -3l4 2zM1304 375l2 -5l5 0l2 4l-1 5l-4 -1zM1186 231l0 -3l2 -1l2 2l0 2l-2 1zM1258 233l1 4l-3 3l-2 -2l-3 -3l4 -1zM1196 326l0 2l-1 2l-4 0l0 -4l3 -1zM1270 308l-2 0l0 -3l2 -1l1 1l0 2zM1174 397l-2 -2l0 -2l2 -2l3 2l-1 3zM1189 327l3 -3l4 2l1 3l-3 3l-3 -1zM1360 270l1 2l-1 2l-2 1l-2 -3l2 -2zM1369 260l2 -1l1 1l1 2l-2 0l-2 0zM1273 149l-4 1l-2 -4l3 -3l4 -1l1 4zM1258 307l-2 -2l1 -3l3 1l1 1l0 3zM1273 316l2 1l0 1l-1 2l-2 -1l0 -2zM1225 333l2 4l-4 2l-5 0l-1 -4l4 -4zM1280 381l1 2l-2 3l-3 0l-3 -4l4 -2zM1405 314l-1 -2l1 -2l3 1l0 1l-1 2zM1445 278l2 -1l2 2l-1 3l-3 0l-1 -3zM1386 265l3 3l-3 3l-4 1l0 -4l2 -3zM1447 270l-3 -3l2 -3l3 -1l1 3l0 2zM1188 365l1 -4l5 1l0 4l-2 3l-3 -1zM1429 345l-1 3l-3 0l-3 -2l1 -3l3 0zM1363 152l-3 -2l0 -3l2 -2l3 1l0 4zM1409 394l1 1l0 2l-1 1l-2 -1l0 -3zM1453 356l3 -1l3 1l-1 3l-2 3l-4 -1zM1308 373l-4 -2l1 -4l4 -1l4 2l-2 4zM1387 338l4 -2l3 3l0 4l-4 2l-4 -3zM1202 380l-1 3l-2 0l-3 -1l1 -4l3 0zM1242 266l1 1l-2 2l-2 0l0 -3l1 -2zM1244 155l1 -3l4 0l2 4l-3 2l-3 -1zM1442 414l-1 4l-4 0l-1 -3l-1 -5l5 0zM1151 333l3 -2l3 2l1 4l-4 1l-2 -2zM1461 285l4 0l3 2l0 5l-5 -1l-4 -2zM1361 401l-1 -2l2 -1l3 0l-1 2l-1 3zM1342 420l3 3l-2 4l-4 1l-1 -4l1 -3zM1443 323l-3 1l-4 -1l0 -3l3 -1l4 0zM1461 368l-2 1l-2 -1l0 -2l1 -2l2 2zM1424 350l1 2l0 2l-2 0l-2 -1l1 -2zM1403 163l2 -1l1 2l0 1l-2 1l-1 -2zM1191 413l-2 4l-3 3l-4 -3l1 -4l4 -2zM1461 379l-2 -1l-1 -2l2 -1l2 0l1 3zM1396 316l2 0l3 0l-1 3l-2 1l-3 -1zM1312 277l-2 0l-2 -1l1 -2l2 0l1 1zM1349 268l0 2l-2 1l-3 -1l0 -3l3 0zM1353 266l1 -3l3 -1l2 4l-2 2l-3 1zM1251 300l2 1l-1 3l-2 0l-2 0l0 -4zM1371 238l-1 3l-1 2l-2 -2l-2 -2l3 -1zM1368 301l-1 -3l4 -1l3 1l-1 3l-3 3zM1354 407l2 -3l4 1l1 4l-3 2l-4 0zM1291 418l2 -3l4 1l-1 4l-1 3l-4 -1zM1228 266l-4 0l0 -5l4 -2l4 3l-1 3zM1457 372l1 2l-2 2l-2 -1l0 -2l2 -1zM1203 203l1 3l-2 1l-2 0l-2 -2l2 -1zM1243 308l3 0l4 3l-4 2l-5 1l-1 -4zM1442 193l1 2l-2 4l-3 -2l-1 -3l2 -2zM1321 264l2 1l-1 1l-2 1l-1 -1l0 -3zM1241 346l0 -4l5 -1l2 3l0 4l-4 0zM1373 422l2 5l0 2l-3 4l-3 -4l0 -4zM1375 383l1 -3l4 -2l1 4l-1 3l-3 -1zM1412 317l5 -2l2 5l-2 4l-4 0l-3 -4zM1438 424l-2 -2l2 -1l2 0l1 2l-1 2zM1155 299l3 0l2 3l-3 3l-2 -2l-1 -2zM1169 417l0 2l-2 1l-1 -2l0 -1l2 -1zM1301 344l-1 -2l1 -1l2 -1l1 2l0 2z"/><path fill="#1c461c" d="M1445 409l4 1l3 2l-2 3l-3 2l-1 -4zM1438 428l-3 -2l-1 -2l1 -3l3 1l2 3zM1444 322l-2 2l-2 1l-1 -2l1 -2l2 -1zM1249 400l1 2l-2 2l-2 -1l0 -2l1 -2zM1192 360l0 2l-2 2l-2 -1l1 -3l1 -1zM1245 242l2 4l-3 2l-3 0l-1 -3l2 -2zM1156 384l-3 -1l0 -4l4 -2l3 4l-1 3zM1375 380l-3 3l-3 -2l-1 -4l4 -3l2 3zM1394 266l-3 0l-2 -1l1 -2l2 -1l3 1zM1281 343l-3 2l-2 -2l-2 -4l4 -2l3 3zM1262 342l3 -1l3 0l2 3l-4 2l-2 -1zM1146 380l2 4l-2 4l-4 -1l-4 -3l3 -3zM1320 317l3 -3l2 3l-1 3l-3 2l-2 -3zM1442 278l-1 -4l4 -1l2 3l-1 2l-2 2zM1266 328l2 2l1 2l-3 1l-2 -2l0 -3zM1451 332l-2 -2l1 -3l4 0l2 3l-2 3zM1352 311l-1 -2l2 -1l2 1l0 2l-2 1zM1329 336l1 -3l4 0l1 4l-3 2l-2 -1zM1363 413l1 -1l2 -1l2 1l-1 2l-2 2zM1415 367l3 -1l1 2l0 2l-3 1l-2 -2zM1419 384l2 -1l2 1l2 3l-3 1l-2 -1zM1348 310l-3 -3l-1 -5l5 0l4 1l-2 5zM1279 294l4 0l3 4l-3 3l-4 2l-2 -5zM1466 286l4 -3l4 1l0 4l-2 3l-3 -1zM1385 241l-1 -2l0 -2l2 -1l2 2l-1 2zM1239 425l-2 -1l1 -2l1 -1l2 1l0 3zM1293 402l2 3l-1 2l-3 1l-1 -2l-1 -3zM1439 407l-2 4l-2 3l-4 -1l1 -4l2 -3zM1227 295l-3 -2l0 -3l3 -2l4 2l-1 4zM1320 415l3 3l-4 2l-3 -2l0 -2l2 -2zM1129 362l2 -1l1 2l0 2l-2 1l-2 -2zM1252 408l-3 2l-3 -2l1 -3l2 -2l3 2zM1427 413l-3 -1l1 -3l2 -2l3 2l0 3zM1268 430l3 3l-2 3l-2 2l-3 -3l2 -3zM1408 438l-1 -1l0 -1l1 -2l2 1l0 3zM1317 438l3 -2l3 2l-1 4l-3 0l-2 -1zM1169 398l-1 5l-4 1l-2 -3l0 -2l3 -3zM1226 365l2 -2l2 1l2 2l-2 3l-3 -1zM1214 330l2 1l2 1l-1 2l-3 1l0 -3zM1225 324l3 2l-1 3l-3 2l-3 -3l0 -3zM1322 245l0 2l-1 1l-2 0l0 -2l1 -2zM1226 267l3 -3l3 0l3 3l-2 3l-4 -1zM1343 408l1 -4l2 0l2 1l1 3l-3 1zM1156 386l1 -3l3 -2l2 2l-1 3l-2 1zM1151 379l-3 0l0 -3l1 -3l3 0l0 3zM1208 395l0 3l-1 3l-3 -1l0 -3l1 -3zM1406 321l-2 2l-2 -1l0 -2l1 -1l3 0zM1436 258l3 -2l3 3l-3 3l-3 3l-3 -4zM1155 398l-5 -2l0 -4l4 -2l4 0l-1 4zM1367 324l3 0l1 3l-2 3l-3 -1l-2 -3zM1398 421l0 3l-3 1l-4 -1l2 -3l3 -2zM1231 345l-3 -1l-2 -2l2 -2l2 -1l1 3zM1456 356l-4 1l-2 -4l2 -2l4 -2l1 4zM1182 420l-1 5l-4 0l-3 -1l0 -4l3 -2zM1183 411l-2 -3l3 -2l4 0l0 3l-2 3zM1235 413l0 -3l2 0l2 0l0 3l-2 1zM1279 332l2 -3l4 -2l2 4l-2 4l-3 -1zM1352 185l1 -1l3 0l0 3l-2 1l-2 -1zM1184 423l0 2l-1 2l-3 0l-2 -3l3 -2zM1376 432l4 1l0 4l-2 4l-5 -2l1 -4zM1193 381l-4 -1l-2 -2l2 -3l4 0l0 3zM1212 247l-4 -1l-1 -4l2 -3l4 0l1 4zM1290 380l-4 -2l1 -4l4 -1l2 2l0 4zM1181 430l-1 1l-2 0l-1 -3l2 -1l2 1zM1214 349l-2 2l-2 1l-4 -1l2 -3l3 -2zM1411 251l0 -3l3 -1l4 0l0 5l-4 1zM1355 376l-1 3l-3 0l-4 -2l3 -2l3 -2zM1450 360l-2 1l-2 0l1 -2l1 -1l2 1zM1311 438l0 -2l2 -1l2 2l-1 2l-3 0zM1343 135l-1 3l-2 2l-3 -1l1 -3l2 -3zM1258 395l-2 3l-3 -1l-3 -1l1 -4l4 -1zM1384 357l-1 -2l2 -1l2 1l0 2l-2 1zM1335 341l-4 -1l-2 -3l1 -4l4 1l3 3zM1231 376l-2 4l-3 -3l-1 -3l3 -1l4 0zM1227 355l0 -4l2 -2l5 0l-2 5l-2 2zM1378 431l1 -2l2 -2l2 1l1 3l-3 1zM1225 151l0 -4l4 0l2 2l-1 3l-3 1zM1396 321l0 4l-4 2l-3 -3l0 -3l3 -2zM1190 328l-2 1l-3 -2l1 -3l4 -2l1 3zM1457 329l1 4l-2 2l-4 -1l0 -3l2 -2zM1209 380l1 2l0 2l-3 0l-1 -1l1 -2zM1352 371l1 -3l3 2l0 3l-2 2l-3 -1zM1242 288l1 -2l1 0l2 1l0 2l-3 0zM1247 366l3 0l-2 4l-2 3l-3 -3l0 -4zM1345 323l3 -1l3 3l-2 3l-3 1l-3 -3zM1313 303l-1 -2l0 -3l3 0l1 2l-1 2zM1256 368l1 1l1 3l-3 0l-1 -2l0 -2zM1217 244l-2 3l-3 -2l0 -2l1 -2l3 1zM1295 363l-1 3l-4 1l0 -4l0 -2l3 0zM1245 447l-4 0l-1 -3l2 -2l2 0l1 2zM1432 254l-1 3l-2 0l-3 -1l1 -2l2 -1zM1261 92l-2 -1l1 -1l1 -3l2 2l-1 2zM1424 346l2 -1l2 0l0 3l-1 2l-2 -1zM1198 408l-1 4l-3 2l-3 -2l-1 -4l4 -2zM1278 455l-1 -3l2 -2l3 0l0 3l-1 2zM1382 418l0 -2l3 -1l1 1l0 2l-1 1zM1260 432l-2 4l-3 -2l-1 -5l4 -2l2 3zM1248 313l2 -3l3 -1l2 3l-1 4l-4 0zM1250 342l1 1l1 2l-2 1l-2 -1l-1 -2zM1432 367l-2 3l-3 -3l2 -3l2 -3l3 2zM1364 296l-1 2l-3 0l-1 -3l2 -2l2 1zM1376 414l1 0l3 -1l-1 3l-1 1l-3 0zM1252 439l2 3l-3 3l-2 -2l-2 -2l2 -2zM1313 427l2 4l-1 4l-3 0l-2 -3l1 -3zM1213 156l0 -3l2 -2l2 1l1 2l-2 3zM1313 354l-2 0l0 -2l0 -2l2 0l2 2zM1323 417l3 2l0 4l-3 1l-4 -1l0 -4zM1431 365l2 0l1 2l-1 2l-2 -1l-2 -2zM1348 128l2 2l-1 2l-2 1l-3 -1l2 -2zM1354 433l-1 2l-2 1l-3 -2l0 -4l4 -1zM1227 248l2 -1l1 1l1 2l-2 1l-2 -1zM1285 361l2 -3l4 1l-1 4l-2 3l-5 -1zM1418 266l3 -1l3 -1l1 3l-2 2l-4 1z"/><path fill="#143416" d="M1224 381l2 -2l1 3l-1 2l-2 0l-1 -2zM1403 426l4 0l2 1l1 4l-4 1l-2 -2zM1463 408l-3 2l-2 -3l0 -2l2 -3l4 2zM1221 336l-1 -3l3 -2l2 2l1 3l-3 0zM1246 347l0 3l-3 1l-3 -1l0 -4l3 -1zM1391 399l-1 1l-2 -1l0 -2l2 -1l1 2zM1333 387l3 2l0 2l-1 2l-3 0l0 -3zM1447 374l4 1l0 4l-1 3l-3 -2l-1 -2zM1272 401l-3 1l-2 0l-2 -3l3 -2l3 2zM1394 270l-3 2l-4 0l-1 -3l2 -4l5 1zM1341 344l2 4l-2 3l-4 1l-2 -4l2 -3zM1400 427l4 1l1 4l-3 4l-4 -4l-2 -3zM1344 369l-1 2l-2 3l-2 -2l-1 -2l3 -3zM1237 343l-2 1l-3 -1l0 -3l2 -2l3 2zM1391 258l-2 2l-2 0l-1 -3l2 -1l2 0zM1250 391l1 1l0 2l-2 0l-1 -1l0 -2zM1289 418l-2 -1l-1 -3l2 -1l3 0l0 3zM1248 330l4 -3l3 3l0 4l-4 2l-2 -3zM1201 396l3 1l2 1l-2 2l-3 2l-1 -3zM1244 338l-3 1l-1 -4l1 -2l3 0l3 2zM1148 390l-4 0l-3 -1l1 -4l3 -1l3 2zM1243 151l-2 2l-2 -2l2 -2l2 0l2 0zM1406 361l-4 1l-3 0l-1 -3l3 -3l3 1zM1201 375l0 2l-1 1l-2 -1l-2 -2l3 -2zM1286 374l-2 4l-4 0l-2 -4l2 -4l4 1zM1169 392l-3 1l-1 -3l1 -4l4 0l1 4zM1359 171l-2 1l-2 0l-1 -2l2 -1l2 0zM1423 352l-4 1l-2 -2l0 -3l3 -2l3 2zM1230 410l-2 -3l3 -3l4 2l0 4l-3 1zM1463 344l2 3l-1 4l-5 1l-2 -5l2 -3zM1184 357l0 -3l3 0l1 2l0 3l-2 -1zM1346 416l1 -1l1 -1l2 1l0 2l-2 1zM1395 396l-2 2l-4 0l0 -4l2 -1l4 0zM1374 362l3 1l-2 4l-3 0l-3 -3l3 -2zM1185 418l4 0l0 4l-1 3l-5 -1l-1 -4zM1278 394l0 3l-2 0l-3 -2l2 -2l2 -1zM1261 395l-1 3l-3 0l-1 -2l1 -2l2 -1zM1231 364l0 -4l2 -1l2 0l2 3l-3 2zM1277 450l-2 -2l1 -2l2 -1l1 1l1 3zM1142 362l-1 2l-2 2l-2 -3l1 -3l3 0zM1457 429l0 3l-2 1l-2 -1l0 -3l2 -1zM1437 386l2 -4l2 -4l4 3l0 4l-4 3zM1150 351l-2 2l-1 1l-2 -2l1 -2l2 0zM1397 376l1 3l-2 1l-2 1l-1 -3l1 -1zM1326 416l0 -6l5 0l4 1l0 5l-4 0zM1423 414l-3 2l-3 -3l0 -4l4 -1l2 3zM1143 386l1 2l0 2l-2 1l-2 -2l1 -2zM1185 431l-3 -1l-1 -3l2 -4l4 3l1 3zM1199 365l-2 -2l-1 -4l5 -3l2 4l-1 3zM1290 452l-2 2l-2 -1l-2 -2l2 -3l3 1zM1282 416l0 -3l3 0l3 1l-1 3l-3 1zM1310 394l4 0l2 4l-3 4l-4 -1l0 -4zM1433 377l-1 -1l2 -2l2 1l0 2l-2 1zM1217 329l-2 2l-2 2l-2 -2l1 -4l2 1zM1273 407l3 0l1 4l-4 1l-3 -1l-1 -3zM1314 392l-1 3l-3 -2l-2 -2l2 -3l3 1zM1440 409l4 0l1 2l1 4l-4 0l-2 -2zM1463 406l2 2l1 3l-4 2l-2 -3l0 -3zM1250 444l0 -4l2 -2l3 1l1 3l-2 2zM1229 407l-2 -1l-2 -3l3 -1l3 0l0 3zM1232 365l4 1l-1 3l-3 3l-2 -3l-1 -3zM1431 445l-1 -2l3 -2l2 2l0 2l-2 3zM1170 414l-2 -2l-2 -2l3 -1l2 0l1 2zM1184 265l2 -1l2 1l0 3l-2 0l-1 -1zM1227 386l-2 -1l-1 -2l1 -1l2 0l1 2zM1299 398l4 0l4 0l-1 4l-3 2l-3 -2zM1342 239l2 3l0 3l-3 1l-3 -1l1 -3zM1303 408l2 -2l2 0l2 3l-2 2l-4 1zM1238 441l-1 -2l3 0l2 2l-1 2l-3 0zM1462 387l-4 0l-3 0l0 -4l3 -1l4 1zM1296 318l0 2l-2 3l-3 -2l0 -3l2 -2zM1423 439l-1 1l-2 -1l-2 -3l3 -1l2 2zM1415 369l1 -3l2 -3l3 2l-1 3l-1 3zM1216 352l-1 -2l0 -2l3 0l1 1l-1 3z"/><path fill="#98c884" d="M1423 227l-4 1l-2 -4l1 -4l5 -1l2 5zM1276 71l4 1l2 2l-1 4l-4 -1l-1 -2zM1337 109l2 1l2 4l-4 0l-2 -1l-2 -3zM1451 249l-2 -1l-1 -2l2 -1l3 -1l1 4zM1429 217l4 0l-1 3l-2 2l-4 0l1 -4zM1302 115l-4 -1l-4 -2l2 -5l5 2l4 2zM1378 120l1 -2l2 -1l1 1l-1 2l-1 0zM1452 241l-3 1l-4 -3l3 -3l4 -1l1 3zM1208 220l2 -2l4 -1l1 4l-2 3l-3 -1zM1302 43l-2 -3l-2 -5l5 -2l3 4l0 4zM1388 118l3 -1l3 1l1 4l-5 2l-3 -2zM1265 125l-2 -2l0 -4l4 1l1 2l1 3zM1387 112l-1 -3l4 0l2 2l-2 2l-2 2zM1367 104l-2 -2l3 -2l2 1l3 3l-4 1zM1316 134l3 2l1 3l-3 1l-3 -1l0 -3zM1392 193l4 2l-3 4l-3 1l-2 -3l0 -4zM1211 229l-4 -1l2 -3l2 -3l3 2l-1 3z"/><path fill="#255a24" d="M1178 227l0 2l-3 1l-2 -2l1 -2l3 -2zM1164 393l-1 2l-2 2l-2 -1l0 -3l2 -1zM1386 348l-3 2l-2 -4l1 -3l4 0l3 3zM1229 317l0 -3l2 -2l3 2l-1 2l-2 2zM1153 318l-2 -3l1 -3l3 -1l2 2l0 4zM1449 357l0 -3l2 -2l2 2l1 2l-2 1zM1413 393l-3 2l-3 -2l0 -5l5 -1l2 3zM1348 240l-2 -3l3 -3l4 0l0 4l-2 3zM1314 340l3 1l-1 3l-2 2l-3 -2l0 -3zM1438 332l1 -3l4 1l-1 3l-1 4l-4 -1zM1381 396l0 5l-2 3l-4 1l0 -5l1 -5zM1245 147l-2 4l-2 1l-5 -1l2 -4l3 -3zM1228 192l3 1l1 3l-2 2l-2 -1l-2 -3zM1201 273l1 2l-2 2l-2 0l-1 -3l2 -3zM1248 333l2 0l1 2l-1 1l-3 1l-1 -2zM1397 252l1 -2l3 1l0 2l-1 1l-2 1zM1172 318l-3 -2l2 -3l3 -1l3 2l-1 5zM1328 368l-2 -2l0 -2l2 -1l2 1l1 4zM1370 291l1 4l0 3l-4 0l-1 -3l0 -3zM1295 370l0 2l0 2l-2 -1l-2 -1l2 -2zM1327 355l3 -1l2 0l1 3l-2 2l-3 -2zM1279 310l-1 -3l3 0l2 1l1 3l-3 1zM1426 382l-1 -1l0 -3l2 -1l1 2l0 2zM1445 291l3 -1l2 -1l0 3l-1 2l-3 0zM1432 191l-3 0l-2 -1l1 -4l3 0l3 2zM1434 393l3 1l2 3l-1 4l-4 -2l-2 -3zM1315 262l2 1l-1 2l-2 1l-1 -2l1 -2zM1192 394l-4 -2l-1 -2l1 -3l3 0l4 3zM1422 391l1 -2l3 -1l1 2l0 2l-3 0zM1300 295l3 0l2 2l-1 3l-3 1l-3 -3zM1448 398l0 2l-2 1l-1 -2l0 -2l2 0zM1472 343l-3 2l-1 -4l1 -3l4 0l1 3zM1338 416l3 0l2 3l-4 2l-3 -1l0 -3zM1372 378l-3 2l-3 -3l2 -3l3 -1l2 3zM1186 249l1 -1l1 0l1 2l-2 1l-2 0zM1227 202l-2 -2l1 -3l3 -1l1 2l-1 2zM1271 352l0 -4l2 -3l4 2l2 4l-4 2zM1146 395l0 -3l2 -2l3 1l-1 3l-2 2zM1227 167l0 -3l2 0l2 1l0 2l-2 0zM1290 449l-3 1l-2 -3l1 -3l4 0l1 3zM1313 371l4 -2l1 4l0 5l-5 -1l-3 -3zM1318 376l2 2l-1 1l-2 2l-2 -2l2 -2zM1365 338l0 -4l2 -3l5 1l0 5l-3 2zM1165 420l-2 2l-2 0l0 -2l0 -3l3 1zM1460 385l1 5l-5 -1l-2 -2l0 -3l4 -2zM1215 245l1 -2l2 0l0 2l0 2l-2 0zM1205 376l0 2l0 2l-3 0l-1 -3l2 -2zM1178 430l0 -4l5 -1l1 4l-1 3l-4 0zM1175 213l-3 0l-3 -3l3 -3l4 -1l1 4zM1420 442l1 4l-3 3l-4 -2l-1 -4l3 -2zM1378 249l-2 -1l-2 -3l3 -1l2 1l2 3zM1425 209l-2 2l-4 -1l-1 -3l3 -3l3 2zM1407 426l1 -3l1 -1l2 1l0 2l-2 1zM1324 192l-1 3l-3 1l-2 -4l2 -2l3 0zM1262 341l3 0l0 3l-2 2l-2 -1l-2 -2zM1152 352l4 0l1 3l-2 4l-4 -1l-1 -3zM1461 403l-1 -4l0 -3l3 0l3 2l-1 3zM1269 434l0 -3l3 -1l1 3l0 2l-2 0zM1294 381l-1 2l-2 2l-1 -2l1 -2l1 -1zM1337 329l-2 0l-2 -2l1 -1l3 -1l0 2zM1287 190l1 -3l2 -1l2 2l0 2l-2 1zM1412 360l0 2l-1 3l-3 -1l-2 -3l2 -3zM1387 368l-3 2l-4 0l-1 -3l2 -4l4 1zM1411 382l0 -4l4 2l2 2l-2 2l-3 1zM1385 341l2 0l1 1l-1 2l-2 1l0 -2zM1198 380l3 0l1 3l-3 3l-4 -1l0 -4zM1402 411l1 -2l2 2l0 1l-1 2l-2 -1zM1336 217l-1 3l-4 0l-3 -3l2 -4l4 1zM1403 338l-4 1l-1 -4l1 -3l4 1l2 3zM1329 305l-5 -2l1 -4l3 -2l4 1l0 4zM1227 145l-2 -2l-1 -2l1 -1l3 0l1 2zM1222 147l-2 0l-1 -1l0 -1l2 -1l2 1zM1341 271l2 3l-2 2l-3 1l-1 -3l1 -2zM1199 223l3 3l0 5l-5 1l-2 -4l-1 -4zM1192 301l2 -1l3 0l1 3l-2 3l-4 -2zM1255 196l1 -3l2 -1l3 3l-2 3l-3 -1zM1456 312l2 -1l2 0l0 3l-2 1l-2 -1zM1344 255l-2 0l-2 0l0 -2l2 -2l1 2zM1247 403l0 3l-1 2l-3 -1l0 -2l1 -2zM1317 257l3 2l2 4l-5 0l-4 0l0 -5zM1236 200l-4 -1l1 -4l3 -1l4 1l0 4zM1393 301l0 -3l3 2l1 1l-1 3l-3 -1zM1242 406l4 -1l0 4l-2 3l-3 -1l-3 -3zM1208 268l-4 1l-3 -1l0 -4l2 -2l5 1zM1238 346l1 -4l3 2l2 3l-2 2l-4 0zM1224 324l3 -1l3 0l-1 4l-2 0l-3 0zM1178 265l0 3l-3 1l-2 -2l1 -2l2 0zM1389 308l2 -1l2 2l-1 2l-2 0l-2 -1zM1456 314l1 3l-2 2l-2 -1l-1 -2l2 -2zM1379 313l1 -3l3 0l1 2l-1 1l-2 2zM1293 331l2 2l1 2l-2 1l-2 0l0 -2zM1444 326l0 4l-4 0l-3 -3l3 -3l3 0zM1292 443l-4 0l-4 0l1 -4l3 -1l4 1zM1331 196l-2 -2l2 -2l2 0l1 2l-1 3zM1215 362l-1 3l-3 1l-1 -2l0 -3l3 -1zM1231 186l-1 3l-2 -1l-1 -2l1 -1l2 -1zM1220 321l4 1l1 3l-1 3l-4 0l-2 -4zM1185 383l-3 -2l3 -2l4 -1l1 4l-3 2zM1461 389l-2 -5l4 -2l3 1l1 3l-2 3zM1465 322l2 -4l4 0l1 4l-2 2l-3 1zM1273 338l-2 -1l0 -2l2 -1l2 2l0 2zM1225 294l-1 5l-4 0l-2 -1l-1 -4l3 -1zM1242 397l-1 -2l2 -1l2 0l0 3l-1 1zM1194 335l-1 2l-3 1l-2 -1l0 -4l3 -1zM1306 323l1 3l-3 3l-2 -2l-1 -2l2 -2zM1459 315l2 4l-2 3l-3 -1l-4 -2l3 -3zM1172 379l1 -3l4 -2l2 4l-1 4l-4 -1zM1408 321l-3 0l-2 -3l2 -4l4 1l3 4zM1239 342l2 1l0 2l-2 1l-2 -1l0 -2zM1386 242l2 2l-2 2l-2 1l0 -2l0 -2zM1325 295l3 -2l2 1l2 3l-3 3l-3 -2zM1182 332l3 -1l4 0l1 5l-4 2l-3 -2zM1204 306l-2 -2l-2 -4l5 0l2 1l1 4zM1187 331l-1 4l-5 -1l-2 -5l4 -2l3 1zM1308 267l-4 3l-3 0l-2 -3l2 -3l4 -2zM1315 309l-1 2l-3 0l-2 -2l2 -4l3 2zM1359 407l-1 -2l2 -2l2 1l0 2l-1 2zM1395 335l0 -3l1 -1l2 0l0 2l-1 2zM1251 230l-1 2l-3 -1l1 -2l1 -2l2 1zM1424 276l-4 0l-1 -4l3 -2l4 1l0 3zM1196 331l2 -2l2 -2l3 3l-1 4l-4 0zM1186 331l-2 2l-3 -2l0 -4l3 -3l4 3zM1198 254l-1 -2l0 -3l4 -1l2 3l-2 3zM1322 221l-2 1l-1 -2l0 -2l2 0l2 1zM1196 189l3 2l1 3l-3 2l-3 -1l0 -3zM1191 382l-1 -2l2 -2l1 1l2 1l-2 1zM1354 255l1 -2l3 1l0 2l-1 2l-4 1zM1274 344l-3 -4l-2 -3l3 -2l3 1l3 4zM1389 271l-1 -3l2 -3l2 1l1 2l-1 2zM1358 350l5 -1l2 4l-1 5l-4 -2l-3 -2zM1447 268l3 2l-1 3l-2 3l-3 -2l0 -3zM1381 397l-2 2l-2 -2l-1 -2l3 -1l2 0zM1227 413l1 -4l3 1l2 1l0 4l-3 0zM1458 355l2 1l1 2l-2 1l-3 -1l0 -2zM1191 309l-2 -1l-3 -1l2 -3l3 -1l0 3zM1237 236l-2 -1l0 -3l3 -1l2 2l-1 2zM1180 271l1 -2l2 -1l4 1l-1 4l-4 2zM1205 276l3 0l0 3l-2 1l-2 -1l-1 -2zM1292 354l-2 -2l2 -1l3 0l0 3l-1 2zM1186 327l-3 -2l3 -2l3 -2l1 3l-1 4zM1182 322l-1 1l-4 -1l1 -3l3 -2l2 2zM1219 348l4 2l-2 3l-3 3l-2 -3l1 -4zM1358 193l-3 3l-4 1l-2 -5l3 -3l4 0zM1358 311l0 2l-1 2l-2 -1l-1 -2l2 -2zM1456 397l-1 3l-5 1l0 -4l1 -4l3 1zM1256 356l1 2l0 5l-5 -1l-2 -4l3 -3zM1348 189l2 -2l2 1l1 1l-1 2l-2 1zM1393 146l1 5l-4 2l-3 -1l-1 -4l3 -3zM1225 246l-2 4l-5 0l-1 -4l2 -4l3 1zM1272 235l3 0l0 2l-1 2l-2 0l0 -2zM1440 357l1 -2l2 1l1 3l-2 2l-2 -1zM1142 393l2 2l-1 3l-3 0l-2 -2l1 -3zM1305 322l3 -3l4 3l-1 4l-3 2l-3 -2zM1453 314l-3 1l-2 -1l0 -3l3 -2l3 2zM1174 407l-4 0l-3 -1l2 -3l3 -2l1 3zM1303 266l-1 2l-3 0l0 -3l2 -2l2 1zM1334 336l1 1l0 3l-2 0l-2 -2l1 -2zM1402 381l-4 1l-3 -1l1 -4l3 0l3 0zM1422 432l2 3l1 3l-3 2l-2 -3l0 -2z"/><path fill="#387c34" d="M1432 338l3 1l0 3l-2 3l-3 -2l-1 -2zM1270 53l2 -2l2 2l0 2l-2 2l-3 -1zM1213 141l-2 1l-1 -2l0 -2l2 -1l2 1zM1214 145l0 -3l3 0l2 2l0 3l-3 -1zM1223 185l2 0l1 2l0 1l-2 2l-2 -2zM1298 150l0 -3l2 -3l2 3l2 3l-3 1zM1432 264l2 1l-1 2l-2 1l-1 -2l1 -2zM1244 181l1 2l0 2l-1 1l-2 -1l0 -2zM1330 124l-3 1l-2 -1l0 -3l3 0l2 0zM1222 160l-2 0l-2 -1l1 -2l2 0l2 1zM1170 300l2 -3l4 0l1 4l-3 3l-4 -1zM1232 204l0 -1l1 -1l2 -1l0 2l-1 2zM1292 325l4 0l1 4l-2 3l-2 -1l-3 -2zM1171 271l-4 -2l-3 -3l3 -3l4 -1l2 5zM1307 284l2 -1l4 1l-2 3l-2 1l-4 -1zM1352 198l-3 -1l-2 -3l2 -3l3 1l1 2zM1195 285l2 2l-2 2l-3 1l-1 -3l2 -2zM1145 298l-3 -2l-1 -4l3 -1l4 1l1 4zM1403 162l4 2l-3 3l-3 3l-1 -4l-1 -4zM1466 349l-4 0l-2 -1l-1 -3l3 -2l4 2zM1440 275l-5 -1l2 -4l4 -3l3 4l-2 3zM1329 311l-2 -1l-1 -3l2 -2l3 1l0 3zM1310 360l-3 2l-4 -2l1 -5l4 0l5 2zM1282 60l-3 0l1 -3l2 -2l2 1l0 3zM1194 214l2 -3l3 0l1 2l-1 2l-2 1zM1371 386l-1 -2l2 -1l3 1l-2 2l-1 1zM1184 174l-3 1l-1 -2l1 -4l4 0l1 3zM1246 99l0 -4l2 -1l3 1l1 3l-2 3zM1401 279l2 2l-3 3l-3 1l0 -3l1 -3zM1320 310l-3 1l-4 -2l-1 -5l6 -2l1 5zM1291 96l-4 -1l1 -3l2 -2l3 1l1 3zM1281 210l0 3l0 3l-3 0l-3 -3l2 -3zM1274 260l-1 -2l2 -1l2 0l0 2l-1 2zM1167 331l0 3l-1 1l-3 1l0 -3l1 -2zM1290 190l1 4l-2 2l-3 -1l-2 -3l3 -3zM1418 172l-2 -2l0 -3l3 1l2 2l0 3zM1230 233l-2 4l-3 -1l-2 -3l2 -3l3 1zM1310 130l0 -2l1 -3l3 1l1 3l-2 2zM1410 270l4 -2l3 3l2 4l-5 1l-4 -1zM1419 150l2 2l0 2l-1 1l-2 -1l-1 -2zM1188 250l-1 3l-3 1l-3 -2l1 -4l4 -1zM1392 157l3 1l0 4l-4 1l-3 -3l2 -3zM1324 307l3 -1l4 0l-1 4l-3 1l-4 0zM1327 87l3 0l1 1l0 2l-2 1l-2 -1zM1429 397l-1 3l-3 0l-1 -3l1 -2l2 -1zM1437 319l-2 -1l0 -2l1 -1l2 0l1 2zM1282 270l-2 2l-2 0l-2 -2l1 -3l3 0zM1449 223l3 0l0 3l0 3l-3 -1l-2 -2zM1433 394l-1 -3l1 -3l3 1l1 2l-1 2zM1294 310l0 2l-3 -1l-1 -1l1 -2l3 0zM1267 257l2 -2l3 -1l0 3l-1 2l-2 -1zM1351 170l-3 3l-3 2l-2 -3l2 -3l3 -2zM1298 306l-2 -2l1 -3l3 -1l1 3l0 3zM1287 189l-2 -2l-1 -3l3 0l2 1l1 2zM1314 40l-2 1l-1 -1l0 -2l2 0l1 1zM1318 302l-3 -2l1 -3l3 -3l2 3l1 4zM1252 247l-2 -2l0 -2l1 -1l2 1l0 2zM1375 305l-4 0l-2 -5l2 -4l6 1l1 5zM1259 142l-2 0l-1 -3l2 -1l2 1l1 3zM1217 209l2 0l1 1l0 2l-2 1l-1 -2zM1167 303l-1 2l-2 0l-1 -1l1 -3l2 1zM1301 143l4 1l0 5l-4 1l-3 -2l-2 -4zM1266 227l2 4l-1 3l-4 1l-2 -3l2 -3zM1269 129l-2 2l-3 -1l0 -3l2 -2l2 2zM1136 334l1 -1l2 1l0 2l-2 1l-2 -1zM1281 262l2 -1l0 2l1 2l-3 1l-1 -3zM1304 83l1 -2l1 -3l3 2l1 3l-3 1zM1266 101l-3 1l-1 -2l-1 -3l3 -1l2 2zM1367 252l-1 -3l2 -4l4 1l2 4l-3 3zM1398 142l-3 0l-3 -2l1 -3l3 -2l2 3zM1276 318l-2 2l-3 -2l1 -3l2 -1l4 1zM1223 274l-4 -1l1 -4l2 -1l3 0l2 4zM1202 261l2 2l0 3l-3 1l-2 -3l0 -4zM1378 324l2 2l1 2l-2 2l-2 -2l0 -2zM1359 138l-3 1l-2 -1l0 -2l2 -3l2 2zM1242 170l-3 -2l2 -3l4 -2l3 3l-1 5zM1444 275l-3 1l-4 0l1 -3l2 -3l3 1zM1456 323l0 -3l4 -1l2 3l-1 4l-4 1zM1286 296l3 -3l4 2l0 4l-3 1l-3 0zM1285 174l-2 2l-3 0l0 -3l0 -3l4 1zM1356 164l-2 3l-3 1l-3 -3l2 -4l4 0zM1291 245l-2 1l-1 -1l-1 -2l2 0l2 -1zM1315 88l-1 4l-5 0l-2 -3l1 -3l3 0zM1292 302l-2 -3l-1 -4l4 -3l3 3l0 4zM1447 211l2 3l-3 2l-3 -1l-1 -3l2 -3zM1283 57l-3 0l-1 -3l2 -2l3 -1l0 3zM1195 196l-2 1l-2 0l-1 -3l2 -1l2 1zM1280 40l1 -1l3 1l0 3l-3 1l-3 -2zM1162 315l4 -2l1 4l-2 3l-3 0l-3 -3zM1170 356l-2 3l-2 -1l-1 -3l2 -1l2 1zM1257 352l-1 -3l4 -1l1 3l-1 3l-2 0zM1172 210l3 0l3 1l-1 3l-2 0l-3 -1zM1153 270l2 1l1 3l-2 2l-3 -1l0 -3zM1255 299l1 -3l3 -1l3 3l-3 2l-3 1zM1344 250l-4 4l-4 -2l-1 -4l3 -1l3 0zM1417 316l3 2l2 1l-1 3l-3 1l-2 -3zM1269 235l4 -2l4 4l-2 4l-4 2l-4 -3zM1256 75l2 -1l4 2l-2 3l-3 2l-1 -3zM1317 222l-3 4l-4 -1l-3 -3l4 -3l3 -1zM1412 325l3 -2l1 4l0 3l-4 1l-3 -3zM1390 205l-2 2l-2 -2l1 -3l2 0l2 0zM1192 363l1 3l-2 3l-4 -2l-2 -3l4 -3zM1394 127l-3 3l-4 2l-1 -4l2 -3l3 -2zM1282 270l2 0l3 0l-1 3l-2 1l-2 -1zM1445 247l1 0l1 1l-1 2l-2 1l0 -3zM1302 112l-2 1l-1 -2l1 -2l1 0l1 1zM1391 329l1 4l-2 3l-4 -1l-1 -4l2 -2zM1309 170l2 3l1 3l-4 1l-3 -3l1 -4zM1394 227l3 -3l2 3l0 2l-1 2l-3 -1zM1290 244l-3 0l-2 -4l3 -2l3 2l0 2zM1406 383l2 -2l3 1l2 4l-4 0l-4 0zM1280 205l1 4l-1 4l-3 -1l-4 -2l3 -3zM1198 285l0 2l-3 1l-1 -3l1 -2l3 0zM1366 182l-3 -4l2 -4l4 0l2 3l-1 4zM1298 269l-2 -2l-1 -2l2 -2l2 1l1 3zM1228 232l-3 1l-3 2l-1 -4l2 -2l2 1zM1186 240l-2 0l-2 -1l1 -2l2 -2l2 2zM1257 230l-1 -2l0 -2l2 0l1 1l0 2zM1335 243l-1 -3l3 -1l2 1l0 2l-2 2zM1267 139l-3 -1l-2 -2l2 -2l2 0l3 3zM1293 144l-3 1l-2 -1l1 -3l3 -1l3 2zM1361 275l2 2l-2 3l-4 0l0 -3l1 -4zM1402 295l-1 -3l3 -2l3 1l1 4l-3 2zM1409 307l-2 -1l0 -2l2 -2l2 2l0 2zM1382 275l-2 -2l0 -1l1 -2l2 1l0 2zM1278 198l1 2l-1 2l-3 1l-1 -3l2 -3zM1171 289l-5 1l-3 -1l-1 -4l3 -3l3 3zM1446 342l-2 3l-5 1l0 -5l3 -3l3 1zM1296 55l2 -3l4 1l1 3l-2 2l-3 0zM1244 185l2 0l1 2l-2 1l-2 0l0 -2zM1334 237l-2 -3l3 -1l3 0l1 3l-3 3zM1357 347l-2 -4l4 0l2 1l1 3l-3 1zM1235 239l4 -2l3 4l-3 3l-4 1l-2 -3zM1272 74l1 5l-5 1l-3 -4l2 -4l4 0zM1260 111l2 -1l2 0l0 2l-2 1l-1 -1zM1265 234l2 2l-2 2l-2 0l-1 -1l1 -2zM1436 203l5 0l1 5l-2 3l-4 0l-1 -4zM1336 249l2 2l0 2l-3 0l-2 0l2 -3zM1298 331l4 1l-1 4l-3 2l-3 -2l0 -4zM1331 229l3 -3l4 2l1 5l-4 3l-4 -3zM1418 280l1 -4l3 -3l3 3l1 5l-5 1zM1281 309l0 3l-3 1l-2 -3l1 -3l3 0zM1279 337l3 -1l1 2l0 3l-2 0l-3 -1zM1367 352l-3 1l-2 -1l-1 -2l2 -2l3 1zM1179 275l0 2l0 2l-3 1l-1 -2l0 -3zM1147 291l3 -3l4 1l-1 4l-1 3l-4 -2zM1325 91l-3 1l-2 -2l0 -3l4 0l2 2zM1174 205l-2 3l-3 -2l-1 -4l4 -1l2 1zM1372 263l-4 0l-4 -2l0 -4l4 -2l5 3zM1287 103l-2 2l-3 -2l0 -3l2 -2l2 2zM1392 202l2 1l0 3l-2 1l-3 -1l0 -3zM1412 166l2 -1l1 1l1 2l-2 1l-2 -1zM1341 134l-2 0l-1 -1l0 -2l2 0l1 1zM1363 204l0 2l-1 3l-3 -2l-1 -2l2 -4zM1230 289l2 -2l1 1l1 2l-1 1l-2 -1zM1452 345l-3 -2l0 -4l3 -3l3 3l0 3zM1254 202l0 -3l1 -4l4 1l1 3l-2 3zM1372 292l-3 -3l2 -4l4 2l2 3l-1 4zM1195 299l0 -3l3 -1l3 1l-1 4l-2 2zM1144 323l-3 3l-3 -3l-2 -4l4 -2l4 2zM1379 295l3 2l-2 3l-3 2l-3 -3l2 -3zM1191 300l-1 1l-2 1l0 -3l1 -1l2 0zM1438 169l-3 3l-3 -2l1 -4l3 -3l3 3zM1408 292l-4 -1l-2 -2l0 -4l4 0l2 3zM1292 283l2 -1l1 -1l1 2l0 2l-3 0zM1381 174l-2 -1l0 -2l2 -2l1 1l2 2zM1448 257l0 2l-2 1l-4 -1l1 -3l3 -1zM1164 370l3 -2l3 1l1 3l-3 2l-2 -2zM1285 210l-4 -3l4 -2l2 -1l2 2l-1 3zM1240 254l-4 1l-5 0l1 -5l3 -1l3 2zM1434 282l2 -2l2 2l0 2l-2 1l-2 -1zM1258 122l2 1l1 1l-1 1l-2 1l-1 -2zM1178 364l-4 0l-2 -2l0 -4l4 -1l2 3zM1369 365l0 2l-2 2l-2 -1l0 -2l1 -2zM1287 140l2 1l0 2l-2 2l-2 -1l0 -2zM1344 88l0 3l-2 3l-3 -2l0 -3l2 -2zM1272 293l-3 3l-3 -1l-2 -3l2 -4l4 2zM1228 201l2 2l-2 3l-3 0l-1 -3l1 -2zM1321 200l2 -4l4 1l1 4l-2 4l-4 -2zM1260 68l2 4l-2 4l-5 0l0 -4l1 -3zM1348 150l2 1l1 3l-3 1l-2 -2l0 -3zM1315 59l-2 -3l0 -4l5 0l1 4l-1 4zM1359 267l4 3l-1 4l-4 2l-2 -4l0 -2z"/><path fill="#2e6c2c" d="M1371 156l-2 -1l-2 -4l4 -1l3 1l1 4zM1460 382l-2 0l-1 -1l0 -2l2 -1l1 2zM1254 299l2 1l0 2l-1 2l-3 -1l0 -2zM1199 329l-2 2l-2 0l-1 -2l0 -3l3 0zM1228 324l-3 1l-2 -1l-1 -3l2 -1l4 -1zM1402 298l-1 -2l2 -3l3 1l1 3l-2 2zM1340 221l1 -2l2 1l0 2l0 3l-3 -2zM1455 300l0 -2l2 -1l1 2l0 1l-1 1zM1188 288l-3 -2l0 -4l3 0l2 1l1 3zM1249 257l-2 -1l0 -2l3 -1l2 2l-1 2zM1247 160l3 0l0 3l-3 1l-1 -1l0 -2zM1318 187l2 1l1 1l-1 2l-2 0l-1 -2zM1272 101l-2 -4l2 -3l3 0l3 2l-3 3zM1425 148l-2 1l0 -2l0 -2l2 0l2 2zM1319 171l-2 2l-2 0l-1 -1l0 -3l3 -1zM1166 321l2 0l2 1l-1 2l-2 1l-1 -1zM1139 364l-1 -4l4 -1l2 2l1 3l-3 3zM1152 282l3 -1l2 1l-1 3l-2 1l-2 -2zM1287 298l-3 1l-1 -1l0 -3l2 0l2 1zM1283 59l0 -3l0 -3l4 0l0 4l-1 2zM1461 306l2 2l1 2l-2 1l-4 0l1 -3zM1176 277l-1 -5l2 -4l5 2l3 4l-4 3zM1392 329l3 -2l2 2l1 4l-4 1l-2 -3zM1251 360l-1 4l-3 2l-2 -3l0 -2l3 -2zM1233 122l-3 1l-4 -3l3 -3l4 -2l2 5zM1301 355l-1 -2l1 -3l3 1l1 3l-2 1zM1347 316l-2 -1l0 -3l2 -1l3 1l1 4zM1366 355l2 -2l2 1l0 3l-2 1l-3 -1zM1334 199l-2 -4l2 -2l3 -2l2 3l-1 3zM1328 306l-1 3l-3 -1l-3 -1l1 -4l3 1zM1240 198l-3 2l-3 1l-2 -3l2 -3l4 0zM1406 304l-4 -4l1 -5l4 -2l2 4l2 5zM1288 330l-1 3l-2 0l-2 -1l0 -3l2 -1zM1328 283l-4 2l-3 -3l2 -3l3 -3l2 4zM1201 203l2 1l-1 2l-1 1l-1 -2l0 -2zM1256 260l-1 -4l3 -3l4 0l2 4l-3 4zM1156 286l-3 1l-3 -2l1 -4l4 -1l1 3zM1201 364l-2 2l-3 -1l-1 -3l2 -2l2 2zM1195 222l5 0l1 5l-3 4l-4 -2l-2 -4zM1247 300l-2 -1l-3 -1l1 -2l3 0l2 1zM1257 299l1 0l3 1l-2 2l-2 0l-2 -1zM1409 401l-3 -1l-1 -2l2 -2l2 1l1 2zM1224 155l1 1l-1 2l-1 1l-2 -2l0 -2zM1208 286l1 3l0 2l-3 1l-2 -2l1 -3zM1355 209l-1 3l-2 1l-2 -1l1 -2l2 -2zM1319 237l-2 -1l-3 -2l2 -3l3 1l1 2zM1197 158l2 0l1 2l-1 2l-3 1l-1 -3zM1377 169l-2 2l-3 -1l1 -3l1 -2l2 1zM1412 191l1 3l0 1l-2 2l-2 -2l1 -3zM1387 267l3 0l0 3l-2 3l-2 -2l-1 -2zM1257 262l-1 5l-5 1l-1 -5l2 -2l3 -2zM1270 209l3 0l1 3l-2 1l-2 1l-1 -3zM1167 287l-2 -1l-2 -3l3 -3l4 0l0 5zM1431 203l-1 -2l-1 -2l2 -2l2 2l1 2zM1232 403l-4 3l-4 -3l1 -4l3 -1l3 1zM1136 339l-4 1l0 -5l2 -3l4 2l1 3zM1227 200l-3 -2l2 -3l3 -2l2 3l-1 3zM1440 346l-2 -2l1 -3l2 -1l2 2l0 2zM1203 377l1 3l-2 2l-3 -1l-1 -2l2 -1zM1200 246l-5 2l-1 -4l0 -3l3 -1l3 2zM1417 237l3 -2l5 1l-1 5l-3 3l-5 -2zM1270 300l-3 -1l-3 -2l2 -2l3 -1l1 2zM1359 315l-3 -1l-2 -3l3 -2l3 0l3 3zM1351 358l-3 1l-2 -1l0 -3l3 -1l3 1zM1384 269l1 -2l2 -2l3 2l-2 2l-1 2zM1179 368l-3 0l-2 -2l2 -4l3 2l2 1zM1346 197l-3 0l-1 -3l3 -1l2 0l0 2zM1273 302l0 -3l3 0l2 1l-1 3l-2 1zM1397 387l-3 1l-2 -1l-1 -2l2 -2l3 1zM1463 365l3 -4l3 -2l3 3l0 5l-5 1zM1283 295l0 3l-2 0l-2 0l0 -2l2 -1zM1369 381l3 1l-1 3l-2 2l-2 -1l0 -3zM1225 162l1 2l-1 2l-2 0l-1 -2l1 -1zM1296 161l-3 -2l2 -4l4 0l2 3l-2 4zM1433 164l-3 3l-4 -3l0 -4l4 -1l3 1zM1357 356l3 -1l3 3l-1 3l-4 2l-2 -3zM1198 250l2 -1l2 2l1 3l-3 0l-2 -1zM1305 187l-3 1l-2 -2l0 -2l2 -1l3 0zM1368 203l3 -4l3 2l3 3l-3 3l-3 -1zM1188 323l0 -3l1 -2l3 1l1 3l-2 2zM1327 251l3 4l-2 4l-5 1l-2 -4l3 -3zM1395 393l1 -3l3 -1l2 2l0 3l-3 1zM1334 198l4 2l0 4l-2 2l-5 0l1 -4zM1343 138l-2 -1l1 -1l2 -2l1 2l0 2zM1308 322l-3 -1l-1 -4l3 -1l3 1l1 3zM1245 143l-2 1l-2 0l1 -3l1 -2l3 2zM1361 162l2 4l-3 3l-3 -2l-3 -3l4 -3zM1165 286l-1 -2l1 -2l2 1l1 2l-1 2zM1306 237l1 0l0 2l-1 1l-2 0l0 -3zM1300 187l3 4l-3 4l-4 -1l-3 -3l2 -4zM1405 410l1 2l1 2l-3 1l-3 -1l0 -4zM1420 161l-3 1l-4 -1l0 -4l4 -1l3 1zM1232 338l2 -1l1 2l0 2l-3 1l-1 -2zM1293 247l-2 -1l1 -2l2 -1l3 1l-2 2zM1159 294l0 1l-2 1l-2 -1l0 -2l3 0zM1345 356l-2 2l-3 0l0 -3l2 -2l2 1zM1276 290l2 2l0 2l-2 0l-2 0l1 -2zM1187 164l0 -3l2 0l2 1l1 3l-3 1zM1308 346l2 -3l3 -1l4 4l-4 2l-4 2zM1167 352l-5 0l-2 -4l2 -3l4 -1l2 3zM1399 242l4 -2l4 1l1 5l-4 2l-5 -2zM1283 243l1 -3l3 3l2 3l-4 0l-3 1zM1232 161l0 -5l4 0l3 2l-2 4l-3 1zM1456 296l4 -2l0 4l0 5l-4 -2l-3 -2zM1464 283l4 -1l3 3l-2 3l-3 3l-1 -4zM1426 324l-2 -2l3 -1l2 1l0 2l-1 1zM1257 214l5 1l1 4l-3 3l-3 -1l-1 -3zM1203 154l1 -3l3 0l3 2l-1 3l-3 1zM1304 338l0 -3l2 0l3 1l-2 2l-2 2zM1364 348l-2 1l-3 0l0 -3l2 0l2 0zM1436 246l4 1l2 4l-4 1l-3 0l-1 -3zM1313 283l1 -4l3 -2l3 2l-1 2l-2 3zM1373 329l-3 -1l-1 -2l2 -1l2 0l1 2zM1320 277l-3 0l0 -4l2 -3l4 2l-1 3zM1273 347l3 0l2 1l1 3l-3 2l-3 -2zM1226 288l-1 -2l0 -3l4 0l0 3l-1 2zM1411 354l2 3l3 3l-4 2l-5 -1l1 -4zM1237 258l3 1l4 2l-3 3l-4 0l-2 -3zM1278 107l-2 0l-2 -2l2 -2l2 -1l1 3zM1195 341l-2 1l-3 -2l1 -3l3 -1l1 2zM1177 217l-2 -2l2 -2l2 0l1 2l-1 2zM1256 178l2 -1l1 2l-1 2l-2 0l-1 -1zM1218 148l1 3l-3 1l-3 -2l1 -2l2 -2zM1319 392l-1 -5l1 -3l4 -2l3 4l-3 3zM1388 221l-4 3l-3 0l-1 -3l1 -4l4 2zM1233 314l1 4l-1 2l-4 3l-3 -4l2 -4zM1273 349l0 -3l3 -2l1 3l0 3l-2 1zM1238 345l-2 0l-2 -1l0 -2l2 0l2 0zM1318 227l1 3l-2 1l-2 -1l-1 -3l3 -1zM1156 325l1 1l-2 1l-1 -1l-1 -1l2 -2zM1294 251l2 0l-1 2l-1 2l-3 -1l0 -3zM1169 262l4 2l-2 4l-5 1l-1 -4l1 -2zM1385 383l-1 2l-2 1l-2 -2l2 -2l2 -1zM1371 352l0 2l-3 1l-1 -2l0 -2l3 -1zM1418 374l-4 0l-1 -4l4 -1l3 0l0 4zM1287 342l2 -1l2 2l-1 2l-2 1l-2 -1zM1315 205l-3 0l-1 -2l2 -2l2 0l1 2zM1200 299l4 -2l3 2l2 3l-4 4l-3 -3zM1304 233l3 3l-1 4l-5 -1l-3 -2l2 -4zM1326 257l-4 0l0 -4l4 -1l3 0l1 4zM1448 289l2 2l-1 1l-2 1l-1 -2l1 -1zM1190 356l2 1l-1 3l-2 0l-2 -2l1 -2zM1330 347l-3 -3l0 -5l4 -1l4 3l-1 4zM1195 226l2 1l-2 1l-1 0l-2 -1l1 -2zM1449 373l2 2l-1 2l-2 1l-1 -1l0 -3zM1234 158l4 -1l2 5l-4 3l-3 -1l-2 -4zM1325 270l1 -5l4 0l2 2l1 4l-4 1zM1403 254l-5 0l-3 -4l3 -3l2 0l3 2zM1380 304l-1 -2l1 -3l3 0l1 3l-1 2zM1361 198l2 5l-4 2l-5 1l-1 -5l3 -4zM1414 387l2 -2l3 0l2 2l-1 4l-4 -1zM1461 297l-3 -2l0 -3l2 -2l3 1l0 3zM1193 393l-1 1l-2 1l-1 -2l1 -1l2 -1zM1279 435l1 2l0 2l-1 1l-1 -1l-1 -2zM1347 207l-1 -3l2 -3l3 -1l3 4l-3 3zM1376 215l-3 1l-3 -3l3 -3l3 -1l3 3zM1222 201l3 -1l1 3l-1 3l-3 -1l-2 -3zM1291 345l-3 -2l-1 -3l2 -4l3 3l1 3zM1179 311l-4 -2l1 -4l4 0l4 2l-2 4zM1401 239l-2 -1l-1 -2l2 -2l3 1l1 3zM1236 234l3 0l1 2l-1 2l-3 2l-1 -4zM1428 173l-4 1l-4 -2l1 -4l3 0l4 1zM1441 409l-2 0l0 -2l2 -1l2 0l-1 2zM1429 343l0 -2l2 0l2 1l0 1l-2 1zM1411 340l-2 -2l2 -3l4 -1l1 4l-2 2zM1421 203l1 -3l3 0l2 2l-1 2l-3 1zM1373 261l2 2l0 4l-3 -1l-3 -1l1 -3zM1153 312l2 2l-1 2l-2 0l-1 -1l-1 -3zM1215 290l-5 0l-3 -3l1 -4l4 -2l4 3zM1422 272l3 0l3 4l-3 4l-4 -2l-2 -4zM1189 184l-1 -3l3 -2l2 2l0 2l-2 2zM1222 341l0 5l-4 2l-4 -3l1 -5l4 -1zM1368 189l-2 3l-2 -2l-2 -2l3 -2l3 0zM1298 304l-3 -1l-1 -3l2 -2l3 0l0 3zM1342 285l1 -4l5 1l2 3l-2 3l-5 2zM1467 287l0 -2l2 0l2 1l-2 2l-1 0zM1254 144l-2 -1l1 -2l2 0l1 1l0 2zM1446 227l2 1l0 4l-3 1l-3 -2l2 -3zM1163 287l2 -3l4 2l-1 3l-2 2l-4 0zM1360 345l1 -3l3 0l1 3l-1 2l-2 0zM1230 335l2 1l-1 2l-2 2l-1 -2l0 -2zM1160 387l4 1l1 5l-4 1l-3 -1l0 -3zM1197 268l1 1l0 2l-2 0l-2 -1l1 -1zM1280 121l-2 3l-2 -1l-3 -1l1 -3l4 -1zM1172 370l1 -2l3 0l1 2l-1 2l-2 0zM1352 237l0 -2l3 -2l3 2l0 3l-3 2zM1354 297l3 -2l3 3l1 4l-5 0l-4 -1zM1290 272l4 -1l1 3l2 4l-5 0l-2 -2zM1281 57l2 2l0 2l-2 3l-3 -3l1 -2zM1242 126l0 -4l4 -1l2 4l0 4l-4 0zM1365 241l2 -1l2 0l0 2l-2 2l-2 -1zM1232 344l-3 1l-2 -2l0 -5l5 -1l1 4zM1170 214l1 3l-3 0l-2 -1l1 -2l2 -3zM1164 219l-1 -3l1 -3l3 1l2 2l-2 3zM1313 231l1 3l-2 1l-4 0l2 -3l1 -2zM1446 314l-2 2l-2 -1l-2 -2l2 -2l2 0zM1351 133l-2 3l-4 -1l1 -3l1 -1l3 -1zM1367 394l2 3l-2 4l-5 0l-2 -4l3 -4zM1435 193l-4 1l-3 -3l1 -5l6 -1l2 5z"/><path fill="#1c461c" d="M1386 401l-3 -3l2 -3l3 1l3 1l-1 4zM1220 415l3 -3l2 3l1 5l-4 0l-4 -2zM1236 398l-2 4l-5 1l-2 -4l1 -4l5 -1zM1200 319l1 -1l2 2l-1 2l-2 0l-1 -1zM1350 407l3 -1l3 1l0 4l-3 0l-2 -1zM1224 295l-3 2l-2 -2l-2 -4l4 -1l4 1zM1453 282l3 1l2 3l-5 1l-3 0l1 -4zM1443 168l-1 3l-2 2l-2 -4l1 -2l2 -1zM1330 341l-1 3l-2 1l-2 0l0 -3l2 -2zM1361 365l-4 1l-2 -2l-1 -3l3 -2l4 2zM1202 384l3 -3l4 -2l3 3l-2 4l-5 2zM1406 364l2 2l0 3l-2 2l-3 -1l0 -4zM1339 419l2 0l1 2l0 3l-4 0l0 -3zM1282 375l-3 -2l2 -3l2 -2l1 3l0 2zM1259 333l0 5l-4 0l-2 0l-1 -4l3 -2zM1386 244l2 -2l2 1l1 2l-1 2l-2 -1zM1322 355l-2 -4l0 -4l3 0l4 1l0 5zM1332 311l6 0l1 5l-2 3l-4 0l-2 -3zM1251 357l-4 4l-5 -2l0 -4l3 -2l4 -1zM1435 307l1 -2l1 -1l3 1l0 3l-3 2zM1426 417l2 1l0 2l-2 3l-2 -3l-1 -2zM1308 197l2 1l-2 3l-3 1l-1 -3l2 -2zM1424 381l-2 -2l2 -1l1 -1l2 1l-1 2zM1214 397l-2 -1l-1 -3l2 -1l3 0l0 3zM1333 403l2 -1l1 2l-1 2l-2 0l-1 -2zM1175 301l0 -4l3 -2l3 2l1 4l-4 3zM1337 388l1 2l-1 2l-2 0l-1 -2l1 -2zM1427 440l3 -3l2 3l0 3l-3 3l-2 -4zM1258 438l-3 1l-1 -3l0 -2l3 -1l2 3zM1419 412l-2 2l-3 0l-1 -3l2 -1l3 -1zM1219 133l2 2l-1 4l-3 0l-2 -3l1 -3zM1447 358l1 -2l3 0l1 3l-1 2l-3 -1zM1422 171l1 -1l1 -2l1 2l1 2l-2 1zM1297 251l0 2l-2 0l-1 -1l0 -2l2 -1zM1383 406l-4 -1l-3 -3l3 -2l3 -1l2 3zM1262 392l-4 0l-1 -4l2 -3l3 2l3 3zM1257 338l2 0l0 2l-1 2l-3 -1l1 -2zM1280 451l2 -2l2 0l2 2l-2 2l-2 0zM1240 404l-4 -1l-3 -3l3 -3l4 0l2 3zM1280 410l1 3l-2 1l-3 0l0 -3l2 -1zM1341 329l0 3l-3 3l-3 -2l-2 -5l5 -2zM1386 356l0 2l-2 0l-1 -1l-1 -2l2 0zM1326 339l2 4l-3 4l-4 -3l0 -3l1 -2zM1296 289l-2 -3l3 -2l1 2l2 2l-2 1zM1232 382l-1 3l-2 1l-2 -1l-1 -2l3 -2zM1465 357l-4 3l-3 -4l3 -3l3 -2l3 3zM1341 156l0 -2l2 -2l2 2l-1 3l-2 0zM1411 322l-3 0l0 -3l2 -2l1 2l1 1zM1360 422l1 2l0 2l-3 1l-3 -1l2 -4zM1326 373l3 -3l4 -2l3 4l-2 4l-5 1zM1378 252l-3 3l-1 -4l-2 -3l4 -1l3 2zM1252 358l5 0l0 3l1 5l-5 -2l-3 -2zM1200 361l1 2l1 2l-2 0l-3 0l1 -2zM1142 382l1 -2l2 1l1 2l-2 2l-2 0zM1229 379l1 -3l2 -2l2 2l1 2l-3 1zM1176 399l0 4l-4 2l-1 -4l0 -3l3 -2zM1180 435l4 -3l3 2l2 3l-3 3l-5 0zM1144 395l3 -3l4 2l-1 4l-2 2l-4 -1zM1244 290l-2 0l-1 -2l1 -2l2 1l1 1zM1276 311l0 4l-4 1l-2 -2l1 -3l2 -2zM1312 363l-2 3l-3 -1l-2 -2l1 -3l3 0zM1311 426l1 -2l3 0l2 3l-2 3l-4 -1zM1300 396l-4 -1l0 -4l2 -3l2 2l2 3zM1339 339l3 3l-4 2l-3 1l-1 -3l1 -3zM1380 268l-2 3l-2 -3l-1 -3l3 -1l3 1zM1360 420l3 -3l4 2l1 3l-2 3l-3 -2zM1291 432l-2 -3l0 -3l2 -2l4 2l0 4zM1248 427l2 -3l4 2l0 4l-3 3l-3 -2zM1229 161l2 3l-2 3l-3 -1l-1 -2l1 -2zM1227 281l0 -2l2 0l2 1l-1 2l-2 0zM1436 419l4 3l-1 4l-4 0l-3 -2l0 -4zM1258 414l0 3l-2 3l-3 -2l-1 -3l3 -2zM1318 344l-2 5l-4 -2l-1 -3l1 -4l4 1zM1373 306l0 -2l1 -1l2 1l0 2l-1 1zM1413 397l2 2l1 3l-4 1l-1 -3l0 -2zM1216 244l2 0l2 1l0 2l-3 1l-1 -2zM1353 168l4 2l1 2l0 4l-4 0l-3 -4zM1314 229l-4 0l-1 -3l2 -3l2 1l1 2zM1392 393l-2 0l-2 -2l1 -2l3 1l1 2zM1370 156l-2 3l-3 -1l-2 -2l1 -3l3 1zM1285 355l2 4l-4 3l-3 -2l-1 -4l3 -1zM1395 399l2 -3l3 0l2 2l-1 4l-4 1zM1190 317l0 -3l2 -1l4 0l0 5l-4 0zM1268 366l-2 0l-2 -1l0 -2l2 0l2 0zM1329 435l-2 2l-3 -1l-2 -2l2 -3l4 0zM1176 425l2 1l0 3l-2 4l-3 -4l0 -2zM1435 326l1 -3l4 1l0 3l-1 3l-3 -1zM1226 273l-5 -3l3 -4l3 -2l4 2l-2 4zM1353 326l2 -4l5 1l2 5l-4 2l-4 0zM1208 375l0 2l-1 1l-2 0l0 -2l1 -1zM1277 424l-1 2l-3 2l-3 -3l2 -4l3 0zM1428 359l1 4l-4 3l-4 -3l2 -3l2 -4zM1322 408l2 2l-2 1l-2 2l-1 -3l0 -3zM1292 365l-1 4l-2 1l-4 0l0 -4l4 -2zM1461 291l-2 0l-2 -2l1 -2l3 -1l1 3zM1295 323l3 -3l4 -1l3 4l-2 5l-5 0zM1380 400l-2 1l0 -2l2 -1l1 0l1 2zM1151 354l4 3l1 5l-5 3l-2 -4l-2 -4zM1263 430l-1 3l-3 -2l-2 -3l3 -1l3 0zM1290 389l-4 -1l-2 -3l3 -4l5 1l1 4zM1424 159l-2 -2l1 -2l2 -1l2 2l-1 2zM1269 462l-3 -3l1 -5l5 1l2 3l-1 4zM1285 404l3 0l3 2l-2 2l-2 2l-2 -3zM1197 393l5 -1l3 4l-3 4l-4 0l-2 -3zM1189 305l2 -4l5 1l1 5l-4 2l-4 0zM1413 333l3 -3l4 2l1 4l-4 3l-3 -2zM1356 180l2 0l2 2l-2 2l-2 -1l0 -1zM1410 400l1 -4l5 -2l3 3l-2 4l-3 1zM1150 323l1 -3l3 0l2 2l-2 2l-2 1zM1440 354l-3 1l-4 -3l1 -5l5 0l2 3zM1303 371l-1 2l-3 1l-1 -3l0 -3l3 1zM1200 397l4 -2l3 1l0 4l-2 2l-4 -1zM1431 267l1 -3l3 -2l3 3l-1 4l-4 0zM1180 419l1 -3l2 1l1 2l-1 2l-3 1zM1143 372l0 4l-4 3l-4 -3l0 -5l4 0zM1436 377l2 1l-1 2l-2 1l-1 -1l0 -2zM1368 370l3 2l2 2l-2 3l-4 0l-1 -3zM1333 311l-4 -1l0 -4l4 -3l2 3l2 5zM1401 391l2 0l2 2l-1 3l-2 0l-1 -2zM1238 378l-3 2l-3 -2l0 -4l3 -2l3 3zM1355 407l-3 3l-3 -3l-1 -3l2 -3l3 2zM1143 336l-2 -1l-2 -1l2 -2l2 0l1 2zM1196 309l-1 -4l3 -2l3 0l2 4l-3 3zM1449 412l-3 -1l-1 -1l0 -2l2 -1l2 2zM1236 218l-2 2l-3 -1l0 -2l2 -2l2 1zM1261 178l4 3l0 6l-5 1l-4 -3l0 -4zM1353 413l1 0l0 1l-1 2l-2 -1l0 -2zM1317 319l-1 -2l1 -1l1 -2l3 2l-2 2zM1334 387l0 -4l4 0l2 2l-1 3l-3 1zM1135 365l2 -1l0 2l0 1l-2 1l-1 -2zM1395 304l-2 1l-2 -1l-2 -3l4 -2l3 2zM1414 314l-1 -3l2 -1l2 0l1 2l-1 2zM1250 446l-3 0l-1 -4l3 -1l3 0l1 3zM1186 395l0 -4l4 -2l4 3l-2 4l-3 2zM1187 407l-4 -2l0 -4l3 -2l4 1l0 4zM1281 366l-2 4l-3 3l-4 -2l0 -5l5 -1zM1314 171l-4 2l-2 -3l-1 -4l4 0l2 2zM1296 367l3 -2l2 1l2 3l-3 3l-3 -1z"/><path fill="#44903e" d="M1467 278l1 2l-2 2l-2 -1l-1 -2l2 -1zM1295 179l2 5l-3 4l-6 0l-1 -5l3 -3zM1199 202l3 -1l1 2l-1 2l-2 1l-1 -2zM1334 320l3 0l1 1l0 2l-2 0l-2 -1zM1300 197l3 -4l4 2l1 5l-4 2l-3 -2zM1240 296l1 -2l3 0l1 2l-1 2l-3 0zM1439 251l1 2l0 3l-2 0l-2 -2l1 -2zM1204 176l4 3l-1 4l-3 3l-2 -3l-2 -4zM1406 234l4 -2l2 3l0 4l-4 1l-3 -2zM1263 57l4 0l-1 5l-3 2l-5 -1l2 -5zM1222 120l3 -2l2 2l-1 3l-3 2l-3 -2zM1252 130l1 -1l2 0l0 2l-1 1l-2 0zM1288 293l-3 -1l0 -5l5 -1l3 3l-1 4zM1321 158l0 2l-2 2l-2 -1l-1 -3l2 -2zM1312 209l-3 -1l-1 -2l1 -2l3 0l1 3zM1388 167l3 0l2 2l-1 2l-3 2l-2 -3zM1278 178l-2 -2l1 -4l5 0l2 4l-2 3zM1203 204l-4 0l-1 -3l1 -3l4 -1l0 4zM1426 279l-2 1l-2 -2l1 -3l2 0l2 2zM1216 223l-1 -3l0 -2l3 0l1 1l0 3zM1319 41l-2 3l-3 -2l-1 -3l3 -3l3 2zM1434 300l-3 2l-3 -3l3 -3l3 -2l2 3zM1252 77l2 -2l4 0l-1 3l-1 2l-3 0zM1265 72l0 4l-3 1l-3 0l0 -4l2 -1zM1297 225l2 -4l3 -1l2 1l1 4l-4 2zM1274 344l1 -2l3 0l1 1l-1 2l-2 1zM1377 118l1 -3l3 1l1 3l-2 1l-3 1zM1305 275l-1 -2l1 -2l2 0l0 2l0 1zM1343 296l-2 -2l1 -1l2 -2l2 2l-1 2zM1408 199l-2 -1l-1 -2l2 -1l1 0l1 2zM1301 60l2 1l3 2l-3 2l-3 1l0 -3zM1375 203l-4 -3l2 -4l3 -1l4 1l-2 4zM1272 91l2 1l-1 2l-2 1l-3 0l1 -4zM1350 201l-2 -3l1 -4l4 -1l1 4l-1 2zM1313 70l5 0l0 5l-1 4l-4 0l0 -4zM1321 154l-2 -4l5 -1l2 3l0 3l-3 3zM1374 210l2 2l-2 3l-3 0l-2 -4l2 -3zM1231 183l2 1l0 2l-1 0l-3 0l0 -2zM1352 142l0 1l-1 2l-2 -1l-1 -2l2 -1zM1303 262l2 2l-1 3l-3 3l-4 -4l1 -4zM1384 284l-2 1l-3 1l-1 -4l3 -1l2 0zM1353 158l-1 2l-3 0l0 -2l2 -1l1 0zM1423 287l-2 4l-5 2l-3 -4l1 -5l5 -1zM1335 336l2 2l-2 3l-3 0l-1 -3l2 -2zM1430 321l4 -1l1 4l-2 4l-4 -1l-2 -4zM1202 254l-4 1l-4 -1l2 -4l3 -2l4 2zM1433 217l3 2l-1 3l-3 1l-2 -2l1 -2zM1309 78l0 -2l2 -1l3 0l0 3l-3 2zM1169 199l2 1l0 2l-2 1l-1 -1l-1 -2zM1320 159l2 0l2 2l-3 1l-2 0l0 -2zM1393 194l2 -2l3 1l0 3l-2 2l-3 -1zM1405 156l-2 -3l3 -2l2 0l1 1l-1 2zM1221 314l3 0l2 3l-3 2l-2 -1l-1 -2zM1466 320l0 2l-1 3l-3 -1l-2 -3l3 -2zM1224 135l2 -2l4 -1l2 4l-2 4l-5 -1zM1415 217l-1 -1l2 -2l2 2l0 2l-2 1zM1203 280l2 0l3 1l-1 3l-3 -1l-1 -1zM1444 270l0 -1l2 0l1 1l-1 2l-1 0zM1292 147l0 2l0 1l-1 1l-2 -1l1 -2zM1349 240l0 3l-4 1l0 -4l1 -2l3 -1zM1423 208l0 3l-2 0l-2 -1l0 -3l2 -1zM1342 74l0 -3l2 -1l1 2l0 1l-1 2zM1204 242l1 3l-1 2l-3 0l-1 -2l1 -3zM1308 111l-4 0l-1 -3l1 -3l3 0l1 2zM1256 151l5 -2l3 2l0 4l-3 2l-4 -1zM1314 150l2 3l-2 2l-2 1l-3 -2l1 -2zM1429 334l-1 4l-4 0l-2 -3l1 -4l3 1zM1204 240l3 2l-1 3l-3 0l-1 -1l-1 -2zM1290 145l-3 3l-4 0l-2 -3l2 -4l4 1zM1239 295l-3 0l0 -3l2 -2l2 2l1 3zM1218 235l-3 0l1 -3l2 -1l3 1l-1 3zM1263 234l1 4l-3 1l-3 0l0 -3l2 -2zM1296 219l-2 2l-2 0l0 -2l1 -3l1 2zM1253 354l-2 -1l1 -3l4 -1l1 3l-1 3zM1297 74l2 -2l2 1l2 4l-4 1l-3 -1zM1374 232l-1 3l-3 -1l-2 -3l3 -2l2 1zM1392 288l2 -3l4 -1l2 4l-2 3l-3 0zM1173 315l1 -3l4 -1l1 4l-1 5l-4 -2zM1147 275l-1 -2l2 -1l2 1l0 2l-2 1zM1356 141l2 -1l1 2l-1 3l-3 -1l-1 -2zM1314 238l1 3l-1 4l-4 -2l-2 -3l2 -4zM1336 132l4 0l0 4l-2 2l-3 0l-1 -4zM1175 311l-2 -4l2 -3l3 0l2 2l-2 3zM1314 63l3 -3l2 4l-1 3l-4 2l-3 -3zM1313 156l-2 3l-3 1l-1 -2l0 -3l3 -1zM1353 109l-4 -1l0 -5l4 -2l4 2l0 5zM1406 131l-1 2l-3 -1l-1 -2l2 -2l3 1zM1277 51l-2 -1l-2 -3l3 -2l3 0l1 4zM1448 246l-4 4l-4 -1l-1 -4l2 -2l4 -1zM1208 223l0 -2l3 -1l2 3l-2 2l-2 1zM1263 103l-1 2l-2 0l-1 -2l1 -2l2 0zM1232 245l3 -3l2 3l1 5l-4 0l-2 -2zM1380 298l3 1l2 4l-3 1l-4 0l0 -3zM1435 187l0 3l-3 2l-3 -2l0 -3l3 -3zM1407 382l2 -3l4 1l-1 4l-2 3l-4 -2zM1264 184l-3 1l0 -4l0 -3l4 0l2 4zM1263 278l-4 2l-2 -3l-2 -4l4 -2l5 2zM1345 136l1 -2l1 -1l1 1l0 2l-1 0zM1464 311l0 -3l3 -1l2 2l0 2l-3 1zM1331 159l0 -3l1 -2l3 0l0 3l-1 2zM1348 216l0 3l-4 0l-3 -2l2 -4l3 1zM1284 258l-3 -3l0 -5l4 -1l4 2l-1 4zM1404 170l4 3l-1 4l-5 0l-2 -3l2 -2zM1251 144l-1 -4l2 -3l5 0l0 5l-2 4zM1301 148l2 2l-2 2l-2 2l-2 -3l1 -2zM1316 49l-1 -5l4 -1l4 0l-1 4l-2 2zM1256 360l-3 2l-4 -2l2 -4l3 -2l3 3zM1322 152l-3 2l-2 -2l0 -3l2 -1l3 1zM1171 254l-1 -2l0 -3l3 0l1 2l-1 3zM1307 140l1 -3l3 1l1 3l-2 1l-3 2zM1268 82l3 -3l3 1l2 3l-2 4l-3 -2zM1367 152l0 2l-4 0l0 -3l2 -1l2 0zM1309 187l3 -2l2 -1l1 3l-1 1l-3 1zM1349 300l4 1l1 4l-3 4l-3 -3l-2 -3zM1271 206l2 -1l3 2l-1 3l-3 0l-1 -2zM1326 83l3 -2l3 1l1 4l-4 2l-4 -1zM1376 145l-4 -1l0 -4l3 -1l4 1l-1 3zM1199 200l1 -2l3 1l1 2l-2 2l-2 -1zM1294 134l-1 4l-4 -1l-1 -3l0 -4l4 2zM1388 295l0 -2l2 0l3 1l-2 3l-2 0zM1302 95l1 1l-1 2l-2 -1l-1 -2l1 -2zM1345 232l2 1l1 4l-4 0l-2 -2l0 -4zM1176 294l3 1l0 2l-2 1l-1 -1l-2 -1z"/><path fill="#70b05c" d="M1294 103l2 -2l2 2l0 2l-1 1l-2 -1zM1402 181l4 0l-1 3l-1 2l-2 0l-1 -3zM1310 89l0 3l-1 1l-3 0l-1 -2l2 -3zM1317 126l0 -4l3 -2l2 2l1 2l-2 3zM1329 183l1 -3l2 -2l4 2l-1 4l-3 1zM1279 77l-4 0l0 -5l2 -2l4 0l1 4zM1304 106l-1 2l-3 -1l1 -2l1 -1l2 0zM1361 225l-4 -1l1 -5l4 -1l3 2l0 4zM1220 171l-1 -2l2 -1l3 -1l-1 3l-1 1zM1345 287l0 -2l2 -1l2 1l-1 2l-1 1zM1440 234l2 -4l3 1l2 2l-1 4l-4 -1zM1433 321l1 2l-1 3l-3 1l-2 -3l2 -3zM1251 118l0 -4l3 0l3 1l-1 3l-3 1zM1369 233l-1 5l-4 -2l-3 -4l4 -2l5 -2zM1361 114l-2 -1l-2 -1l1 -2l2 -1l0 2zM1236 187l1 -3l1 -2l2 1l1 2l-2 3zM1443 217l2 1l0 2l-2 2l-2 -2l0 -2zM1296 190l2 2l-1 3l-3 0l-1 -2l0 -2zM1302 40l1 3l-3 1l-3 0l0 -4l3 -1zM1211 181l2 2l-1 3l-3 -1l-2 -2l1 -2zM1203 162l2 2l2 3l-3 2l-3 -1l0 -4zM1347 178l-3 0l-2 -2l1 -2l3 -1l2 2zM1362 105l-2 -3l3 -1l2 0l1 2l-2 3zM1378 119l0 1l-2 2l-1 -3l1 -2l2 0zM1405 285l-3 -2l2 -4l3 -2l4 3l-1 5zM1431 303l-4 -3l0 -3l4 -2l2 2l2 4zM1319 63l2 0l2 2l-2 2l-3 1l-1 -3zM1299 42l0 4l-2 3l-4 -2l-1 -4l4 -1zM1279 72l0 3l-3 2l-3 -1l-1 -4l3 -2zM1313 117l-4 1l-1 -4l2 -3l4 1l0 3zM1296 37l-2 0l0 -3l2 -1l1 1l1 2zM1386 176l0 -4l2 -4l3 3l1 2l-2 2zM1315 154l-2 -1l0 -2l2 0l1 0l1 2zM1157 271l2 2l2 2l-1 3l-3 -2l-2 -2zM1340 294l0 -2l2 0l2 0l-1 2l-2 1zM1345 126l-2 2l-2 -2l-1 -2l2 -2l4 1zM1296 43l-2 0l-1 -2l1 -3l3 1l1 2z"/><path fill="#143416" d="M1143 375l0 -3l2 -1l2 1l0 2l-2 2zM1219 352l-1 -3l2 -1l2 0l1 3l-2 1zM1251 428l3 -1l4 0l0 3l-3 1l-2 -1zM1357 388l0 3l-3 1l-2 -2l1 -3l2 0zM1253 378l-1 -2l1 -3l4 1l-1 3l-1 2zM1277 429l-3 1l-3 -1l1 -3l2 -1l3 0zM1378 394l3 1l-1 4l-3 0l-3 0l0 -4zM1218 369l-3 0l0 -3l1 -3l3 2l1 3zM1298 437l2 -3l3 0l1 3l-1 3l-4 0zM1388 428l2 2l0 3l-2 0l-2 -1l1 -2zM1447 433l2 -1l3 0l-1 3l-2 2l-3 -1zM1281 403l-1 -3l1 -4l4 1l3 3l-4 2zM1167 419l-2 -4l3 -3l4 0l0 4l-1 3zM1247 456l-3 -4l0 -2l2 -4l3 3l2 4zM1272 415l2 -3l2 3l1 3l-3 1l-3 -2zM1202 392l2 1l1 3l-3 0l-2 0l-1 -3zM1163 369l-2 3l-3 -1l-1 -3l2 -2l3 0zM1261 422l-2 4l-4 -2l-3 -2l2 -5l5 0zM1466 306l2 1l-1 2l-2 1l0 -2l0 -1zM1210 356l-3 0l-1 -2l1 -2l2 0l1 2zM1228 412l-3 4l-3 3l-4 -3l3 -4l3 -3zM1281 396l3 -3l4 2l-1 3l-2 2l-3 0zM1393 425l-2 0l-1 -3l3 -1l2 0l1 4zM1364 429l-2 1l-2 -1l1 -2l2 -1l2 1zM1435 430l-2 -4l3 -3l4 1l1 4l-2 2zM1382 439l-1 -1l0 -2l2 -1l1 1l1 2zM1353 193l0 -2l1 -2l2 0l1 2l-2 1zM1328 399l1 3l-1 2l-2 -1l-3 -2l2 -2zM1241 285l1 2l-1 1l-2 1l-1 -2l1 -2zM1432 430l1 2l-1 1l-2 0l-1 -1l1 -2zM1323 383l2 -1l3 1l0 3l-3 0l-1 -1zM1337 379l-4 0l-1 -3l0 -2l3 -1l2 2zM1320 406l0 -2l3 -1l2 1l0 3l-3 1zM1340 376l2 -1l1 2l0 1l-1 2l-2 -1zM1255 429l5 -2l3 3l-1 5l-4 1l-2 -3zM1268 374l2 2l0 4l-4 2l-4 -3l2 -4zM1289 401l-3 -2l0 -3l4 -2l2 3l0 3zM1227 363l4 -1l1 3l-1 4l-4 0l-1 -3zM1320 436l-3 1l-1 -2l-1 -4l3 1l3 1zM1272 365l-2 0l1 -3l1 -1l3 1l0 3zM1242 391l2 -2l3 -1l1 3l-1 4l-4 0zM1394 317l-1 -2l1 -2l2 0l1 2l-1 2zM1309 378l0 2l-1 1l-2 0l0 -2l1 -1zM1145 382l4 -1l3 1l1 3l-3 4l-4 -2zM1340 399l3 -1l2 3l-1 3l-4 0l-2 -2zM1150 393l2 1l1 3l-2 2l-2 -2l-2 -3zM1263 391l0 -4l4 0l2 2l0 4l-4 1zM1417 440l0 4l-3 1l-3 -1l1 -4l3 -1zM1232 191l2 -2l4 0l-1 4l-2 2l-2 -1zM1359 311l0 2l-2 1l-2 0l0 -2l2 -1zM1263 201l4 2l-3 4l-3 0l-3 -2l1 -4zM1140 392l4 0l1 4l-2 4l-4 0l-1 -4zM1288 434l-3 -1l-1 -2l1 -3l3 1l2 3zM1382 235l3 1l0 3l-2 3l-3 -1l0 -4zM1230 446l-1 -4l1 -2l4 -2l1 4l-2 2zM1238 427l2 1l0 2l-3 1l-1 -1l0 -2zM1137 374l-1 3l-3 0l-2 -2l0 -3l3 -1zM1293 437l4 2l-3 3l-2 1l-2 -2l1 -3zM1211 371l2 -5l4 0l3 3l-1 4l-5 2zM1350 375l-4 -1l-3 0l1 -4l3 -1l3 2zM1251 419l-4 0l-1 -4l2 -3l4 0l1 4zM1387 394l0 -2l2 -1l2 1l0 3l-3 1zM1148 339l-2 -2l2 -1l2 0l0 1l0 3zM1366 428l4 1l2 1l-1 2l-3 0l-2 -1zM1232 216l-1 2l-2 0l-1 -2l1 -2l3 -1zM1351 398l3 -1l2 1l1 4l-3 1l-3 -2zM1295 367l3 1l0 2l-2 1l-2 0l0 -2zM1187 413l4 3l1 4l-5 0l-3 0l1 -4zM1300 345l-2 3l-3 -1l0 -3l1 -2l2 1zM1232 354l-1 -4l3 -1l4 0l1 4l-4 2zM1158 351l-2 0l-2 -2l1 -2l4 -1l0 3zM1306 440l-4 0l-3 -3l2 -3l4 -2l2 3zM1300 355l2 -1l3 0l1 3l-3 2l-4 0zM1268 390l3 -1l2 2l0 2l-3 1l-1 -2zM1460 348l2 -2l2 2l0 3l-3 0l-1 -1zM1227 349l2 -2l2 -2l2 2l-1 3l-2 1zM1382 358l1 -4l4 -1l2 3l1 4l-5 0zM1419 446l-2 -4l3 -2l4 1l1 4l-3 2zM1425 379l-3 -1l0 -3l3 -2l2 3l0 2zM1196 397l0 4l-4 1l-2 -2l2 -3l2 -1zM1341 424l3 2l1 4l-3 3l-4 -2l0 -4zM1285 408l-3 -5l4 -2l4 -2l2 5l-2 5zM1288 438l-3 2l-4 -1l0 -3l2 -3l4 1zM1420 349l2 -4l3 2l3 2l-2 2l-3 1z"/><path fill="#98c884" d="M1328 106l1 -2l2 0l2 3l-2 2l-4 0zM1392 176l2 2l-2 3l-3 2l-2 -4l1 -4zM1381 121l-1 2l-2 0l0 -2l1 -2l2 1zM1334 178l3 -1l3 1l0 5l-4 0l-3 -1zM1379 139l3 1l2 1l-1 2l-2 1l-2 -2zM1289 48l2 -1l3 2l-2 3l-3 0l-1 -2zM1367 92l-1 3l-4 -1l-2 -3l3 -4l4 2zM1335 123l2 -1l4 0l-1 4l-3 1l-3 -2z"/><path fill="#0c240e" d="M1259 373l1 3l-2 2l-4 0l-1 -4l3 -2zM1279 394l1 2l0 3l-3 -1l-1 -2l1 -1zM1466 409l2 2l-2 3l-3 0l-1 -3l2 -2zM1182 429l0 2l-3 0l-1 -2l1 -2l2 0zM1296 432l4 1l1 4l-2 4l-5 -1l-1 -5zM1158 380l-5 0l-3 -2l1 -4l4 -1l2 2zM1277 384l2 4l-2 4l-5 0l-2 -5l3 -4zM1287 424l-1 -3l1 -2l3 0l1 3l-2 1zM1400 428l2 2l-1 2l-3 2l-1 -3l0 -3zM1257 373l0 -4l4 0l4 0l-3 4l-2 3zM1324 402l-3 -1l0 -3l2 -1l3 0l0 3zM1223 407l-2 -2l2 -1l2 -1l2 2l-2 2zM1239 426l-2 0l0 -2l2 -2l2 1l0 3zM1350 402l-1 2l-2 2l-2 -2l1 -3l2 0zM1352 370l1 4l-1 3l-4 0l-1 -4l1 -2zM1206 413l-1 2l-2 2l-2 -2l0 -2l2 -2zM1302 441l-3 0l-2 -1l0 -4l4 0l4 2zM1221 403l-2 3l-1 2l-2 -2l-1 -2l2 -3zM1402 447l-3 -4l1 -4l4 -1l4 3l-3 3zM1173 422l2 -2l1 3l0 3l-3 1l-3 -3zM1197 408l3 3l-3 3l-4 0l-1 -3l1 -4zM1466 422l-1 2l-2 1l-2 -2l1 -3l3 0zM1226 425l0 3l-3 3l-4 -2l-1 -5l5 -1zM1230 427l0 2l-1 2l-1 -1l-1 -1l1 -2zM1292 374l-3 0l0 -3l1 -2l2 0l1 3zM1225 328l3 2l0 4l-4 2l-3 -3l0 -4zM1420 438l1 -3l4 1l1 4l-3 3l-3 -3zM1421 361l-1 3l-3 0l-2 -2l1 -3l3 -1zM1224 340l2 3l-1 2l-3 2l-1 -3l1 -2zM1409 427l-3 -1l2 -2l2 -1l2 2l-1 2zM1238 440l1 -4l4 -2l2 5l-2 3l-3 1zM1223 374l-4 -1l-1 -4l3 -1l3 -1l2 4zM1302 442l1 -1l3 -2l1 3l-1 2l-3 0zM1319 440l-1 2l-1 1l-2 -2l1 -1l2 -1zM1458 438l-1 -3l1 -3l3 -1l2 3l-1 3zM1375 421l-3 0l0 -3l0 -3l3 1l2 2zM1347 370l4 1l2 3l-3 3l-4 1l0 -5zM1395 443l2 2l-1 2l-2 2l-3 -2l1 -3zM1344 372l4 -2l3 3l-1 4l-3 1l-3 -2zM1350 410l1 -2l2 0l1 2l-1 2l-3 1zM1239 439l0 -2l1 -1l2 1l1 3l-3 1zM1330 391l2 4l-3 4l-5 0l0 -4l1 -4zM1219 346l-5 0l-1 -4l1 -3l3 -2l3 4zM1289 331l0 2l-1 2l-3 0l0 -2l1 -3zM1270 345l-1 2l-2 0l-1 -2l1 -2l3 -1zM1349 383l1 3l-3 2l-3 -2l-1 -4l4 -1zM1268 386l0 3l-1 3l-3 0l-2 -3l2 -2zM1359 314l2 -3l3 1l2 3l-1 4l-5 0zM1423 453l-1 -2l1 -2l2 2l1 1l-2 1zM1206 379l3 -3l4 -2l3 4l-3 3l-4 1zM1350 423l0 -2l2 0l1 1l-1 1l-1 1zM1388 364l0 2l-3 -1l-1 -1l0 -3l3 1zM1295 403l-2 3l-3 2l-3 -3l1 -4l4 0zM1254 375l-3 0l-5 0l1 -5l4 -1l4 1zM1272 419l-1 -2l2 -1l2 1l1 2l-3 2zM1434 400l-3 -2l-1 -2l2 -2l3 0l2 4zM1274 380l1 -2l1 1l1 2l-1 1l-2 0zM1303 398l-2 -1l0 -2l1 -1l2 0l0 2zM1301 403l1 -1l2 -1l1 2l0 2l-3 0zM1202 426l2 -2l3 1l1 2l-2 2l-2 -1zM1468 383l-1 -2l1 -2l2 0l1 1l-1 2zM1271 419l-3 2l-3 0l-3 -3l3 -3l4 1zM1227 193l2 1l-1 2l-1 0l-2 0l1 -2z"/><path fill="#56a04a" d="M1368 184l4 0l0 3l-2 2l-3 1l0 -3zM1372 280l2 1l2 2l-2 3l-3 -1l-1 -3zM1390 203l5 -1l1 4l-1 5l-4 -2l-4 -2zM1354 86l0 2l-3 0l-2 -2l2 -2l2 0zM1165 339l-4 -1l0 -4l3 -2l3 2l0 3zM1345 182l2 -1l3 0l0 3l-2 2l-2 -1zM1208 203l2 4l0 3l-2 3l-3 -4l0 -2zM1399 191l3 -3l3 3l1 4l-5 3l-3 -3zM1437 244l0 -2l3 -1l1 2l1 4l-4 -2zM1272 50l0 3l-3 3l-4 -2l1 -4l3 -2zM1302 102l1 2l-2 2l-2 -1l-1 -2l2 -1zM1335 74l-3 3l-4 -2l-1 -5l4 -3l5 2zM1203 184l-4 1l-3 -3l0 -3l3 -1l3 2zM1165 359l-1 -1l1 -2l2 0l1 2l-2 1zM1312 158l1 4l-2 3l-3 -1l-1 -3l1 -3zM1232 327l2 -2l2 0l4 1l-3 3l-3 0zM1293 126l-1 3l-2 3l-2 -1l-1 -3l1 -4zM1348 115l3 0l1 2l-1 3l-3 1l0 -3zM1159 288l-2 1l-2 1l0 -2l0 -2l2 0zM1415 214l1 -4l3 -4l4 2l1 5l-4 2zM1340 112l-3 2l-4 1l-1 -5l3 -3l3 2zM1337 190l-4 -4l2 -4l4 -2l3 4l-1 4zM1409 210l-1 -3l1 -2l3 0l1 2l-2 2zM1334 73l-1 3l-3 0l-1 -4l2 -2l3 1zM1333 116l3 -1l1 3l-1 4l-4 -1l-1 -3zM1388 329l1 2l-1 2l-3 -1l-1 -2l2 -2zM1410 185l-1 3l-3 -2l-1 -2l1 -2l4 -1zM1258 106l0 3l-3 0l-3 -1l1 -4l3 -1zM1333 111l-2 3l-3 0l-2 -3l2 -2l3 0zM1414 179l-1 1l-3 0l0 -3l3 -2l2 2zM1328 106l0 -2l2 1l2 1l-2 2l-2 0zM1379 123l-1 4l-4 1l-2 -4l2 -3l3 -1zM1257 254l-3 -2l3 -3l3 1l1 2l-1 3zM1445 243l2 -3l3 2l1 4l-3 1l-4 0zM1397 125l-1 2l-2 0l-2 -2l2 -2l2 0zM1476 351l3 0l0 2l-2 2l-2 0l0 -3zM1314 155l0 -3l2 -2l3 0l2 4l-4 2zM1337 89l-2 2l-2 0l-1 -2l1 -3l3 -1zM1265 54l0 -3l4 -3l4 3l-1 4l-4 1zM1307 155l-4 4l-2 -5l0 -4l4 -2l3 4zM1349 116l-2 3l-3 0l-2 -2l2 -2l2 -1zM1321 68l0 2l-2 1l-2 -2l1 -2l2 0zM1156 277l0 3l-3 2l-2 -2l0 -3l2 -2zM1389 150l-2 4l-4 2l-2 -4l0 -4l4 -1zM1177 319l4 -2l3 4l-2 3l-3 2l-2 -4zM1418 212l-2 4l-4 -3l0 -3l2 -3l5 0zM1380 219l-3 1l-2 -2l0 -2l2 -1l3 1zM1398 297l-2 -2l2 -3l3 1l1 2l-1 2zM1254 117l-3 2l-3 -3l0 -3l3 -4l3 4zM1256 117l-3 1l-3 -2l1 -3l3 -2l3 2zM1400 231l4 2l1 3l-2 3l-5 1l-1 -5zM1433 219l2 2l-1 2l-2 1l-2 -1l0 -3zM1275 42l0 4l-3 2l-4 -2l1 -3l2 -1zM1181 242l4 0l2 3l-2 3l-3 -1l-2 -2zM1438 212l2 2l0 2l-3 2l-1 -2l0 -3zM1411 248l-3 -2l0 -3l3 -3l3 2l-1 3zM1395 199l-1 -2l1 -1l2 0l1 2l-2 1zM1421 290l1 1l1 2l-1 2l-3 -1l0 -2zM1294 101l2 1l-2 2l-2 -1l0 -1l0 -2zM1397 250l-1 -5l4 -2l3 3l1 3l-3 2zM1269 56l1 -3l2 -2l3 1l0 3l-3 2zM1310 39l0 -3l2 -1l4 0l-1 4l-2 2zM1424 209l1 1l0 2l-2 1l-2 -1l1 -3zM1421 203l2 0l1 1l-1 3l-3 0l-1 -3zM1397 179l2 -2l3 1l0 3l-2 1l-2 -1zM1209 286l4 2l-2 4l-2 3l-4 -3l1 -4zM1164 272l-4 -2l1 -5l5 -1l4 3l-3 4zM1261 116l-1 3l-3 0l-3 -3l2 -3l4 -1zM1437 187l-2 1l-3 0l1 -2l1 -2l3 1zM1297 56l1 -3l3 -1l3 2l-1 4l-3 1zM1360 107l5 1l-1 5l-4 1l-4 -1l1 -5z"/><path fill="#387c34" d="M1448 293l-2 3l-4 0l-1 -3l1 -3l3 0zM1292 244l0 -2l2 -2l3 2l-1 2l-2 3zM1183 364l-2 -2l0 -3l2 -2l3 2l-2 3zM1236 227l0 -2l1 -2l3 2l-1 2l-2 2zM1303 85l-2 0l-1 -3l2 -1l2 0l1 2zM1423 337l-2 1l-2 0l-1 -2l2 -1l2 0zM1472 302l-2 3l-2 -2l-2 -3l3 -2l3 2zM1293 272l2 1l1 3l-3 1l-3 -2l1 -2zM1367 322l0 -3l4 -2l2 3l-1 3l-3 1zM1337 212l-2 2l-2 -2l1 -2l2 -1l1 2zM1180 232l-2 0l-1 -1l0 -1l2 -1l2 1zM1386 280l0 -4l3 -1l2 1l2 3l-4 3zM1346 140l3 2l-1 4l-4 1l-2 -3l1 -3zM1261 296l-2 -1l-1 -2l2 -2l2 1l1 2zM1423 239l0 2l-3 1l-1 -2l0 -2l3 0zM1336 313l1 4l2 4l-4 0l-2 -2l-1 -3zM1308 49l2 3l-4 2l-2 -3l-1 -3l4 -2zM1351 128l1 3l-3 0l-2 0l0 -3l2 -2zM1469 333l0 3l-3 3l-2 -3l0 -2l2 -2zM1309 225l-2 4l-3 3l-2 -3l-1 -4l3 -2zM1409 228l0 -2l1 -1l2 -2l2 3l-2 2zM1277 303l0 -2l2 -1l1 1l0 2l-1 2zM1232 114l1 3l-2 3l-4 -1l-1 -3l3 -2zM1172 360l-2 -1l-2 -3l3 -2l2 2l1 2zM1286 301l-4 -1l0 -4l4 -2l2 3l2 4zM1445 313l-3 -3l2 -3l4 -2l1 4l0 3zM1300 107l4 0l1 5l-3 1l-4 1l0 -4zM1439 180l3 0l3 3l-3 3l-3 1l-1 -4zM1277 249l3 1l-1 4l-2 2l-4 -2l1 -3zM1290 280l1 3l-1 2l-3 2l-2 -3l1 -3zM1310 262l-2 -1l0 -2l2 -2l1 2l1 2zM1310 90l-4 2l-3 -1l-1 -3l2 -3l3 2zM1382 244l-2 3l-4 0l-2 -4l3 -2l4 -1zM1344 291l1 3l-3 2l-4 -1l0 -5l3 0zM1359 157l2 -4l4 -4l2 5l0 4l-4 1zM1283 248l5 1l-1 5l-2 3l-4 -1l-1 -5zM1233 248l0 5l-5 0l-1 -4l1 -3l4 -1zM1192 193l0 -3l2 -2l2 1l0 2l-1 2zM1245 238l-3 2l-4 -1l0 -4l3 -1l4 0zM1170 213l-2 2l-3 -1l0 -3l3 -2l3 2zM1268 166l4 1l2 3l-1 4l-5 0l-1 -4zM1459 349l-3 -2l1 -3l2 -2l2 2l1 3zM1280 215l-2 2l-2 0l0 -2l1 -1l1 -1zM1245 202l2 2l-1 2l-3 1l0 -2l0 -2zM1181 286l1 -2l2 -2l1 3l0 2l-2 0zM1262 255l3 -3l4 2l0 4l-2 3l-4 -2zM1280 230l0 3l-3 3l-3 -1l-1 -4l3 -3zM1205 141l3 1l1 1l0 3l-2 -1l-1 -1zM1319 389l-2 2l-2 -3l-1 -3l3 -1l2 2zM1453 253l1 -5l5 -1l3 3l-1 5l-4 1zM1347 304l5 1l1 4l-1 3l-4 -1l-1 -2zM1297 242l3 1l-1 3l-2 2l-4 -1l0 -4zM1281 198l3 2l3 2l-2 4l-4 0l-2 -4zM1262 101l2 0l2 1l-1 1l-2 2l-1 -2zM1138 361l0 -3l3 0l1 2l0 3l-3 -1zM1228 280l0 4l-1 4l-5 -1l-2 -4l3 -4zM1178 348l-3 0l-1 -3l3 -1l2 0l1 2zM1296 229l1 3l-3 1l-3 -1l0 -4l4 -2zM1282 105l1 1l-1 2l-2 1l-2 -2l2 -3zM1349 129l-3 -1l-2 -1l2 -2l2 0l1 1zM1201 155l3 -1l4 2l-3 3l-3 4l-3 -4zM1428 297l0 -4l4 -1l2 3l-1 4l-3 0zM1361 358l-1 -2l-1 -1l2 -1l2 0l0 2zM1314 180l-3 3l-4 -3l1 -4l3 -2l2 3zM1429 309l1 -1l3 0l0 3l-2 2l-2 -2zM1482 332l-3 -1l-2 -1l1 -4l4 1l0 3zM1280 226l0 -2l2 -2l3 2l-1 3l-3 0zM1242 303l-1 2l-2 -1l-2 -3l2 -2l2 2zM1348 146l1 -2l1 -1l1 1l1 2l-2 0zM1274 323l2 -4l3 -1l3 3l-1 3l-3 2zM1273 316l1 1l1 3l-3 0l-2 -1l0 -3zM1314 306l3 2l3 3l-4 3l-4 -1l-2 -5zM1437 297l-2 4l-3 4l-3 -3l-1 -4l4 -2zM1328 233l-2 5l-4 -3l-2 -4l4 -2l4 0zM1407 138l2 3l-1 3l-3 0l-1 -2l0 -3zM1363 98l3 -1l0 3l-1 2l-2 0l-2 -2zM1239 327l0 3l-3 1l-2 -3l0 -4l4 0zM1281 99l1 -3l4 -3l3 3l-2 4l-3 2zM1229 229l5 0l-1 5l-2 2l-4 -1l-1 -4zM1258 84l3 -3l2 0l3 2l-3 2l-2 1zM1284 288l2 3l1 4l-4 0l-3 -2l1 -3zM1176 284l3 -1l2 2l-1 2l-2 1l-3 -1zM1288 323l-3 3l-3 -2l1 -4l3 -1l4 0zM1305 145l-3 0l-3 -2l2 -2l3 -2l1 3zM1298 77l-3 -2l1 -3l3 -2l2 3l1 3zM1195 180l-2 -1l0 -2l2 -2l1 1l0 2zM1423 206l-3 1l-3 -1l-1 -3l3 -2l3 1zM1232 320l2 1l-1 2l-1 1l-2 -2l0 -2zM1206 253l1 3l0 3l-3 0l-2 -2l0 -4zM1365 148l2 5l-4 1l-3 0l-1 -3l2 -4zM1210 267l2 2l-3 2l-2 -1l-1 -3l2 -2zM1470 344l1 -3l2 -1l3 1l-1 2l-2 2zM1431 269l2 2l0 2l-3 3l-2 -4l1 -2zM1435 232l-3 2l-4 -1l2 -4l3 -1l4 1zM1331 346l0 2l-1 1l-2 -1l0 -2l2 -1zM1214 305l-4 0l0 -4l1 -3l3 1l2 3zM1374 241l1 3l-3 1l-2 -1l0 -3l2 -1zM1172 337l3 -1l3 0l1 3l-3 1l-3 0zM1274 166l-1 2l-2 1l-1 -3l1 -2l2 0zM1392 159l2 3l-2 2l-2 0l-1 -2l1 -2zM1196 365l-2 2l-3 0l-2 -3l2 -3l4 0zM1210 282l-1 3l-2 0l-2 -1l1 -3l2 0zM1363 230l0 -2l1 -1l2 0l0 3l-2 0zM1297 163l-1 -2l1 -1l2 0l1 3l-2 0zM1357 225l4 1l-2 5l-5 1l-1 -4l1 -3zM1264 164l0 -3l4 0l1 2l0 2l-3 1zM1288 96l3 -1l5 0l-1 5l-3 1l-5 0zM1318 146l-3 1l-2 -3l2 -2l3 0l1 2zM1332 103l0 2l-1 2l-2 0l0 -2l0 -3zM1227 204l-1 1l-2 1l-2 -2l2 -2l2 0zM1239 254l3 -2l3 -1l1 3l-2 2l-3 0zM1313 88l-4 1l0 -5l1 -3l5 0l1 4zM1361 320l-2 1l-1 -3l1 -2l2 -1l1 3zM1448 247l2 4l-4 1l-3 0l0 -3l2 -2zM1399 142l3 -4l3 0l3 3l-2 3l-4 2zM1249 143l-2 -3l3 -1l3 0l0 3l-1 3zM1336 131l-2 3l-4 -2l-1 -3l3 -3l4 1zM1274 81l-2 2l-1 -2l-2 -2l2 -1l3 1zM1349 166l1 -1l3 -1l0 2l0 3l-3 -1zM1257 207l-2 -3l2 -3l3 1l4 2l-4 3zM1311 328l-2 0l-1 -3l2 -2l2 2l2 2zM1391 227l-1 2l-2 1l-2 -1l1 -2l2 -3zM1434 210l-1 -3l2 -1l2 1l2 2l-3 1zM1227 299l1 2l1 1l-2 2l-1 -2l-1 -2zM1385 308l3 -1l4 1l1 4l-4 3l-3 -3zM1296 323l2 3l-2 3l-4 0l0 -4l2 -2zM1168 339l-4 1l-4 -3l4 -3l3 -2l1 4zM1293 186l-5 0l-1 -4l0 -3l4 1l3 2zM1402 160l-4 0l0 -4l1 -3l4 1l1 4zM1294 242l0 -3l3 -1l2 2l0 3l-3 0zM1156 348l-2 -1l1 -2l2 -2l2 2l0 3zM1243 241l-2 0l-1 -2l0 -2l3 0l0 2zM1307 223l-4 1l-2 -3l0 -5l4 1l3 2zM1447 263l-4 0l-1 -3l0 -4l4 1l3 2zM1259 163l-3 -2l0 -4l3 -1l4 1l0 4zM1432 204l-1 -2l2 -1l2 -1l0 3l-1 1zM1275 204l2 2l-1 2l-3 0l-2 -2l2 -3zM1175 297l-4 1l0 -4l1 -2l2 0l4 2zM1372 291l-4 0l-2 -4l3 -2l3 0l2 3zM1390 276l0 4l-4 2l-3 -3l1 -4l3 -2zM1378 186l2 0l3 -1l-1 2l-1 2l-2 0zM1433 182l0 -2l1 -2l3 1l-1 3l-2 1zM1196 337l-4 1l-2 -4l1 -3l4 -1l1 4zM1435 256l4 1l3 1l-2 3l-2 2l-3 -3zM1437 267l2 -2l3 2l0 3l-2 1l-3 0zM1306 87l3 2l-2 2l-2 2l-2 -2l-1 -4zM1452 244l1 -1l2 1l0 2l-1 2l-2 -2zM1306 264l4 -1l1 5l-3 3l-5 -1l0 -4zM1275 64l3 -2l2 2l0 2l-2 2l-2 -1zM1340 230l2 -1l1 1l1 2l-2 0l-2 0zM1433 189l-1 3l-4 2l-2 -3l1 -3l3 0zM1242 229l-1 -2l2 -3l2 1l1 2l-1 2zM1262 97l-2 1l-1 -2l0 -2l2 0l1 1zM1291 137l-1 -4l4 -2l4 3l-1 3l-3 1zM1283 249l-2 4l-2 -3l-1 -3l3 -4l3 3zM1190 396l-1 -4l4 0l4 1l-2 4l-3 0zM1276 200l3 2l1 4l-3 1l-3 -1l0 -3zM1324 207l0 -4l3 -1l3 1l-1 3l-2 2zM1277 81l3 -1l4 2l-2 4l-4 2l-2 -4zM1295 92l1 4l-3 3l-5 -1l1 -4l2 -4zM1217 202l-2 4l-4 -1l0 -4l2 -2l4 -1zM1441 399l-2 1l-2 0l-1 -2l1 -2l3 0zM1185 319l-2 3l-3 -2l-2 -4l4 0l4 -1zM1380 148l-3 0l-2 -3l3 -2l3 -1l2 4zM1275 125l1 2l1 3l-3 0l-3 -2l2 -2zM1377 99l0 3l-3 0l-1 -2l1 -2l2 -1zM1412 270l0 4l-4 0l-3 -2l2 -4l4 -1zM1386 198l2 0l1 3l-2 0l-2 1l-1 -3zM1264 106l-1 4l-3 0l-2 -3l2 -3l3 0z"/><path fill="#2e6c2c" d="M1268 302l1 4l-3 1l-2 -1l-3 -3l4 -1zM1328 257l-3 2l-3 -1l0 -4l3 -2l3 1zM1430 406l-2 2l-2 -3l0 -2l3 -1l1 2zM1308 377l3 -2l1 3l-1 3l-3 0l-2 -2zM1240 91l2 -2l3 -1l1 4l-2 2l-2 -1zM1364 400l4 0l2 1l-1 3l-2 2l-2 -3zM1203 233l-2 2l-3 -1l0 -2l0 -2l3 0zM1310 336l-4 -2l-2 -4l3 -4l5 1l-1 5zM1306 160l4 1l-1 3l-2 2l-4 -2l0 -3zM1436 248l-2 0l0 -2l2 -1l2 1l-1 2zM1325 326l-2 -5l5 -2l5 0l-1 5l-3 2zM1227 285l-2 -2l-1 -4l4 0l2 2l-1 3zM1352 187l-1 -5l5 -1l4 1l1 5l-4 1zM1457 258l-3 -2l1 -2l2 -1l2 1l0 2zM1360 255l2 2l-3 2l-2 0l-1 -3l2 -1zM1268 101l1 -4l4 0l3 3l-1 4l-4 -1zM1148 394l2 0l1 2l0 3l-4 1l0 -3zM1342 269l2 0l-1 2l-2 1l-1 -2l0 -2zM1238 233l2 3l-1 3l-4 1l-3 -3l3 -3zM1306 242l1 -3l3 1l2 3l-3 2l-2 0zM1191 216l1 3l-3 1l-2 0l-1 -3l2 -1zM1192 288l-3 -1l0 -3l1 -2l2 1l1 2zM1309 217l1 -1l2 1l0 1l-2 2l-1 -2zM1215 191l-1 3l-4 -1l0 -4l2 -2l3 0zM1420 202l-1 3l-2 -1l-1 -1l-1 -2l3 0zM1299 165l-2 -1l-2 -1l1 -2l2 0l2 1zM1303 317l2 -1l1 2l0 3l-2 0l-3 -2zM1250 322l-4 -1l2 -4l3 -1l2 1l1 4zM1342 141l-1 3l-2 3l-4 -2l1 -4l3 -3zM1304 333l0 2l-2 2l-1 -1l0 -2l1 -1zM1269 222l-1 3l-3 1l-3 -2l1 -3l3 -2zM1433 297l2 -4l5 -1l1 4l0 5l-5 -1zM1399 292l3 2l2 3l-3 2l-4 0l-1 -4zM1284 322l-2 -1l1 -2l1 -1l1 1l1 2zM1329 140l2 1l-1 2l-2 1l-1 -2l0 -2zM1395 417l-2 5l-5 0l-2 -5l3 -3l3 1zM1407 294l2 1l0 3l-2 2l-3 -2l1 -3zM1324 327l2 1l0 3l-2 0l-2 0l0 -3zM1171 257l2 3l-2 4l-5 1l-1 -5l2 -3zM1467 292l-3 -3l2 -4l4 1l2 2l-2 3zM1393 353l4 0l3 1l0 3l-3 3l-3 -2zM1195 393l0 3l-1 3l-2 -1l-1 -3l1 -2zM1181 255l2 0l2 2l-1 1l-2 2l-2 -2zM1172 315l-2 -3l2 -3l5 1l0 4l-1 4zM1239 316l-2 0l0 -3l2 -1l2 1l0 2zM1423 210l-1 2l-2 1l-2 -2l1 -3l2 1zM1444 273l-3 3l-4 1l-2 -4l3 -3l4 0zM1384 301l0 -2l1 -2l3 0l0 3l-1 2zM1452 333l5 -2l2 4l-2 5l-4 -1l-2 -3zM1434 307l3 -1l1 2l0 2l-2 2l-3 -2zM1306 258l3 0l2 1l0 4l-3 0l-3 -2zM1345 291l-2 1l-1 -2l1 -1l2 -1l1 2zM1253 309l3 1l2 3l-2 3l-4 0l0 -4zM1202 233l0 -3l3 -1l1 2l2 3l-3 0zM1291 191l2 4l-2 3l-5 1l-1 -5l1 -4zM1245 191l-3 4l-5 1l-2 -5l3 -3l3 0zM1474 357l-3 -2l1 -3l3 -3l3 3l-2 3zM1266 241l2 2l1 3l-3 0l-3 -1l0 -3zM1298 269l-3 2l-3 -3l2 -5l4 1l2 3zM1425 262l3 -3l3 -1l4 2l-2 4l-3 0zM1395 384l5 2l-1 4l-1 4l-4 -3l-2 -3zM1337 175l2 0l2 1l-1 2l-3 0l-1 -1zM1402 406l1 -4l3 -1l2 2l1 3l-3 1zM1411 177l4 0l2 4l-2 4l-5 -2l-1 -3zM1257 284l2 0l0 3l-2 1l-1 -1l-1 -2zM1232 196l-4 -1l-1 -4l2 -4l5 2l-1 4zM1434 321l2 2l2 2l-2 2l-4 0l1 -3zM1354 235l0 -5l4 1l2 2l0 4l-4 0zM1332 317l0 3l-1 3l-4 -1l1 -3l1 -3zM1386 235l-4 2l-3 0l-1 -3l2 -3l4 1zM1315 229l3 0l1 4l-3 1l-3 -1l0 -2zM1345 245l-1 -2l2 -1l3 1l0 3l-2 0zM1285 353l-3 -1l0 -3l2 -1l3 1l0 3zM1386 146l2 3l1 4l-4 3l-3 -4l1 -4zM1461 311l-2 1l-2 -1l1 -3l3 -1l1 3zM1258 181l-2 0l-2 -2l2 -2l2 0l1 2zM1305 170l0 -3l2 -1l2 0l0 2l-1 2zM1278 127l-3 1l-3 -3l3 -4l4 1l2 3zM1215 250l2 5l-3 3l-3 -1l-2 -3l1 -4zM1279 108l2 -2l1 3l0 2l-3 2l-2 -3zM1284 61l-1 -2l2 -2l3 0l0 3l-2 1zM1301 63l1 2l-1 2l-3 0l0 -3l1 -2zM1396 162l2 -1l1 1l2 3l-3 1l-3 -1zM1190 362l-2 0l-2 -2l2 -3l2 1l1 2zM1350 174l2 -2l2 -3l3 2l-2 3l-2 2zM1402 255l-1 2l-4 0l-1 -4l3 -2l3 1zM1167 277l2 -1l2 0l0 2l-1 3l-3 -2zM1417 261l2 0l1 1l0 2l-2 1l-1 -2zM1210 139l0 -4l4 -2l1 4l1 4l-4 1zM1232 211l4 2l-2 4l-4 2l-2 -4l0 -4zM1271 103l1 -4l4 0l2 3l0 4l-5 0zM1373 425l-2 4l-3 -3l-1 -2l2 -2l4 -1zM1382 314l-1 -3l3 -1l3 1l0 4l-3 1zM1379 254l3 2l-4 2l-3 0l-1 -3l2 -2zM1219 138l4 1l3 3l-3 4l-3 0l-2 -3zM1200 244l3 1l4 1l-3 3l-3 0l-2 -2zM1408 309l3 -1l1 2l0 3l-2 1l-2 -2zM1398 304l4 -2l2 4l1 4l-4 1l-3 -2zM1228 287l1 2l-1 2l-3 1l-1 -3l2 -2zM1165 353l2 0l2 1l0 2l-3 1l-2 -2zM1192 358l0 3l-2 2l-2 0l-1 -2l2 -2zM1394 330l-1 -2l1 -2l2 -2l1 3l0 2zM1372 285l2 -1l2 1l-1 2l-1 0l-2 -1zM1407 344l2 1l1 2l-2 2l-3 0l0 -3zM1472 328l2 2l-1 3l-3 1l-1 -2l0 -3zM1313 219l1 -3l2 0l2 1l0 2l-3 1zM1388 154l0 -3l3 -1l1 2l1 3l-3 0zM1293 324l2 2l0 3l-3 1l-1 -3l0 -1zM1217 154l-3 -3l2 -4l4 0l2 4l-3 2zM1419 247l4 -1l2 3l-2 4l-3 -1l-1 -2zM1465 305l1 -3l3 1l2 2l-2 2l-3 1zM1274 193l2 -3l3 1l2 3l-2 2l-5 2zM1201 293l-1 -2l0 -2l2 -1l3 1l-1 3zM1143 364l-1 5l-4 0l-3 -1l0 -5l4 -2zM1443 228l4 2l-2 3l-2 3l-3 -3l1 -3zM1164 323l-2 -2l1 -3l2 -1l3 1l-1 3zM1239 129l-1 -2l0 -2l2 0l2 1l-1 2zM1269 272l1 3l0 2l-3 1l-2 -1l2 -3zM1416 131l4 1l1 4l-4 2l-2 -2l-1 -2zM1265 277l4 1l1 6l-5 1l-3 -2l-2 -4zM1273 271l-2 3l-4 1l-3 -3l2 -5l4 1zM1293 52l-1 3l-1 1l-2 -1l-1 -2l2 -2zM1306 351l2 -3l3 0l2 2l-1 5l-5 0zM1350 336l0 -5l3 -3l5 2l0 5l-4 2zM1149 331l1 -3l3 1l0 2l-2 1l-1 0zM1473 335l0 -2l4 -3l1 4l0 4l-4 2zM1336 144l4 0l4 1l-1 4l-4 2l-2 -3zM1285 345l2 2l0 2l-3 1l-3 -2l1 -3zM1199 216l-1 5l-4 3l-4 -3l1 -5l4 -1zM1184 165l-1 -2l1 -3l3 1l1 3l-2 1zM1159 273l2 -1l0 2l0 1l-1 0l-2 -1zM1217 204l-1 -3l1 -5l3 3l2 2l-2 2zM1143 376l4 0l2 3l-2 3l-3 -1l-1 -1zM1261 373l1 2l-2 2l-2 0l-3 -2l3 -3zM1376 267l3 1l1 2l-2 1l-2 1l0 -3zM1410 307l0 3l-1 2l-3 0l0 -3l1 -2zM1438 251l3 0l0 2l-1 3l-4 0l1 -3zM1346 84l-1 -2l2 -3l3 1l0 3l-2 3zM1315 89l2 3l-2 4l-4 -1l-2 -4l3 -4zM1171 260l2 -4l3 -1l2 2l0 4l-4 1zM1230 153l0 -3l3 -2l2 2l0 2l-2 2zM1253 394l0 3l-1 5l-4 -3l-2 -3l3 -3zM1279 412l-3 -1l0 -3l2 -2l2 2l2 3zM1301 67l1 4l-3 2l-4 -2l0 -3l3 -1zM1214 198l0 4l-2 3l-4 -2l-1 -4l3 -2zM1283 219l-1 2l-2 0l-1 -1l1 -2l1 0zM1345 319l-3 1l-2 -2l2 -3l2 -2l2 3zM1451 320l-3 4l-4 0l-3 -4l3 -4l4 1zM1266 141l-3 -1l1 -2l2 -2l3 2l-1 3zM1248 351l0 -3l1 -3l4 1l0 3l-2 2zM1235 252l-3 0l0 -3l1 -2l2 1l1 2zM1249 243l3 -1l1 3l0 1l-2 1l-1 -1zM1193 245l-3 3l-3 1l-3 -2l1 -4l4 0zM1165 357l2 2l-1 2l-2 2l-1 -2l0 -3zM1179 375l0 4l-3 0l-4 -1l1 -4l3 -1zM1250 349l-2 -3l2 -3l3 1l1 2l-1 2zM1335 245l2 0l1 1l0 2l-2 0l-2 -1zM1243 98l3 0l3 0l1 3l-3 3l-2 -2zM1296 322l3 1l5 2l-2 5l-5 0l-3 -4zM1257 422l2 4l-1 3l-4 2l-4 -4l2 -5zM1245 97l-1 3l-3 0l-2 -3l2 -3l3 1zM1221 306l0 3l-4 -1l-2 -2l1 -4l4 1zM1380 264l-3 1l-3 -1l0 -3l3 -1l3 1zM1398 307l-2 2l-2 -2l-1 -3l4 -1l2 2zM1255 128l0 -2l3 0l1 2l-1 1l-2 1zM1211 318l3 -2l3 1l1 4l-3 1l-3 -1zM1243 143l2 0l2 1l0 2l-3 1l-1 -1zM1174 214l-4 1l-3 -3l2 -3l3 -2l3 3zM1385 143l-1 2l-2 1l-1 -3l0 -2l3 0zM1482 350l-4 2l-3 -1l0 -3l1 -5l3 4zM1184 364l-1 2l-2 -2l-1 -2l2 -1l2 0zM1356 194l3 -1l1 2l1 3l-4 2l-2 -3zM1170 215l2 2l-1 2l-1 2l-3 -2l0 -3zM1296 148l-4 2l-3 -4l1 -4l4 0l3 2zM1411 382l2 -2l2 0l1 3l-2 1l-2 0zM1215 134l2 1l0 3l-2 1l-2 0l0 -3zM1451 316l2 1l0 2l-2 1l-2 -1l0 -2zM1429 394l-1 2l-1 -1l-1 -3l2 0l2 1zM1438 372l2 -3l3 1l3 2l-2 4l-4 -1zM1348 221l-1 1l-2 -1l-1 -1l2 -1l2 0zM1331 148l-3 2l-1 -3l1 -3l3 0l1 2zM1362 343l-4 0l-1 -4l3 -2l4 1l1 4zM1358 385l-1 -4l5 -1l3 3l-1 5l-4 0zM1463 296l0 -4l4 0l2 3l-2 4l-3 -1zM1382 361l3 1l-1 2l-3 1l-2 -2l1 -3zM1235 145l3 2l-2 3l-3 2l-3 -3l2 -3zM1297 275l1 2l-1 3l-3 2l-3 -4l3 -3zM1236 129l3 2l1 3l-2 2l-3 0l-1 -3zM1185 168l0 3l-2 1l-2 -2l1 -1l1 -2zM1436 165l0 -2l2 -1l2 1l2 3l-3 1zM1214 199l-2 4l-4 -2l-1 -4l3 -2l4 1zM1404 235l2 -1l2 0l0 2l-1 2l-2 -1zM1395 343l-2 -1l2 -2l2 0l1 2l-1 2zM1186 187l-2 2l-2 1l-1 -3l1 -2l2 0zM1250 285l-3 2l-3 -2l1 -4l3 -1l4 1zM1221 127l2 -1l2 2l-2 2l-1 1l-2 -2z"/><path fill="#56a04a" d="M1150 267l3 -1l3 1l1 4l-4 1l-3 -1zM1274 85l-1 -4l3 -2l2 1l1 2l-1 3zM1402 177l3 -1l2 3l0 3l-3 0l-3 -1zM1216 164l-3 0l-2 -2l2 -3l2 -1l2 3zM1391 280l-1 -2l2 -1l1 0l1 2l-1 1zM1373 130l0 3l0 2l-3 0l-1 -3l1 -2zM1398 179l3 0l2 2l-2 2l-2 1l-2 -3zM1313 109l0 4l-4 1l-2 -2l-3 -4l5 -1zM1372 107l2 -1l0 2l0 2l-3 1l0 -3zM1403 186l2 -1l1 0l1 2l-2 1l-3 0zM1269 59l4 1l2 3l-2 3l-3 2l-2 -4zM1395 231l-3 0l-3 -3l3 -1l3 -2l0 4zM1292 86l-1 3l-3 1l-3 -4l3 -2l3 0zM1357 215l-1 2l-2 0l-1 -1l0 -3l2 1zM1404 305l0 -2l2 -1l2 1l0 3l-2 0zM1402 179l-2 0l-2 -2l2 -1l2 0l0 2zM1253 254l-4 -3l3 -5l5 0l1 4l-1 3zM1241 311l-4 1l-3 -2l0 -2l3 -2l4 0zM1308 183l-3 -1l-2 -3l4 -2l2 1l2 4zM1308 57l4 0l1 4l-1 3l-4 0l-3 -4zM1373 149l-3 -1l0 -3l3 -1l3 1l0 3zM1154 269l-1 -2l3 -1l2 1l-1 2l-1 1zM1360 84l4 0l3 3l-3 4l-4 0l0 -4zM1338 309l3 -3l4 3l-2 3l-3 3l-2 -3zM1386 174l1 3l-3 3l-3 -2l-2 -4l4 -1zM1375 229l2 2l-1 2l-2 0l-1 -1l0 -2zM1363 135l-4 -3l1 -5l4 -1l3 3l0 4zM1353 119l-2 -2l2 -1l2 -1l1 2l-1 3zM1372 104l-3 -1l0 -4l2 -2l3 0l1 4zM1187 296l1 2l-2 0l-2 -1l0 -2l2 0zM1269 87l2 0l0 2l-1 2l-2 -1l-2 -2zM1316 178l3 3l-2 3l-3 0l-4 -2l2 -4zM1292 108l-1 -3l1 -3l3 0l2 2l-1 3zM1307 98l1 2l-2 3l-2 -1l-1 -2l2 -2zM1273 71l2 3l-1 3l-4 0l-1 -3l2 -2zM1390 278l5 -2l2 5l-3 4l-5 1l-2 -5zM1279 46l1 2l-1 2l-2 -1l-1 -2l1 -1zM1263 153l0 2l0 3l-3 0l0 -2l0 -3zM1270 69l-3 -3l2 -4l5 0l0 4l-1 3zM1168 174l3 -2l3 0l4 2l-3 4l-4 -1zM1474 334l-3 -3l0 -3l3 -2l4 1l-2 4zM1289 282l-3 -1l-4 -2l3 -2l3 -2l3 3zM1354 110l-3 -1l-2 -2l1 -4l4 1l0 3zM1310 168l1 -2l1 -1l2 1l0 2l-2 1zM1324 76l3 -1l4 0l0 4l-3 1l-5 0zM1377 115l3 0l-1 3l-1 2l-2 -2l-2 -3zM1220 215l-1 3l-2 1l-2 -2l0 -3l3 0zM1262 118l3 1l1 3l-1 4l-4 -1l-1 -4zM1302 226l3 0l2 2l-1 3l-4 0l-2 -3zM1201 189l3 -1l0 3l-2 1l-2 0l0 -2zM1363 162l1 4l-3 3l-3 -1l-2 -4l3 -1zM1416 282l-3 -1l-1 -2l2 -2l3 -1l0 3zM1277 270l-1 -4l4 -2l4 0l1 4l-4 2zM1307 104l-3 -2l0 -3l2 -3l3 2l0 3zM1267 282l-1 -3l2 -3l4 2l1 4l-3 2zM1440 182l-2 -1l-1 -3l2 -2l3 2l0 3zM1467 329l-2 -4l2 -2l3 -1l3 3l-3 3zM1269 249l-5 0l-2 -3l2 -3l3 0l3 1zM1255 124l-1 2l-3 1l-2 -2l1 -3l3 1zM1404 176l-3 -2l-2 -3l3 -2l3 1l1 3zM1312 130l-3 2l-4 0l1 -3l2 -3l2 1zM1347 178l3 -3l3 -1l2 3l-1 4l-4 -1zM1188 181l-3 -1l1 -3l2 -2l3 2l0 3zM1247 200l1 -3l1 -1l2 0l2 2l-2 3zM1286 254l-1 -2l3 -2l4 0l-1 4l-2 2zM1224 166l3 0l2 2l-2 3l-3 2l-1 -4zM1422 270l2 1l1 3l-2 2l-4 0l-1 -4zM1294 104l-2 2l-4 -2l1 -3l2 -3l4 2zM1309 75l-1 -4l2 -3l3 1l1 3l-1 3zM1248 254l3 -3l4 2l-1 4l-2 2l-3 -1zM1281 264l-3 0l-3 -2l1 -3l3 -1l4 2zM1455 253l3 1l0 2l-1 3l-3 -1l0 -2zM1345 182l2 1l-1 2l-2 2l-2 -2l0 -3zM1188 204l3 -2l3 2l0 3l-4 2l-2 -2zM1316 82l2 -4l2 -3l4 2l-1 4l-3 1zM1292 41l2 -2l3 0l1 3l-1 3l-3 -1zM1305 42l4 1l2 2l-1 3l-3 0l-2 -2zM1377 191l3 -1l2 1l1 2l-2 2l-2 -1zM1166 249l1 3l-2 2l-3 0l-2 -4l3 -3zM1275 105l0 -3l2 -1l2 2l1 2l-2 0zM1207 169l1 2l-1 2l-2 -1l-2 -1l2 -2zM1423 232l1 1l-1 2l-2 0l0 -2l0 -2zM1315 35l0 3l-3 1l-3 -2l1 -4l4 -2zM1286 188l-2 4l-4 -1l-2 -3l2 -2l4 -2zM1426 166l2 -1l3 1l-1 4l-3 1l-4 -2zM1393 181l2 -1l1 2l0 2l-2 1l-2 -2zM1301 138l2 -2l2 3l0 2l-2 1l-3 -1zM1195 181l0 2l-2 2l-2 -1l0 -3l2 0zM1301 94l2 2l-1 2l-2 2l-2 -2l0 -3zM1382 292l1 3l-1 3l-4 0l0 -3l1 -3z"/><path fill="#143416" d="M1221 342l3 2l0 4l-4 -1l-2 -2l0 -3zM1233 372l-2 0l-2 -2l2 -2l2 0l1 3zM1210 368l-1 2l-3 -1l-1 -2l2 -2l2 0zM1336 394l-3 -2l0 -4l3 -3l3 3l1 4zM1287 432l1 -3l2 -2l4 2l-2 3l-2 3zM1164 412l-1 -4l4 -1l4 2l-1 4l-4 2zM1270 326l1 -2l3 1l0 2l-1 3l-3 -1zM1458 415l-2 2l-2 0l-2 -3l3 -1l2 0zM1291 444l0 2l0 2l-3 0l0 -2l0 -2zM1181 274l-2 0l-2 -2l1 -2l2 -2l2 3zM1229 353l2 2l1 2l-2 3l-3 -2l0 -3zM1441 405l0 -3l2 -2l2 2l2 2l-3 1zM1398 383l2 -3l3 3l0 3l-3 3l-2 -4zM1300 385l5 1l0 3l-1 4l-5 -1l-2 -4zM1198 210l1 3l-1 2l-3 1l-1 -3l1 -3zM1389 347l3 -3l3 3l0 3l-2 1l-3 -1zM1170 412l5 0l4 2l-3 4l-3 2l-2 -3zM1238 419l1 4l-4 2l-3 -1l-1 -4l3 -1zM1354 387l-5 1l1 -5l1 -3l4 1l1 4zM1434 333l3 -2l3 2l0 4l-3 1l-3 -1zM1265 373l-1 -3l2 -2l2 2l0 2l-1 2zM1199 314l-4 1l-2 -2l0 -4l4 -1l3 2zM1226 412l-3 -2l1 -3l3 -1l2 2l0 4zM1246 445l-1 2l-2 1l-2 -2l0 -3l3 0zM1456 333l-3 1l-3 -2l1 -3l2 -2l3 2zM1224 365l-1 -2l1 -2l2 1l0 2l-1 2zM1352 408l-3 0l-2 -3l3 -2l2 1l2 2zM1205 338l-1 2l-2 1l-2 -2l1 -2l2 -1zM1423 362l-2 0l-3 -1l1 -3l3 0l2 2zM1259 415l-2 2l-3 0l0 -3l1 -2l3 0zM1420 424l1 3l-1 2l-2 -1l-1 -2l1 -1zM1318 267l0 1l0 3l-3 0l0 -3l1 -2zM1244 292l-3 0l-2 0l0 -3l2 -1l2 1zM1462 310l2 -3l2 -3l2 2l2 4l-4 2zM1375 417l0 4l-4 0l-2 -3l1 -3l5 -2zM1246 453l-2 0l-1 -2l0 -2l2 -1l1 2zM1388 425l1 -1l2 -1l2 1l-2 2l-1 0zM1461 378l0 -3l3 0l2 2l-1 2l-3 2zM1234 400l2 0l1 2l-1 3l-3 -1l0 -2zM1367 314l-2 3l-4 0l-1 -3l1 -2l4 -1zM1215 405l-4 0l-2 -2l1 -5l5 0l1 4zM1242 454l-2 -2l1 -2l3 -1l1 2l0 3zM1319 406l1 -3l3 1l2 1l-1 3l-3 0zM1212 333l-2 -1l0 -2l3 -1l1 2l0 2zM1300 429l2 -4l4 2l1 4l-1 4l-5 -1zM1171 381l1 3l1 4l-5 0l-2 -3l2 -4zM1189 413l2 2l2 3l-3 1l-3 -1l0 -2zM1191 429l-1 -4l2 -2l3 1l2 2l-2 4zM1255 427l-3 3l-4 -2l-1 -4l4 -3l3 2zM1278 457l-3 0l-2 -3l1 -3l4 -2l2 4zM1233 418l0 1l-2 1l-2 -1l0 -3l3 0zM1375 387l5 -1l1 5l-2 5l-4 -2l-2 -3zM1249 424l1 -2l2 -1l1 1l1 3l-3 0zM1240 369l3 0l-1 2l-1 2l-3 -1l1 -3zM1465 370l-2 2l-3 -1l-1 -2l2 -2l3 0zM1287 422l-3 -2l2 -4l4 1l0 3l-1 3zM1171 418l-2 -3l-1 -4l5 -1l4 3l-3 3zM1324 391l2 1l0 3l-3 2l-1 -3l0 -2zM1170 422l2 -1l1 2l0 3l-2 -1l-1 -1zM1288 391l-3 3l-3 -2l-1 -3l2 -2l4 0zM1150 357l0 -3l2 -1l2 1l1 3l-3 0zM1446 430l1 2l-1 2l-3 0l0 -2l1 -3zM1266 365l2 0l1 2l-1 1l-1 0l-2 -1zM1359 409l2 -1l1 2l0 2l-3 1l0 -2zM1205 330l4 0l0 4l-3 2l-3 -1l-2 -4zM1396 432l-4 -3l2 -3l3 -1l2 2l0 3zM1234 362l3 -1l4 1l-2 4l-3 2l-2 -3zM1334 431l-2 -2l2 -2l2 0l2 1l-1 3zM1185 428l-4 1l-4 -3l4 -3l2 -1l2 2zM1266 324l0 -3l1 -4l5 1l2 4l-4 2zM1264 446l2 -3l3 1l1 2l-1 2l-3 1zM1315 369l-2 -2l-1 -2l3 -1l2 2l-1 2zM1153 352l2 4l-3 3l-5 2l-1 -5l2 -4zM1434 357l1 -2l3 -1l1 2l-1 2l-2 1zM1307 380l2 -1l3 2l-2 3l-3 0l-1 -2zM1215 331l3 -2l2 3l0 3l-3 1l-2 -2zM1325 430l0 -3l2 0l2 0l0 2l-1 1zM1434 418l2 4l-1 4l-4 -1l-3 -2l2 -3zM1223 353l0 3l-2 2l-3 0l-1 -3l3 -2zM1256 416l-5 0l-1 -5l3 -4l5 2l0 4zM1372 340l-3 -2l0 -3l2 -3l3 3l0 2zM1296 381l-3 2l-4 -1l0 -4l3 -2l3 1zM1365 319l-3 1l-2 -3l0 -3l4 -1l2 3zM1327 422l4 -2l3 2l-1 4l-3 3l-3 -4zM1339 409l-2 -3l2 -3l4 -1l1 4l-1 4zM1228 374l-2 2l-2 0l0 -3l1 -2l2 1zM1203 353l4 2l2 3l-3 3l-3 -2l-2 -2zM1265 379l-1 2l-2 -1l-2 -2l2 -1l3 -1zM1234 289l1 4l-4 2l-2 -2l-2 -4l4 -1zM1330 409l4 -2l3 3l-1 3l-3 3l-4 -3zM1352 403l-3 -1l0 -2l1 -1l3 -1l0 3zM1446 342l4 0l0 4l-1 3l-5 -1l0 -4zM1350 400l-1 -3l1 -4l4 1l3 4l-4 2zM1374 405l-2 0l-1 -2l1 -1l2 0l0 1zM1232 371l-2 -1l-1 -2l3 -2l2 1l0 2zM1329 393l0 -3l2 -2l3 2l-1 2l-2 2zM1419 370l-3 -2l-2 -4l4 -2l4 2l0 4zM1378 438l0 -3l1 -2l3 1l1 3l-3 1zM1208 346l3 2l-2 4l-3 0l-1 -2l0 -2zM1205 256l2 -3l2 2l2 3l-3 1l-3 -1zM1224 425l0 -4l2 -4l5 1l1 4l-3 5zM1269 380l2 -3l2 2l0 2l-1 2l-3 0zM1303 362l-2 2l-4 1l0 -3l1 -4l3 2z"/><path fill="#255a24" d="M1311 280l4 -1l2 0l1 3l-2 3l-3 -2zM1422 399l2 0l1 2l-2 2l-1 -1l-1 -2zM1253 286l1 -4l2 -2l4 0l0 3l-2 3zM1385 413l-2 -1l1 -2l2 -1l2 1l-1 3zM1273 319l-2 0l-3 0l1 -3l2 -1l2 1zM1421 318l-1 -3l2 -4l3 2l2 3l-3 2zM1193 385l-1 3l-3 3l-2 -3l-1 -4l4 -2zM1144 365l-2 -1l0 -2l1 -1l2 0l1 2zM1363 338l-4 3l-3 -3l-1 -3l3 -4l2 3zM1254 141l3 -1l1 3l0 2l-3 0l-1 -2zM1243 286l3 2l-2 3l-3 0l-2 -2l1 -3zM1327 249l3 3l-4 3l-3 -1l-3 -3l3 -3zM1256 377l1 2l0 1l-2 1l-1 -2l0 -2zM1303 342l1 -3l2 0l3 1l-1 3l-3 1zM1340 315l1 4l-3 1l-2 0l-1 -2l1 -3zM1387 153l2 -1l2 2l0 1l-1 1l-3 0zM1383 355l2 3l0 3l-4 1l-3 -3l1 -4zM1289 145l-4 0l-2 -4l2 -3l4 -1l0 4zM1175 412l-2 -2l0 -2l1 -1l3 0l-1 3zM1218 360l-3 0l-1 -2l0 -2l3 0l2 2zM1182 353l2 1l0 3l-3 1l-2 -1l1 -2zM1197 158l0 -2l1 -2l1 1l1 2l-1 2zM1417 349l2 -3l3 -1l4 1l-2 4l-4 2zM1166 217l0 5l-3 -1l-3 -2l1 -2l3 -1zM1367 393l1 -2l2 0l2 2l-2 2l-3 1zM1336 406l-2 2l-2 -1l0 -2l1 -2l3 1zM1374 327l4 2l-3 3l-3 1l-2 -3l1 -3zM1437 198l2 3l0 2l-2 2l-3 -1l0 -4zM1191 335l-2 1l-1 -1l0 -3l2 0l2 1zM1249 79l3 -3l3 3l1 3l-3 2l-4 -1zM1335 142l-2 -4l4 -4l4 3l2 3l-4 3zM1314 286l3 -3l4 1l-1 4l-2 2l-3 -2zM1262 339l2 2l-1 3l-3 0l-1 -2l0 -2zM1452 399l3 0l1 3l-2 4l-3 -2l-1 -3zM1349 407l2 2l-1 3l-3 -1l-3 -2l2 -3zM1304 182l-2 1l-3 -2l1 -3l3 -1l1 3zM1257 355l2 2l-1 2l-2 0l-2 -1l1 -2zM1251 444l-2 2l-3 0l0 -2l1 -3l2 1zM1324 384l4 0l3 4l-3 4l-4 0l-1 -4zM1181 272l2 0l1 2l-2 1l-2 0l-1 -2zM1226 206l4 1l1 4l-2 4l-3 -1l-1 -4zM1373 424l1 2l0 1l-2 1l-1 -1l1 -2zM1288 332l-1 -1l2 -2l2 0l1 2l-2 1zM1284 393l1 -3l3 -1l3 2l-2 3l-2 1zM1156 330l3 1l3 1l-2 4l-3 -1l-2 -2zM1374 209l-4 -1l0 -4l2 -2l3 1l2 4zM1250 196l-3 1l-2 -1l1 -2l2 -2l2 2zM1291 349l-1 3l-2 1l-2 -1l0 -3l2 -2zM1383 370l-1 -3l1 -2l3 0l1 2l-2 2zM1178 222l2 -3l4 2l-1 3l-2 3l-3 -1zM1189 345l-5 1l-2 -3l1 -3l3 -1l4 1zM1231 166l3 -2l1 3l2 2l-4 2l-3 -2zM1391 366l-2 0l-1 -2l1 -1l2 -1l1 2zM1332 369l2 1l0 3l-3 1l-2 -2l0 -3zM1287 60l3 0l3 3l-3 2l-2 0l-2 -2zM1380 291l2 2l1 2l-2 2l-3 -2l0 -2zM1453 338l1 -3l2 -1l1 3l0 3l-3 0zM1225 416l-2 4l-4 -1l-2 -4l3 -4l5 1zM1202 399l0 -3l1 -2l2 1l2 2l-2 2zM1162 393l-1 2l-2 -1l0 -2l1 -1l2 1zM1452 328l1 -4l5 0l3 4l-3 4l-4 -2zM1391 241l1 3l0 3l-3 -1l-2 -2l0 -3zM1221 249l-1 3l-3 2l-4 -4l2 -4l5 -1zM1153 312l1 2l-2 2l-2 -2l-1 -2l2 0zM1192 411l2 -1l2 1l1 2l-2 1l-2 -1zM1368 251l0 4l-2 2l-4 1l0 -5l2 -2zM1405 415l-3 -1l-2 -2l2 -3l3 1l1 2zM1140 343l-1 -2l1 -2l2 1l2 1l-2 2zM1343 347l0 -2l2 0l1 1l0 1l-1 2zM1454 303l2 -2l4 0l1 4l-3 1l-3 0zM1463 376l1 2l-2 1l-3 0l0 -3l2 -2zM1225 229l-1 -1l0 -3l3 0l1 2l-1 1zM1193 317l0 -4l4 0l3 1l-2 3l-2 3zM1457 388l2 4l-2 4l-4 -2l-1 -2l1 -4zM1443 281l-2 -4l0 -4l5 -1l4 3l-2 5zM1173 382l2 -4l5 0l1 3l-1 3l-4 1zM1219 247l-2 -1l0 -2l1 -2l2 1l0 2zM1245 303l1 2l1 3l-3 0l-3 0l2 -3zM1307 382l1 -5l1 -3l3 2l1 2l-1 3zM1371 299l-1 -2l-1 -2l3 -1l1 1l1 3zM1402 321l-2 2l-3 -1l-1 -2l1 -3l4 0zM1446 389l-2 -2l2 -1l1 -1l2 1l-1 2zM1348 150l-2 2l-3 0l0 -3l1 -2l4 0zM1260 209l1 -2l2 -2l3 2l0 3l-3 1zM1214 303l0 2l-3 0l-1 -1l0 -2l2 0zM1452 429l-1 2l-2 -1l-2 -2l2 -3l3 2zM1332 407l0 -1l2 -2l2 1l0 3l-2 1zM1434 166l-3 1l-3 -1l1 -3l2 -1l2 1zM1415 309l-4 1l-3 -2l0 -3l3 -1l3 1zM1159 354l3 1l-1 3l-2 2l-1 -3l-1 -2zM1179 359l1 -2l2 0l1 3l-2 2l-3 0zM1224 355l-1 -3l1 -3l4 1l1 3l-2 2zM1178 241l2 -3l3 1l2 2l-1 3l-4 1zM1288 359l-1 -2l3 -1l3 1l-1 3l-3 2zM1150 307l-1 -1l0 -2l3 -1l0 2l0 2zM1359 256l-1 2l-3 2l-2 -3l0 -3l4 -1zM1278 111l3 2l1 2l-1 3l-5 1l1 -4zM1299 422l-1 3l-3 1l-2 -2l1 -2l2 -2zM1374 321l-4 2l-3 -3l1 -4l4 -1l3 3zM1402 395l4 0l3 1l0 4l-4 1l-3 -2zM1289 391l-1 -3l2 -1l3 0l1 3l-2 2zM1301 296l-1 -5l4 -1l3 1l1 3l-3 2zM1241 125l-2 -2l1 -2l2 -2l1 2l0 2zM1437 356l2 -2l2 -1l1 2l-1 2l-2 0zM1377 277l-3 3l-4 1l-1 -3l0 -5l4 2zM1236 214l1 1l1 1l-1 2l-3 0l0 -3zM1397 398l-1 -3l-1 -3l4 0l2 2l0 4zM1146 360l-3 0l0 -3l2 -2l2 2l1 2zM1185 259l-2 3l-3 -1l0 -2l1 -3l3 1zM1392 407l2 0l0 2l-2 1l-1 -1l0 -2zM1291 376l2 0l1 1l-1 2l-2 0l-2 -1zM1319 399l2 -1l2 0l0 2l-1 1l-2 0zM1435 252l0 -4l3 -2l4 0l1 5l-4 1zM1408 349l-3 0l-1 -3l2 -1l2 0l1 2zM1246 320l2 4l-4 1l-3 -2l-2 -4l5 -2zM1432 237l0 2l-2 0l-3 0l0 -3l3 0zM1371 268l2 1l0 1l-1 2l-2 -1l0 -2zM1321 190l1 -3l2 -2l2 2l0 2l-2 3zM1142 352l3 -2l4 0l0 3l-2 3l-4 0zM1200 302l2 -1l2 2l-2 2l-2 1l-3 -3zM1242 331l3 0l0 3l-2 2l-3 0l-1 -3zM1386 237l0 3l-2 -1l-1 -1l0 -2l3 -1zM1229 255l2 -2l3 -1l2 3l-1 4l-4 0zM1359 271l-3 -2l2 -3l2 -2l3 2l-2 3zM1370 302l-3 1l-3 -2l1 -4l3 -1l3 2zM1313 268l2 3l1 3l-3 2l-4 -2l1 -4zM1358 325l0 2l0 1l-2 1l-2 -2l2 -2zM1464 326l4 0l0 4l-2 3l-3 0l-2 -4zM1322 322l0 2l-2 1l-2 -2l0 -3l3 1zM1157 324l0 4l-5 1l-3 -2l0 -5l4 -1zM1298 380l-3 -4l3 -3l3 0l4 2l-2 5zM1472 378l3 4l-3 5l-5 -1l-2 -4l3 -3zM1187 294l-3 0l-1 -2l-2 -3l4 0l2 2zM1355 295l1 -3l3 1l2 2l-1 3l-3 -1zM1328 382l2 -3l4 0l1 4l-2 3l-3 -1zM1217 199l-1 -4l0 -4l4 1l3 2l-2 3zM1399 404l0 -2l1 -3l4 1l-1 3l-1 3zM1282 294l-5 3l-4 -1l-1 -5l4 -3l4 1zM1328 274l1 2l1 2l-3 2l-2 -3l0 -3zM1457 341l3 -2l3 -1l2 3l-1 3l-4 0zM1298 208l3 -4l4 -1l2 4l-2 4l-4 -1zM1267 322l1 -2l2 -1l1 2l0 2l-2 0zM1478 358l-2 4l-2 1l-3 -2l0 -3l3 -2zM1333 407l-2 -2l0 -3l3 -1l2 2l0 2zM1209 389l4 1l0 5l-3 2l-3 -2l-1 -3zM1222 128l-2 -3l4 -1l2 2l0 2l-2 2zM1190 363l-1 -2l-1 -1l2 -1l2 0l-1 2zM1396 405l-1 0l-1 -1l2 -2l1 1l1 2zM1320 254l4 -3l1 5l0 3l-4 1l-1 -3zM1402 419l1 3l-3 0l-3 -2l2 -2l2 -1zM1321 322l1 4l-3 2l-3 -2l-1 -4l3 -3zM1460 347l1 -3l3 0l0 3l0 1l-2 2zM1343 358l4 -2l4 2l0 5l-5 1l-3 -3zM1271 334l-2 4l-3 0l-3 -2l2 -3l2 -1zM1231 251l3 2l1 4l-3 1l-2 -1l-2 -2zM1312 352l-3 4l-5 -1l1 -5l2 -3l3 2zM1378 133l-3 0l0 -4l2 -2l4 1l1 4z"/><path fill="#44903e" d="M1397 142l-1 4l-5 1l-3 -4l3 -3l3 -2zM1436 276l-3 1l-2 -2l1 -2l3 -1l1 2zM1254 218l1 -1l1 1l1 1l-1 1l-2 0zM1391 211l4 -1l1 4l-2 3l-4 -1l-3 -3zM1340 272l-2 -1l-1 -2l2 -2l3 1l-1 2zM1387 258l2 3l-3 3l-4 0l0 -3l2 -4zM1348 232l-4 -1l2 -4l3 -2l3 4l0 4zM1415 282l4 -3l3 0l2 3l-2 4l-4 -1zM1354 140l1 4l0 3l-3 1l-4 -3l1 -4zM1320 100l1 3l-2 1l-1 0l-2 -1l1 -2zM1358 216l2 2l-1 1l-2 1l-3 -1l2 -3zM1255 206l-3 2l-3 0l0 -4l2 -2l3 1zM1314 49l-1 -4l4 -2l4 2l-1 4l-3 2zM1267 280l2 0l2 1l0 3l-3 1l-2 -2zM1372 185l2 3l-1 5l-4 -2l-3 -3l2 -3zM1418 136l2 4l-2 3l-5 0l-2 -4l4 -2zM1198 247l2 3l0 4l-4 -1l-2 -2l0 -4zM1285 243l1 -2l2 0l1 2l-1 1l-2 0zM1416 261l-1 2l-2 0l-1 -2l1 -2l1 0zM1253 153l1 3l-3 2l-2 -2l0 -2l1 -2zM1242 166l-2 0l-3 -2l2 -2l3 -1l0 2zM1336 90l-3 -1l1 -3l3 -2l2 3l-1 3zM1403 126l0 -2l2 -2l2 1l1 3l-2 1zM1187 204l-2 -1l-2 -2l3 -2l3 0l1 3zM1335 66l-4 0l-1 -4l2 -2l3 -1l2 3zM1363 103l-1 3l-3 -2l-2 -3l3 -1l3 0zM1160 263l0 -2l1 -1l2 0l0 2l-1 1zM1286 60l3 1l0 3l-2 1l-4 0l0 -4zM1356 189l4 0l1 5l-4 2l-3 -1l0 -4zM1378 127l-2 -4l4 -1l4 1l0 4l-3 2zM1158 273l3 -1l1 2l0 3l-4 0l-2 -2zM1315 137l2 4l0 4l-4 -1l-2 -2l1 -3zM1165 299l-2 -1l-1 -2l3 -1l2 1l0 2zM1442 307l1 3l-1 2l-2 1l-2 -2l0 -4zM1307 239l-1 3l-3 2l-3 -3l1 -3l3 -2zM1374 164l-4 0l-2 -5l2 -4l5 2l0 4zM1292 85l-2 2l-3 0l-1 -3l2 -4l4 1zM1165 281l-5 0l0 -4l3 -2l3 0l2 4zM1269 269l0 -2l2 0l2 0l0 3l-2 0zM1275 313l3 -4l4 2l1 4l-3 3l-3 -2zM1357 349l2 3l-3 4l-4 -2l-2 -4l3 -2zM1268 268l3 1l1 4l-3 2l-3 -1l-1 -3zM1285 112l3 1l0 2l-2 2l-1 -2l-2 -2zM1399 229l-2 -1l1 -3l3 0l2 2l-2 3zM1368 220l2 0l1 2l-1 2l-3 -1l0 -2zM1216 247l-3 0l-2 -3l1 -3l4 0l0 3zM1289 212l3 1l-2 2l-2 2l-1 -2l-1 -2zM1458 300l3 -2l4 3l-2 3l-3 2l-3 -2zM1401 273l1 5l-5 1l-3 -2l-1 -4l4 -2zM1251 115l2 1l-1 2l-2 1l-1 -2l0 -2zM1302 268l-2 0l-2 -2l1 -2l3 0l1 2zM1276 81l3 -2l3 1l1 3l-2 3l-3 -2zM1374 180l0 4l-2 3l-4 -2l-1 -3l3 -2zM1308 143l1 5l-3 2l-4 1l0 -5l2 -2zM1278 54l2 3l-4 2l-3 -1l0 -4l3 -1zM1301 131l3 -1l2 2l0 3l-3 0l-2 -1zM1214 203l3 0l2 0l0 4l-3 0l-2 -1zM1253 108l3 3l-4 3l-3 -2l-1 -4l3 -2zM1195 155l3 2l2 2l-2 3l-4 0l0 -3zM1336 89l3 0l0 3l-2 3l-3 -1l-1 -4zM1383 285l0 1l-1 2l-2 -1l0 -2l2 -1zM1340 215l-2 -2l-1 -3l3 -1l2 2l1 2zM1306 101l4 1l0 4l-3 2l-3 -2l-2 -4zM1426 199l-1 4l-3 -2l-2 -2l2 -3l4 0zM1348 179l0 -4l3 -1l4 0l-1 4l-3 2zM1391 337l-3 2l-3 -1l-1 -3l2 -3l3 1zM1264 103l2 1l1 3l-2 1l-3 0l1 -2zM1295 122l2 2l0 4l-4 0l-2 -2l1 -4zM1318 107l-2 1l-3 -1l1 -2l2 -1l2 1zM1474 322l-2 0l-1 -1l1 -2l2 0l1 1zM1371 137l3 -2l1 2l0 2l-2 2l-2 -2zM1159 291l-3 -3l2 -3l3 1l2 2l-2 3zM1347 308l1 4l0 2l-2 1l-3 -2l1 -3zM1362 92l-3 3l-5 0l0 -4l1 -4l4 2zM1336 111l3 0l-1 2l0 3l-3 -1l0 -2zM1336 226l-1 -1l-2 -1l2 -2l2 1l1 2zM1290 225l-2 0l-2 -2l2 -2l3 0l1 3zM1281 50l-1 -1l1 -3l3 1l0 2l0 2zM1287 220l2 -3l2 0l0 2l0 2l-2 0zM1352 184l-1 -2l3 -1l2 0l1 3l-3 1zM1263 205l-3 1l-1 -3l0 -3l3 0l2 3zM1349 283l0 -3l2 -2l3 1l0 3l-2 2zM1212 170l0 -2l2 0l1 2l-1 1l-2 0zM1153 297l2 2l-1 3l-3 1l-3 -2l1 -3zM1456 258l-2 -4l3 -3l4 -1l3 5l-4 3zM1473 362l-1 -3l2 -1l2 1l2 2l-2 2zM1316 78l-3 -2l0 -3l2 -2l5 0l-1 5zM1336 102l2 -2l2 0l2 2l-2 2l-2 0zM1194 230l2 2l0 4l-3 3l-3 -3l0 -5zM1311 83l-4 2l-3 -2l0 -4l3 -3l3 3zM1410 244l4 -3l3 0l2 3l-1 3l-4 0zM1270 167l1 -3l2 -2l3 1l0 3l-3 1zM1197 177l-1 -4l0 -4l4 -1l2 3l0 4zM1336 180l-3 1l-2 -4l3 -4l5 1l-1 4zM1165 313l2 1l1 2l-2 1l-2 -1l0 -2zM1289 193l-1 -2l2 -2l3 1l2 3l-3 1zM1272 160l-1 1l-2 -1l1 -2l2 -1l1 2zM1335 115l4 1l4 2l-3 4l-4 1l-2 -4zM1199 197l-3 -1l0 -2l1 -1l3 -1l1 3zM1296 266l2 -2l1 2l1 2l-2 1l-3 -1zM1182 319l-2 -3l1 -3l4 0l1 3l-1 2zM1266 260l4 1l1 3l-2 3l-3 -1l-2 -3zM1334 119l2 -2l2 0l1 1l-1 3l-2 0zM1316 69l-3 -2l-2 -3l3 -3l4 1l1 4zM1278 173l-1 -4l3 -2l3 0l2 4l-3 3zM1180 207l-2 0l0 -2l1 -2l2 1l1 2zM1267 144l-1 3l-2 2l-2 -2l1 -2l1 -2zM1217 179l-3 2l-3 -3l1 -3l3 0l1 1zM1252 273l-1 4l-4 1l-2 -3l1 -2l3 -3zM1266 67l4 0l2 2l-1 3l-4 2l-2 -3zM1156 276l-3 -2l1 -3l3 -1l3 1l-1 3zM1413 176l-2 0l-1 -2l1 -2l3 0l1 2zM1319 113l3 3l-3 2l-3 0l-1 -3l1 -3zM1336 64l1 -4l3 1l3 1l-2 3l-3 0zM1334 278l4 -2l4 3l-3 3l-3 4l-4 -4zM1351 328l-2 2l-3 -1l-2 -3l3 -2l3 0zM1218 186l-2 2l-1 1l-2 0l0 -3l2 -1zM1188 336l-3 0l0 -3l2 -2l2 2l1 2zM1329 146l3 -3l2 3l1 4l-4 2l-4 -3zM1304 175l3 0l1 2l-1 2l-2 0l-2 -2zM1289 234l2 2l1 2l-1 2l-4 1l0 -4zM1365 184l1 2l0 4l-3 -1l-2 -3l2 -2zM1153 280l3 2l-2 3l-3 1l-2 -3l2 -2zM1195 161l-2 -2l-1 -2l2 -1l3 1l-1 2zM1274 121l2 3l-1 4l-4 1l-3 -3l1 -5zM1321 101l-1 -1l0 -2l1 0l2 0l0 3zM1174 228l-4 -2l-1 -4l4 -1l4 1l-1 3zM1372 275l2 1l-1 2l-1 2l-2 -2l0 -2zM1415 142l-3 2l-4 0l0 -4l3 -3l3 2zM1347 99l-1 -1l1 -2l2 0l2 2l-2 2zM1380 285l-1 -3l1 -3l3 -1l2 3l-1 4zM1212 213l-3 -3l3 -2l2 -2l2 3l0 2zM1158 274l-1 2l-3 -1l-2 -3l3 -3l4 1zM1290 212l2 4l-4 3l-5 -2l2 -4l2 -4zM1345 146l-3 1l-3 -1l0 -4l3 -1l2 2zM1175 307l0 -3l2 -2l4 0l0 4l-2 3z"/><path fill="#0c240e" d="M1459 432l-2 -1l-3 -2l3 -2l3 0l2 3zM1422 435l-2 3l-4 1l-1 -4l1 -3l4 -1zM1361 313l1 -3l2 0l2 2l-1 2l-2 0zM1306 397l2 2l-2 2l-2 0l-1 -1l0 -3zM1298 447l-3 0l0 -3l0 -2l3 0l1 2zM1474 383l-3 0l0 -3l1 -2l2 1l1 2zM1272 411l-1 3l-3 4l-3 -4l-1 -5l5 0zM1399 424l-2 3l-3 2l-2 -3l1 -2l3 -2zM1274 419l-3 3l-3 -1l-1 -3l2 -1l3 -1zM1296 383l-2 4l-5 -1l0 -5l2 -2l4 0zM1185 423l4 -2l1 3l-1 3l-4 1l-2 -3zM1416 446l4 -1l1 4l-1 3l-4 1l-1 -4zM1458 405l-1 -4l3 -2l3 0l1 3l-1 5zM1252 365l4 1l3 2l-1 4l-4 -1l-3 -2zM1262 424l2 4l-4 2l-4 -1l0 -4l2 -3zM1307 395l-1 3l-2 -1l-1 -2l0 -3l3 0zM1428 355l3 1l1 3l-3 2l-2 -2l-1 -2zM1428 442l-2 -3l1 -3l4 1l2 2l-2 3zM1448 403l1 3l-3 0l-2 -1l0 -2l2 -2zM1210 408l-2 0l-1 -2l1 -3l4 0l1 3zM1241 374l-3 -2l-1 -3l3 -2l4 2l-1 3zM1370 335l-1 -4l4 -2l4 3l-1 4l-4 1zM1294 405l-2 3l-3 0l-2 -3l2 -2l3 0zM1304 403l-1 3l-4 1l-3 -3l2 -5l4 1zM1278 417l-2 -3l-1 -3l3 -2l4 2l-1 4zM1410 438l1 -2l2 1l2 2l-2 2l-3 0zM1288 387l2 -2l2 -1l0 2l0 3l-2 -1zM1424 427l2 -1l2 1l-1 3l-2 -1l-2 0zM1284 456l-1 -3l1 -2l2 1l1 2l-1 1zM1337 407l-3 -1l1 -3l3 -3l3 3l0 4zM1437 439l4 -1l0 4l-1 3l-4 -1l-1 -3zM1342 385l-2 -2l1 -2l3 0l1 2l-1 2zM1368 432l-1 -3l3 -1l2 1l1 3l-2 2zM1303 356l-5 1l-2 -4l2 -4l5 -1l3 4zM1293 372l2 2l0 2l-2 1l-2 -1l0 -2zM1252 389l-1 -2l0 -2l2 -1l1 2l0 3zM1392 444l-3 1l-4 -2l2 -3l3 -2l4 3zM1225 362l3 2l-2 3l-3 2l-1 -3l1 -2zM1179 429l2 0l0 2l0 1l-3 1l0 -2zM1284 423l6 0l0 5l-2 4l-3 -2l-3 -3zM1275 412l1 4l-4 2l-4 -1l1 -4l3 -3zM1346 263l-3 -1l1 -3l4 -1l1 3l-1 2zM1411 448l3 -1l1 1l1 2l-2 2l-2 -1zM1451 339l2 2l1 2l-2 2l-2 0l-1 -3zM1300 440l0 3l-3 1l-2 -2l0 -3l3 -1zM1278 392l2 1l1 3l-3 2l-2 -3l0 -2zM1240 375l0 -2l3 -1l2 2l-1 2l-2 0zM1298 403l2 3l-2 2l-4 0l-1 -4l2 -3zM1236 380l1 -4l3 -2l3 3l0 4l-4 2zM1261 422l2 1l-1 3l-2 1l-2 -2l0 -3zM1468 398l-4 0l-1 -4l3 -2l3 0l1 3zM1438 417l0 -2l1 -2l3 1l0 3l-2 2zM1180 410l1 1l2 2l-3 2l-2 -2l0 -2zM1252 420l-2 1l-1 -2l1 -1l1 0l1 1zM1231 437l4 1l-2 4l-3 1l-3 -2l1 -3zM1187 358l1 -4l4 -1l2 4l-2 3l-3 0zM1234 423l4 1l1 4l-3 2l-3 0l-3 -4zM1463 433l-2 0l-1 -2l1 -1l2 -1l1 2zM1311 409l1 2l-2 2l-2 -2l0 -2l1 -1zM1460 352l0 -3l3 2l1 1l-1 2l-2 0z"/><path fill="#1c461c" d="M1230 352l-2 1l-3 -3l3 -3l3 1l2 2zM1167 330l2 0l1 2l-2 2l-2 -1l0 -2zM1389 403l3 -3l3 4l-1 3l-3 1l-2 -1zM1421 355l-2 -3l1 -3l4 -1l3 4l-3 2zM1377 393l-1 3l-2 0l-2 0l0 -3l2 0zM1271 371l-1 -2l0 -3l3 -1l1 3l0 2zM1246 282l-2 3l-4 0l-1 -4l2 -3l3 1zM1184 397l0 4l-2 2l-4 0l-1 -4l3 -2zM1327 397l1 4l-3 2l-4 -1l1 -3l2 -2zM1222 143l0 -2l1 -1l2 2l0 1l-2 1zM1452 420l-1 -2l2 0l1 1l0 1l-1 1zM1401 364l3 2l0 3l-3 2l-2 -2l-1 -3zM1262 332l1 2l0 3l-3 0l-2 -2l0 -3zM1145 319l2 -1l0 3l0 2l-3 0l-1 -2zM1224 126l3 -4l3 3l1 4l-3 3l-5 -2zM1190 401l3 -1l1 3l-1 2l-3 2l-1 -3zM1225 332l1 -2l3 -2l2 2l-2 3l-2 0zM1389 301l1 3l-3 1l-2 -2l0 -2l2 -1zM1271 353l1 5l-4 1l-2 -2l-3 -3l4 -3zM1231 200l0 -4l3 0l3 1l0 3l-3 0zM1330 348l3 0l0 3l-2 2l-2 -1l-2 -2zM1343 364l5 2l0 4l-4 1l-5 0l1 -5zM1199 382l2 -3l2 -2l2 3l0 2l-2 2zM1263 438l2 2l-1 2l-2 3l-3 -3l2 -2zM1369 377l-1 -2l3 -3l2 3l2 2l-4 1zM1256 332l0 -2l2 -1l2 1l0 2l-1 1zM1387 398l-1 2l-2 2l-2 -2l-1 -2l3 -2zM1225 342l5 -1l3 4l-3 2l-3 1l-1 -2zM1282 333l1 2l-1 2l-1 0l-3 -1l2 -2zM1226 396l-2 -1l-2 -3l3 -3l4 2l-1 4zM1201 361l3 -1l1 4l-2 2l-3 0l-1 -3zM1249 435l2 1l1 2l-2 1l-3 0l0 -3zM1285 415l-2 -2l-2 -3l4 -3l3 2l1 4zM1231 324l-2 3l-4 0l-3 -4l4 -3l4 0zM1416 390l3 2l-3 2l-2 1l-1 -3l0 -2zM1229 290l-2 -2l-1 -2l2 -1l2 1l0 2zM1223 394l-2 0l-3 -1l0 -3l3 -2l3 2zM1256 382l-1 -3l0 -3l3 1l3 3l-2 2zM1260 344l-3 1l-3 -2l1 -4l4 -1l3 3zM1389 346l2 3l0 3l-3 2l-3 -2l0 -4zM1223 376l3 -2l4 3l1 4l-4 2l-3 -3zM1449 389l3 0l-1 2l-2 2l-2 -1l1 -2zM1270 334l1 -2l3 0l2 2l-2 3l-4 1zM1270 430l0 -2l3 1l0 2l-1 2l-2 -1zM1199 353l-2 1l-2 -2l2 -3l2 0l1 2zM1157 383l4 0l0 3l-1 3l-4 0l0 -4zM1272 369l1 -1l2 1l1 2l-2 1l-1 -1zM1210 340l2 2l-2 2l-3 -1l-1 -2l2 -2zM1323 231l-1 3l-3 -1l-1 -1l0 -3l4 -1zM1241 367l-1 -1l0 -2l2 0l1 0l0 2zM1416 345l-4 1l-3 -3l1 -4l4 -1l2 3zM1263 349l0 -3l2 -1l2 0l-1 3l-1 1zM1369 421l2 0l1 2l-1 1l-2 1l0 -3zM1376 362l2 1l1 4l-4 1l-2 -2l0 -4zM1372 429l0 4l-3 0l-3 -2l0 -4l4 -2zM1418 352l2 -3l4 2l-1 4l-4 2l-3 -2zM1280 375l-1 -5l3 -2l3 0l2 3l-2 3zM1195 347l2 -2l2 0l0 2l-1 2l-2 0zM1365 315l1 -2l3 -1l1 3l-1 2l-3 0zM1375 413l3 0l3 1l-2 4l-3 2l-2 -3zM1244 312l-2 -4l0 -3l4 -1l2 2l-1 3zM1345 395l-3 1l-3 -2l2 -4l3 0l2 2zM1228 129l1 -4l3 1l2 3l-1 2l-5 2zM1324 405l-2 0l-2 -2l0 -3l3 1l2 2zM1382 255l2 2l-1 3l-3 -1l-1 -1l0 -3zM1372 390l-2 -1l0 -2l1 -2l4 0l0 4zM1445 342l2 1l-1 3l-3 1l-1 -3l0 -3zM1255 337l1 -3l3 0l2 3l-2 2l-3 1zM1214 371l2 1l-1 2l-2 2l-1 -2l0 -3zM1218 269l5 1l3 3l-2 5l-6 0l-1 -5zM1414 410l4 -1l4 -1l-1 4l-1 3l-5 0zM1326 307l2 1l0 3l-2 1l-3 -1l0 -3zM1367 415l-1 -2l1 -2l2 0l2 1l-2 2zM1159 401l2 -2l3 1l2 3l-4 2l-2 -1zM1392 265l-1 -4l4 -2l3 2l1 4l-4 4zM1452 300l-2 3l-3 3l-2 -3l-1 -4l4 -1zM1385 408l1 1l-1 2l-2 2l-2 -3l2 -2zM1199 385l-2 -1l1 -2l2 0l2 1l-1 2zM1293 252l0 -2l2 -3l3 1l2 4l-4 1zM1296 368l-2 0l-2 -2l3 -2l3 -1l0 4zM1153 397l-1 -3l3 0l2 1l-1 2l-2 2zM1276 375l-2 2l-3 -2l0 -4l3 0l2 1zM1385 355l0 3l-1 1l-3 0l1 -2l0 -2zM1329 322l1 3l-1 2l-2 1l-2 -2l1 -3zM1382 332l2 1l-1 3l-4 0l-1 -3l2 -1zM1193 151l2 -2l2 1l1 2l-1 1l-2 0zM1345 357l3 -1l3 2l0 4l-4 0l-3 -2zM1368 373l3 -3l1 4l0 3l-4 2l-1 -4zM1450 349l4 1l1 4l-3 4l-3 -3l-1 -3zM1400 380l-1 2l-3 1l-1 -2l0 -2l3 -1zM1259 417l3 -3l3 2l1 3l-3 2l-3 -1zM1270 116l3 4l-3 4l-5 -1l-1 -4l2 -3zM1230 197l-3 -3l1 -3l3 -1l4 1l0 5zM1451 315l-2 0l-2 -2l2 -3l4 -1l0 4zM1215 349l-3 3l-3 -1l-1 -2l2 -3l2 1zM1238 133l-1 -2l2 -1l2 1l0 2l-2 2zM1230 214l3 0l1 2l-2 2l-2 0l-1 -2zM1348 426l-2 1l-2 -2l2 -2l2 -1l1 2zM1439 347l0 3l-3 1l-2 -1l0 -3l3 -2zM1331 346l3 2l2 2l-2 5l-4 -2l-1 -4zM1192 407l-1 -2l1 -4l5 -1l-1 5l0 4zM1248 146l-1 2l-2 1l-2 -2l2 -2l1 0zM1384 260l-1 -2l2 -1l2 -1l1 3l-2 2zM1259 315l2 -3l3 0l0 4l-1 2l-3 -1zM1471 382l-1 1l-2 1l-1 -3l1 -2l2 1zM1253 419l3 0l2 0l1 3l-3 2l-3 -2zM1450 285l3 0l1 3l-2 2l-3 -1l0 -2zM1332 377l0 -3l2 -1l3 1l0 4l-3 1zM1189 240l-1 -3l3 -1l2 2l-1 2l-2 2zM1319 434l2 -3l3 0l2 3l-3 3l-3 0zM1360 361l-1 -2l2 -2l3 1l0 3l-2 2zM1313 417l-4 -1l0 -4l4 -2l3 1l-1 4zM1235 190l1 -3l2 -1l2 1l0 3l-2 1zM1429 398l-2 -1l1 -3l3 -1l3 3l-2 3zM1364 382l-2 -2l1 -3l3 -1l2 3l-1 3zM1386 407l2 -3l4 0l1 3l-2 3l-3 -1zM1242 291l-1 -2l-1 -2l2 0l2 0l0 2zM1448 414l-4 1l-1 -3l1 -3l3 0l3 2zM1262 306l0 5l-5 -1l-4 -2l2 -5l4 1zM1192 350l3 2l-1 3l-2 3l-3 -4l-1 -4zM1191 328l-2 1l-1 -2l2 -1l1 -1l2 2zM1308 438l-3 -2l-1 -2l1 -2l4 -1l1 4zM1337 413l-2 3l-2 2l-3 -3l2 -3l3 -2zM1334 272l-1 3l-3 1l-3 -2l1 -4l4 -1zM1133 340l4 -2l3 1l1 3l-2 4l-4 -3zM1450 434l-2 3l-3 -2l-2 -2l2 -4l4 1zM1170 392l2 3l-1 3l-3 1l-2 -3l0 -4zM1247 421l1 4l-3 4l-4 -3l0 -4l2 -4zM1211 344l2 2l-1 3l-3 0l-3 -2l2 -2zM1280 447l2 2l0 3l-2 3l-4 -2l0 -4zM1372 265l1 1l-1 2l-2 0l-1 -1l1 -2zM1469 364l-1 -2l1 -2l3 1l1 2l-2 2zM1145 356l-5 1l-1 -5l3 -2l3 0l1 3zM1460 402l1 -1l2 -1l0 3l-1 1l-2 0zM1201 397l2 -3l4 3l-1 4l-4 2l-3 -3zM1205 405l2 2l-2 2l-3 0l0 -3l2 -2zM1229 385l2 1l-1 3l-1 1l-2 -1l1 -2zM1246 394l1 1l1 2l-2 1l-3 -1l1 -3zM1167 260l4 -2l4 2l-2 4l-3 2l-4 -2zM1256 437l-1 3l-2 -2l-2 -2l1 -2l3 1zM1257 134l0 -2l2 -3l2 2l1 3l-2 2z"/><path fill="#70b05c" d="M1245 267l-3 3l-3 -3l2 -4l3 0l2 1zM1327 68l1 2l-2 1l-2 0l-1 -3l2 0zM1401 177l0 -3l2 -2l3 1l2 3l-3 2zM1414 174l2 1l0 2l-1 3l-2 -2l-2 -2zM1341 167l1 -2l4 -2l2 4l-3 4l-3 -2zM1346 199l-3 4l-4 -1l0 -5l2 -2l4 -1zM1305 39l-1 3l-2 2l-2 -2l0 -2l2 -2zM1296 134l-3 1l0 -3l1 -2l3 0l2 2zM1418 141l-3 -1l0 -3l3 -1l1 1l1 3zM1354 121l-4 -1l-2 -4l4 -2l3 0l0 4zM1313 52l3 2l-1 3l-2 2l-3 -2l0 -3zM1372 108l2 -4l4 0l1 4l-2 2l-2 0zM1382 166l1 1l-1 2l-1 0l-2 -1l0 -2zM1161 280l3 3l-3 3l-4 1l-2 -4l3 -3zM1276 173l-2 1l-1 -2l0 -1l2 -1l2 2zM1449 221l-3 -3l1 -4l3 -1l3 2l0 4zM1413 138l-1 3l-3 1l-2 -3l1 -3l2 1zM1208 226l-1 -3l1 -2l4 0l0 2l-1 2zM1158 297l4 -1l3 3l-1 5l-5 0l-2 -3zM1355 120l0 -3l3 -3l3 2l1 4l-4 1zM1295 114l3 -2l3 3l0 3l-4 0l-3 -1zM1213 175l2 -3l2 1l2 3l-2 2l-3 0zM1340 287l-1 -2l2 -1l2 1l0 2l-2 2zM1308 145l-2 3l-4 -1l0 -4l2 -2l4 1zM1310 111l-1 -3l3 -1l3 2l0 3l-3 2zM1285 75l-3 0l-3 -2l1 -2l3 -2l2 2zM1379 115l2 2l-2 2l-2 1l-2 -2l1 -4zM1287 165l-2 3l-3 -3l-1 -2l2 -3l3 2zM1446 231l2 2l0 3l-3 2l-3 -2l1 -4zM1165 352l-4 -1l2 -3l3 -1l2 2l-1 3zM1207 227l0 3l-4 -1l-1 -2l1 -3l3 1zM1313 117l3 -1l1 4l-3 2l-3 -1l0 -3zM1304 167l-1 -3l1 -3l3 0l2 3l-1 3zM1293 60l1 -3l2 -1l3 2l-1 3l-3 1z"/><path fill="#98c884" d="M1314 159l-5 -1l1 -4l1 -3l3 2l1 2zM1166 281l0 4l-4 3l-4 -4l1 -4l4 -2zM1291 83l1 2l-1 2l-2 0l-2 -1l1 -2zM1385 102l4 3l-1 3l-4 2l-2 -3l1 -2zM1397 288l3 -2l2 1l1 3l-2 2l-2 -1zM1322 121l-2 -2l0 -1l1 -2l1 1l1 2zM1305 42l1 -3l3 -3l3 3l-1 4l-3 0zM1371 105l-1 -3l2 -2l5 0l0 5l-3 4zM1391 127l-2 2l-3 2l-2 -3l2 -3l2 1zM1374 104l-1 2l-2 0l-2 -1l1 -3l2 -1zM1268 60l3 0l2 2l-2 1l-1 1l-2 -1z"/><path fill="#e4ebe0" d="M1279 289l0 -4l4 1l0 3l-3 2zM1186 225l1 2l-1 2l-2 -2l0 -2zM1444 437l2 -2l3 1l0 2l-2 2zM1293 437l-1 1l-1 0l1 -2l1 0zM1332 428l-2 -1l0 -1l1 -1l2 1zM1398 435l-2 -1l1 -3l2 0l1 3zM1238 130l-2 -1l0 -3l2 0l3 2zM1445 245l-2 -2l1 -2l2 0l1 2zM1418 200l-3 -1l-1 -3l3 -1l2 2zM1168 365l1 2l-2 2l-2 -1l0 -3zM1232 128l3 1l0 3l-2 2l-3 -3zM1314 382l-2 3l-4 -1l1 -3l2 -1zM1370 408l2 3l-2 3l-3 0l0 -3zM1167 288l1 3l-2 1l-2 1l0 -3zM1305 400l1 3l-1 3l-3 -2l-1 -3zM1161 413l-3 -1l1 -3l2 -1l2 3zM1309 241l1 2l-3 1l-1 -3l2 -1zM1304 350l1 -2l1 0l1 2l-2 1zM1261 81l2 -3l2 2l1 3l-3 0zM1264 451l-1 -3l2 -1l2 1l-1 3zM1165 264l3 2l-1 2l-3 1l-1 -3zM1261 223l1 3l-2 2l-2 -2l0 -2zM1263 242l1 3l-1 2l-3 0l0 -3zM1354 209l0 -3l3 -2l2 2l-2 4zM1451 401l2 -1l0 3l-1 2l-3 -2zM1398 414l2 1l0 2l-2 0l-1 -1z"/><path fill="#bccab4" d="M1428 310l0 -2l2 -2l2 2l-1 3zM1432 172l1 -1l2 0l0 2l-2 1zM1413 151l1 -3l1 -1l2 2l0 3zM1248 94l-1 -2l2 -2l2 1l-1 3zM1459 382l-2 1l-3 -1l2 -2l2 0zM1149 308l-1 3l-3 -1l-1 -3l3 -1zM1417 178l-3 1l-1 -3l3 -2l2 2zM1273 257l-2 -1l2 -3l2 1l1 3zM1166 291l-1 -1l-1 -2l3 -1l1 3zM1315 244l1 -2l2 0l0 2l-2 1zM1261 73l0 -2l2 0l0 1l-1 2zM1259 115l0 3l-2 0l-3 -1l2 -3zM1465 412l1 -2l2 1l0 3l-2 0zM1408 439l0 1l-1 1l-2 -2l2 -1zM1302 339l-2 0l-1 -1l2 -1l1 0zM1295 432l1 1l-1 3l-4 0l1 -3zM1360 120l1 -2l2 0l1 2l-2 2zM1269 453l1 -2l3 0l1 4l-3 0zM1308 341l1 2l-1 1l-1 1l-1 -2zM1414 405l3 -1l1 4l-3 0l-3 0zM1413 142l-2 2l-1 -3l2 -1l1 0zM1281 309l-3 1l0 -2l1 -2l3 1zM1310 77l1 -1l1 1l-1 2l-1 -1z"/><path fill="#d2dcca" d="M1226 128l-2 -2l0 -4l4 1l1 3zM1153 328l-2 0l1 -2l1 0l1 1zM1239 429l-1 2l-1 -1l-1 -2l2 0zM1439 411l2 -2l3 3l-2 2l-3 0zM1374 405l1 2l0 2l-2 -1l-1 -2zM1174 262l0 -1l2 0l1 2l-2 1zM1354 263l0 2l-2 0l-1 -1l1 -1zM1457 324l-2 2l-2 -3l2 -3l2 1zM1301 76l-1 -2l1 -1l2 1l-1 1zM1224 416l2 2l-3 1l-2 -1l1 -2zM1214 184l0 -2l2 0l1 1l-1 2zM1453 240l-3 -1l-1 -2l2 -1l2 1zM1307 376l0 3l-1 2l-3 -1l1 -3zM1297 256l2 -1l1 2l-2 1l-2 0zM1251 115l-2 1l-1 -2l1 -1l2 0zM1462 279l0 3l-2 2l-3 -1l2 -4zM1380 247l1 -1l1 -1l1 1l-1 1zM1141 351l3 1l-1 2l-2 1l0 -2zM1443 330l2 0l1 2l-1 1l-2 -1zM1447 345l-2 -1l2 -2l2 1l-1 2zM1398 422l2 0l0 1l-1 1l-1 -1zM1424 221l-2 0l-1 -2l2 -1l2 1zM1468 396l1 4l-4 2l-2 -4l1 -3zM1451 408l2 2l-2 1l-1 0l0 -2zM1301 419l-2 3l-4 0l0 -4l3 0z"/><path fill="#f0f3ee" d="M1224 435l1 -2l2 -1l1 3l-2 2zM1192 168l2 3l-4 2l-2 -3l1 -3zM1297 338l1 -2l2 1l1 2l-3 0zM1430 435l0 -2l1 -2l2 1l-1 2zM1293 181l1 1l0 2l-3 -1l0 -2zM1466 365l-3 -2l-1 -2l2 -1l2 1zM1246 100l1 0l0 1l-1 2l-1 -2zM1403 423l1 1l-1 1l-1 1l-1 -2zM1469 340l1 -2l2 0l1 2l-1 2zM1221 148l2 -4l4 1l-1 3l-2 2zM1318 253l-1 2l-2 0l0 -2l1 -1zM1284 70l-2 0l-1 -3l3 -1l2 2zM1159 316l-2 1l0 -3l2 -1l1 2zM1310 265l-1 3l-2 0l-2 -2l2 -3zM1373 358l1 -3l3 2l1 4l-4 1zM1462 356l-2 2l-3 -1l1 -3l3 -1zM1314 394l-2 1l-1 -2l1 -2l2 1zM1458 430l-3 -1l1 -2l2 -1l1 2zM1253 449l-2 -2l2 -2l1 1l1 2zM1191 208l-3 -3l2 -3l3 2l1 3z"/><path fill="#d8e2d0" d="M1200 368l-3 1l-3 -3l0 -6l6 2l3 3zM1207 366l-2 6l-5 1l-4 -2l0 -6l5 -3zM1151 386l3 2l0 3l-2 1l-4 -1l1 -3zM1154 388l-3 3l-5 1l-1 -5l3 -2l4 0zM1250 335l0 -3l3 0l3 0l-1 4l-3 2zM1301 384l-2 3l-3 2l-4 -1l2 -4l3 -2zM1296 382l-2 3l-2 1l-3 -2l3 -2l2 -1zM1431 402l3 -3l3 3l-1 3l-3 1l-2 -1zM1434 399l0 7l-7 0l-2 -5l2 -4l4 -3zM1401 332l3 1l1 1l-1 2l-2 1l-2 -2zM1403 329l2 0l2 3l-2 2l-4 0l-2 -3zM1326 437l-3 -1l-1 -3l2 -1l3 0l0 2zM1313 144l-2 -2l0 -3l3 0l1 2l1 2zM1315 141l-1 3l-3 -1l-1 -2l1 -2l3 0zM1217 244l1 0l0 1l0 2l-2 -1l0 -1zM1220 248l-1 -2l-1 -2l2 -1l2 1l0 2zM1276 274l0 2l-1 2l-3 0l0 -3l2 -1zM1277 275l-3 1l-1 -3l1 -1l1 -2l2 2zM1214 365l-3 0l-1 -3l2 -3l3 0l0 3zM1205 364l-2 -3l3 -3l5 0l0 5l-3 3zM1209 363l0 -4l3 -2l3 0l0 4l-2 1zM1211 368l-4 -3l-2 -5l5 -2l5 0l-1 5zM1239 331l4 -3l3 1l1 3l-2 2l-4 1zM1248 338l-1 -4l2 -3l4 2l0 3l-2 2zM1396 336l-2 3l-2 0l-2 -2l0 -3l3 0zM1395 332l3 3l2 3l-4 1l-4 1l1 -5zM1454 290l3 1l1 2l-1 2l-3 0l-2 -2zM1457 293l0 1l-1 2l-2 -1l-1 -2l2 -1zM1331 427l-1 1l-3 1l0 -2l1 -2l2 0zM1178 190l2 -2l2 0l2 1l-1 3l-3 -1zM1299 365l-1 -4l3 -1l3 1l1 2l-2 2zM1308 405l-4 -2l-1 -3l1 -4l4 1l1 3zM1302 400l2 0l2 2l-2 2l-2 0l-1 -2zM1310 397l-2 2l-2 1l-2 -2l2 -3l2 0zM1310 399l-4 2l-3 -2l-1 -4l4 -3l4 2zM1232 436l1 2l-1 2l-2 0l-1 -1l0 -3zM1390 446l-2 1l-4 -1l1 -5l4 -1l3 3zM1394 446l-2 2l-4 0l1 -3l1 -1l3 -1zM1443 413l-3 1l-2 -2l1 -3l3 0l2 2zM1443 413l-2 -1l-2 -1l2 -2l2 0l1 2zM1369 380l0 3l-2 1l-4 -2l2 -3l2 -1z"/><path fill="#eef2ea" d="M1210 370l-4 3l-4 0l-4 -3l3 -4l6 -1zM1155 390l0 5l-5 0l-3 -3l2 -5l4 -1zM1252 335l-1 -3l2 -2l3 0l1 3l-1 3zM1294 386l-3 0l-2 -2l2 -3l2 2l2 1zM1296 386l-2 0l-3 -2l2 -2l2 -1l2 2zM1437 398l4 1l0 4l-4 2l-3 -2l-1 -4zM1405 336l-4 0l1 -3l2 -1l3 0l0 3zM1406 335l-1 -3l1 -2l2 0l2 2l-1 2zM1269 418l2 2l-3 2l-3 2l-1 -4l1 -3zM1265 420l2 -1l2 1l1 2l-2 3l-3 -2zM1261 423l2 -3l3 0l1 3l-2 2l-2 -1zM1323 432l3 2l-2 3l-3 -2l-2 -1l2 -2zM1323 437l-4 1l-1 -4l2 -2l3 -1l3 3zM1315 141l0 2l-2 0l-2 -2l2 -1l1 -1zM1343 203l-5 1l-1 -5l3 -4l4 1l1 4zM1342 198l4 -2l3 1l2 3l-3 5l-4 -3zM1273 275l1 -2l2 -1l2 2l-1 3l-3 0zM1283 270l-2 4l-3 1l-2 -2l1 -2l2 -3zM1250 334l-1 2l-3 -1l0 -2l1 -2l2 0zM1287 293l2 1l0 2l-2 1l-1 -1l-2 -3zM1284 298l-2 -1l-2 -3l4 -1l2 1l2 3zM1458 294l-2 1l-2 -1l0 -2l2 -2l2 2zM1169 394l-3 2l-3 -1l0 -4l3 0l2 0zM1171 391l2 0l1 2l-1 3l-3 -1l-2 -3zM1330 430l-2 -1l-3 -3l4 -2l3 0l1 4zM1330 425l-1 3l-3 1l-2 -2l1 -2l3 -2zM1331 431l-2 -3l0 -3l3 0l2 2l1 3zM1410 394l-4 0l-2 -1l1 -3l2 -1l2 2zM1404 392l-1 2l-2 -1l0 -1l1 -2l1 1zM1176 191l0 -2l2 0l2 1l-1 2l-2 2zM1179 192l0 -3l2 0l2 1l-1 2l-1 1zM1178 190l1 -1l1 1l1 1l-1 1l-2 -1zM1301 358l2 1l1 2l-1 2l-3 0l0 -3zM1299 355l2 0l2 3l-2 3l-4 0l-1 -4zM1150 332l0 -2l2 0l2 2l-2 2l-2 0zM1148 327l1 1l2 1l-2 1l-2 0l-1 -2zM1230 438l3 0l2 2l-2 3l-3 1l-3 -3zM1233 441l-1 2l-2 1l-3 -1l0 -3l3 -1zM1369 379l1 3l-2 1l-3 -1l0 -2l2 -2zM1372 382l-2 0l-2 -2l2 -3l2 2l1 2z"/><path fill="#e4ebe0" d="M1204 364l1 6l-1 5l-5 -1l-3 -4l1 -6zM1154 396l-4 -2l-2 -4l4 -4l4 2l0 4zM1254 331l2 1l0 2l-1 1l-3 0l0 -3zM1252 330l2 1l1 4l-4 0l-2 -2l-1 -4zM1434 400l0 4l-3 1l-3 1l0 -4l2 -2zM1271 422l-1 3l-2 1l-2 -2l-1 -3l3 0zM1322 434l1 -4l3 0l3 1l-1 3l-3 2zM1320 143l-1 2l-2 1l-2 -2l-1 -3l3 0zM1350 199l-2 3l-2 1l-3 -2l2 -3l3 -1zM1344 200l-2 3l-4 -2l1 -3l2 -1l2 0zM1217 245l0 -2l2 -1l1 1l0 2l-1 1zM1217 243l2 2l-1 2l-2 0l-1 -1l0 -2zM1245 338l-1 -4l0 -3l4 -1l3 3l-2 4zM1285 298l-3 -1l1 -3l2 -1l2 1l1 3zM1289 295l-2 1l-3 -1l0 -3l3 -1l1 2zM1396 338l1 2l-3 1l-2 -1l1 -3l2 -2zM1386 338l4 -3l4 3l0 4l-4 2l-2 -3zM1455 295l-2 0l0 -2l1 -2l2 1l1 2zM1174 395l-3 1l-4 -1l1 -4l4 -2l2 3zM1165 388l3 0l3 2l-2 4l-3 -1l-3 -2zM1400 395l0 -2l0 -3l3 1l0 2l-1 2zM1401 392l-2 -2l1 -2l3 1l1 2l-2 1zM1299 361l-1 -3l4 -1l4 0l0 5l-4 2zM1147 332l1 -2l3 -1l1 3l-1 2l-2 -1zM1149 328l2 0l0 2l-2 3l-2 -3l-1 -2zM1229 440l3 -1l3 1l2 3l-4 2l-3 -1zM1388 444l2 -3l3 2l2 2l-3 3l-3 -1zM1390 441l3 1l1 2l-1 1l-3 2l-1 -3zM1441 412l-2 -2l0 -2l2 -1l2 1l0 2zM1442 410l0 3l-2 0l-2 -1l0 -2l2 -2zM1371 383l-2 0l-3 -1l2 -2l2 -1l2 1z"/><path fill="#2e6c2c" d="M1212 369l2 1l-1 2l-2 0l-1 -2zM1155 394l-1 -2l2 0l1 0l0 2zM1295 388l2 -2l1 2l1 2l-3 0zM1434 396l3 0l0 1l0 2l-2 -1zM1270 421l0 3l-3 0l-1 -2l1 -2zM1272 425l-2 -1l2 -2l1 1l0 2zM1318 146l0 3l-2 -1l-1 -3l2 0zM1341 203l-1 0l-2 -1l1 -2l2 1zM1340 197l3 0l1 2l-1 2l-2 -2zM1212 241l3 -1l1 3l-2 1l-3 0zM1281 278l0 2l-3 1l-1 -2l2 -2zM1203 369l-3 -1l-1 -2l2 -2l3 2zM1211 358l2 2l-1 2l-2 -1l0 -2zM1249 329l-2 3l-3 -1l-1 -2l3 -1zM1331 425l3 2l-1 3l-2 -1l-2 -2zM1327 430l-1 -3l3 1l1 2l-2 1zM1401 391l-1 -1l0 -3l3 1l1 3zM1309 403l0 2l-2 0l-1 -1l1 -2zM1445 410l-3 0l0 -3l1 -2l3 2z"/><path fill="#44903e" d="M1216 370l0 2l-1 1l-2 -1l1 -2zM1152 390l1 -2l2 1l0 2l-2 0zM1302 383l-1 1l-2 -1l0 -2l2 0zM1423 406l1 -2l2 0l0 2l-2 1zM1401 332l-2 -1l-1 -2l2 0l2 1zM1316 433l-1 2l-2 -1l1 -2l2 -1zM1331 437l0 -3l2 -1l1 2l0 2zM1220 248l-3 -1l1 -2l1 0l2 1zM1218 246l1 -2l3 0l-1 3l-1 0zM1249 334l2 2l-3 0l-2 -1l1 -3zM1285 291l1 1l0 2l-2 0l0 -2zM1460 297l-1 -1l1 -2l2 1l0 1zM1166 394l0 -2l3 0l0 2l-2 1zM1178 189l2 -2l3 1l-2 3l-1 0zM1177 188l1 2l-4 0l-1 -2l2 -2zM1150 332l-2 0l-1 -1l1 -3l2 2zM1373 382l-2 -1l-1 -1l2 -2l1 2zM1364 383l-1 -2l2 -1l2 0l0 3z"/><path fill="#387c34" d="M1195 361l2 -1l1 0l0 2l-1 1zM1152 390l-2 1l-1 -2l2 -2l2 1zM1249 330l-2 2l-1 0l-1 -2l1 -1zM1288 389l2 0l1 1l-1 3l-2 -1zM1407 338l-3 0l-1 -2l1 -3l3 2zM1267 423l-1 2l-2 0l-1 -1l1 -1zM1330 434l-2 0l0 -2l1 -1l2 1zM1401 337l-2 -1l0 -1l1 -1l2 1zM1400 340l-3 2l-2 -1l0 -3l3 -1zM1169 393l-1 3l-2 -3l1 -1l2 -1zM1306 405l-1 2l-2 0l-2 -1l2 -2zM1155 331l-1 3l-3 0l0 -3l2 -1zM1385 444l-2 2l-3 -3l3 -3l2 2z"/><path fill="#1c461c" d="M1252 335l2 0l2 0l-1 2l-2 1zM1257 329l2 1l0 2l-2 0l-2 -1zM1315 143l-2 -2l1 -2l2 -1l2 3zM1350 204l2 1l0 2l-2 0l-2 -1zM1275 272l1 -2l2 1l1 2l-2 1zM1285 295l-3 0l0 -3l2 -1l2 2zM1394 340l-2 -1l1 -2l2 -2l0 3zM1455 292l2 1l-1 3l-2 0l-1 -3zM1459 297l-2 -1l0 -2l2 0l1 1zM1406 387l1 2l-2 2l-2 -1l1 -3zM1299 365l-1 1l-3 0l1 -3l2 0zM1295 360l2 -1l1 2l-1 1l-3 0zM1297 357l-2 -1l0 -1l1 -2l2 2zM1147 334l-1 2l-2 0l0 -3l2 0zM1397 445l2 1l-1 2l-2 0l0 -2zM1439 407l-1 -2l2 0l1 1l-1 2z"/><path fill="#255a24" d="M1431 401l2 3l-1 2l-2 -1l-1 -2zM1410 337l-2 1l-2 -2l2 -2l2 0zM1319 144l-2 -2l0 -3l3 2l0 1zM1283 277l-1 2l-2 -2l1 -2l2 1zM1214 357l1 -2l1 1l0 2l-2 1zM1252 331l2 0l1 1l-1 2l-2 -2zM1284 293l3 -2l2 1l0 3l-3 0zM1169 388l2 0l1 3l-3 1l-2 -2zM1336 421l-2 2l-2 0l0 -2l2 -1zM1406 390l0 2l-1 0l-2 -1l1 -1zM1177 193l1 -2l2 -1l1 2l-2 1zM1301 401l1 2l-1 2l-2 -2l-1 -2zM1231 444l-1 2l-2 0l-1 -2l2 -2zM1230 440l3 2l0 2l-2 1l-3 -2zM1237 440l-3 1l-1 -3l2 -2l3 1zM1391 446l1 2l-1 3l-3 -2l1 -2zM1443 412l0 -2l2 -1l1 2l-2 1zM1369 381l-2 2l-1 -2l0 -2l3 0z"/><path fill="#ffffff" d="M1287 44l-3 2l-3 -3l2 -4l3 0l2 2zM1292 43l-3 0l-2 -2l1 -3l3 -1l3 3zM1306 36l2 1l0 2l-2 1l-2 0l-1 -3zM1314 45l0 -2l3 -2l2 2l0 3l-3 0zM1341 65l-1 -2l2 -2l3 0l0 4l-2 0zM1351 84l-1 2l-2 -1l0 -2l2 -1l1 0zM1402 122l0 2l-1 1l-2 -1l1 -2l1 -1zM1405 126l-2 -1l1 -2l3 -2l1 3l0 2zM1426 149l-3 -1l0 -2l2 -2l2 0l1 3zM1430 148l2 4l-3 3l-4 -1l-2 -4l4 -1zM1439 200l1 -2l3 0l1 2l-1 3l-3 0zM1449 228l-3 2l-2 -2l1 -3l3 -2l1 3zM1460 264l-3 0l-1 -4l3 -2l2 1l2 3zM1460 263l3 0l1 3l-2 1l-2 0l-1 -2zM1477 346l3 2l-1 3l-3 1l-3 -1l2 -3zM1478 356l-2 1l-1 -2l2 -1l2 -1l0 2zM1479 371l0 4l-5 0l-1 -3l2 -3l2 0zM1470 376l1 -2l3 -1l2 3l-1 3l-3 -1zM1473 394l-2 1l-3 -2l3 -2l2 -2l1 3zM1470 406l-1 3l-2 2l-3 -1l0 -3l3 -1zM1467 412l2 2l-2 2l-2 1l-1 -3l0 -3zM1442 438l3 1l1 3l-2 2l-3 -1l-1 -2zM1411 445l2 1l-1 3l-1 1l-2 -1l1 -2zM1350 425l3 0l1 3l-2 3l-3 -1l-2 -3zM1333 428l1 -1l2 2l-1 2l-2 0l-1 -1zM1288 450l0 -4l4 -2l3 3l-1 3l-3 2zM1284 447l3 0l2 2l0 3l-4 1l-2 -3zM1237 447l-2 -1l2 -2l2 1l0 2l-1 1zM1205 426l0 2l-3 0l-2 0l1 -3l2 0zM1193 426l2 2l1 3l-4 1l-2 -1l0 -3zM1186 431l1 -1l3 0l1 3l-2 2l-2 -2zM1183 430l1 3l-4 1l-3 -1l1 -4l3 0zM1155 410l0 -3l4 0l2 3l-2 2l-3 0zM1137 340l2 -2l1 1l1 2l-2 1l-1 -1zM1143 339l-3 -1l0 -3l2 -2l2 1l2 3zM1139 330l3 -3l3 1l1 3l-3 2l-3 0zM1168 229l1 2l-2 3l-3 -2l0 -2l1 -2zM1169 227l-2 1l-2 -1l0 -3l2 -1l2 1zM1173 186l2 1l3 2l-2 2l-3 1l-1 -3zM1173 184l1 -3l3 1l1 2l-2 1l-2 1zM1190 162l3 0l2 2l-2 4l-4 -1l0 -4zM1204 148l1 -1l2 -1l1 2l-1 1l-2 0zM1212 140l1 -2l3 -1l2 3l-2 2l-3 1zM1221 129l3 0l0 3l-3 1l-2 -1l1 -2zM1224 128l0 -2l2 0l1 0l0 2l-1 1zM1230 123l-2 1l-1 -2l1 -2l2 0l1 2zM1234 115l0 -4l1 -3l3 1l1 3l-2 1zM1248 95l-2 3l-1 2l-2 -2l-1 -3l3 -1zM1247 93l-1 -1l-2 -1l2 -2l2 1l0 1z"/><path fill="#2e6c2c" d="M1294 35l1 0l1 0l0 2l-2 0l-1 0zM1412 123l-2 -2l2 -1l2 0l1 2l-2 2zM1426 128l0 3l-3 1l-4 -1l1 -5l4 0zM1439 169l1 -3l3 0l1 2l0 2l-3 0zM1142 313l-3 -2l1 -3l2 -3l3 3l1 4zM1154 242l2 0l1 1l0 2l-2 0l-1 -1zM1196 151l1 1l0 2l-1 2l-2 -1l-1 -3zM1240 98l-2 2l-3 1l-3 -3l3 -3l3 0z"/><path fill="#44903e" d="M1300 32l2 0l0 2l-2 2l-2 -2l0 -2zM1350 75l-3 2l-4 1l-1 -4l2 -2l3 0zM1440 165l-2 2l-3 -1l-1 -3l3 -2l3 1zM1446 199l-3 -3l0 -3l4 -3l4 2l-1 5zM1465 252l2 1l0 1l0 2l-2 0l0 -2zM1467 272l3 0l3 2l-3 3l-3 0l-3 -3zM1485 331l0 4l-1 3l-4 -1l0 -3l1 -3zM1157 251l-3 1l-2 -2l1 -3l2 0l3 1zM1254 60l3 1l1 2l-1 3l-4 -1l0 -3z"/><path fill="#1c461c" d="M1325 38l-2 3l-4 -2l0 -4l3 -1l4 0zM1360 87l2 -1l2 -1l1 2l-1 2l-2 0zM1369 90l0 1l-1 2l-3 -1l1 -2l1 -2zM1383 106l2 -3l3 -1l1 3l1 4l-4 -1zM1443 181l3 3l-1 3l-3 0l-1 -1l0 -3zM1449 212l-3 -1l-1 -3l2 -4l4 2l0 4zM1449 222l0 -2l-1 -3l3 0l2 2l-1 2zM1473 282l0 3l-2 2l-2 -1l-2 -2l3 -2zM1474 287l2 3l-1 3l-4 0l-2 -4l2 -3zM1476 296l-2 2l-2 -2l-1 -4l4 -1l3 1zM1323 433l2 1l0 2l-1 1l-1 -1l0 -1zM1269 460l3 -2l3 0l2 3l-2 3l-4 0zM1246 458l-2 1l-1 -2l1 -2l1 1l2 0zM1147 406l-2 1l-2 0l0 -2l2 -1l2 0zM1146 401l-3 2l-2 0l-1 -3l2 -1l3 -1zM1137 387l-2 0l-1 -1l0 -2l2 1l1 0zM1135 382l-2 0l0 -2l1 -1l1 1l1 1zM1133 346l-1 -2l2 -1l2 0l0 2l-1 1zM1135 322l3 0l0 2l-1 3l-3 0l-1 -3zM1140 300l0 -1l1 -1l2 0l0 1l-1 2zM1168 189l3 1l1 4l-3 2l-2 -2l-2 -2zM1186 162l1 3l-1 3l-2 -2l-1 -1l0 -2z"/><path fill="#387c34" d="M1326 64l2 0l2 1l0 2l-2 1l-2 -2zM1359 81l0 2l-2 1l-2 -1l1 -2l2 -1zM1392 115l0 -3l2 -1l1 1l1 2l-2 2zM1419 123l0 2l-1 3l-2 -1l-1 -2l2 -1zM1430 136l-4 1l-3 -1l1 -4l3 -2l2 3zM1445 173l2 2l-2 1l-2 0l-1 -2l1 -2zM1449 191l-3 2l-3 -1l-2 -3l3 -2l3 0zM1133 346l4 2l-1 3l-2 1l-2 -1l-1 -3zM1145 276l2 1l1 2l-2 1l-2 0l-1 -1zM1148 264l1 -3l3 1l1 2l-2 3l-2 -2zM1165 201l3 0l1 3l-3 3l-3 -1l-2 -4zM1188 155l1 -3l3 1l1 3l-2 2l-3 0zM1212 132l2 -2l2 1l1 2l-2 1l-2 0z"/><path fill="#255a24" d="M1329 76l-1 3l-4 -1l-2 -3l2 -4l5 1zM1379 100l4 1l0 3l-2 3l-3 -1l-1 -3zM1397 114l1 -1l3 1l-1 2l-1 2l-2 -1zM1457 236l-2 0l-2 -3l3 -1l2 1l2 2zM1458 243l2 0l1 1l0 2l-2 0l-2 -1zM1476 307l3 1l0 4l-4 1l-2 -2l1 -3zM1420 455l-4 -2l1 -4l4 -2l3 4l-1 4zM1343 428l3 -2l2 3l0 2l-3 2l-3 -2zM1328 436l0 -2l2 -1l1 2l0 1l-2 1zM1268 464l-3 -1l0 -3l3 -2l4 1l-1 4zM1168 427l1 3l0 3l-4 1l-1 -3l0 -4zM1166 427l-3 2l-2 -1l-1 -4l3 0l3 0zM1159 417l-1 3l-2 1l-2 -2l0 -2l2 -1zM1129 353l2 0l2 0l-1 2l-1 2l-2 -1zM1164 211l2 2l2 2l-2 2l-3 0l-1 -3zM1177 173l-2 0l-1 -1l1 -1l2 -1l1 1zM1233 114l-2 3l-3 1l-1 -3l0 -4l4 0zM1262 58l-1 1l-2 0l-1 -1l1 -2l2 0zM1262 50l3 0l1 3l-2 1l-2 0l-2 -2z"/><path fill="#143416" d="M1470 406l-1 -3l2 -1l3 0l1 3l-2 2zM1387 445l1 -2l2 0l1 1l0 3l-3 0zM1383 441l2 -1l3 1l-1 2l-3 1l-2 -1zM1322 441l-2 2l-2 -1l0 -3l2 -2l3 2zM1311 442l0 3l-2 1l-2 -1l-2 -3l3 -2zM1305 448l-2 1l-3 -2l2 -2l2 -1l2 2zM1281 458l1 -2l2 0l1 1l0 2l-2 0zM1183 437l-2 -2l-1 -2l3 -2l2 2l2 3zM1159 419l1 -2l3 1l2 3l-3 2l-3 0zM1133 389l4 -2l4 1l2 3l-3 3l-3 -2zM1137 370l-2 2l-1 0l-1 -2l1 -1l1 0z"/><path fill="#0c240e" d="M1464 423l3 1l0 4l-4 0l-3 -1l2 -3zM1439 453l-4 1l-2 -2l-1 -3l3 -1l4 1zM1424 448l3 1l3 3l-4 2l-3 0l-2 -3zM1414 451l3 1l2 3l-2 3l-4 -1l0 -3zM1399 451l-2 -1l0 -3l2 -1l2 2l1 2zM1356 436l-1 1l-2 0l-1 -1l0 -1l2 0zM1232 449l-2 0l-2 -1l1 -2l2 0l1 1zM1223 438l1 2l-2 2l-2 0l-1 -2l1 -3z"/></g>
<text transform="translate(375.0 104.0) scale(0.74 1)" font-size="17.0" fill="#000" textLength="141.4" lengthAdjust="spacing">Фановый стояк</text>
<path d="M 374.0 107.2 L 480.0 107.2" stroke="#1a1a1a" stroke-width="1.3"/>
<path d="M 374.0 107.2 L 328.0 133.5" stroke="#111" stroke-width="1.2" marker-end="url(#arr)"/>
<text transform="translate(209.8 461.5) scale(0.74 1)" font-size="17.0" fill="#000" textLength="94.2" lengthAdjust="spacing">220V 50Гц</text>
<path d="M 209.0 463.6 L 277.5 463.6" stroke="#1a1a1a" stroke-width="1.3"/>
<path d="M 277.5 463.6 L 344.0 500.6" stroke="#111" stroke-width="1.2" marker-end="url(#arr)"/>
<text transform="translate(108.0 534.4) scale(0.74 1)" font-size="17.0" fill="#000" textLength="126.4" lengthAdjust="spacing">Канализация</text>
<path d="M 108.0 536.0 L 201.0 536.0" stroke="#1a1a1a" stroke-width="1.3"/>
<path d="M 200.5 536.0 L 311.4 610.4" stroke="#111" stroke-width="1.2" marker-end="url(#arr)"/>
<text transform="translate(525.0 433.5) scale(0.74 1)" font-size="17.0" fill="#000" textLength="306.1" lengthAdjust="spacing">Дополнительный фановый стояк</text>
<path d="M 525.0 436.3 L 751.5 436.3" stroke="#1a1a1a" stroke-width="1.3"/>
<path d="M 525.0 436.3 L 478.0 462.5" stroke="#111" stroke-width="1.2" marker-end="url(#arr)"/>
<text transform="translate(533.0 516.4) scale(0.74 1)" font-size="17.0" fill="#000" textLength="94.6" lengthAdjust="spacing">220V 50Гц</text>
<path d="M 533.0 518.8 L 603.0 518.8" stroke="#1a1a1a" stroke-width="1.3"/>
<path d="M 533.0 518.8 L 501.0 653.4" stroke="#111" stroke-width="1.2" marker-end="url(#arr)"/>
<text transform="translate(651.0 513.8) scale(0.74 1)" font-size="17.0" fill="#000" textLength="133.8" lengthAdjust="spacing">Песко-цемент</text>
<path d="M 646.0 518.8 L 758.0 518.8" stroke="#1a1a1a" stroke-width="1.3"/>
<text transform="translate(644.7 532.3) scale(0.74 1)" font-size="17.0" fill="#000" textLength="150.8" lengthAdjust="spacing">(пропорция 1/6 )</text>
<path d="M 758.0 518.8 L 783.4 583.3" stroke="#111" stroke-width="1.2" marker-end="url(#arr)"/>
<text transform="translate(560.3 553.0) scale(0.74 1)" font-size="17.0" fill="#000" textLength="176.6" lengthAdjust="spacing">Обратная засыпка</text>
<path d="M 560.0 556.3 L 691.0 556.3" stroke="#1a1a1a" stroke-width="1.3"/>
<path d="M 691.0 556.3 L 716.5 583.3" stroke="#111" stroke-width="1.2" marker-end="url(#arr)"/>
<text transform="translate(900.8 515.0) scale(0.74 1)" font-size="17.0" fill="#000" textLength="199.9" lengthAdjust="spacing">Придорожная канава</text>
<path d="M 877.8 519.0 L 1076.7 519.0" stroke="#1a1a1a" stroke-width="1.3"/>
<text transform="translate(875.8 534.3) scale(0.74 1)" font-size="17.0" fill="#000" textLength="266.5" lengthAdjust="spacing">(сброс на открытый рельеф)</text>
<path d="M 1076.7 519.0 L 1118.8 607.5" stroke="#111" stroke-width="1.2" marker-end="url(#arr)"/>
<text transform="translate(315.9 855.4) scale(0.74 1)" font-size="17.0" fill="#000" textLength="294.1" lengthAdjust="spacing">Труба РР 110 канализационная</text>
<path d="M 315.9 859.5 L 538.4 859.5" stroke="#1a1a1a" stroke-width="1.3"/>
<path d="M 538.4 859.5 L 575.0 670.8" stroke="#111" stroke-width="1.2" marker-end="url(#arr)"/>
<text transform="translate(990.3 856.7) scale(0.74 1)" font-size="17.0" fill="#000" textLength="296.9" lengthAdjust="spacing">Синтетический канат (стропа)</text>
<path d="M 988.8 859.2 L 1210.0 859.2" stroke="#1a1a1a" stroke-width="1.3"/>
<path d="M 988.8 859.2 L 925.6 767.7" stroke="#111" stroke-width="1.2" marker-end="url(#arr)"/>
<text transform="translate(990.3 879.7) scale(0.74 1)" font-size="17.0" fill="#000" textLength="173.9" lengthAdjust="spacing">Анкерный элемент</text>
<path d="M 988.8 882.0 L 1119.0 882.0" stroke="#1a1a1a" stroke-width="1.3"/>
<path d="M 988.8 882.0 L 935.0 803.0" stroke="#111" stroke-width="1.2" marker-end="url(#arr)"/>
<text transform="translate(990.3 902.0) scale(0.74 1)" font-size="17.0" fill="#000" textLength="428.9" lengthAdjust="spacing">Бетонная плита с двуслойным армированием</text>
<path d="M 988.8 904.4 L 1307.7 904.4" stroke="#1a1a1a" stroke-width="1.3"/>
<path d="M 988.8 904.4 L 898.3 804.5" stroke="#111" stroke-width="1.2" marker-end="url(#arr)"/>
<text transform="translate(990.3 924.0) scale(0.74 1)" font-size="17.0" fill="#000" textLength="173.2" lengthAdjust="spacing">Песчаная подушка</text>
<path d="M 988.8 926.8 L 1118.5 926.8" stroke="#1a1a1a" stroke-width="1.3"/>
<path d="M 988.8 926.8 L 881.5 816.8" stroke="#111" stroke-width="1.2" marker-end="url(#arr)"/>
</svg></body></html>
